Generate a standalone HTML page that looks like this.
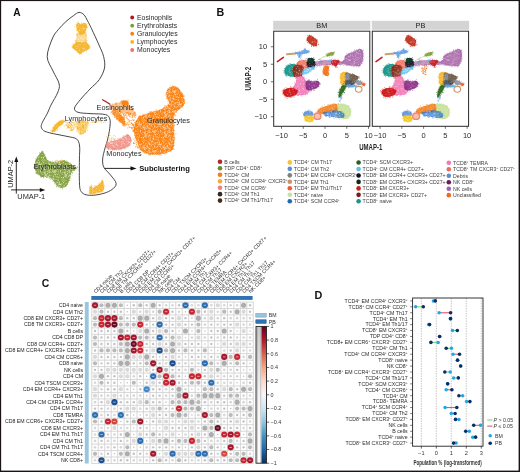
<!DOCTYPE html>
<html><head><meta charset="utf-8"><style>
html,body{margin:0;padding:0;background:#fff;}
#wrap{position:relative;width:520px;height:472px;overflow:hidden;background:#fff;}
svg{position:absolute;left:0;top:0;will-change:transform;}
svg text{font-family:"Liberation Sans", sans-serif;}
</style></head><body><div id="wrap">
<svg width="520" height="472" viewBox="0 0 520 472">
<rect x="0" y="0" width="520" height="472" fill="#fff"/>
<defs><pattern id="sp0" width="20" height="20" patternUnits="userSpaceOnUse"><g fill="#fff"><circle cx="9.05" cy="11.20" r="0.40"/><circle cx="9.31" cy="10.16" r="0.34"/><circle cx="3.69" cy="10.24" r="0.34"/><circle cx="15.86" cy="1.88" r="0.28"/><circle cx="1.81" cy="16.19" r="0.36"/><circle cx="0.84" cy="19.64" r="0.41"/><circle cx="13.08" cy="12.31" r="0.25"/><circle cx="0.30" cy="10.57" r="0.24"/><circle cx="3.80" cy="4.84" r="0.23"/><circle cx="9.28" cy="8.81" r="0.39"/><circle cx="10.38" cy="12.81" r="0.32"/><circle cx="13.25" cy="9.15" r="0.28"/><circle cx="19.95" cy="19.91" r="0.39"/><circle cx="14.16" cy="6.31" r="0.27"/><circle cx="5.78" cy="1.40" r="0.37"/><circle cx="8.01" cy="16.93" r="0.30"/><circle cx="19.16" cy="16.95" r="0.22"/><circle cx="4.19" cy="18.21" r="0.31"/><circle cx="19.61" cy="7.95" r="0.24"/><circle cx="12.59" cy="15.57" r="0.28"/><circle cx="1.74" cy="6.65" r="0.41"/><circle cx="15.16" cy="2.36" r="0.27"/><circle cx="2.02" cy="1.20" r="0.38"/><circle cx="3.55" cy="11.19" r="0.31"/><circle cx="3.81" cy="14.64" r="0.25"/><circle cx="12.87" cy="2.33" r="0.30"/><circle cx="4.26" cy="5.40" r="0.41"/><circle cx="16.07" cy="6.08" r="0.39"/><circle cx="4.21" cy="7.89" r="0.39"/><circle cx="12.84" cy="2.01" r="0.41"/><circle cx="4.26" cy="5.17" r="0.37"/><circle cx="6.58" cy="5.93" r="0.24"/><circle cx="1.80" cy="11.65" r="0.27"/><circle cx="12.03" cy="7.43" r="0.31"/><circle cx="19.18" cy="9.67" r="0.33"/><circle cx="17.33" cy="3.66" r="0.25"/><circle cx="18.17" cy="16.36" r="0.27"/><circle cx="3.80" cy="14.79" r="0.40"/><circle cx="3.93" cy="19.00" r="0.39"/><circle cx="12.07" cy="8.43" r="0.24"/><circle cx="0.77" cy="19.25" r="0.27"/><circle cx="14.09" cy="5.14" r="0.38"/><circle cx="11.93" cy="5.87" r="0.26"/><circle cx="14.41" cy="1.38" r="0.27"/><circle cx="11.19" cy="17.05" r="0.34"/><circle cx="5.60" cy="18.35" r="0.26"/><circle cx="0.33" cy="5.38" r="0.31"/><circle cx="1.21" cy="3.53" r="0.29"/><circle cx="11.44" cy="2.63" r="0.29"/><circle cx="17.82" cy="19.61" r="0.35"/><circle cx="13.82" cy="11.69" r="0.25"/><circle cx="0.70" cy="0.36" r="0.40"/><circle cx="14.02" cy="19.26" r="0.23"/><circle cx="12.72" cy="9.64" r="0.36"/><circle cx="6.38" cy="19.99" r="0.24"/><circle cx="10.92" cy="14.74" r="0.40"/><circle cx="14.74" cy="14.07" r="0.38"/><circle cx="18.30" cy="7.04" r="0.36"/><circle cx="18.02" cy="17.42" r="0.30"/><circle cx="15.81" cy="17.27" r="0.33"/><circle cx="12.50" cy="7.65" r="0.34"/><circle cx="12.18" cy="1.60" r="0.35"/><circle cx="19.87" cy="17.60" r="0.36"/><circle cx="7.77" cy="14.70" r="0.34"/><circle cx="8.81" cy="16.77" r="0.24"/><circle cx="15.00" cy="0.60" r="0.34"/><circle cx="9.62" cy="4.60" r="0.36"/><circle cx="9.95" cy="12.29" r="0.40"/><circle cx="5.12" cy="0.23" r="0.28"/><circle cx="13.56" cy="4.05" r="0.26"/></g></pattern><pattern id="sp1" width="20" height="20" patternUnits="userSpaceOnUse"><g fill="#fff"><circle cx="18.11" cy="13.20" r="0.35"/><circle cx="17.83" cy="6.54" r="0.40"/><circle cx="3.97" cy="8.62" r="0.43"/><circle cx="18.28" cy="17.61" r="0.34"/><circle cx="11.66" cy="6.33" r="0.28"/><circle cx="9.93" cy="16.74" r="0.44"/><circle cx="14.22" cy="19.00" r="0.31"/><circle cx="3.38" cy="9.01" r="0.31"/><circle cx="4.28" cy="8.28" r="0.39"/><circle cx="9.88" cy="6.31" r="0.43"/><circle cx="19.64" cy="9.05" r="0.27"/><circle cx="0.63" cy="17.46" r="0.26"/><circle cx="14.17" cy="11.41" r="0.32"/><circle cx="15.83" cy="0.38" r="0.28"/><circle cx="9.10" cy="0.49" r="0.43"/><circle cx="4.75" cy="2.82" r="0.26"/><circle cx="12.58" cy="8.93" r="0.39"/><circle cx="13.10" cy="16.15" r="0.46"/><circle cx="13.69" cy="3.99" r="0.35"/><circle cx="3.57" cy="0.22" r="0.35"/><circle cx="14.28" cy="3.58" r="0.31"/><circle cx="6.91" cy="13.95" r="0.36"/><circle cx="12.29" cy="15.12" r="0.34"/><circle cx="15.84" cy="18.12" r="0.27"/><circle cx="18.65" cy="14.45" r="0.28"/><circle cx="9.07" cy="12.51" r="0.45"/><circle cx="7.54" cy="11.38" r="0.44"/><circle cx="15.94" cy="18.89" r="0.35"/><circle cx="13.03" cy="4.10" r="0.41"/><circle cx="16.37" cy="12.83" r="0.41"/><circle cx="4.27" cy="18.00" r="0.46"/><circle cx="19.55" cy="10.74" r="0.42"/><circle cx="6.41" cy="18.20" r="0.44"/><circle cx="6.97" cy="1.66" r="0.35"/><circle cx="11.01" cy="15.36" r="0.36"/><circle cx="0.57" cy="16.18" r="0.27"/><circle cx="16.00" cy="3.46" r="0.32"/><circle cx="15.76" cy="2.81" r="0.28"/><circle cx="10.33" cy="14.47" r="0.43"/><circle cx="13.79" cy="18.91" r="0.36"/><circle cx="18.98" cy="1.72" r="0.30"/><circle cx="10.53" cy="5.80" r="0.41"/><circle cx="12.78" cy="10.46" r="0.43"/><circle cx="11.20" cy="6.23" r="0.33"/><circle cx="16.91" cy="18.01" r="0.30"/><circle cx="17.02" cy="19.37" r="0.37"/><circle cx="11.46" cy="4.02" r="0.37"/><circle cx="10.06" cy="12.10" r="0.26"/><circle cx="19.39" cy="10.32" r="0.34"/><circle cx="16.02" cy="11.26" r="0.36"/><circle cx="13.82" cy="1.32" r="0.37"/><circle cx="8.28" cy="19.14" r="0.45"/><circle cx="5.38" cy="9.46" r="0.28"/><circle cx="8.67" cy="16.31" r="0.45"/><circle cx="9.53" cy="6.34" r="0.29"/><circle cx="12.36" cy="18.51" r="0.28"/><circle cx="15.59" cy="0.46" r="0.29"/><circle cx="4.55" cy="13.74" r="0.32"/><circle cx="7.11" cy="12.40" r="0.27"/><circle cx="14.62" cy="2.46" r="0.36"/><circle cx="5.01" cy="3.95" r="0.37"/><circle cx="8.74" cy="7.51" r="0.34"/><circle cx="10.59" cy="3.19" r="0.30"/><circle cx="12.63" cy="12.77" r="0.37"/><circle cx="17.03" cy="12.23" r="0.44"/><circle cx="4.65" cy="14.82" r="0.43"/><circle cx="18.05" cy="6.32" r="0.32"/><circle cx="18.46" cy="4.36" r="0.47"/><circle cx="17.75" cy="2.68" r="0.30"/><circle cx="14.53" cy="5.19" r="0.27"/><circle cx="16.64" cy="8.43" r="0.42"/><circle cx="2.52" cy="8.06" r="0.40"/><circle cx="0.36" cy="4.02" r="0.40"/><circle cx="18.23" cy="19.37" r="0.28"/><circle cx="10.11" cy="15.16" r="0.36"/><circle cx="13.71" cy="3.78" r="0.27"/><circle cx="2.12" cy="0.75" r="0.37"/><circle cx="10.30" cy="11.37" r="0.28"/><circle cx="3.69" cy="4.08" r="0.43"/><circle cx="19.81" cy="18.54" r="0.27"/><circle cx="1.24" cy="19.03" r="0.35"/><circle cx="15.29" cy="6.54" r="0.35"/><circle cx="10.31" cy="8.60" r="0.38"/><circle cx="0.26" cy="14.02" r="0.43"/><circle cx="3.63" cy="9.08" r="0.41"/><circle cx="8.11" cy="3.90" r="0.29"/><circle cx="10.25" cy="0.31" r="0.44"/><circle cx="16.03" cy="14.09" r="0.44"/><circle cx="12.59" cy="8.09" r="0.38"/><circle cx="10.09" cy="19.65" r="0.43"/><circle cx="5.17" cy="18.23" r="0.41"/><circle cx="15.56" cy="16.29" r="0.34"/><circle cx="17.93" cy="17.60" r="0.40"/><circle cx="15.35" cy="15.30" r="0.34"/><circle cx="14.45" cy="1.41" r="0.33"/><circle cx="9.38" cy="0.21" r="0.33"/><circle cx="12.77" cy="12.48" r="0.30"/><circle cx="18.89" cy="13.32" r="0.32"/><circle cx="13.20" cy="11.39" r="0.37"/><circle cx="7.79" cy="20.00" r="0.39"/></g></pattern><pattern id="sp2" width="20" height="20" patternUnits="userSpaceOnUse"><g fill="#fff"><circle cx="14.03" cy="15.23" r="0.39"/><circle cx="0.46" cy="12.31" r="0.34"/><circle cx="5.13" cy="8.03" r="0.22"/><circle cx="3.91" cy="7.51" r="0.23"/><circle cx="5.02" cy="18.11" r="0.31"/><circle cx="10.16" cy="19.34" r="0.31"/><circle cx="19.90" cy="12.76" r="0.36"/><circle cx="1.52" cy="11.95" r="0.35"/><circle cx="0.90" cy="18.60" r="0.24"/><circle cx="9.44" cy="3.38" r="0.30"/><circle cx="12.22" cy="1.17" r="0.38"/><circle cx="8.41" cy="10.54" r="0.32"/><circle cx="7.31" cy="5.72" r="0.33"/><circle cx="11.21" cy="5.67" r="0.34"/><circle cx="5.92" cy="0.28" r="0.25"/><circle cx="0.86" cy="3.13" r="0.35"/><circle cx="7.80" cy="17.95" r="0.34"/><circle cx="1.00" cy="19.78" r="0.38"/><circle cx="1.47" cy="18.11" r="0.29"/><circle cx="9.55" cy="19.46" r="0.25"/><circle cx="10.47" cy="18.75" r="0.34"/><circle cx="9.37" cy="19.58" r="0.36"/><circle cx="12.07" cy="2.30" r="0.32"/><circle cx="9.11" cy="4.07" r="0.22"/><circle cx="10.56" cy="2.49" r="0.29"/><circle cx="13.36" cy="9.11" r="0.26"/><circle cx="11.64" cy="8.39" r="0.35"/><circle cx="10.62" cy="19.95" r="0.38"/><circle cx="14.69" cy="4.77" r="0.23"/><circle cx="17.85" cy="15.69" r="0.32"/><circle cx="7.18" cy="5.43" r="0.33"/><circle cx="11.30" cy="11.83" r="0.32"/><circle cx="15.07" cy="3.80" r="0.25"/><circle cx="19.59" cy="18.31" r="0.37"/><circle cx="0.79" cy="1.22" r="0.26"/><circle cx="8.50" cy="12.47" r="0.23"/><circle cx="10.83" cy="1.45" r="0.23"/><circle cx="13.53" cy="11.01" r="0.32"/><circle cx="7.46" cy="9.57" r="0.25"/><circle cx="6.87" cy="14.90" r="0.36"/><circle cx="1.49" cy="2.40" r="0.36"/><circle cx="12.47" cy="15.38" r="0.25"/><circle cx="8.49" cy="5.16" r="0.36"/><circle cx="7.38" cy="13.07" r="0.39"/><circle cx="6.51" cy="10.97" r="0.34"/></g></pattern><pattern id="sp3" width="20" height="20" patternUnits="userSpaceOnUse"><g fill="#fff"><circle cx="18.42" cy="8.55" r="0.37"/><circle cx="1.94" cy="17.50" r="0.30"/><circle cx="1.66" cy="11.28" r="0.40"/><circle cx="13.71" cy="5.98" r="0.47"/><circle cx="1.52" cy="4.27" r="0.44"/><circle cx="1.63" cy="6.08" r="0.45"/><circle cx="13.88" cy="5.66" r="0.31"/><circle cx="7.16" cy="14.52" r="0.37"/><circle cx="2.35" cy="14.19" r="0.42"/><circle cx="18.37" cy="18.80" r="0.50"/><circle cx="8.76" cy="16.06" r="0.35"/><circle cx="6.35" cy="7.99" r="0.50"/><circle cx="17.89" cy="4.97" r="0.37"/><circle cx="7.31" cy="7.27" r="0.37"/><circle cx="7.75" cy="3.90" r="0.42"/><circle cx="15.94" cy="10.81" r="0.48"/><circle cx="11.26" cy="3.53" r="0.46"/><circle cx="17.62" cy="5.63" r="0.29"/><circle cx="10.31" cy="10.88" r="0.42"/><circle cx="19.33" cy="13.02" r="0.47"/><circle cx="1.28" cy="10.94" r="0.47"/><circle cx="1.68" cy="1.63" r="0.46"/><circle cx="17.98" cy="1.69" r="0.43"/><circle cx="2.88" cy="14.92" r="0.44"/><circle cx="4.91" cy="4.41" r="0.46"/><circle cx="10.43" cy="15.29" r="0.37"/><circle cx="6.76" cy="19.37" r="0.44"/><circle cx="9.87" cy="10.75" r="0.45"/><circle cx="14.16" cy="18.30" r="0.38"/><circle cx="16.52" cy="13.33" r="0.48"/><circle cx="16.12" cy="16.68" r="0.49"/><circle cx="19.16" cy="12.81" r="0.41"/><circle cx="14.20" cy="16.05" r="0.38"/><circle cx="8.41" cy="2.92" r="0.46"/><circle cx="19.82" cy="7.51" r="0.32"/><circle cx="4.09" cy="8.50" r="0.35"/><circle cx="19.40" cy="1.18" r="0.35"/><circle cx="2.30" cy="12.96" r="0.47"/><circle cx="3.59" cy="1.25" r="0.39"/><circle cx="11.68" cy="18.19" r="0.29"/><circle cx="2.17" cy="3.69" r="0.33"/><circle cx="4.71" cy="14.34" r="0.42"/><circle cx="4.48" cy="3.70" r="0.35"/><circle cx="3.45" cy="15.15" r="0.35"/><circle cx="10.96" cy="16.34" r="0.40"/><circle cx="5.21" cy="17.75" r="0.50"/><circle cx="6.84" cy="10.95" r="0.51"/><circle cx="9.65" cy="4.42" r="0.29"/><circle cx="18.95" cy="16.03" r="0.37"/><circle cx="10.55" cy="10.32" r="0.35"/><circle cx="19.80" cy="13.15" r="0.34"/><circle cx="0.22" cy="9.45" r="0.37"/><circle cx="15.94" cy="14.27" r="0.43"/><circle cx="3.15" cy="3.14" r="0.36"/><circle cx="5.19" cy="17.38" r="0.40"/><circle cx="12.74" cy="19.86" r="0.34"/><circle cx="10.69" cy="3.01" r="0.46"/><circle cx="0.03" cy="16.43" r="0.48"/><circle cx="16.44" cy="1.65" r="0.34"/><circle cx="14.33" cy="1.94" r="0.40"/><circle cx="9.37" cy="19.11" r="0.42"/><circle cx="17.15" cy="6.07" r="0.47"/><circle cx="8.34" cy="18.34" r="0.30"/><circle cx="16.53" cy="4.17" r="0.41"/><circle cx="10.51" cy="3.15" r="0.48"/><circle cx="6.23" cy="6.21" r="0.30"/><circle cx="6.11" cy="9.34" r="0.45"/><circle cx="7.19" cy="13.74" r="0.31"/><circle cx="7.88" cy="9.24" r="0.51"/><circle cx="16.59" cy="13.08" r="0.28"/><circle cx="7.54" cy="14.20" r="0.34"/><circle cx="11.28" cy="9.16" r="0.28"/><circle cx="19.83" cy="15.99" r="0.33"/><circle cx="12.32" cy="5.81" r="0.37"/><circle cx="10.80" cy="5.96" r="0.36"/><circle cx="7.84" cy="13.33" r="0.34"/><circle cx="4.00" cy="14.63" r="0.36"/><circle cx="18.90" cy="11.26" r="0.45"/><circle cx="6.63" cy="16.54" r="0.30"/><circle cx="2.82" cy="1.89" r="0.44"/><circle cx="14.17" cy="3.60" r="0.38"/><circle cx="16.74" cy="11.85" r="0.30"/><circle cx="4.53" cy="3.14" r="0.31"/><circle cx="8.14" cy="1.45" r="0.50"/><circle cx="8.54" cy="10.23" r="0.44"/><circle cx="15.34" cy="16.42" r="0.37"/><circle cx="6.63" cy="8.24" r="0.28"/><circle cx="8.01" cy="14.00" r="0.52"/><circle cx="15.79" cy="13.20" r="0.43"/><circle cx="0.37" cy="6.62" r="0.36"/><circle cx="13.01" cy="2.13" r="0.37"/><circle cx="10.19" cy="15.77" r="0.48"/><circle cx="12.23" cy="3.17" r="0.46"/><circle cx="18.06" cy="10.97" r="0.36"/><circle cx="10.01" cy="2.84" r="0.45"/><circle cx="19.74" cy="10.32" r="0.45"/><circle cx="16.71" cy="3.94" r="0.51"/><circle cx="12.54" cy="3.96" r="0.30"/><circle cx="4.89" cy="11.53" r="0.45"/><circle cx="6.58" cy="18.58" r="0.37"/><circle cx="9.26" cy="2.48" r="0.51"/><circle cx="2.71" cy="18.08" r="0.41"/><circle cx="11.21" cy="11.21" r="0.34"/><circle cx="18.19" cy="19.84" r="0.48"/><circle cx="12.03" cy="2.45" r="0.48"/><circle cx="5.77" cy="17.94" r="0.34"/><circle cx="11.47" cy="16.62" r="0.32"/><circle cx="10.96" cy="1.53" r="0.29"/><circle cx="3.60" cy="19.74" r="0.51"/><circle cx="13.17" cy="6.15" r="0.44"/><circle cx="14.75" cy="7.63" r="0.42"/><circle cx="16.08" cy="0.33" r="0.33"/><circle cx="9.36" cy="2.86" r="0.37"/><circle cx="11.39" cy="3.47" r="0.40"/><circle cx="5.27" cy="11.36" r="0.36"/><circle cx="12.83" cy="0.76" r="0.44"/><circle cx="2.89" cy="19.19" r="0.42"/><circle cx="9.40" cy="8.23" r="0.43"/><circle cx="13.79" cy="15.16" r="0.46"/><circle cx="9.72" cy="19.89" r="0.48"/><circle cx="17.10" cy="8.18" r="0.38"/><circle cx="11.32" cy="18.10" r="0.41"/><circle cx="10.50" cy="8.64" r="0.50"/><circle cx="6.41" cy="1.09" r="0.45"/><circle cx="18.00" cy="14.64" r="0.42"/><circle cx="15.04" cy="6.10" r="0.42"/><circle cx="1.40" cy="2.49" r="0.39"/><circle cx="10.05" cy="7.93" r="0.29"/><circle cx="13.90" cy="10.52" r="0.34"/><circle cx="6.13" cy="7.91" r="0.34"/><circle cx="1.37" cy="18.23" r="0.51"/><circle cx="13.31" cy="17.33" r="0.38"/><circle cx="16.11" cy="4.44" r="0.46"/><circle cx="11.34" cy="18.07" r="0.30"/><circle cx="15.85" cy="2.48" r="0.41"/><circle cx="19.02" cy="0.01" r="0.34"/><circle cx="5.99" cy="6.50" r="0.30"/><circle cx="17.90" cy="16.31" r="0.38"/><circle cx="7.13" cy="11.71" r="0.29"/><circle cx="0.62" cy="17.97" r="0.35"/></g></pattern><pattern id="sp4" width="20" height="20" patternUnits="userSpaceOnUse"><g fill="#fff"><circle cx="9.97" cy="18.68" r="0.54"/><circle cx="9.45" cy="4.13" r="0.37"/><circle cx="18.45" cy="17.94" r="0.34"/><circle cx="16.76" cy="7.08" r="0.41"/><circle cx="3.44" cy="17.59" r="0.54"/><circle cx="4.04" cy="12.65" r="0.34"/><circle cx="17.60" cy="1.00" r="0.32"/><circle cx="14.52" cy="6.26" r="0.52"/><circle cx="17.39" cy="14.26" r="0.33"/><circle cx="13.92" cy="18.76" r="0.41"/><circle cx="1.58" cy="4.46" r="0.37"/><circle cx="14.21" cy="3.93" r="0.34"/><circle cx="4.71" cy="13.29" r="0.49"/><circle cx="7.45" cy="13.24" r="0.52"/><circle cx="11.80" cy="4.58" r="0.37"/><circle cx="18.53" cy="13.34" r="0.36"/><circle cx="12.80" cy="1.80" r="0.54"/><circle cx="8.81" cy="10.57" r="0.43"/><circle cx="0.91" cy="11.99" r="0.37"/><circle cx="5.02" cy="16.06" r="0.32"/><circle cx="5.70" cy="15.11" r="0.36"/><circle cx="5.58" cy="10.96" r="0.34"/><circle cx="17.94" cy="19.75" r="0.30"/><circle cx="9.23" cy="15.01" r="0.39"/><circle cx="18.59" cy="10.00" r="0.34"/><circle cx="11.12" cy="12.90" r="0.38"/><circle cx="13.17" cy="15.66" r="0.42"/><circle cx="10.11" cy="16.91" r="0.47"/><circle cx="10.41" cy="19.03" r="0.34"/><circle cx="15.59" cy="3.30" r="0.45"/><circle cx="4.71" cy="8.81" r="0.49"/><circle cx="15.73" cy="15.82" r="0.35"/><circle cx="9.78" cy="4.42" r="0.44"/><circle cx="9.98" cy="0.71" r="0.44"/><circle cx="14.29" cy="11.45" r="0.51"/><circle cx="3.60" cy="3.04" r="0.30"/><circle cx="9.92" cy="8.69" r="0.41"/><circle cx="5.26" cy="15.97" r="0.31"/><circle cx="18.15" cy="11.38" r="0.43"/><circle cx="15.83" cy="4.76" r="0.33"/><circle cx="6.22" cy="0.85" r="0.37"/><circle cx="12.42" cy="10.51" r="0.36"/><circle cx="11.77" cy="1.77" r="0.50"/><circle cx="3.43" cy="5.10" r="0.33"/><circle cx="13.81" cy="16.62" r="0.49"/><circle cx="1.22" cy="8.21" r="0.39"/><circle cx="4.33" cy="19.41" r="0.30"/><circle cx="9.79" cy="15.23" r="0.54"/><circle cx="2.89" cy="9.11" r="0.48"/><circle cx="0.78" cy="4.81" r="0.52"/><circle cx="2.83" cy="7.86" r="0.37"/><circle cx="8.49" cy="1.53" r="0.30"/><circle cx="19.92" cy="15.27" r="0.48"/><circle cx="4.60" cy="5.06" r="0.43"/><circle cx="4.83" cy="9.23" r="0.53"/><circle cx="7.28" cy="6.74" r="0.54"/><circle cx="12.22" cy="0.79" r="0.40"/><circle cx="13.00" cy="1.17" r="0.38"/><circle cx="13.89" cy="17.29" r="0.44"/><circle cx="17.73" cy="9.25" r="0.39"/><circle cx="16.86" cy="7.62" r="0.49"/><circle cx="4.31" cy="6.95" r="0.34"/><circle cx="10.99" cy="3.28" r="0.35"/><circle cx="4.29" cy="9.35" r="0.37"/><circle cx="8.94" cy="19.87" r="0.47"/><circle cx="17.25" cy="4.09" r="0.39"/><circle cx="1.46" cy="13.83" r="0.39"/><circle cx="5.49" cy="0.37" r="0.34"/><circle cx="5.25" cy="7.86" r="0.53"/><circle cx="14.30" cy="5.37" r="0.38"/><circle cx="3.07" cy="18.73" r="0.38"/><circle cx="15.31" cy="14.47" r="0.52"/><circle cx="0.41" cy="6.44" r="0.39"/><circle cx="1.66" cy="17.65" r="0.38"/><circle cx="15.41" cy="10.39" r="0.31"/><circle cx="7.88" cy="4.77" r="0.30"/><circle cx="3.02" cy="11.91" r="0.30"/><circle cx="6.25" cy="8.48" r="0.43"/><circle cx="2.72" cy="14.13" r="0.36"/><circle cx="14.51" cy="13.32" r="0.33"/><circle cx="4.10" cy="5.61" r="0.47"/><circle cx="8.11" cy="7.73" r="0.51"/><circle cx="4.52" cy="5.84" r="0.38"/><circle cx="4.32" cy="0.81" r="0.30"/><circle cx="12.61" cy="11.32" r="0.50"/><circle cx="19.51" cy="5.96" r="0.46"/><circle cx="18.38" cy="4.32" r="0.47"/><circle cx="13.33" cy="19.10" r="0.51"/><circle cx="4.69" cy="12.65" r="0.32"/><circle cx="8.55" cy="7.85" r="0.31"/><circle cx="7.67" cy="6.56" r="0.42"/><circle cx="5.60" cy="3.17" r="0.40"/><circle cx="9.50" cy="3.33" r="0.46"/><circle cx="4.80" cy="1.86" r="0.38"/><circle cx="8.45" cy="3.02" r="0.44"/><circle cx="14.03" cy="11.06" r="0.47"/><circle cx="0.46" cy="7.83" r="0.39"/><circle cx="1.26" cy="8.09" r="0.31"/><circle cx="9.91" cy="11.72" r="0.41"/><circle cx="6.51" cy="5.07" r="0.30"/><circle cx="6.94" cy="17.84" r="0.44"/><circle cx="5.24" cy="13.36" r="0.34"/><circle cx="9.38" cy="12.31" r="0.53"/><circle cx="7.25" cy="11.52" r="0.53"/><circle cx="15.43" cy="12.55" r="0.45"/><circle cx="8.22" cy="8.31" r="0.36"/><circle cx="16.59" cy="17.59" r="0.39"/><circle cx="18.19" cy="0.76" r="0.33"/><circle cx="10.14" cy="6.17" r="0.38"/><circle cx="19.54" cy="3.00" r="0.34"/><circle cx="4.57" cy="13.60" r="0.35"/><circle cx="0.02" cy="10.88" r="0.39"/><circle cx="4.79" cy="9.87" r="0.46"/><circle cx="10.96" cy="12.49" r="0.44"/><circle cx="16.62" cy="19.38" r="0.38"/><circle cx="6.93" cy="17.73" r="0.37"/><circle cx="14.32" cy="13.91" r="0.47"/><circle cx="19.28" cy="16.49" r="0.33"/><circle cx="12.43" cy="9.81" r="0.44"/><circle cx="7.39" cy="5.71" r="0.48"/><circle cx="10.68" cy="4.74" r="0.36"/><circle cx="6.50" cy="3.56" r="0.42"/><circle cx="2.52" cy="1.26" r="0.31"/><circle cx="2.04" cy="14.10" r="0.32"/><circle cx="9.03" cy="15.44" r="0.42"/><circle cx="3.25" cy="17.33" r="0.51"/><circle cx="1.07" cy="5.08" r="0.42"/><circle cx="15.93" cy="7.85" r="0.47"/><circle cx="5.04" cy="14.31" r="0.38"/><circle cx="6.68" cy="15.19" r="0.51"/><circle cx="16.57" cy="11.35" r="0.40"/><circle cx="14.14" cy="12.46" r="0.50"/><circle cx="16.02" cy="2.50" r="0.39"/><circle cx="13.39" cy="4.62" r="0.34"/><circle cx="0.27" cy="11.71" r="0.53"/><circle cx="19.41" cy="2.67" r="0.47"/><circle cx="8.39" cy="12.63" r="0.39"/><circle cx="18.67" cy="19.78" r="0.31"/><circle cx="14.27" cy="2.37" r="0.30"/><circle cx="5.72" cy="14.62" r="0.54"/><circle cx="2.40" cy="6.60" r="0.30"/><circle cx="10.85" cy="9.66" r="0.39"/><circle cx="6.18" cy="16.01" r="0.51"/><circle cx="5.67" cy="7.83" r="0.45"/><circle cx="15.31" cy="19.62" r="0.39"/><circle cx="13.88" cy="10.92" r="0.50"/><circle cx="2.94" cy="3.50" r="0.32"/><circle cx="18.67" cy="5.03" r="0.42"/><circle cx="2.41" cy="6.47" r="0.30"/><circle cx="11.32" cy="2.87" r="0.45"/><circle cx="5.48" cy="4.55" r="0.42"/><circle cx="7.32" cy="5.19" r="0.31"/><circle cx="1.29" cy="17.85" r="0.37"/><circle cx="1.57" cy="3.65" r="0.42"/><circle cx="19.94" cy="4.04" r="0.51"/><circle cx="9.69" cy="8.29" r="0.50"/><circle cx="7.92" cy="1.15" r="0.43"/><circle cx="13.14" cy="12.46" r="0.36"/><circle cx="18.78" cy="17.29" r="0.54"/><circle cx="8.86" cy="16.67" r="0.48"/><circle cx="3.52" cy="0.54" r="0.34"/><circle cx="2.38" cy="1.49" r="0.38"/><circle cx="15.07" cy="6.20" r="0.42"/><circle cx="0.21" cy="4.20" r="0.54"/><circle cx="0.22" cy="10.55" r="0.50"/><circle cx="15.85" cy="14.71" r="0.39"/><circle cx="16.06" cy="16.55" r="0.49"/><circle cx="19.72" cy="2.02" r="0.53"/><circle cx="8.05" cy="14.11" r="0.36"/><circle cx="18.19" cy="0.47" r="0.44"/><circle cx="4.54" cy="7.77" r="0.39"/><circle cx="13.14" cy="16.22" r="0.39"/><circle cx="12.76" cy="7.08" r="0.36"/><circle cx="18.10" cy="6.43" r="0.32"/><circle cx="6.70" cy="14.83" r="0.35"/><circle cx="14.86" cy="10.92" r="0.47"/><circle cx="3.55" cy="2.12" r="0.33"/><circle cx="7.01" cy="8.61" r="0.30"/><circle cx="10.05" cy="8.07" r="0.38"/><circle cx="10.74" cy="19.05" r="0.35"/><circle cx="17.61" cy="6.42" r="0.48"/><circle cx="2.17" cy="19.75" r="0.40"/><circle cx="19.25" cy="4.39" r="0.40"/><circle cx="14.12" cy="3.56" r="0.36"/><circle cx="13.54" cy="18.95" r="0.38"/><circle cx="3.67" cy="7.14" r="0.54"/><circle cx="2.96" cy="12.69" r="0.39"/><circle cx="12.88" cy="4.25" r="0.45"/><circle cx="17.75" cy="17.13" r="0.45"/><circle cx="10.10" cy="11.35" r="0.32"/><circle cx="16.75" cy="13.80" r="0.41"/><circle cx="13.31" cy="8.39" r="0.39"/><circle cx="4.60" cy="12.01" r="0.44"/><circle cx="10.30" cy="0.64" r="0.45"/><circle cx="8.94" cy="11.87" r="0.44"/><circle cx="18.63" cy="3.04" r="0.41"/><circle cx="19.86" cy="14.76" r="0.37"/><circle cx="14.74" cy="19.79" r="0.40"/><circle cx="17.35" cy="2.53" r="0.54"/><circle cx="9.82" cy="4.68" r="0.51"/><circle cx="12.98" cy="18.75" r="0.50"/><circle cx="15.95" cy="10.23" r="0.54"/><circle cx="1.30" cy="17.40" r="0.47"/><circle cx="5.01" cy="16.14" r="0.41"/><circle cx="10.73" cy="17.31" r="0.34"/><circle cx="5.59" cy="12.87" r="0.31"/><circle cx="11.10" cy="15.74" r="0.42"/><circle cx="4.84" cy="16.00" r="0.51"/><circle cx="15.42" cy="10.99" r="0.52"/><circle cx="15.94" cy="3.04" r="0.39"/><circle cx="2.01" cy="0.74" r="0.38"/><circle cx="17.30" cy="16.68" r="0.32"/><circle cx="3.63" cy="7.77" r="0.51"/><circle cx="12.34" cy="18.04" r="0.31"/><circle cx="19.76" cy="4.13" r="0.45"/><circle cx="17.53" cy="14.55" r="0.34"/><circle cx="13.37" cy="8.62" r="0.30"/><circle cx="6.79" cy="6.31" r="0.45"/><circle cx="5.57" cy="12.06" r="0.47"/><circle cx="3.61" cy="2.56" r="0.47"/><circle cx="9.33" cy="2.58" r="0.32"/><circle cx="18.82" cy="12.20" r="0.38"/><circle cx="3.92" cy="19.90" r="0.47"/><circle cx="14.73" cy="7.21" r="0.37"/><circle cx="8.17" cy="2.93" r="0.45"/><circle cx="8.49" cy="16.40" r="0.40"/><circle cx="9.14" cy="10.13" r="0.53"/><circle cx="6.93" cy="14.07" r="0.35"/><circle cx="11.59" cy="5.70" r="0.51"/><circle cx="5.73" cy="17.09" r="0.46"/></g></pattern></defs>
<text x="13.3" y="15.6" font-size="10.2" font-weight="bold" fill="#111">A</text><path d="M79.00,12.40 C80.75,12.27 82.57,13.38 84.00,14.80 C85.43,16.22 86.33,18.57 87.60,20.90 C88.87,23.23 89.70,24.78 91.60,28.80 C93.50,32.82 97.00,40.38 99.00,45.00 C101.00,49.62 102.68,52.67 103.60,56.50 C104.52,60.33 105.22,64.15 104.50,68.00 C103.78,71.85 101.72,76.10 99.30,79.60 C96.88,83.10 93.13,85.68 90.00,89.00 C86.87,92.32 83.08,96.33 80.50,99.50 C77.92,102.67 74.92,105.87 74.50,108.00 C74.08,110.13 75.42,111.37 78.00,112.30 C80.58,113.23 85.40,113.22 90.00,113.60 C94.60,113.98 102.30,113.70 105.60,114.60 C108.90,115.50 109.07,117.10 109.80,119.00 C110.53,120.90 110.30,122.83 110.00,126.00 C109.70,129.17 108.95,133.87 108.00,138.00 C107.05,142.13 105.20,147.13 104.30,150.80 C103.40,154.47 102.65,157.22 102.60,160.00 C102.55,162.78 102.68,165.00 104.00,167.50 C105.32,170.00 108.47,172.33 110.50,175.00 C112.53,177.67 115.95,181.08 116.20,183.50 C116.45,185.92 114.03,187.87 112.00,189.50 C109.97,191.13 107.00,192.35 104.00,193.30 C101.00,194.25 97.00,194.95 94.00,195.20 C91.00,195.45 88.13,195.40 86.00,194.80 C83.87,194.20 82.28,193.40 81.20,191.60 C80.12,189.80 79.80,189.27 79.50,184.00 C79.20,178.73 79.38,166.33 79.40,160.00 C79.42,153.67 80.07,149.50 79.60,146.00 C79.13,142.50 78.53,140.57 76.60,139.00 C74.67,137.43 71.10,137.33 68.00,136.60 C64.90,135.87 61.08,135.23 58.00,134.60 C54.92,133.97 51.90,133.47 49.50,132.80 C47.10,132.13 44.98,131.60 43.60,130.60 C42.22,129.60 41.42,128.15 41.20,126.80 C40.98,125.45 41.80,123.80 42.30,122.50 C42.80,121.20 43.33,120.58 44.20,119.00 C45.07,117.42 46.28,115.50 47.50,113.00 C48.72,110.50 49.83,107.33 51.50,104.00 C53.17,100.67 56.22,96.33 57.50,93.00 C58.78,89.67 59.95,87.67 59.20,84.00 C58.45,80.33 55.00,75.58 53.00,71.00 C51.00,66.42 47.27,62.00 47.20,56.50 C47.13,51.00 50.73,42.50 52.60,38.00 C54.47,33.50 56.17,32.25 58.40,29.50 C60.63,26.75 63.48,23.82 66.00,21.50 C68.52,19.18 71.33,17.12 73.50,15.60 C75.67,14.08 77.25,12.53 79.00,12.40Z" fill="none" stroke="#333" stroke-width="0.9"/><path d="M76.40,24.50 C76.73,23.67 77.73,23.00 78.50,23.00 C79.27,23.00 80.25,24.47 81.00,24.50 C81.75,24.53 82.17,23.37 83.00,23.20 C83.83,23.03 85.33,23.03 86.00,23.50 C86.67,23.97 87.00,24.92 87.00,26.00 C87.00,27.08 86.42,28.75 86.00,30.00 C85.58,31.25 85.17,32.67 84.50,33.50 C83.83,34.33 82.83,34.92 82.00,35.00 C81.17,35.08 80.25,34.67 79.50,34.00 C78.75,33.33 78.00,32.00 77.50,31.00 C77.00,30.00 76.68,29.08 76.50,28.00 C76.32,26.92 76.07,25.33 76.40,24.50Z" fill="#f6b222" fill-opacity="0.92"/><path d="M76.40,24.50 C76.73,23.67 77.73,23.00 78.50,23.00 C79.27,23.00 80.25,24.47 81.00,24.50 C81.75,24.53 82.17,23.37 83.00,23.20 C83.83,23.03 85.33,23.03 86.00,23.50 C86.67,23.97 87.00,24.92 87.00,26.00 C87.00,27.08 86.42,28.75 86.00,30.00 C85.58,31.25 85.17,32.67 84.50,33.50 C83.83,34.33 82.83,34.92 82.00,35.00 C81.17,35.08 80.25,34.67 79.50,34.00 C78.75,33.33 78.00,32.00 77.50,31.00 C77.00,30.00 76.68,29.08 76.50,28.00 C76.32,26.92 76.07,25.33 76.40,24.50Z" fill="url(#sp1)" fill-opacity="0.8"/><g fill="#f6b222" fill-opacity="0.85"><circle cx="87.0" cy="25.5" r="0.28"/><circle cx="84.9" cy="32.3" r="0.36"/><circle cx="77.3" cy="23.8" r="0.28"/><circle cx="86.6" cy="27.9" r="0.31"/><circle cx="83.7" cy="34.2" r="0.34"/><circle cx="77.8" cy="25.8" r="0.32"/><circle cx="81.4" cy="24.9" r="0.42"/><circle cx="81.2" cy="23.3" r="0.34"/><circle cx="85.1" cy="32.6" r="0.31"/><circle cx="80.5" cy="34.9" r="0.38"/><circle cx="85.8" cy="30.4" r="0.40"/><circle cx="83.5" cy="22.9" r="0.43"/><circle cx="79.0" cy="35.8" r="0.29"/><circle cx="86.5" cy="27.6" r="0.36"/><circle cx="77.0" cy="22.6" r="0.37"/><circle cx="76.4" cy="30.1" r="0.38"/><circle cx="83.1" cy="33.9" r="0.45"/><circle cx="85.9" cy="29.8" r="0.40"/><circle cx="83.5" cy="34.8" r="0.32"/><circle cx="86.7" cy="26.7" r="0.35"/><circle cx="81.8" cy="24.2" r="0.41"/><circle cx="80.4" cy="24.9" r="0.43"/><circle cx="78.0" cy="23.5" r="0.43"/><circle cx="77.9" cy="30.7" r="0.34"/><circle cx="88.3" cy="24.7" r="0.29"/><circle cx="82.0" cy="24.4" r="0.36"/><circle cx="84.1" cy="33.8" r="0.35"/><circle cx="85.4" cy="25.5" r="0.40"/><circle cx="84.6" cy="30.7" r="0.28"/><circle cx="76.8" cy="26.8" r="0.42"/><circle cx="86.5" cy="27.2" r="0.39"/><circle cx="78.7" cy="23.3" r="0.30"/><circle cx="86.7" cy="25.2" r="0.29"/><circle cx="79.4" cy="23.7" r="0.43"/><circle cx="83.6" cy="34.7" r="0.33"/><circle cx="88.0" cy="27.0" r="0.45"/><circle cx="85.8" cy="29.8" r="0.29"/><circle cx="86.6" cy="26.6" r="0.30"/><circle cx="77.9" cy="23.7" r="0.29"/><circle cx="85.8" cy="32.5" r="0.45"/><circle cx="76.8" cy="29.0" r="0.34"/><circle cx="81.7" cy="23.2" r="0.41"/><circle cx="86.7" cy="26.1" r="0.45"/><circle cx="77.6" cy="28.7" r="0.41"/><circle cx="82.9" cy="23.2" r="0.27"/><circle cx="77.2" cy="24.4" r="0.40"/><circle cx="74.9" cy="26.7" r="0.45"/><circle cx="76.1" cy="26.6" r="0.31"/><circle cx="82.8" cy="24.4" r="0.44"/><circle cx="76.3" cy="30.5" r="0.42"/><circle cx="78.2" cy="22.0" r="0.41"/><circle cx="78.6" cy="33.3" r="0.42"/><circle cx="87.2" cy="23.2" r="0.34"/><circle cx="87.7" cy="27.0" r="0.30"/><circle cx="81.2" cy="25.4" r="0.42"/><circle cx="81.9" cy="22.7" r="0.39"/><circle cx="86.5" cy="25.4" r="0.27"/><circle cx="75.9" cy="24.9" r="0.44"/><circle cx="87.3" cy="27.6" r="0.31"/><circle cx="84.4" cy="23.9" r="0.38"/><circle cx="84.5" cy="23.6" r="0.44"/><circle cx="86.0" cy="25.9" r="0.44"/><circle cx="87.2" cy="27.7" r="0.37"/><circle cx="86.0" cy="31.8" r="0.30"/><circle cx="76.7" cy="24.0" r="0.36"/><circle cx="78.9" cy="33.8" r="0.36"/><circle cx="84.9" cy="32.5" r="0.37"/><circle cx="84.2" cy="24.5" r="0.36"/><circle cx="84.8" cy="31.5" r="0.35"/><circle cx="82.5" cy="34.2" r="0.40"/><circle cx="85.4" cy="29.1" r="0.44"/><circle cx="81.6" cy="33.2" r="0.32"/><circle cx="86.0" cy="32.5" r="0.29"/><circle cx="79.9" cy="24.1" r="0.31"/><circle cx="78.0" cy="22.0" r="0.44"/><circle cx="81.0" cy="23.3" r="0.29"/><circle cx="77.3" cy="28.7" r="0.45"/><circle cx="84.6" cy="27.4" r="0.42"/><circle cx="80.7" cy="24.6" r="0.33"/></g><path d="M77.00,33.50 C78.50,32.75 83.92,32.75 85.50,33.50 C87.08,34.25 86.33,36.42 86.50,38.00 C86.67,39.58 88.25,42.17 86.50,43.00 C84.75,43.83 77.67,43.83 76.00,43.00 C74.33,42.17 76.33,39.58 76.50,38.00 C76.67,36.42 75.50,34.25 77.00,33.50Z" fill="#f6b222" fill-opacity="0.50"/><path d="M77.00,33.50 C78.50,32.75 83.92,32.75 85.50,33.50 C87.08,34.25 86.33,36.42 86.50,38.00 C86.67,39.58 88.25,42.17 86.50,43.00 C84.75,43.83 77.67,43.83 76.00,43.00 C74.33,42.17 76.33,39.58 76.50,38.00 C76.67,36.42 75.50,34.25 77.00,33.50Z" fill="url(#sp3)" fill-opacity="0.8"/><g fill="#f6b222" fill-opacity="0.85"><circle cx="84.0" cy="34.5" r="0.27"/><circle cx="83.3" cy="43.0" r="0.33"/><circle cx="80.5" cy="43.0" r="0.45"/><circle cx="76.5" cy="41.5" r="0.32"/><circle cx="78.6" cy="33.0" r="0.29"/><circle cx="87.6" cy="40.3" r="0.32"/><circle cx="83.5" cy="33.1" r="0.40"/><circle cx="81.4" cy="33.9" r="0.35"/><circle cx="80.7" cy="33.1" r="0.42"/><circle cx="80.4" cy="33.3" r="0.43"/><circle cx="86.0" cy="43.0" r="0.44"/><circle cx="86.5" cy="35.8" r="0.31"/><circle cx="81.3" cy="33.7" r="0.30"/><circle cx="85.8" cy="37.9" r="0.32"/><circle cx="85.8" cy="43.6" r="0.27"/><circle cx="86.9" cy="34.6" r="0.37"/><circle cx="82.6" cy="33.8" r="0.29"/><circle cx="75.5" cy="40.7" r="0.42"/><circle cx="85.4" cy="39.8" r="0.45"/><circle cx="87.0" cy="37.0" r="0.39"/><circle cx="86.4" cy="40.5" r="0.29"/><circle cx="79.7" cy="33.0" r="0.30"/><circle cx="81.0" cy="32.3" r="0.39"/><circle cx="86.0" cy="36.3" r="0.35"/><circle cx="82.5" cy="33.7" r="0.45"/><circle cx="76.4" cy="34.4" r="0.45"/><circle cx="86.2" cy="36.8" r="0.34"/><circle cx="86.0" cy="43.0" r="0.36"/><circle cx="77.2" cy="33.8" r="0.34"/><circle cx="79.2" cy="33.6" r="0.31"/><circle cx="81.1" cy="42.8" r="0.39"/><circle cx="77.8" cy="42.5" r="0.33"/><circle cx="77.6" cy="35.0" r="0.39"/><circle cx="79.4" cy="32.2" r="0.39"/><circle cx="76.8" cy="42.6" r="0.37"/><circle cx="86.0" cy="41.9" r="0.42"/><circle cx="83.1" cy="42.3" r="0.40"/><circle cx="85.9" cy="33.8" r="0.33"/><circle cx="81.5" cy="32.7" r="0.39"/><circle cx="80.4" cy="42.3" r="0.27"/><circle cx="76.2" cy="40.3" r="0.37"/><circle cx="80.5" cy="43.5" r="0.31"/><circle cx="79.7" cy="34.6" r="0.30"/><circle cx="77.2" cy="42.9" r="0.34"/><circle cx="85.8" cy="41.9" r="0.38"/><circle cx="80.4" cy="43.2" r="0.31"/><circle cx="75.9" cy="43.9" r="0.27"/><circle cx="79.2" cy="34.5" r="0.40"/><circle cx="78.6" cy="43.8" r="0.35"/><circle cx="87.6" cy="43.7" r="0.30"/><circle cx="77.0" cy="34.3" r="0.35"/><circle cx="77.0" cy="40.2" r="0.32"/><circle cx="85.5" cy="33.3" r="0.38"/><circle cx="80.7" cy="33.2" r="0.29"/><circle cx="74.8" cy="40.2" r="0.40"/><circle cx="86.2" cy="33.3" r="0.27"/><circle cx="76.4" cy="33.5" r="0.32"/><circle cx="82.0" cy="34.0" r="0.43"/><circle cx="77.1" cy="32.2" r="0.29"/><circle cx="76.3" cy="34.8" r="0.32"/><circle cx="84.5" cy="40.7" r="0.38"/><circle cx="86.0" cy="38.9" r="0.28"/><circle cx="81.2" cy="33.0" r="0.44"/><circle cx="85.6" cy="35.3" r="0.30"/><circle cx="87.9" cy="38.7" r="0.42"/><circle cx="82.0" cy="42.1" r="0.37"/><circle cx="78.2" cy="43.3" r="0.35"/><circle cx="75.7" cy="42.4" r="0.28"/><circle cx="77.2" cy="36.8" r="0.33"/><circle cx="86.0" cy="34.4" r="0.32"/></g><path d="M75.00,43.50 C76.07,42.75 77.33,42.08 78.50,42.00 C79.67,41.92 80.75,42.92 82.00,43.00 C83.25,43.08 84.92,42.25 86.00,42.50 C87.08,42.75 87.87,43.68 88.50,44.50 C89.13,45.32 90.05,46.48 89.80,47.40 C89.55,48.32 88.13,49.23 87.00,50.00 C85.87,50.77 84.20,51.32 83.00,52.00 C81.80,52.68 80.80,54.18 79.80,54.10 C78.80,54.02 77.97,52.35 77.00,51.50 C76.03,50.65 74.82,49.83 74.00,49.00 C73.18,48.17 71.93,47.42 72.10,46.50 C72.27,45.58 73.93,44.25 75.00,43.50Z" fill="#f6b222" fill-opacity="0.92"/><path d="M75.00,43.50 C76.07,42.75 77.33,42.08 78.50,42.00 C79.67,41.92 80.75,42.92 82.00,43.00 C83.25,43.08 84.92,42.25 86.00,42.50 C87.08,42.75 87.87,43.68 88.50,44.50 C89.13,45.32 90.05,46.48 89.80,47.40 C89.55,48.32 88.13,49.23 87.00,50.00 C85.87,50.77 84.20,51.32 83.00,52.00 C81.80,52.68 80.80,54.18 79.80,54.10 C78.80,54.02 77.97,52.35 77.00,51.50 C76.03,50.65 74.82,49.83 74.00,49.00 C73.18,48.17 71.93,47.42 72.10,46.50 C72.27,45.58 73.93,44.25 75.00,43.50Z" fill="url(#sp1)" fill-opacity="0.8"/><g fill="#f6b222" fill-opacity="0.85"><circle cx="79.9" cy="54.7" r="0.34"/><circle cx="82.3" cy="43.4" r="0.44"/><circle cx="86.7" cy="51.8" r="0.46"/><circle cx="88.3" cy="49.4" r="0.28"/><circle cx="89.2" cy="45.4" r="0.32"/><circle cx="84.3" cy="51.0" r="0.34"/><circle cx="88.6" cy="47.8" r="0.33"/><circle cx="77.3" cy="44.2" r="0.29"/><circle cx="85.2" cy="49.4" r="0.31"/><circle cx="86.6" cy="43.7" r="0.35"/><circle cx="74.4" cy="43.8" r="0.27"/><circle cx="76.0" cy="41.5" r="0.36"/><circle cx="83.5" cy="52.2" r="0.44"/><circle cx="75.6" cy="47.9" r="0.31"/><circle cx="80.0" cy="43.0" r="0.40"/><circle cx="73.0" cy="44.4" r="0.41"/><circle cx="87.6" cy="49.2" r="0.41"/><circle cx="85.9" cy="42.1" r="0.32"/><circle cx="80.4" cy="43.5" r="0.40"/><circle cx="80.5" cy="42.7" r="0.38"/><circle cx="89.8" cy="48.0" r="0.27"/><circle cx="85.9" cy="44.2" r="0.39"/><circle cx="72.2" cy="47.4" r="0.31"/><circle cx="73.6" cy="44.2" r="0.27"/><circle cx="86.0" cy="49.7" r="0.31"/><circle cx="80.2" cy="53.8" r="0.27"/><circle cx="87.8" cy="45.5" r="0.30"/><circle cx="75.3" cy="49.3" r="0.30"/><circle cx="73.6" cy="45.7" r="0.31"/><circle cx="84.5" cy="42.1" r="0.45"/><circle cx="86.6" cy="50.7" r="0.35"/><circle cx="80.2" cy="54.0" r="0.34"/><circle cx="84.5" cy="42.7" r="0.28"/><circle cx="76.3" cy="43.4" r="0.43"/><circle cx="79.2" cy="52.0" r="0.33"/><circle cx="84.0" cy="42.4" r="0.27"/><circle cx="79.4" cy="54.5" r="0.33"/><circle cx="82.7" cy="43.0" r="0.33"/><circle cx="74.9" cy="46.2" r="0.31"/><circle cx="89.6" cy="44.6" r="0.35"/><circle cx="76.4" cy="42.7" r="0.44"/><circle cx="82.3" cy="44.0" r="0.27"/><circle cx="89.8" cy="46.7" r="0.27"/><circle cx="77.9" cy="43.5" r="0.31"/><circle cx="77.6" cy="51.2" r="0.32"/><circle cx="73.3" cy="44.5" r="0.40"/><circle cx="88.2" cy="44.3" r="0.41"/><circle cx="71.3" cy="45.0" r="0.27"/><circle cx="83.3" cy="42.9" r="0.45"/><circle cx="89.6" cy="47.7" r="0.36"/><circle cx="73.3" cy="47.0" r="0.41"/><circle cx="74.6" cy="48.5" r="0.33"/><circle cx="87.5" cy="45.2" r="0.28"/><circle cx="83.4" cy="42.3" r="0.28"/><circle cx="75.8" cy="42.7" r="0.45"/><circle cx="73.3" cy="47.3" r="0.28"/><circle cx="77.9" cy="42.2" r="0.35"/><circle cx="84.2" cy="43.1" r="0.39"/><circle cx="77.7" cy="50.7" r="0.29"/><circle cx="73.7" cy="49.8" r="0.34"/><circle cx="77.6" cy="52.4" r="0.31"/><circle cx="82.2" cy="42.2" r="0.33"/><circle cx="90.6" cy="47.3" r="0.31"/><circle cx="73.8" cy="48.1" r="0.29"/><circle cx="87.8" cy="48.6" r="0.44"/><circle cx="76.6" cy="43.1" r="0.30"/><circle cx="72.8" cy="43.6" r="0.34"/><circle cx="72.7" cy="48.1" r="0.41"/><circle cx="74.0" cy="45.8" r="0.38"/><circle cx="84.1" cy="43.0" r="0.30"/><circle cx="85.2" cy="41.9" r="0.30"/><circle cx="75.0" cy="44.2" r="0.30"/><circle cx="88.4" cy="45.3" r="0.37"/><circle cx="78.2" cy="42.8" r="0.37"/><circle cx="81.2" cy="53.7" r="0.40"/><circle cx="89.2" cy="48.4" r="0.45"/><circle cx="87.4" cy="43.8" r="0.35"/><circle cx="73.9" cy="48.0" r="0.30"/><circle cx="77.8" cy="52.3" r="0.44"/><circle cx="89.2" cy="47.6" r="0.43"/><circle cx="87.7" cy="49.5" r="0.37"/><circle cx="81.0" cy="53.3" r="0.38"/><circle cx="88.9" cy="46.3" r="0.32"/><circle cx="85.7" cy="50.6" r="0.36"/><circle cx="75.6" cy="49.8" r="0.29"/><circle cx="74.0" cy="45.2" r="0.28"/><circle cx="71.5" cy="46.9" r="0.38"/><circle cx="75.1" cy="50.4" r="0.31"/><circle cx="90.3" cy="46.6" r="0.30"/><circle cx="83.7" cy="43.2" r="0.34"/><circle cx="80.2" cy="43.6" r="0.44"/><circle cx="75.6" cy="42.3" r="0.27"/><circle cx="74.7" cy="49.6" r="0.37"/><circle cx="81.0" cy="53.8" r="0.38"/><circle cx="88.4" cy="47.6" r="0.35"/><circle cx="75.4" cy="42.5" r="0.31"/><circle cx="76.7" cy="50.4" r="0.30"/><circle cx="87.6" cy="50.0" r="0.35"/><circle cx="78.0" cy="42.4" r="0.27"/><circle cx="81.9" cy="53.9" r="0.41"/><circle cx="86.6" cy="50.9" r="0.34"/><circle cx="74.4" cy="46.1" r="0.46"/><circle cx="77.8" cy="51.7" r="0.45"/><circle cx="88.1" cy="49.8" r="0.30"/></g><path d="M52.00,131.50 C51.92,130.67 52.67,128.42 53.50,127.00 C54.33,125.58 55.67,124.12 57.00,123.00 C58.33,121.88 60.25,120.67 61.50,120.30 C62.75,119.93 64.17,120.35 64.50,120.80 C64.83,121.25 64.33,122.13 63.50,123.00 C62.67,123.87 60.67,124.92 59.50,126.00 C58.33,127.08 57.42,128.50 56.50,129.50 C55.58,130.50 54.75,131.67 54.00,132.00 C53.25,132.33 52.08,132.33 52.00,131.50Z" fill="#f6b222" fill-opacity="0.92"/><path d="M52.00,131.50 C51.92,130.67 52.67,128.42 53.50,127.00 C54.33,125.58 55.67,124.12 57.00,123.00 C58.33,121.88 60.25,120.67 61.50,120.30 C62.75,119.93 64.17,120.35 64.50,120.80 C64.83,121.25 64.33,122.13 63.50,123.00 C62.67,123.87 60.67,124.92 59.50,126.00 C58.33,127.08 57.42,128.50 56.50,129.50 C55.58,130.50 54.75,131.67 54.00,132.00 C53.25,132.33 52.08,132.33 52.00,131.50Z" fill="url(#sp0)" fill-opacity="0.8"/><g fill="#f6b222" fill-opacity="0.85"><circle cx="58.0" cy="127.9" r="0.33"/><circle cx="59.4" cy="128.3" r="0.32"/><circle cx="57.7" cy="129.4" r="0.44"/><circle cx="55.2" cy="125.8" r="0.33"/><circle cx="52.6" cy="130.6" r="0.44"/><circle cx="60.9" cy="125.0" r="0.42"/><circle cx="52.3" cy="127.4" r="0.33"/><circle cx="54.9" cy="129.9" r="0.43"/><circle cx="54.2" cy="127.9" r="0.34"/><circle cx="57.4" cy="130.4" r="0.38"/><circle cx="59.6" cy="120.8" r="0.30"/><circle cx="60.1" cy="127.1" r="0.31"/><circle cx="62.6" cy="124.2" r="0.39"/><circle cx="58.2" cy="122.4" r="0.29"/><circle cx="61.6" cy="124.2" r="0.44"/><circle cx="53.6" cy="128.0" r="0.27"/><circle cx="51.8" cy="131.7" r="0.33"/><circle cx="54.9" cy="124.0" r="0.30"/><circle cx="61.8" cy="124.1" r="0.44"/><circle cx="56.3" cy="124.2" r="0.39"/><circle cx="56.0" cy="129.5" r="0.32"/><circle cx="51.6" cy="130.4" r="0.33"/><circle cx="60.0" cy="125.0" r="0.41"/><circle cx="56.4" cy="123.7" r="0.37"/><circle cx="60.9" cy="120.9" r="0.41"/><circle cx="50.6" cy="130.6" r="0.29"/><circle cx="54.5" cy="124.6" r="0.39"/><circle cx="57.5" cy="129.2" r="0.32"/><circle cx="53.5" cy="129.1" r="0.40"/><circle cx="52.7" cy="130.3" r="0.35"/><circle cx="58.4" cy="126.8" r="0.29"/><circle cx="56.5" cy="124.4" r="0.41"/><circle cx="60.7" cy="124.6" r="0.32"/><circle cx="62.7" cy="122.7" r="0.37"/><circle cx="55.5" cy="122.0" r="0.31"/><circle cx="56.1" cy="130.5" r="0.31"/><circle cx="59.9" cy="126.4" r="0.33"/><circle cx="55.3" cy="130.9" r="0.44"/><circle cx="61.6" cy="123.2" r="0.45"/><circle cx="63.6" cy="119.6" r="0.43"/><circle cx="61.8" cy="119.5" r="0.32"/><circle cx="55.2" cy="124.6" r="0.44"/><circle cx="54.1" cy="126.7" r="0.44"/><circle cx="59.1" cy="121.9" r="0.27"/><circle cx="59.5" cy="124.7" r="0.41"/><circle cx="52.2" cy="128.9" r="0.42"/><circle cx="57.3" cy="128.7" r="0.43"/><circle cx="55.0" cy="131.2" r="0.31"/><circle cx="54.6" cy="128.0" r="0.42"/><circle cx="62.3" cy="123.3" r="0.32"/><circle cx="54.1" cy="128.8" r="0.30"/><circle cx="58.1" cy="122.3" r="0.31"/><circle cx="56.9" cy="122.3" r="0.33"/><circle cx="51.9" cy="131.8" r="0.38"/><circle cx="51.7" cy="130.8" r="0.41"/><circle cx="58.8" cy="120.9" r="0.31"/><circle cx="57.1" cy="130.7" r="0.30"/><circle cx="52.4" cy="132.6" r="0.45"/><circle cx="51.2" cy="131.4" r="0.42"/><circle cx="54.1" cy="125.6" r="0.42"/><circle cx="57.1" cy="123.3" r="0.31"/><circle cx="59.6" cy="125.6" r="0.39"/><circle cx="53.2" cy="127.7" r="0.42"/><circle cx="61.6" cy="124.7" r="0.34"/><circle cx="56.6" cy="131.4" r="0.27"/><circle cx="55.1" cy="126.5" r="0.36"/><circle cx="60.5" cy="120.8" r="0.35"/><circle cx="64.2" cy="120.3" r="0.39"/><circle cx="58.9" cy="122.1" r="0.43"/><circle cx="61.0" cy="124.4" r="0.35"/><circle cx="57.8" cy="127.4" r="0.35"/><circle cx="55.5" cy="131.0" r="0.32"/><circle cx="60.1" cy="125.4" r="0.30"/><circle cx="55.8" cy="124.6" r="0.30"/><circle cx="59.2" cy="123.9" r="0.40"/><circle cx="53.5" cy="127.9" r="0.34"/><circle cx="52.9" cy="130.5" r="0.35"/><circle cx="54.8" cy="125.0" r="0.31"/><circle cx="61.0" cy="121.1" r="0.42"/><circle cx="59.2" cy="125.5" r="0.35"/><circle cx="53.2" cy="126.3" r="0.41"/><circle cx="54.1" cy="131.5" r="0.41"/><circle cx="61.5" cy="121.5" r="0.43"/><circle cx="57.7" cy="126.3" r="0.40"/></g><g fill="#f6b222" fill-opacity="0.90"><circle cx="71.6" cy="125.5" r="0.43"/><circle cx="71.4" cy="122.0" r="0.45"/><circle cx="73.7" cy="128.1" r="0.51"/><circle cx="65.8" cy="125.2" r="0.46"/><circle cx="71.3" cy="125.1" r="0.52"/><circle cx="76.0" cy="122.8" r="0.51"/><circle cx="73.7" cy="124.9" r="0.47"/><circle cx="76.6" cy="121.4" r="0.49"/><circle cx="76.1" cy="126.2" r="0.38"/><circle cx="70.6" cy="126.4" r="0.53"/><circle cx="69.7" cy="127.4" r="0.56"/><circle cx="69.8" cy="125.1" r="0.59"/><circle cx="67.9" cy="128.6" r="0.38"/><circle cx="76.8" cy="124.6" r="0.36"/><circle cx="66.1" cy="125.0" r="0.35"/><circle cx="68.3" cy="125.2" r="0.52"/><circle cx="67.3" cy="123.7" r="0.41"/><circle cx="69.9" cy="123.2" r="0.55"/><circle cx="67.9" cy="123.1" r="0.38"/><circle cx="73.6" cy="129.1" r="0.51"/><circle cx="69.0" cy="126.6" r="0.41"/><circle cx="76.5" cy="124.5" r="0.51"/><circle cx="69.0" cy="123.9" r="0.49"/><circle cx="66.0" cy="124.8" r="0.41"/><circle cx="68.4" cy="122.9" r="0.35"/><circle cx="72.8" cy="123.8" r="0.41"/><circle cx="66.5" cy="125.8" r="0.46"/><circle cx="71.6" cy="127.6" r="0.44"/><circle cx="71.5" cy="121.1" r="0.35"/><circle cx="65.8" cy="122.0" r="0.39"/><circle cx="67.2" cy="122.5" r="0.58"/><circle cx="73.9" cy="122.7" r="0.57"/><circle cx="71.1" cy="128.8" r="0.52"/><circle cx="74.6" cy="123.0" r="0.52"/><circle cx="70.0" cy="128.4" r="0.46"/><circle cx="75.2" cy="126.6" r="0.42"/><circle cx="65.5" cy="122.4" r="0.47"/><circle cx="64.2" cy="125.9" r="0.47"/><circle cx="70.1" cy="129.6" r="0.35"/><circle cx="74.6" cy="125.7" r="0.49"/><circle cx="72.0" cy="129.4" r="0.44"/><circle cx="71.5" cy="121.3" r="0.50"/><circle cx="72.2" cy="130.3" r="0.43"/><circle cx="76.7" cy="126.1" r="0.47"/><circle cx="75.5" cy="121.3" r="0.53"/><circle cx="71.4" cy="124.4" r="0.57"/><circle cx="67.5" cy="125.7" r="0.48"/><circle cx="73.6" cy="123.1" r="0.46"/><circle cx="68.3" cy="126.5" r="0.56"/><circle cx="68.1" cy="126.0" r="0.42"/><circle cx="71.8" cy="128.9" r="0.43"/><circle cx="66.8" cy="124.0" r="0.50"/><circle cx="71.5" cy="128.8" r="0.36"/><circle cx="72.8" cy="129.9" r="0.49"/><circle cx="75.8" cy="127.1" r="0.51"/><circle cx="71.2" cy="127.2" r="0.51"/><circle cx="72.4" cy="127.0" r="0.52"/><circle cx="68.9" cy="128.6" r="0.38"/><circle cx="64.7" cy="121.4" r="0.54"/><circle cx="73.8" cy="126.6" r="0.41"/><circle cx="66.5" cy="125.2" r="0.43"/><circle cx="68.5" cy="127.4" r="0.58"/><circle cx="62.6" cy="122.2" r="0.55"/><circle cx="70.6" cy="130.2" r="0.46"/><circle cx="70.9" cy="130.4" r="0.60"/><circle cx="69.1" cy="125.1" r="0.38"/><circle cx="71.7" cy="123.1" r="0.39"/><circle cx="62.2" cy="121.0" r="0.52"/><circle cx="63.9" cy="121.2" r="0.53"/><circle cx="64.8" cy="121.5" r="0.54"/><circle cx="72.7" cy="129.6" r="0.53"/><circle cx="72.6" cy="125.6" r="0.58"/><circle cx="72.8" cy="121.1" r="0.35"/><circle cx="71.8" cy="129.2" r="0.37"/><circle cx="66.7" cy="128.3" r="0.39"/><circle cx="74.9" cy="125.9" r="0.36"/><circle cx="67.5" cy="126.7" r="0.46"/><circle cx="72.2" cy="122.4" r="0.55"/><circle cx="67.4" cy="127.4" r="0.51"/><circle cx="68.3" cy="124.9" r="0.55"/><circle cx="70.5" cy="123.9" r="0.37"/><circle cx="74.4" cy="124.3" r="0.50"/><circle cx="71.0" cy="124.1" r="0.46"/><circle cx="75.3" cy="124.8" r="0.52"/><circle cx="71.0" cy="130.0" r="0.55"/><circle cx="66.2" cy="121.0" r="0.42"/><circle cx="68.3" cy="126.9" r="0.55"/><circle cx="75.3" cy="121.4" r="0.56"/><circle cx="70.6" cy="123.7" r="0.56"/><circle cx="74.1" cy="127.8" r="0.58"/></g><path d="M77.00,121.50 C77.75,120.00 80.12,121.00 82.00,121.00 C83.88,121.00 87.38,120.67 88.30,121.50 C89.22,122.33 87.88,124.58 87.50,126.00 C87.12,127.42 86.58,128.75 86.00,130.00 C85.42,131.25 85.00,132.83 84.00,133.50 C83.00,134.17 81.08,134.58 80.00,134.00 C78.92,133.42 78.00,132.08 77.50,130.00 C77.00,127.92 76.25,123.00 77.00,121.50Z" fill="#f6b222" fill-opacity="0.55"/><path d="M77.00,121.50 C77.75,120.00 80.12,121.00 82.00,121.00 C83.88,121.00 87.38,120.67 88.30,121.50 C89.22,122.33 87.88,124.58 87.50,126.00 C87.12,127.42 86.58,128.75 86.00,130.00 C85.42,131.25 85.00,132.83 84.00,133.50 C83.00,134.17 81.08,134.58 80.00,134.00 C78.92,133.42 78.00,132.08 77.50,130.00 C77.00,127.92 76.25,123.00 77.00,121.50Z" fill="url(#sp3)" fill-opacity="0.8"/><g fill="#f6b222" fill-opacity="0.85"><circle cx="88.5" cy="124.9" r="0.42"/><circle cx="85.3" cy="119.6" r="0.31"/><circle cx="82.7" cy="132.9" r="0.31"/><circle cx="87.5" cy="120.2" r="0.35"/><circle cx="81.0" cy="120.0" r="0.31"/><circle cx="85.2" cy="132.5" r="0.37"/><circle cx="85.8" cy="129.4" r="0.30"/><circle cx="84.3" cy="120.6" r="0.37"/><circle cx="86.8" cy="126.7" r="0.27"/><circle cx="76.8" cy="121.9" r="0.39"/><circle cx="78.2" cy="131.0" r="0.33"/><circle cx="85.5" cy="131.2" r="0.45"/><circle cx="76.4" cy="127.1" r="0.32"/><circle cx="76.3" cy="131.3" r="0.41"/><circle cx="78.0" cy="128.9" r="0.27"/><circle cx="85.4" cy="121.5" r="0.28"/><circle cx="85.1" cy="132.0" r="0.45"/><circle cx="78.1" cy="125.6" r="0.34"/><circle cx="82.5" cy="120.9" r="0.37"/><circle cx="82.7" cy="133.5" r="0.34"/><circle cx="87.5" cy="130.0" r="0.45"/><circle cx="86.7" cy="121.5" r="0.33"/><circle cx="78.3" cy="124.8" r="0.27"/><circle cx="77.4" cy="129.3" r="0.45"/><circle cx="80.0" cy="122.2" r="0.44"/><circle cx="79.9" cy="134.9" r="0.41"/><circle cx="81.1" cy="121.5" r="0.29"/><circle cx="86.3" cy="130.2" r="0.29"/><circle cx="81.2" cy="134.1" r="0.30"/><circle cx="78.9" cy="121.1" r="0.44"/><circle cx="77.6" cy="126.8" r="0.35"/><circle cx="82.2" cy="120.5" r="0.39"/><circle cx="85.8" cy="129.8" r="0.36"/><circle cx="82.5" cy="134.1" r="0.28"/><circle cx="78.9" cy="132.7" r="0.43"/><circle cx="87.7" cy="121.7" r="0.32"/><circle cx="77.2" cy="128.5" r="0.36"/><circle cx="88.3" cy="123.1" r="0.45"/><circle cx="80.2" cy="120.6" r="0.31"/><circle cx="86.0" cy="130.2" r="0.30"/><circle cx="90.1" cy="125.1" r="0.44"/><circle cx="80.7" cy="122.5" r="0.28"/><circle cx="78.5" cy="134.3" r="0.27"/><circle cx="77.3" cy="129.8" r="0.27"/><circle cx="77.0" cy="128.4" r="0.35"/><circle cx="77.4" cy="126.0" r="0.29"/><circle cx="84.6" cy="120.1" r="0.30"/><circle cx="81.1" cy="121.7" r="0.36"/><circle cx="88.6" cy="122.4" r="0.40"/><circle cx="77.1" cy="129.1" r="0.28"/><circle cx="77.9" cy="132.8" r="0.28"/><circle cx="76.8" cy="130.5" r="0.43"/><circle cx="87.4" cy="130.4" r="0.36"/><circle cx="77.3" cy="127.2" r="0.42"/><circle cx="88.0" cy="125.9" r="0.38"/><circle cx="76.4" cy="121.4" r="0.36"/><circle cx="81.7" cy="119.7" r="0.43"/><circle cx="87.8" cy="122.8" r="0.41"/><circle cx="80.7" cy="120.0" r="0.36"/><circle cx="84.6" cy="130.8" r="0.27"/><circle cx="77.2" cy="123.3" r="0.29"/><circle cx="87.4" cy="121.3" r="0.28"/><circle cx="79.7" cy="133.5" r="0.38"/><circle cx="83.1" cy="133.1" r="0.29"/><circle cx="77.3" cy="126.7" r="0.29"/><circle cx="85.3" cy="130.2" r="0.29"/><circle cx="87.8" cy="127.6" r="0.43"/><circle cx="82.0" cy="120.6" r="0.30"/><circle cx="78.1" cy="128.4" r="0.35"/><circle cx="76.7" cy="128.0" r="0.44"/><circle cx="77.6" cy="131.1" r="0.33"/><circle cx="88.0" cy="127.9" r="0.44"/><circle cx="77.6" cy="129.0" r="0.36"/><circle cx="77.6" cy="123.0" r="0.35"/><circle cx="81.4" cy="134.4" r="0.28"/><circle cx="86.6" cy="127.9" r="0.29"/><circle cx="77.3" cy="121.1" r="0.39"/><circle cx="78.6" cy="128.4" r="0.27"/><circle cx="81.5" cy="134.8" r="0.32"/><circle cx="85.7" cy="131.6" r="0.31"/><circle cx="83.7" cy="131.9" r="0.32"/><circle cx="87.9" cy="122.5" r="0.38"/><circle cx="76.6" cy="123.3" r="0.35"/><circle cx="85.2" cy="132.0" r="0.29"/><circle cx="87.7" cy="122.6" r="0.31"/></g><g fill="#f6b222" fill-opacity="0.90"><circle cx="78.0" cy="128.1" r="0.56"/><circle cx="83.9" cy="128.4" r="0.51"/><circle cx="79.3" cy="130.2" r="0.47"/><circle cx="83.2" cy="129.0" r="0.47"/><circle cx="80.5" cy="124.1" r="0.41"/><circle cx="82.8" cy="126.0" r="0.50"/><circle cx="86.7" cy="124.1" r="0.49"/><circle cx="82.6" cy="124.7" r="0.60"/><circle cx="80.3" cy="131.0" r="0.39"/><circle cx="82.0" cy="121.8" r="0.45"/><circle cx="82.0" cy="130.6" r="0.38"/><circle cx="85.3" cy="123.0" r="0.43"/><circle cx="81.0" cy="129.8" r="0.50"/><circle cx="82.9" cy="130.6" r="0.54"/><circle cx="85.6" cy="127.2" r="0.55"/><circle cx="83.6" cy="127.5" r="0.59"/><circle cx="83.5" cy="126.4" r="0.55"/><circle cx="81.3" cy="126.9" r="0.46"/><circle cx="85.2" cy="124.8" r="0.45"/><circle cx="83.3" cy="126.0" r="0.43"/><circle cx="82.6" cy="126.8" r="0.40"/><circle cx="80.4" cy="122.9" r="0.49"/><circle cx="83.6" cy="122.1" r="0.58"/><circle cx="80.7" cy="132.0" r="0.56"/><circle cx="87.8" cy="123.7" r="0.46"/><circle cx="77.5" cy="128.3" r="0.47"/><circle cx="82.8" cy="127.7" r="0.52"/><circle cx="81.4" cy="125.7" r="0.50"/><circle cx="81.0" cy="133.3" r="0.52"/><circle cx="82.9" cy="122.3" r="0.44"/><circle cx="81.5" cy="128.3" r="0.49"/><circle cx="82.5" cy="126.7" r="0.51"/><circle cx="83.0" cy="131.6" r="0.39"/><circle cx="80.6" cy="133.7" r="0.56"/><circle cx="82.8" cy="122.4" r="0.57"/><circle cx="84.8" cy="131.7" r="0.60"/><circle cx="87.0" cy="126.5" r="0.39"/><circle cx="80.3" cy="127.7" r="0.48"/><circle cx="79.1" cy="123.4" r="0.51"/><circle cx="83.8" cy="125.6" r="0.60"/><circle cx="84.2" cy="121.6" r="0.45"/><circle cx="85.9" cy="125.0" r="0.52"/><circle cx="86.5" cy="128.6" r="0.52"/><circle cx="79.2" cy="127.5" r="0.49"/><circle cx="80.0" cy="129.4" r="0.48"/><circle cx="81.6" cy="122.6" r="0.39"/><circle cx="85.6" cy="122.4" r="0.38"/><circle cx="78.9" cy="127.8" r="0.56"/><circle cx="83.9" cy="131.5" r="0.37"/><circle cx="80.6" cy="130.3" r="0.44"/><circle cx="78.9" cy="124.5" r="0.37"/><circle cx="80.9" cy="126.8" r="0.45"/><circle cx="83.6" cy="133.5" r="0.46"/><circle cx="84.0" cy="124.2" r="0.36"/><circle cx="80.6" cy="132.7" r="0.55"/><circle cx="80.4" cy="128.8" r="0.59"/><circle cx="82.6" cy="133.3" r="0.41"/><circle cx="81.4" cy="130.3" r="0.41"/><circle cx="80.5" cy="132.4" r="0.47"/><circle cx="86.0" cy="124.2" r="0.39"/></g><g fill="#f6b222" fill-opacity="0.90"><circle cx="96.3" cy="122.0" r="0.45"/><circle cx="104.3" cy="121.4" r="0.45"/><circle cx="95.9" cy="121.3" r="0.45"/><circle cx="92.9" cy="121.3" r="0.45"/><circle cx="96.9" cy="121.7" r="0.45"/><circle cx="105.5" cy="122.5" r="0.45"/><circle cx="96.1" cy="122.1" r="0.45"/><circle cx="100.9" cy="122.2" r="0.45"/><circle cx="99.2" cy="121.8" r="0.45"/><circle cx="96.0" cy="120.7" r="0.45"/><circle cx="103.7" cy="122.5" r="0.45"/><circle cx="103.3" cy="121.9" r="0.45"/><circle cx="100.8" cy="121.0" r="0.45"/><circle cx="90.4" cy="122.0" r="0.45"/><circle cx="100.4" cy="120.9" r="0.45"/><circle cx="93.9" cy="122.5" r="0.45"/><circle cx="92.0" cy="122.5" r="0.45"/><circle cx="101.5" cy="122.9" r="0.45"/><circle cx="94.2" cy="121.5" r="0.45"/><circle cx="95.5" cy="121.7" r="0.45"/><circle cx="97.6" cy="120.8" r="0.45"/><circle cx="105.2" cy="120.8" r="0.45"/><circle cx="95.6" cy="122.0" r="0.45"/><circle cx="95.4" cy="121.1" r="0.45"/><circle cx="101.4" cy="121.1" r="0.45"/><circle cx="91.7" cy="121.4" r="0.45"/><circle cx="97.9" cy="122.8" r="0.45"/><circle cx="92.9" cy="122.3" r="0.45"/><circle cx="93.9" cy="121.2" r="0.45"/><circle cx="96.7" cy="121.8" r="0.45"/></g><path d="M89.50,193.50 C89.13,192.50 89.55,189.25 89.80,188.00 C90.05,186.75 90.47,186.00 91.00,186.00 C91.53,186.00 92.33,187.92 93.00,188.00 C93.67,188.08 94.25,186.92 95.00,186.50 C95.75,186.08 96.75,186.00 97.50,185.50 C98.25,185.00 98.83,184.17 99.50,183.50 C100.17,182.83 100.93,182.08 101.50,181.50 C102.07,180.92 102.55,179.58 102.90,180.00 C103.25,180.42 103.42,182.58 103.60,184.00 C103.78,185.42 104.27,187.25 104.00,188.50 C103.73,189.75 103.17,190.75 102.00,191.50 C100.83,192.25 98.67,192.58 97.00,193.00 C95.33,193.42 93.25,193.92 92.00,194.00 C90.75,194.08 89.87,194.50 89.50,193.50Z" fill="#f6b222" fill-opacity="0.92"/><path d="M89.50,193.50 C89.13,192.50 89.55,189.25 89.80,188.00 C90.05,186.75 90.47,186.00 91.00,186.00 C91.53,186.00 92.33,187.92 93.00,188.00 C93.67,188.08 94.25,186.92 95.00,186.50 C95.75,186.08 96.75,186.00 97.50,185.50 C98.25,185.00 98.83,184.17 99.50,183.50 C100.17,182.83 100.93,182.08 101.50,181.50 C102.07,180.92 102.55,179.58 102.90,180.00 C103.25,180.42 103.42,182.58 103.60,184.00 C103.78,185.42 104.27,187.25 104.00,188.50 C103.73,189.75 103.17,190.75 102.00,191.50 C100.83,192.25 98.67,192.58 97.00,193.00 C95.33,193.42 93.25,193.92 92.00,194.00 C90.75,194.08 89.87,194.50 89.50,193.50Z" fill="url(#sp1)" fill-opacity="0.8"/><g fill="#f6b222" fill-opacity="0.85"><circle cx="91.9" cy="186.0" r="0.39"/><circle cx="89.2" cy="188.0" r="0.36"/><circle cx="96.7" cy="186.3" r="0.31"/><circle cx="90.0" cy="186.9" r="0.34"/><circle cx="94.1" cy="192.2" r="0.43"/><circle cx="90.2" cy="187.4" r="0.40"/><circle cx="103.5" cy="189.2" r="0.39"/><circle cx="103.0" cy="191.4" r="0.33"/><circle cx="104.0" cy="187.2" r="0.44"/><circle cx="102.0" cy="191.3" r="0.27"/><circle cx="91.2" cy="186.6" r="0.34"/><circle cx="89.2" cy="192.5" r="0.30"/><circle cx="96.1" cy="192.5" r="0.31"/><circle cx="101.0" cy="181.2" r="0.27"/><circle cx="97.5" cy="192.3" r="0.27"/><circle cx="96.3" cy="193.0" r="0.31"/><circle cx="89.9" cy="187.6" r="0.44"/><circle cx="102.3" cy="192.3" r="0.34"/><circle cx="101.7" cy="191.2" r="0.28"/><circle cx="90.6" cy="194.7" r="0.40"/><circle cx="102.3" cy="190.7" r="0.35"/><circle cx="89.4" cy="190.2" r="0.36"/><circle cx="93.8" cy="194.7" r="0.27"/><circle cx="103.1" cy="189.7" r="0.37"/><circle cx="90.4" cy="193.1" r="0.31"/><circle cx="89.2" cy="191.2" r="0.30"/><circle cx="97.5" cy="186.6" r="0.39"/><circle cx="93.8" cy="188.3" r="0.35"/><circle cx="92.2" cy="194.4" r="0.43"/><circle cx="89.9" cy="186.6" r="0.42"/><circle cx="103.5" cy="182.6" r="0.39"/><circle cx="102.6" cy="185.8" r="0.42"/><circle cx="89.7" cy="188.6" r="0.31"/><circle cx="89.6" cy="191.0" r="0.40"/><circle cx="102.2" cy="181.7" r="0.36"/><circle cx="98.9" cy="184.5" r="0.27"/><circle cx="89.9" cy="193.3" r="0.40"/><circle cx="90.1" cy="193.6" r="0.36"/><circle cx="101.5" cy="182.6" r="0.27"/><circle cx="92.7" cy="193.0" r="0.44"/><circle cx="104.0" cy="188.6" r="0.29"/><circle cx="89.8" cy="190.8" r="0.32"/><circle cx="91.0" cy="185.8" r="0.44"/><circle cx="91.5" cy="185.0" r="0.41"/><circle cx="98.0" cy="186.7" r="0.33"/><circle cx="98.3" cy="183.8" r="0.42"/><circle cx="94.7" cy="187.6" r="0.39"/><circle cx="97.7" cy="191.2" r="0.45"/><circle cx="102.6" cy="180.5" r="0.32"/><circle cx="104.6" cy="185.1" r="0.30"/><circle cx="101.8" cy="181.4" r="0.27"/><circle cx="101.8" cy="182.6" r="0.27"/><circle cx="97.8" cy="192.0" r="0.35"/><circle cx="95.1" cy="185.6" r="0.35"/><circle cx="97.0" cy="185.5" r="0.42"/><circle cx="94.4" cy="194.1" r="0.35"/><circle cx="103.3" cy="184.1" r="0.28"/><circle cx="95.6" cy="186.0" r="0.44"/><circle cx="97.7" cy="192.9" r="0.38"/><circle cx="99.4" cy="192.9" r="0.38"/><circle cx="94.6" cy="185.3" r="0.36"/><circle cx="103.7" cy="188.4" r="0.43"/><circle cx="90.0" cy="193.1" r="0.35"/><circle cx="89.4" cy="188.8" r="0.38"/><circle cx="99.7" cy="182.2" r="0.34"/><circle cx="90.4" cy="189.3" r="0.37"/><circle cx="90.1" cy="187.6" r="0.28"/><circle cx="103.3" cy="183.0" r="0.37"/><circle cx="93.0" cy="187.6" r="0.36"/><circle cx="104.3" cy="185.3" r="0.28"/><circle cx="102.0" cy="180.9" r="0.40"/><circle cx="102.6" cy="193.2" r="0.40"/><circle cx="90.1" cy="187.9" r="0.30"/><circle cx="90.3" cy="193.4" r="0.29"/><circle cx="100.6" cy="192.3" r="0.34"/><circle cx="89.1" cy="192.5" r="0.32"/><circle cx="101.4" cy="191.0" r="0.38"/><circle cx="94.2" cy="192.7" r="0.43"/><circle cx="91.2" cy="185.6" r="0.41"/><circle cx="103.6" cy="189.0" r="0.34"/><circle cx="103.0" cy="191.2" r="0.27"/><circle cx="104.5" cy="186.2" r="0.42"/><circle cx="90.7" cy="187.5" r="0.31"/><circle cx="90.8" cy="187.5" r="0.38"/><circle cx="90.1" cy="188.0" r="0.42"/><circle cx="91.3" cy="186.6" r="0.40"/><circle cx="100.3" cy="184.7" r="0.37"/><circle cx="103.8" cy="188.1" r="0.27"/><circle cx="98.5" cy="185.6" r="0.43"/><circle cx="99.4" cy="192.5" r="0.42"/><circle cx="102.9" cy="189.7" r="0.30"/><circle cx="95.8" cy="193.9" r="0.38"/><circle cx="89.5" cy="190.2" r="0.44"/><circle cx="104.1" cy="185.1" r="0.33"/><circle cx="101.7" cy="180.3" r="0.33"/><circle cx="89.0" cy="192.9" r="0.27"/><circle cx="102.3" cy="180.9" r="0.29"/><circle cx="103.7" cy="189.4" r="0.36"/><circle cx="93.9" cy="186.4" r="0.45"/></g><path d="M41.80,151.40 C43.05,150.52 43.13,152.10 44.00,153.50 C44.87,154.90 45.78,158.38 47.00,159.80 C48.22,161.22 49.52,161.63 51.30,162.00 C53.08,162.37 55.75,162.18 57.70,162.00 C59.65,161.82 61.23,160.90 63.00,160.90 C64.77,160.90 66.72,161.12 68.30,162.00 C69.88,162.88 71.10,165.23 72.50,166.20 C73.90,167.17 76.35,167.27 76.70,167.80 C77.05,168.33 75.48,168.62 74.60,169.40 C73.72,170.18 72.28,170.73 71.40,172.50 C70.52,174.27 70.18,177.70 69.30,180.00 C68.42,182.30 67.33,184.98 66.10,186.30 C64.87,187.62 63.30,187.90 61.90,187.90 C60.50,187.90 59.12,187.45 57.70,186.30 C56.28,185.15 54.82,182.58 53.40,181.00 C51.98,179.42 51.13,177.50 49.20,176.80 C47.27,176.10 43.92,177.52 41.80,176.80 C39.68,176.08 37.73,174.27 36.50,172.50 C35.27,170.73 34.40,168.48 34.40,166.20 C34.40,163.92 35.27,161.27 36.50,158.80 C37.73,156.33 40.55,152.28 41.80,151.40Z" fill="#76962a" fill-opacity="0.88"/><path d="M41.80,151.40 C43.05,150.52 43.13,152.10 44.00,153.50 C44.87,154.90 45.78,158.38 47.00,159.80 C48.22,161.22 49.52,161.63 51.30,162.00 C53.08,162.37 55.75,162.18 57.70,162.00 C59.65,161.82 61.23,160.90 63.00,160.90 C64.77,160.90 66.72,161.12 68.30,162.00 C69.88,162.88 71.10,165.23 72.50,166.20 C73.90,167.17 76.35,167.27 76.70,167.80 C77.05,168.33 75.48,168.62 74.60,169.40 C73.72,170.18 72.28,170.73 71.40,172.50 C70.52,174.27 70.18,177.70 69.30,180.00 C68.42,182.30 67.33,184.98 66.10,186.30 C64.87,187.62 63.30,187.90 61.90,187.90 C60.50,187.90 59.12,187.45 57.70,186.30 C56.28,185.15 54.82,182.58 53.40,181.00 C51.98,179.42 51.13,177.50 49.20,176.80 C47.27,176.10 43.92,177.52 41.80,176.80 C39.68,176.08 37.73,174.27 36.50,172.50 C35.27,170.73 34.40,168.48 34.40,166.20 C34.40,163.92 35.27,161.27 36.50,158.80 C37.73,156.33 40.55,152.28 41.80,151.40Z" fill="url(#sp4)" fill-opacity="0.8"/><g fill="#76962a" fill-opacity="0.85"><circle cx="42.1" cy="152.4" r="0.41"/><circle cx="34.8" cy="164.3" r="0.39"/><circle cx="74.5" cy="170.5" r="0.43"/><circle cx="37.1" cy="157.0" r="0.41"/><circle cx="42.8" cy="176.7" r="0.33"/><circle cx="62.4" cy="187.8" r="0.33"/><circle cx="75.2" cy="166.9" r="0.34"/><circle cx="66.5" cy="162.3" r="0.29"/><circle cx="43.0" cy="151.5" r="0.35"/><circle cx="60.4" cy="187.8" r="0.28"/><circle cx="71.6" cy="166.8" r="0.37"/><circle cx="36.4" cy="159.0" r="0.38"/><circle cx="47.4" cy="160.5" r="0.45"/><circle cx="75.5" cy="168.1" r="0.43"/><circle cx="44.8" cy="158.5" r="0.32"/><circle cx="68.5" cy="162.0" r="0.32"/><circle cx="48.3" cy="177.5" r="0.30"/><circle cx="57.6" cy="184.6" r="0.30"/><circle cx="45.4" cy="176.6" r="0.28"/><circle cx="37.1" cy="172.2" r="0.29"/><circle cx="58.3" cy="161.3" r="0.39"/><circle cx="36.5" cy="159.8" r="0.41"/><circle cx="52.4" cy="181.5" r="0.33"/><circle cx="45.6" cy="157.3" r="0.38"/><circle cx="74.8" cy="167.5" r="0.31"/><circle cx="70.9" cy="180.1" r="0.37"/><circle cx="41.8" cy="153.0" r="0.40"/><circle cx="75.4" cy="167.4" r="0.29"/><circle cx="41.8" cy="176.6" r="0.35"/><circle cx="63.2" cy="186.6" r="0.39"/><circle cx="56.5" cy="186.5" r="0.31"/><circle cx="47.4" cy="175.6" r="0.32"/><circle cx="40.9" cy="175.4" r="0.32"/><circle cx="66.1" cy="186.3" r="0.27"/><circle cx="67.9" cy="180.4" r="0.33"/><circle cx="41.2" cy="153.6" r="0.28"/><circle cx="44.3" cy="154.1" r="0.36"/><circle cx="62.8" cy="189.3" r="0.34"/><circle cx="55.5" cy="163.0" r="0.44"/><circle cx="57.7" cy="162.2" r="0.31"/><circle cx="39.5" cy="153.2" r="0.33"/><circle cx="36.9" cy="173.5" r="0.44"/><circle cx="49.9" cy="161.1" r="0.39"/><circle cx="71.5" cy="172.5" r="0.37"/><circle cx="72.6" cy="172.8" r="0.39"/><circle cx="64.1" cy="161.7" r="0.35"/><circle cx="65.3" cy="162.4" r="0.39"/><circle cx="72.3" cy="165.4" r="0.37"/><circle cx="56.8" cy="160.9" r="0.32"/><circle cx="42.6" cy="176.3" r="0.33"/><circle cx="68.4" cy="182.2" r="0.40"/><circle cx="56.5" cy="186.1" r="0.43"/><circle cx="62.8" cy="160.6" r="0.41"/><circle cx="35.0" cy="167.6" r="0.46"/><circle cx="72.0" cy="165.4" r="0.45"/><circle cx="43.0" cy="152.0" r="0.41"/><circle cx="49.4" cy="161.7" r="0.28"/><circle cx="77.2" cy="167.1" r="0.43"/><circle cx="40.8" cy="153.6" r="0.42"/><circle cx="50.6" cy="177.6" r="0.31"/><circle cx="70.5" cy="176.2" r="0.45"/><circle cx="73.9" cy="166.4" r="0.36"/><circle cx="52.9" cy="162.2" r="0.40"/><circle cx="54.7" cy="161.2" r="0.29"/><circle cx="74.1" cy="168.6" r="0.33"/><circle cx="64.4" cy="160.6" r="0.40"/><circle cx="69.8" cy="163.7" r="0.28"/><circle cx="44.3" cy="155.5" r="0.37"/><circle cx="75.9" cy="169.3" r="0.39"/><circle cx="62.3" cy="187.0" r="0.45"/><circle cx="34.6" cy="164.4" r="0.33"/><circle cx="71.5" cy="174.6" r="0.34"/><circle cx="72.6" cy="175.6" r="0.27"/><circle cx="57.0" cy="184.6" r="0.38"/><circle cx="73.5" cy="170.9" r="0.29"/><circle cx="35.6" cy="167.2" r="0.28"/><circle cx="48.9" cy="177.9" r="0.37"/><circle cx="73.5" cy="166.6" r="0.41"/><circle cx="33.9" cy="167.4" r="0.46"/><circle cx="64.5" cy="160.5" r="0.34"/><circle cx="46.5" cy="177.3" r="0.38"/><circle cx="50.4" cy="179.3" r="0.37"/><circle cx="63.6" cy="160.7" r="0.44"/><circle cx="68.6" cy="180.3" r="0.36"/><circle cx="64.7" cy="162.3" r="0.37"/><circle cx="64.4" cy="186.2" r="0.31"/><circle cx="58.1" cy="161.3" r="0.39"/><circle cx="37.0" cy="169.7" r="0.27"/><circle cx="73.7" cy="169.7" r="0.29"/><circle cx="55.5" cy="162.3" r="0.33"/><circle cx="36.5" cy="173.0" r="0.28"/><circle cx="72.9" cy="172.1" r="0.35"/><circle cx="68.8" cy="180.5" r="0.29"/><circle cx="50.0" cy="178.8" r="0.31"/><circle cx="73.7" cy="170.5" r="0.27"/><circle cx="61.0" cy="161.2" r="0.30"/><circle cx="46.4" cy="177.4" r="0.31"/><circle cx="36.4" cy="170.3" r="0.43"/><circle cx="60.3" cy="161.8" r="0.38"/><circle cx="74.7" cy="170.2" r="0.34"/><circle cx="46.9" cy="177.5" r="0.39"/><circle cx="36.1" cy="173.1" r="0.38"/><circle cx="37.1" cy="160.7" r="0.40"/><circle cx="73.6" cy="169.5" r="0.28"/><circle cx="41.1" cy="177.4" r="0.36"/><circle cx="35.7" cy="161.6" r="0.38"/><circle cx="68.0" cy="180.2" r="0.34"/><circle cx="69.3" cy="180.7" r="0.36"/><circle cx="67.1" cy="184.4" r="0.41"/><circle cx="72.4" cy="172.9" r="0.37"/><circle cx="40.5" cy="175.4" r="0.31"/><circle cx="46.9" cy="159.1" r="0.28"/><circle cx="41.9" cy="176.7" r="0.40"/><circle cx="47.1" cy="176.8" r="0.40"/><circle cx="68.7" cy="173.3" r="0.42"/><circle cx="35.0" cy="165.8" r="0.36"/><circle cx="42.9" cy="151.9" r="0.32"/><circle cx="73.2" cy="167.9" r="0.37"/><circle cx="66.4" cy="185.4" r="0.32"/><circle cx="34.9" cy="164.6" r="0.31"/><circle cx="62.2" cy="161.5" r="0.34"/><circle cx="68.3" cy="180.2" r="0.34"/><circle cx="37.9" cy="174.7" r="0.37"/><circle cx="45.1" cy="157.3" r="0.34"/><circle cx="60.7" cy="188.0" r="0.42"/><circle cx="70.8" cy="163.6" r="0.38"/><circle cx="70.3" cy="178.7" r="0.43"/><circle cx="44.9" cy="157.6" r="0.28"/><circle cx="35.3" cy="166.8" r="0.30"/><circle cx="35.2" cy="158.8" r="0.36"/><circle cx="50.9" cy="178.2" r="0.31"/><circle cx="36.4" cy="170.5" r="0.31"/><circle cx="50.2" cy="161.6" r="0.45"/><circle cx="70.6" cy="173.7" r="0.44"/><circle cx="50.2" cy="177.9" r="0.40"/><circle cx="45.2" cy="154.9" r="0.31"/><circle cx="58.6" cy="187.6" r="0.30"/><circle cx="35.4" cy="161.7" r="0.29"/><circle cx="38.3" cy="173.3" r="0.27"/><circle cx="72.9" cy="170.4" r="0.37"/><circle cx="47.3" cy="160.8" r="0.35"/><circle cx="51.7" cy="179.2" r="0.29"/><circle cx="38.0" cy="159.1" r="0.37"/><circle cx="70.4" cy="165.7" r="0.36"/><circle cx="37.4" cy="158.9" r="0.43"/><circle cx="57.0" cy="185.8" r="0.29"/><circle cx="70.4" cy="162.2" r="0.31"/><circle cx="37.4" cy="159.2" r="0.45"/><circle cx="77.6" cy="167.5" r="0.28"/><circle cx="75.0" cy="167.5" r="0.41"/><circle cx="58.7" cy="161.2" r="0.28"/><circle cx="62.3" cy="188.3" r="0.42"/><circle cx="57.3" cy="186.1" r="0.36"/><circle cx="48.6" cy="160.4" r="0.38"/><circle cx="75.0" cy="169.3" r="0.30"/><circle cx="58.1" cy="161.8" r="0.43"/><circle cx="34.3" cy="165.2" r="0.28"/><circle cx="35.5" cy="165.0" r="0.37"/><circle cx="50.6" cy="162.0" r="0.37"/><circle cx="66.6" cy="185.1" r="0.34"/><circle cx="61.9" cy="161.6" r="0.43"/><circle cx="67.2" cy="184.2" r="0.45"/><circle cx="68.1" cy="181.9" r="0.40"/><circle cx="64.7" cy="160.8" r="0.32"/><circle cx="43.7" cy="154.7" r="0.32"/><circle cx="36.1" cy="163.6" r="0.31"/><circle cx="57.7" cy="185.0" r="0.28"/><circle cx="65.1" cy="160.5" r="0.27"/><circle cx="55.3" cy="182.7" r="0.33"/><circle cx="35.0" cy="172.9" r="0.27"/><circle cx="36.9" cy="157.8" r="0.28"/><circle cx="66.5" cy="160.6" r="0.29"/><circle cx="76.9" cy="168.2" r="0.31"/><circle cx="77.7" cy="166.9" r="0.42"/><circle cx="67.2" cy="181.8" r="0.44"/><circle cx="42.0" cy="176.4" r="0.38"/><circle cx="35.2" cy="168.1" r="0.40"/><circle cx="77.1" cy="169.8" r="0.39"/><circle cx="43.9" cy="177.8" r="0.44"/><circle cx="35.7" cy="160.1" r="0.42"/><circle cx="56.8" cy="186.9" r="0.42"/><circle cx="34.1" cy="167.1" r="0.37"/><circle cx="39.3" cy="158.1" r="0.42"/><circle cx="67.7" cy="161.4" r="0.30"/><circle cx="69.5" cy="180.2" r="0.44"/><circle cx="50.0" cy="177.1" r="0.41"/><circle cx="37.5" cy="172.3" r="0.42"/><circle cx="72.1" cy="173.7" r="0.42"/><circle cx="75.2" cy="166.9" r="0.42"/><circle cx="42.1" cy="151.8" r="0.29"/><circle cx="35.6" cy="172.8" r="0.35"/><circle cx="76.0" cy="168.1" r="0.43"/><circle cx="55.6" cy="184.1" r="0.32"/><circle cx="47.6" cy="177.2" r="0.42"/><circle cx="51.3" cy="161.8" r="0.42"/><circle cx="59.0" cy="163.4" r="0.33"/><circle cx="64.8" cy="160.5" r="0.44"/><circle cx="70.2" cy="172.0" r="0.36"/><circle cx="41.5" cy="153.8" r="0.30"/><circle cx="65.7" cy="186.6" r="0.45"/><circle cx="69.8" cy="178.5" r="0.33"/><circle cx="47.9" cy="160.5" r="0.36"/><circle cx="74.8" cy="169.8" r="0.39"/><circle cx="46.2" cy="158.7" r="0.45"/><circle cx="74.3" cy="168.4" r="0.34"/><circle cx="65.2" cy="185.0" r="0.36"/><circle cx="74.9" cy="169.3" r="0.42"/><circle cx="49.6" cy="177.6" r="0.41"/><circle cx="35.1" cy="161.9" r="0.27"/><circle cx="75.7" cy="168.3" r="0.44"/><circle cx="53.6" cy="161.5" r="0.27"/><circle cx="72.1" cy="170.8" r="0.32"/><circle cx="40.9" cy="177.1" r="0.35"/><circle cx="39.5" cy="152.6" r="0.39"/><circle cx="74.2" cy="170.5" r="0.40"/><circle cx="70.4" cy="164.4" r="0.42"/><circle cx="37.9" cy="174.2" r="0.36"/><circle cx="35.4" cy="165.6" r="0.30"/><circle cx="73.6" cy="166.6" r="0.34"/><circle cx="39.9" cy="154.6" r="0.32"/><circle cx="37.9" cy="157.7" r="0.35"/><circle cx="50.0" cy="162.1" r="0.34"/><circle cx="39.1" cy="155.5" r="0.44"/><circle cx="70.3" cy="177.6" r="0.41"/><circle cx="74.1" cy="167.5" r="0.36"/><circle cx="61.1" cy="186.8" r="0.32"/><circle cx="75.5" cy="168.8" r="0.32"/><circle cx="54.7" cy="183.9" r="0.27"/><circle cx="35.3" cy="170.4" r="0.44"/><circle cx="68.9" cy="162.8" r="0.37"/><circle cx="41.7" cy="176.2" r="0.42"/><circle cx="50.0" cy="162.5" r="0.45"/><circle cx="54.1" cy="181.2" r="0.34"/><circle cx="37.5" cy="156.8" r="0.34"/><circle cx="36.7" cy="173.3" r="0.43"/><circle cx="63.7" cy="186.7" r="0.44"/><circle cx="52.9" cy="162.2" r="0.34"/><circle cx="67.7" cy="183.5" r="0.38"/><circle cx="70.8" cy="172.6" r="0.43"/><circle cx="38.9" cy="173.9" r="0.39"/><circle cx="40.5" cy="176.8" r="0.44"/><circle cx="43.8" cy="175.9" r="0.43"/><circle cx="52.4" cy="161.0" r="0.38"/><circle cx="70.6" cy="163.8" r="0.42"/><circle cx="69.6" cy="163.7" r="0.28"/><circle cx="52.2" cy="178.4" r="0.33"/><circle cx="50.0" cy="177.4" r="0.33"/><circle cx="41.8" cy="151.4" r="0.32"/><circle cx="45.0" cy="157.7" r="0.42"/><circle cx="45.0" cy="154.9" r="0.31"/><circle cx="54.5" cy="183.3" r="0.37"/><circle cx="63.4" cy="160.5" r="0.43"/><circle cx="36.5" cy="172.6" r="0.41"/><circle cx="43.5" cy="153.9" r="0.28"/><circle cx="54.7" cy="181.8" r="0.34"/><circle cx="66.1" cy="185.1" r="0.43"/><circle cx="42.1" cy="150.2" r="0.33"/><circle cx="41.5" cy="153.1" r="0.29"/><circle cx="69.2" cy="177.9" r="0.35"/><circle cx="76.8" cy="168.4" r="0.32"/><circle cx="60.4" cy="160.6" r="0.35"/><circle cx="60.7" cy="160.9" r="0.32"/><circle cx="60.9" cy="185.9" r="0.41"/><circle cx="39.1" cy="156.1" r="0.40"/><circle cx="46.1" cy="157.9" r="0.43"/><circle cx="45.6" cy="176.4" r="0.33"/><circle cx="55.3" cy="160.4" r="0.32"/><circle cx="45.3" cy="156.3" r="0.44"/><circle cx="36.8" cy="173.1" r="0.29"/><circle cx="55.6" cy="161.2" r="0.45"/><circle cx="36.2" cy="159.8" r="0.42"/><circle cx="53.0" cy="162.6" r="0.36"/><circle cx="62.3" cy="161.2" r="0.44"/><circle cx="49.3" cy="176.1" r="0.35"/><circle cx="43.7" cy="177.7" r="0.43"/></g><g fill="#f0a030" fill-opacity="0.90"><circle cx="60.3" cy="161.1" r="0.50"/><circle cx="60.7" cy="161.9" r="0.50"/><circle cx="59.7" cy="161.1" r="0.50"/><circle cx="61.7" cy="160.1" r="0.50"/><circle cx="59.2" cy="161.1" r="0.50"/><circle cx="62.2" cy="160.4" r="0.50"/><circle cx="62.1" cy="161.3" r="0.50"/><circle cx="57.3" cy="160.2" r="0.50"/><circle cx="56.8" cy="161.1" r="0.50"/><circle cx="60.5" cy="161.6" r="0.50"/></g><path d="M174.80,86.30 C176.13,86.63 177.53,87.40 179.00,89.00 C180.47,90.60 182.70,93.43 183.60,95.90 C184.50,98.37 184.83,101.78 184.40,103.80 C183.97,105.82 182.40,106.63 181.00,108.00 C179.60,109.37 177.17,110.55 176.00,112.00 C174.83,113.45 174.42,114.70 174.00,116.70 C173.58,118.70 173.50,121.62 173.50,124.00 C173.50,126.38 173.83,128.33 174.00,131.00 C174.17,133.67 174.75,136.95 174.50,140.00 C174.25,143.05 173.92,147.13 172.50,149.30 C171.08,151.47 168.08,152.18 166.00,153.00 C163.92,153.82 162.95,154.00 160.00,154.20 C157.05,154.40 151.60,155.02 148.30,154.20 C145.00,153.38 142.13,151.67 140.20,149.30 C138.27,146.93 137.77,142.88 136.70,140.00 C135.63,137.12 134.00,134.92 133.80,132.00 C133.60,129.08 134.63,125.05 135.50,122.50 C136.37,119.95 137.83,117.87 139.00,116.70 C140.17,115.53 140.67,116.20 142.50,115.50 C144.33,114.80 147.08,113.47 150.00,112.50 C152.92,111.53 157.33,110.70 160.00,109.70 C162.67,108.70 164.45,107.75 166.00,106.50 C167.55,105.25 169.28,103.97 169.30,102.20 C169.32,100.43 166.37,98.02 166.10,95.90 C165.83,93.78 166.88,90.98 167.70,89.50 C168.52,88.02 169.82,87.53 171.00,87.00 C172.18,86.47 173.47,85.97 174.80,86.30Z" fill="#fb7f0b" fill-opacity="0.96"/><path d="M174.80,86.30 C176.13,86.63 177.53,87.40 179.00,89.00 C180.47,90.60 182.70,93.43 183.60,95.90 C184.50,98.37 184.83,101.78 184.40,103.80 C183.97,105.82 182.40,106.63 181.00,108.00 C179.60,109.37 177.17,110.55 176.00,112.00 C174.83,113.45 174.42,114.70 174.00,116.70 C173.58,118.70 173.50,121.62 173.50,124.00 C173.50,126.38 173.83,128.33 174.00,131.00 C174.17,133.67 174.75,136.95 174.50,140.00 C174.25,143.05 173.92,147.13 172.50,149.30 C171.08,151.47 168.08,152.18 166.00,153.00 C163.92,153.82 162.95,154.00 160.00,154.20 C157.05,154.40 151.60,155.02 148.30,154.20 C145.00,153.38 142.13,151.67 140.20,149.30 C138.27,146.93 137.77,142.88 136.70,140.00 C135.63,137.12 134.00,134.92 133.80,132.00 C133.60,129.08 134.63,125.05 135.50,122.50 C136.37,119.95 137.83,117.87 139.00,116.70 C140.17,115.53 140.67,116.20 142.50,115.50 C144.33,114.80 147.08,113.47 150.00,112.50 C152.92,111.53 157.33,110.70 160.00,109.70 C162.67,108.70 164.45,107.75 166.00,106.50 C167.55,105.25 169.28,103.97 169.30,102.20 C169.32,100.43 166.37,98.02 166.10,95.90 C165.83,93.78 166.88,90.98 167.70,89.50 C168.52,88.02 169.82,87.53 171.00,87.00 C172.18,86.47 173.47,85.97 174.80,86.30Z" fill="url(#sp4)" fill-opacity="0.8"/><g fill="#fb7f0b" fill-opacity="0.85"><circle cx="167.6" cy="99.6" r="0.38"/><circle cx="182.4" cy="107.3" r="0.38"/><circle cx="133.8" cy="130.3" r="0.28"/><circle cx="141.5" cy="116.4" r="0.34"/><circle cx="135.1" cy="123.5" r="0.39"/><circle cx="136.3" cy="120.6" r="0.44"/><circle cx="136.5" cy="138.2" r="0.45"/><circle cx="172.6" cy="124.3" r="0.42"/><circle cx="133.9" cy="131.3" r="0.28"/><circle cx="170.4" cy="87.3" r="0.28"/><circle cx="174.1" cy="125.6" r="0.39"/><circle cx="165.3" cy="93.8" r="0.32"/><circle cx="179.4" cy="110.3" r="0.29"/><circle cx="169.8" cy="87.4" r="0.42"/><circle cx="176.5" cy="111.3" r="0.42"/><circle cx="169.3" cy="102.2" r="0.43"/><circle cx="139.3" cy="145.2" r="0.38"/><circle cx="136.4" cy="138.6" r="0.28"/><circle cx="139.5" cy="148.6" r="0.27"/><circle cx="145.8" cy="114.9" r="0.42"/><circle cx="155.2" cy="154.9" r="0.31"/><circle cx="161.7" cy="155.4" r="0.37"/><circle cx="173.8" cy="148.3" r="0.43"/><circle cx="164.1" cy="108.2" r="0.32"/><circle cx="148.3" cy="114.2" r="0.45"/><circle cx="149.2" cy="113.0" r="0.29"/><circle cx="136.0" cy="120.0" r="0.35"/><circle cx="163.6" cy="152.7" r="0.44"/><circle cx="142.7" cy="114.1" r="0.43"/><circle cx="140.3" cy="116.8" r="0.43"/><circle cx="160.2" cy="153.9" r="0.45"/><circle cx="157.6" cy="153.7" r="0.32"/><circle cx="172.9" cy="147.2" r="0.35"/><circle cx="170.2" cy="85.6" r="0.41"/><circle cx="162.8" cy="108.8" r="0.32"/><circle cx="173.6" cy="127.7" r="0.31"/><circle cx="169.4" cy="102.5" r="0.41"/><circle cx="151.0" cy="111.7" r="0.37"/><circle cx="184.6" cy="102.7" r="0.39"/><circle cx="169.7" cy="149.5" r="0.30"/><circle cx="140.8" cy="149.3" r="0.44"/><circle cx="165.3" cy="152.8" r="0.45"/><circle cx="184.2" cy="100.8" r="0.44"/><circle cx="177.0" cy="88.9" r="0.45"/><circle cx="174.4" cy="113.9" r="0.40"/><circle cx="144.7" cy="114.1" r="0.31"/><circle cx="179.1" cy="88.9" r="0.32"/><circle cx="167.9" cy="88.2" r="0.39"/><circle cx="135.9" cy="137.7" r="0.28"/><circle cx="184.2" cy="95.9" r="0.29"/><circle cx="181.9" cy="104.6" r="0.40"/><circle cx="174.1" cy="131.9" r="0.29"/><circle cx="173.5" cy="138.7" r="0.35"/><circle cx="142.8" cy="116.8" r="0.33"/><circle cx="162.1" cy="109.5" r="0.31"/><circle cx="165.1" cy="106.2" r="0.32"/><circle cx="177.0" cy="88.8" r="0.30"/><circle cx="133.9" cy="126.1" r="0.30"/><circle cx="181.4" cy="110.2" r="0.34"/><circle cx="134.1" cy="127.8" r="0.28"/><circle cx="177.5" cy="87.6" r="0.45"/><circle cx="172.0" cy="149.2" r="0.42"/><circle cx="173.2" cy="128.7" r="0.29"/><circle cx="173.9" cy="126.8" r="0.34"/><circle cx="148.2" cy="113.7" r="0.31"/><circle cx="167.9" cy="152.3" r="0.36"/><circle cx="167.9" cy="105.7" r="0.42"/><circle cx="174.3" cy="124.9" r="0.29"/><circle cx="154.1" cy="153.9" r="0.29"/><circle cx="150.5" cy="154.7" r="0.35"/><circle cx="183.7" cy="105.7" r="0.36"/><circle cx="166.4" cy="93.7" r="0.31"/><circle cx="143.1" cy="114.2" r="0.45"/><circle cx="166.5" cy="108.0" r="0.37"/><circle cx="174.3" cy="126.9" r="0.31"/><circle cx="183.8" cy="100.5" r="0.35"/><circle cx="142.7" cy="116.0" r="0.33"/><circle cx="173.5" cy="118.4" r="0.29"/><circle cx="171.3" cy="86.9" r="0.27"/><circle cx="134.4" cy="127.8" r="0.36"/><circle cx="143.2" cy="114.9" r="0.36"/><circle cx="135.4" cy="136.6" r="0.42"/><circle cx="167.0" cy="90.7" r="0.34"/><circle cx="168.4" cy="100.4" r="0.38"/><circle cx="168.7" cy="100.4" r="0.27"/><circle cx="158.5" cy="154.6" r="0.41"/><circle cx="137.7" cy="140.6" r="0.40"/><circle cx="177.4" cy="87.5" r="0.36"/><circle cx="145.4" cy="151.7" r="0.45"/><circle cx="134.8" cy="135.2" r="0.30"/><circle cx="174.2" cy="86.5" r="0.45"/><circle cx="173.6" cy="142.1" r="0.39"/><circle cx="178.3" cy="89.0" r="0.42"/><circle cx="174.4" cy="86.0" r="0.35"/><circle cx="138.4" cy="144.5" r="0.31"/><circle cx="183.2" cy="105.6" r="0.29"/><circle cx="141.5" cy="150.2" r="0.28"/><circle cx="174.0" cy="125.4" r="0.35"/><circle cx="164.9" cy="152.7" r="0.43"/><circle cx="167.4" cy="91.6" r="0.34"/><circle cx="182.1" cy="93.1" r="0.27"/><circle cx="173.8" cy="137.3" r="0.43"/><circle cx="160.6" cy="153.6" r="0.42"/><circle cx="134.2" cy="127.7" r="0.31"/><circle cx="133.6" cy="126.2" r="0.44"/><circle cx="168.3" cy="89.4" r="0.44"/><circle cx="138.4" cy="144.3" r="0.31"/><circle cx="173.0" cy="125.7" r="0.39"/><circle cx="183.7" cy="96.1" r="0.36"/><circle cx="135.2" cy="124.0" r="0.36"/><circle cx="135.2" cy="122.0" r="0.30"/><circle cx="167.8" cy="89.2" r="0.35"/><circle cx="167.8" cy="90.5" r="0.45"/><circle cx="168.5" cy="101.5" r="0.33"/><circle cx="134.9" cy="125.5" r="0.31"/><circle cx="173.7" cy="121.0" r="0.29"/><circle cx="164.4" cy="153.4" r="0.38"/><circle cx="166.3" cy="92.4" r="0.40"/><circle cx="159.0" cy="154.9" r="0.27"/><circle cx="135.7" cy="124.0" r="0.45"/><circle cx="149.0" cy="112.2" r="0.39"/><circle cx="138.4" cy="118.3" r="0.41"/><circle cx="174.3" cy="139.0" r="0.38"/><circle cx="164.5" cy="107.0" r="0.30"/><circle cx="176.2" cy="87.7" r="0.32"/><circle cx="184.1" cy="96.4" r="0.40"/><circle cx="175.5" cy="87.3" r="0.40"/><circle cx="172.7" cy="86.8" r="0.44"/><circle cx="169.7" cy="88.7" r="0.37"/><circle cx="173.5" cy="141.8" r="0.32"/><circle cx="182.6" cy="94.1" r="0.28"/><circle cx="134.1" cy="132.9" r="0.42"/><circle cx="141.1" cy="116.5" r="0.30"/><circle cx="166.0" cy="95.2" r="0.30"/><circle cx="135.9" cy="121.2" r="0.31"/><circle cx="154.3" cy="111.0" r="0.38"/><circle cx="173.9" cy="115.0" r="0.42"/><circle cx="174.4" cy="124.6" r="0.37"/><circle cx="180.9" cy="109.2" r="0.29"/><circle cx="133.9" cy="132.1" r="0.35"/><circle cx="140.9" cy="149.6" r="0.40"/><circle cx="173.4" cy="123.0" r="0.40"/><circle cx="135.3" cy="134.8" r="0.33"/><circle cx="134.8" cy="126.4" r="0.31"/><circle cx="149.9" cy="111.8" r="0.45"/><circle cx="153.5" cy="112.0" r="0.40"/><circle cx="182.1" cy="93.8" r="0.28"/><circle cx="145.2" cy="153.1" r="0.43"/><circle cx="153.9" cy="154.5" r="0.36"/><circle cx="142.2" cy="151.8" r="0.37"/><circle cx="150.3" cy="112.6" r="0.34"/><circle cx="149.5" cy="155.2" r="0.31"/><circle cx="173.2" cy="141.2" r="0.41"/><circle cx="169.2" cy="150.9" r="0.44"/><circle cx="135.3" cy="134.8" r="0.39"/><circle cx="176.0" cy="133.8" r="0.44"/><circle cx="180.8" cy="107.2" r="0.32"/><circle cx="183.6" cy="94.9" r="0.35"/><circle cx="183.7" cy="99.6" r="0.45"/><circle cx="181.5" cy="94.4" r="0.29"/><circle cx="184.8" cy="103.7" r="0.37"/><circle cx="161.1" cy="109.6" r="0.41"/><circle cx="160.6" cy="154.3" r="0.31"/><circle cx="170.1" cy="88.4" r="0.41"/><circle cx="169.8" cy="101.4" r="0.45"/><circle cx="135.5" cy="137.8" r="0.40"/><circle cx="142.8" cy="115.8" r="0.45"/><circle cx="184.6" cy="103.0" r="0.31"/><circle cx="171.7" cy="129.1" r="0.29"/><circle cx="164.5" cy="107.6" r="0.41"/><circle cx="173.6" cy="146.2" r="0.42"/><circle cx="166.0" cy="106.3" r="0.41"/><circle cx="136.9" cy="135.6" r="0.33"/><circle cx="163.8" cy="107.3" r="0.34"/><circle cx="169.8" cy="151.2" r="0.29"/><circle cx="174.2" cy="122.8" r="0.39"/><circle cx="169.0" cy="102.1" r="0.44"/><circle cx="156.7" cy="110.9" r="0.41"/><circle cx="157.2" cy="111.5" r="0.34"/><circle cx="162.7" cy="109.2" r="0.33"/><circle cx="157.9" cy="111.2" r="0.43"/><circle cx="169.0" cy="105.2" r="0.41"/><circle cx="135.2" cy="123.0" r="0.43"/><circle cx="138.9" cy="147.6" r="0.41"/><circle cx="151.7" cy="111.8" r="0.33"/><circle cx="174.3" cy="127.9" r="0.27"/><circle cx="154.1" cy="111.6" r="0.28"/><circle cx="144.1" cy="115.7" r="0.34"/><circle cx="155.8" cy="110.9" r="0.39"/><circle cx="167.4" cy="101.6" r="0.41"/><circle cx="175.1" cy="139.1" r="0.29"/><circle cx="137.2" cy="139.4" r="0.36"/><circle cx="163.4" cy="153.0" r="0.31"/><circle cx="171.1" cy="150.8" r="0.40"/><circle cx="182.5" cy="106.3" r="0.38"/><circle cx="159.4" cy="153.5" r="0.28"/><circle cx="143.1" cy="149.6" r="0.33"/><circle cx="173.6" cy="121.0" r="0.31"/><circle cx="169.2" cy="103.2" r="0.34"/><circle cx="138.9" cy="117.4" r="0.32"/><circle cx="173.8" cy="142.7" r="0.37"/><circle cx="146.3" cy="152.8" r="0.45"/><circle cx="173.6" cy="85.8" r="0.30"/><circle cx="166.4" cy="98.3" r="0.43"/><circle cx="172.8" cy="149.2" r="0.27"/><circle cx="147.4" cy="152.0" r="0.45"/><circle cx="145.6" cy="151.7" r="0.29"/><circle cx="134.1" cy="131.4" r="0.38"/><circle cx="173.8" cy="130.2" r="0.36"/><circle cx="152.6" cy="154.2" r="0.33"/><circle cx="139.3" cy="116.1" r="0.31"/><circle cx="144.2" cy="152.3" r="0.44"/><circle cx="172.9" cy="117.7" r="0.41"/><circle cx="138.6" cy="116.7" r="0.43"/><circle cx="167.8" cy="96.6" r="0.35"/><circle cx="185.1" cy="100.1" r="0.39"/><circle cx="179.0" cy="109.1" r="0.46"/><circle cx="173.6" cy="144.0" r="0.30"/><circle cx="176.2" cy="111.7" r="0.32"/><circle cx="177.0" cy="111.5" r="0.30"/><circle cx="173.9" cy="140.6" r="0.36"/><circle cx="158.9" cy="154.1" r="0.45"/><circle cx="152.2" cy="155.1" r="0.29"/><circle cx="176.9" cy="112.7" r="0.45"/><circle cx="164.7" cy="153.8" r="0.33"/><circle cx="136.2" cy="121.1" r="0.43"/><circle cx="139.1" cy="142.9" r="0.40"/><circle cx="171.7" cy="146.9" r="0.34"/><circle cx="159.3" cy="155.0" r="0.39"/><circle cx="143.1" cy="115.3" r="0.34"/><circle cx="164.4" cy="106.6" r="0.39"/><circle cx="174.2" cy="145.0" r="0.34"/><circle cx="176.0" cy="115.6" r="0.42"/><circle cx="178.8" cy="89.9" r="0.36"/><circle cx="172.6" cy="149.1" r="0.37"/><circle cx="165.8" cy="94.6" r="0.33"/><circle cx="167.1" cy="151.1" r="0.32"/><circle cx="170.4" cy="150.7" r="0.44"/><circle cx="140.0" cy="149.7" r="0.42"/><circle cx="177.1" cy="110.9" r="0.30"/><circle cx="182.9" cy="94.2" r="0.31"/><circle cx="182.4" cy="95.4" r="0.40"/><circle cx="168.3" cy="98.3" r="0.44"/><circle cx="184.7" cy="99.9" r="0.30"/><circle cx="145.5" cy="113.9" r="0.28"/><circle cx="167.3" cy="103.9" r="0.45"/><circle cx="180.7" cy="91.2" r="0.27"/><circle cx="138.1" cy="117.6" r="0.30"/><circle cx="174.2" cy="113.7" r="0.45"/><circle cx="173.3" cy="149.1" r="0.34"/><circle cx="174.0" cy="130.2" r="0.46"/><circle cx="138.3" cy="118.6" r="0.29"/><circle cx="172.9" cy="147.1" r="0.37"/><circle cx="136.2" cy="122.6" r="0.42"/><circle cx="136.2" cy="142.7" r="0.38"/><circle cx="172.2" cy="145.7" r="0.43"/><circle cx="166.7" cy="97.7" r="0.30"/><circle cx="168.7" cy="151.4" r="0.42"/><circle cx="152.0" cy="111.9" r="0.42"/><circle cx="162.6" cy="152.8" r="0.40"/><circle cx="165.8" cy="152.9" r="0.44"/><circle cx="134.6" cy="135.6" r="0.32"/><circle cx="168.4" cy="98.6" r="0.42"/><circle cx="172.8" cy="86.1" r="0.41"/><circle cx="173.6" cy="129.9" r="0.43"/><circle cx="148.2" cy="155.8" r="0.28"/><circle cx="166.3" cy="94.7" r="0.41"/><circle cx="138.5" cy="142.2" r="0.35"/><circle cx="167.5" cy="95.1" r="0.29"/><circle cx="175.2" cy="133.9" r="0.35"/><circle cx="141.1" cy="117.1" r="0.39"/><circle cx="183.1" cy="101.8" r="0.31"/><circle cx="134.5" cy="128.3" r="0.44"/><circle cx="167.7" cy="92.6" r="0.37"/><circle cx="156.4" cy="109.9" r="0.43"/><circle cx="166.3" cy="152.8" r="0.29"/><circle cx="145.9" cy="115.2" r="0.28"/><circle cx="171.4" cy="86.4" r="0.29"/><circle cx="133.6" cy="131.3" r="0.42"/><circle cx="179.6" cy="90.3" r="0.43"/><circle cx="169.8" cy="101.8" r="0.36"/><circle cx="139.6" cy="115.8" r="0.44"/><circle cx="175.5" cy="116.1" r="0.29"/><circle cx="174.0" cy="115.3" r="0.30"/><circle cx="165.1" cy="95.3" r="0.31"/><circle cx="167.5" cy="99.7" r="0.38"/><circle cx="169.7" cy="87.1" r="0.37"/><circle cx="164.4" cy="107.3" r="0.44"/><circle cx="155.3" cy="109.8" r="0.31"/><circle cx="154.3" cy="152.6" r="0.44"/><circle cx="176.8" cy="110.3" r="0.34"/><circle cx="176.5" cy="112.6" r="0.36"/><circle cx="173.4" cy="131.9" r="0.41"/><circle cx="137.4" cy="141.0" r="0.34"/><circle cx="168.2" cy="89.4" r="0.38"/><circle cx="168.2" cy="89.2" r="0.33"/><circle cx="179.5" cy="89.9" r="0.32"/><circle cx="132.4" cy="131.7" r="0.40"/><circle cx="173.2" cy="149.1" r="0.37"/><circle cx="165.7" cy="105.9" r="0.38"/><circle cx="174.9" cy="137.5" r="0.45"/><circle cx="184.1" cy="95.4" r="0.31"/><circle cx="146.3" cy="153.3" r="0.39"/><circle cx="137.8" cy="120.9" r="0.39"/><circle cx="139.0" cy="117.0" r="0.35"/><circle cx="168.9" cy="89.2" r="0.27"/><circle cx="163.5" cy="153.1" r="0.42"/><circle cx="177.1" cy="88.1" r="0.42"/><circle cx="184.8" cy="102.3" r="0.43"/><circle cx="143.1" cy="153.2" r="0.34"/><circle cx="138.4" cy="120.2" r="0.45"/><circle cx="184.1" cy="103.6" r="0.29"/><circle cx="171.0" cy="148.1" r="0.45"/><circle cx="172.8" cy="85.8" r="0.30"/><circle cx="140.4" cy="115.8" r="0.44"/><circle cx="174.1" cy="129.0" r="0.29"/><circle cx="136.8" cy="139.6" r="0.36"/><circle cx="137.0" cy="142.3" r="0.37"/><circle cx="178.0" cy="88.2" r="0.31"/><circle cx="146.8" cy="115.1" r="0.31"/><circle cx="183.4" cy="100.9" r="0.33"/><circle cx="148.4" cy="114.2" r="0.42"/><circle cx="154.0" cy="154.2" r="0.38"/><circle cx="175.3" cy="114.5" r="0.33"/><circle cx="183.6" cy="99.5" r="0.32"/><circle cx="145.0" cy="151.7" r="0.30"/><circle cx="173.7" cy="139.9" r="0.40"/><circle cx="160.4" cy="154.3" r="0.29"/><circle cx="163.2" cy="107.5" r="0.38"/><circle cx="182.0" cy="94.4" r="0.29"/><circle cx="143.9" cy="114.0" r="0.30"/><circle cx="134.2" cy="125.0" r="0.28"/><circle cx="168.7" cy="100.0" r="0.34"/><circle cx="174.8" cy="118.1" r="0.45"/><circle cx="173.5" cy="145.3" r="0.31"/><circle cx="165.4" cy="152.4" r="0.30"/><circle cx="181.6" cy="95.9" r="0.44"/><circle cx="183.4" cy="102.2" r="0.30"/><circle cx="133.9" cy="124.6" r="0.32"/><circle cx="166.8" cy="93.6" r="0.29"/><circle cx="150.2" cy="155.0" r="0.40"/><circle cx="137.6" cy="141.8" r="0.40"/><circle cx="155.4" cy="111.5" r="0.28"/><circle cx="137.0" cy="140.3" r="0.40"/><circle cx="171.4" cy="149.3" r="0.45"/><circle cx="158.8" cy="154.2" r="0.40"/><circle cx="166.0" cy="105.8" r="0.43"/><circle cx="139.9" cy="117.0" r="0.39"/><circle cx="176.0" cy="86.9" r="0.43"/><circle cx="173.5" cy="87.8" r="0.42"/><circle cx="164.8" cy="105.1" r="0.39"/><circle cx="166.7" cy="91.5" r="0.36"/><circle cx="149.3" cy="154.8" r="0.36"/><circle cx="136.8" cy="140.6" r="0.36"/><circle cx="145.0" cy="153.3" r="0.30"/><circle cx="141.0" cy="151.1" r="0.40"/><circle cx="150.6" cy="112.1" r="0.44"/><circle cx="144.3" cy="152.4" r="0.34"/><circle cx="138.7" cy="117.0" r="0.40"/><circle cx="173.1" cy="120.6" r="0.32"/><circle cx="172.6" cy="147.9" r="0.31"/><circle cx="173.8" cy="123.5" r="0.39"/><circle cx="133.7" cy="130.8" r="0.28"/><circle cx="174.3" cy="149.6" r="0.37"/><circle cx="136.4" cy="124.2" r="0.31"/><circle cx="174.5" cy="145.5" r="0.41"/><circle cx="148.3" cy="154.6" r="0.36"/><circle cx="139.8" cy="116.4" r="0.43"/><circle cx="157.7" cy="154.5" r="0.45"/><circle cx="175.1" cy="115.3" r="0.44"/><circle cx="163.7" cy="108.6" r="0.44"/><circle cx="161.0" cy="155.2" r="0.34"/><circle cx="183.6" cy="105.1" r="0.34"/><circle cx="136.2" cy="138.8" r="0.34"/><circle cx="170.0" cy="151.1" r="0.41"/><circle cx="173.2" cy="143.0" r="0.30"/><circle cx="177.7" cy="87.6" r="0.32"/><circle cx="174.9" cy="116.7" r="0.31"/><circle cx="136.3" cy="140.1" r="0.27"/><circle cx="173.4" cy="141.7" r="0.36"/><circle cx="182.8" cy="106.6" r="0.35"/><circle cx="172.4" cy="149.3" r="0.45"/><circle cx="174.0" cy="125.4" r="0.38"/><circle cx="170.9" cy="151.2" r="0.42"/><circle cx="174.2" cy="130.7" r="0.45"/><circle cx="181.8" cy="94.1" r="0.38"/><circle cx="151.1" cy="111.6" r="0.34"/><circle cx="155.1" cy="111.5" r="0.41"/><circle cx="158.3" cy="154.2" r="0.35"/><circle cx="174.1" cy="120.4" r="0.28"/><circle cx="170.4" cy="150.4" r="0.32"/><circle cx="135.7" cy="118.7" r="0.30"/><circle cx="144.1" cy="152.1" r="0.43"/><circle cx="174.3" cy="119.3" r="0.33"/><circle cx="134.4" cy="134.9" r="0.28"/><circle cx="167.3" cy="90.5" r="0.39"/><circle cx="140.9" cy="150.4" r="0.43"/><circle cx="171.9" cy="145.9" r="0.33"/><circle cx="166.0" cy="154.0" r="0.39"/><circle cx="156.4" cy="154.5" r="0.42"/><circle cx="155.0" cy="153.6" r="0.41"/><circle cx="179.7" cy="91.3" r="0.40"/><circle cx="134.5" cy="123.5" r="0.30"/><circle cx="175.0" cy="112.1" r="0.32"/><circle cx="134.9" cy="130.2" r="0.30"/><circle cx="144.6" cy="153.0" r="0.29"/><circle cx="149.2" cy="153.9" r="0.32"/><circle cx="134.5" cy="122.6" r="0.41"/><circle cx="138.0" cy="143.8" r="0.42"/><circle cx="138.2" cy="143.3" r="0.35"/><circle cx="169.8" cy="87.3" r="0.29"/><circle cx="136.7" cy="136.0" r="0.45"/><circle cx="141.3" cy="117.2" r="0.30"/><circle cx="159.9" cy="109.7" r="0.44"/></g><path d="M110.50,106.00 C110.83,105.13 112.75,104.22 114.00,103.80 C115.25,103.38 116.67,103.97 118.00,103.50 C119.33,103.03 120.42,101.42 122.00,101.00 C123.58,100.58 126.33,100.17 127.50,101.00 C128.67,101.83 128.25,104.67 129.00,106.00 C129.75,107.33 131.00,108.00 132.00,109.00 C133.00,110.00 134.33,110.83 135.00,112.00 C135.67,113.17 136.33,115.50 136.00,116.00 C135.67,116.50 134.67,115.50 133.00,115.00 C131.33,114.50 128.00,113.50 126.00,113.00 C124.00,112.50 122.67,112.50 121.00,112.00 C119.33,111.50 117.50,110.50 116.00,110.00 C114.50,109.50 112.92,109.67 112.00,109.00 C111.08,108.33 110.17,106.87 110.50,106.00Z" fill="#fb7f0b" fill-opacity="0.50"/><path d="M110.50,106.00 C110.83,105.13 112.75,104.22 114.00,103.80 C115.25,103.38 116.67,103.97 118.00,103.50 C119.33,103.03 120.42,101.42 122.00,101.00 C123.58,100.58 126.33,100.17 127.50,101.00 C128.67,101.83 128.25,104.67 129.00,106.00 C129.75,107.33 131.00,108.00 132.00,109.00 C133.00,110.00 134.33,110.83 135.00,112.00 C135.67,113.17 136.33,115.50 136.00,116.00 C135.67,116.50 134.67,115.50 133.00,115.00 C131.33,114.50 128.00,113.50 126.00,113.00 C124.00,112.50 122.67,112.50 121.00,112.00 C119.33,111.50 117.50,110.50 116.00,110.00 C114.50,109.50 112.92,109.67 112.00,109.00 C111.08,108.33 110.17,106.87 110.50,106.00Z" fill="url(#sp1)" fill-opacity="0.8"/><g fill="#fb7f0b" fill-opacity="0.85"><circle cx="132.9" cy="108.5" r="0.37"/><circle cx="117.7" cy="112.0" r="0.33"/><circle cx="111.8" cy="105.3" r="0.28"/><circle cx="132.4" cy="115.0" r="0.32"/><circle cx="128.5" cy="100.3" r="0.43"/><circle cx="109.6" cy="107.0" r="0.32"/><circle cx="113.8" cy="108.3" r="0.31"/><circle cx="116.6" cy="103.3" r="0.38"/><circle cx="118.0" cy="111.4" r="0.35"/><circle cx="121.5" cy="112.3" r="0.45"/><circle cx="127.3" cy="99.7" r="0.31"/><circle cx="127.3" cy="113.8" r="0.31"/><circle cx="111.3" cy="109.3" r="0.36"/><circle cx="112.0" cy="103.9" r="0.43"/><circle cx="129.0" cy="106.1" r="0.41"/><circle cx="129.3" cy="114.6" r="0.30"/><circle cx="113.0" cy="109.6" r="0.42"/><circle cx="121.8" cy="100.4" r="0.42"/><circle cx="115.8" cy="104.6" r="0.36"/><circle cx="129.1" cy="106.3" r="0.35"/><circle cx="110.8" cy="105.4" r="0.42"/><circle cx="135.1" cy="114.9" r="0.29"/><circle cx="122.1" cy="113.6" r="0.42"/><circle cx="129.0" cy="113.1" r="0.39"/><circle cx="112.0" cy="109.0" r="0.34"/><circle cx="135.5" cy="113.2" r="0.43"/><circle cx="130.3" cy="107.4" r="0.38"/><circle cx="120.6" cy="101.4" r="0.35"/><circle cx="135.2" cy="112.3" r="0.44"/><circle cx="123.2" cy="101.3" r="0.37"/><circle cx="135.9" cy="115.8" r="0.32"/><circle cx="125.8" cy="113.8" r="0.39"/><circle cx="129.0" cy="106.3" r="0.39"/><circle cx="128.4" cy="114.3" r="0.41"/><circle cx="117.1" cy="102.4" r="0.28"/><circle cx="125.6" cy="101.3" r="0.28"/><circle cx="134.7" cy="112.3" r="0.35"/><circle cx="129.6" cy="105.2" r="0.29"/><circle cx="124.2" cy="101.0" r="0.29"/><circle cx="128.0" cy="111.2" r="0.31"/><circle cx="112.5" cy="104.0" r="0.44"/><circle cx="130.1" cy="107.5" r="0.45"/><circle cx="134.5" cy="113.3" r="0.41"/><circle cx="118.8" cy="111.3" r="0.34"/><circle cx="114.7" cy="110.5" r="0.37"/><circle cx="132.9" cy="110.2" r="0.37"/><circle cx="117.8" cy="110.8" r="0.43"/><circle cx="112.1" cy="107.3" r="0.39"/><circle cx="118.1" cy="111.1" r="0.32"/><circle cx="126.5" cy="112.7" r="0.39"/><circle cx="130.0" cy="114.0" r="0.35"/><circle cx="127.7" cy="103.2" r="0.29"/><circle cx="128.9" cy="115.1" r="0.32"/><circle cx="135.9" cy="114.8" r="0.40"/><circle cx="114.4" cy="103.7" r="0.40"/><circle cx="129.5" cy="106.8" r="0.36"/><circle cx="131.9" cy="108.9" r="0.32"/><circle cx="110.9" cy="108.4" r="0.31"/><circle cx="111.0" cy="108.7" r="0.42"/><circle cx="130.3" cy="106.7" r="0.29"/><circle cx="111.5" cy="105.0" r="0.30"/><circle cx="132.5" cy="108.9" r="0.30"/><circle cx="133.9" cy="114.2" r="0.44"/><circle cx="123.8" cy="100.7" r="0.27"/><circle cx="133.1" cy="109.3" r="0.38"/><circle cx="128.2" cy="113.8" r="0.29"/><circle cx="127.8" cy="101.9" r="0.34"/><circle cx="117.9" cy="103.5" r="0.29"/><circle cx="123.8" cy="101.1" r="0.30"/><circle cx="136.2" cy="114.3" r="0.35"/><circle cx="125.5" cy="102.3" r="0.27"/><circle cx="126.1" cy="113.7" r="0.34"/><circle cx="133.9" cy="115.0" r="0.28"/><circle cx="126.8" cy="112.9" r="0.32"/><circle cx="135.3" cy="112.7" r="0.32"/><circle cx="134.3" cy="116.0" r="0.39"/><circle cx="115.6" cy="102.9" r="0.31"/><circle cx="116.5" cy="103.5" r="0.40"/><circle cx="128.1" cy="107.2" r="0.32"/><circle cx="112.7" cy="105.8" r="0.45"/><circle cx="126.1" cy="100.1" r="0.30"/><circle cx="109.8" cy="105.1" r="0.37"/><circle cx="115.3" cy="103.4" r="0.32"/><circle cx="132.8" cy="115.6" r="0.40"/><circle cx="115.9" cy="103.4" r="0.36"/><circle cx="130.4" cy="114.1" r="0.30"/><circle cx="111.1" cy="108.8" r="0.34"/><circle cx="127.5" cy="112.4" r="0.34"/><circle cx="135.0" cy="115.8" r="0.45"/><circle cx="111.9" cy="105.9" r="0.35"/><circle cx="118.8" cy="112.2" r="0.40"/><circle cx="113.3" cy="107.9" r="0.32"/><circle cx="121.3" cy="112.3" r="0.34"/><circle cx="121.9" cy="110.9" r="0.39"/><circle cx="120.9" cy="102.7" r="0.31"/><circle cx="128.8" cy="104.5" r="0.40"/><circle cx="123.9" cy="100.5" r="0.43"/><circle cx="127.8" cy="102.8" r="0.27"/><circle cx="132.1" cy="109.3" r="0.43"/><circle cx="131.2" cy="106.5" r="0.31"/><circle cx="125.8" cy="101.0" r="0.40"/><circle cx="134.1" cy="115.5" r="0.32"/><circle cx="109.9" cy="109.2" r="0.43"/><circle cx="118.0" cy="103.4" r="0.40"/><circle cx="120.2" cy="111.0" r="0.42"/><circle cx="119.0" cy="102.4" r="0.34"/><circle cx="121.3" cy="100.4" r="0.41"/><circle cx="130.5" cy="113.7" r="0.42"/><circle cx="134.9" cy="117.3" r="0.34"/><circle cx="115.9" cy="104.6" r="0.44"/><circle cx="129.9" cy="112.9" r="0.41"/><circle cx="131.5" cy="110.0" r="0.33"/><circle cx="116.0" cy="102.7" r="0.31"/><circle cx="128.7" cy="113.5" r="0.29"/><circle cx="134.0" cy="113.3" r="0.46"/><circle cx="132.9" cy="108.7" r="0.30"/><circle cx="111.4" cy="107.9" r="0.35"/><circle cx="110.8" cy="105.5" r="0.45"/><circle cx="131.9" cy="107.2" r="0.38"/><circle cx="124.2" cy="101.8" r="0.34"/><circle cx="130.1" cy="114.3" r="0.38"/><circle cx="110.8" cy="106.8" r="0.27"/><circle cx="116.6" cy="103.9" r="0.42"/><circle cx="128.8" cy="113.1" r="0.38"/><circle cx="135.5" cy="115.6" r="0.32"/><circle cx="133.1" cy="115.1" r="0.34"/><circle cx="134.5" cy="112.0" r="0.40"/><circle cx="120.7" cy="111.8" r="0.38"/><circle cx="118.0" cy="110.2" r="0.27"/><circle cx="116.1" cy="109.7" r="0.44"/><circle cx="119.9" cy="111.1" r="0.38"/><circle cx="129.3" cy="107.8" r="0.38"/><circle cx="126.8" cy="103.5" r="0.37"/><circle cx="112.2" cy="108.7" r="0.27"/><circle cx="132.3" cy="110.0" r="0.45"/><circle cx="131.1" cy="114.9" r="0.37"/><circle cx="127.2" cy="113.3" r="0.33"/><circle cx="117.6" cy="110.6" r="0.27"/><circle cx="130.7" cy="113.8" r="0.34"/><circle cx="123.5" cy="100.2" r="0.38"/><circle cx="126.8" cy="102.6" r="0.41"/></g><path d="M112.00,110.50 C112.58,109.92 114.67,109.42 116.00,110.00 C117.33,110.58 118.67,112.50 120.00,114.00 C121.33,115.50 123.17,117.23 124.00,119.00 C124.83,120.77 125.50,123.93 125.00,124.60 C124.50,125.27 122.50,124.10 121.00,123.00 C119.50,121.90 117.42,119.58 116.00,118.00 C114.58,116.42 113.17,114.75 112.50,113.50 C111.83,112.25 111.42,111.08 112.00,110.50Z" fill="#fb7f0b" fill-opacity="0.85"/><path d="M112.00,110.50 C112.58,109.92 114.67,109.42 116.00,110.00 C117.33,110.58 118.67,112.50 120.00,114.00 C121.33,115.50 123.17,117.23 124.00,119.00 C124.83,120.77 125.50,123.93 125.00,124.60 C124.50,125.27 122.50,124.10 121.00,123.00 C119.50,121.90 117.42,119.58 116.00,118.00 C114.58,116.42 113.17,114.75 112.50,113.50 C111.83,112.25 111.42,111.08 112.00,110.50Z" fill="url(#sp1)" fill-opacity="0.8"/><g fill="#fb7f0b" fill-opacity="0.85"><circle cx="112.3" cy="113.3" r="0.34"/><circle cx="123.1" cy="117.3" r="0.37"/><circle cx="116.6" cy="118.5" r="0.32"/><circle cx="125.2" cy="123.3" r="0.43"/><circle cx="122.6" cy="119.1" r="0.28"/><circle cx="122.8" cy="117.5" r="0.32"/><circle cx="118.4" cy="120.5" r="0.42"/><circle cx="125.7" cy="125.1" r="0.42"/><circle cx="120.8" cy="113.1" r="0.31"/><circle cx="112.9" cy="109.5" r="0.28"/><circle cx="116.9" cy="117.8" r="0.42"/><circle cx="111.5" cy="112.3" r="0.44"/><circle cx="121.7" cy="115.7" r="0.43"/><circle cx="123.1" cy="124.4" r="0.37"/><circle cx="118.1" cy="110.0" r="0.31"/><circle cx="118.6" cy="120.5" r="0.41"/><circle cx="116.6" cy="119.0" r="0.32"/><circle cx="115.3" cy="118.9" r="0.30"/><circle cx="115.5" cy="111.5" r="0.30"/><circle cx="115.1" cy="109.8" r="0.39"/><circle cx="115.5" cy="111.1" r="0.43"/><circle cx="124.0" cy="120.1" r="0.33"/><circle cx="120.6" cy="113.3" r="0.42"/><circle cx="124.4" cy="124.1" r="0.34"/><circle cx="121.4" cy="117.1" r="0.31"/><circle cx="122.2" cy="118.4" r="0.39"/><circle cx="123.6" cy="124.1" r="0.44"/><circle cx="123.2" cy="121.1" r="0.31"/><circle cx="121.4" cy="115.4" r="0.41"/><circle cx="115.8" cy="112.7" r="0.36"/><circle cx="124.7" cy="117.7" r="0.34"/><circle cx="116.1" cy="109.9" r="0.44"/><circle cx="119.6" cy="122.7" r="0.32"/><circle cx="122.9" cy="121.9" r="0.44"/><circle cx="110.7" cy="113.8" r="0.29"/><circle cx="111.8" cy="112.6" r="0.34"/><circle cx="113.4" cy="111.1" r="0.42"/><circle cx="124.0" cy="118.3" r="0.41"/><circle cx="124.2" cy="122.7" r="0.42"/><circle cx="119.4" cy="120.8" r="0.31"/><circle cx="123.0" cy="119.2" r="0.44"/><circle cx="111.9" cy="112.3" r="0.29"/><circle cx="113.9" cy="110.0" r="0.35"/><circle cx="111.6" cy="111.6" r="0.35"/><circle cx="119.1" cy="111.9" r="0.37"/><circle cx="124.3" cy="121.3" r="0.36"/><circle cx="125.4" cy="121.5" r="0.31"/><circle cx="114.6" cy="110.8" r="0.41"/><circle cx="113.6" cy="116.0" r="0.35"/><circle cx="124.1" cy="124.3" r="0.28"/><circle cx="119.4" cy="121.0" r="0.44"/><circle cx="115.2" cy="117.3" r="0.37"/><circle cx="120.1" cy="122.3" r="0.36"/><circle cx="113.3" cy="109.3" r="0.32"/><circle cx="124.5" cy="122.0" r="0.30"/><circle cx="114.3" cy="117.5" r="0.33"/><circle cx="114.8" cy="116.9" r="0.34"/><circle cx="124.1" cy="125.7" r="0.39"/><circle cx="124.3" cy="124.2" r="0.33"/><circle cx="120.0" cy="113.9" r="0.35"/><circle cx="114.2" cy="114.4" r="0.32"/><circle cx="119.9" cy="113.5" r="0.40"/><circle cx="123.2" cy="117.0" r="0.42"/><circle cx="110.6" cy="112.5" r="0.27"/><circle cx="114.7" cy="115.3" r="0.34"/><circle cx="116.4" cy="119.1" r="0.41"/><circle cx="123.8" cy="123.3" r="0.27"/><circle cx="116.8" cy="119.4" r="0.27"/><circle cx="120.1" cy="113.9" r="0.39"/><circle cx="124.3" cy="120.4" r="0.31"/><circle cx="123.5" cy="123.7" r="0.30"/><circle cx="121.9" cy="116.9" r="0.33"/><circle cx="117.5" cy="119.6" r="0.41"/><circle cx="116.6" cy="110.2" r="0.28"/><circle cx="120.0" cy="114.6" r="0.43"/><circle cx="112.2" cy="114.2" r="0.40"/><circle cx="123.3" cy="125.7" r="0.45"/><circle cx="112.2" cy="111.0" r="0.30"/><circle cx="124.5" cy="120.8" r="0.42"/><circle cx="123.5" cy="116.7" r="0.32"/><circle cx="119.9" cy="113.9" r="0.29"/><circle cx="118.5" cy="113.4" r="0.35"/><circle cx="120.7" cy="116.2" r="0.40"/><circle cx="124.0" cy="117.1" r="0.37"/><circle cx="124.5" cy="123.1" r="0.43"/><circle cx="122.9" cy="124.1" r="0.43"/><circle cx="113.2" cy="109.8" r="0.37"/><circle cx="114.4" cy="117.2" r="0.39"/><circle cx="118.3" cy="112.3" r="0.45"/><circle cx="118.7" cy="112.5" r="0.32"/><circle cx="117.1" cy="111.3" r="0.30"/><circle cx="116.7" cy="118.4" r="0.43"/><circle cx="117.1" cy="112.1" r="0.36"/><circle cx="112.1" cy="113.9" r="0.45"/><circle cx="124.4" cy="117.4" r="0.30"/><circle cx="124.3" cy="124.1" r="0.43"/></g><path d="M122.00,101.50 C122.75,100.80 125.92,100.38 127.00,100.80 C128.08,101.22 128.67,103.22 128.50,104.00 C128.33,104.78 127.00,105.33 126.00,105.50 C125.00,105.67 123.17,105.67 122.50,105.00 C121.83,104.33 121.25,102.20 122.00,101.50Z" fill="#fb7f0b" fill-opacity="0.90"/><g fill="#fb7f0b" fill-opacity="0.85"><circle cx="123.1" cy="104.1" r="0.28"/><circle cx="123.1" cy="103.0" r="0.40"/><circle cx="127.1" cy="100.9" r="0.41"/><circle cx="123.4" cy="101.1" r="0.42"/><circle cx="128.6" cy="103.5" r="0.37"/><circle cx="122.2" cy="101.5" r="0.43"/><circle cx="123.2" cy="106.2" r="0.45"/><circle cx="123.1" cy="102.8" r="0.40"/><circle cx="127.8" cy="105.5" r="0.35"/><circle cx="126.6" cy="104.8" r="0.27"/><circle cx="122.2" cy="103.1" r="0.29"/><circle cx="122.0" cy="101.1" r="0.29"/><circle cx="121.8" cy="102.6" r="0.29"/><circle cx="128.2" cy="103.2" r="0.35"/><circle cx="123.4" cy="101.3" r="0.45"/><circle cx="122.4" cy="104.2" r="0.40"/><circle cx="127.6" cy="104.3" r="0.36"/><circle cx="123.6" cy="106.1" r="0.35"/><circle cx="126.9" cy="101.6" r="0.39"/><circle cx="127.4" cy="104.5" r="0.36"/><circle cx="122.1" cy="101.8" r="0.33"/><circle cx="127.8" cy="102.0" r="0.27"/><circle cx="120.8" cy="103.1" r="0.40"/><circle cx="124.0" cy="104.6" r="0.40"/><circle cx="124.9" cy="100.7" r="0.41"/><circle cx="124.4" cy="102.2" r="0.42"/><circle cx="122.4" cy="102.2" r="0.29"/><circle cx="124.0" cy="104.2" r="0.41"/><circle cx="126.2" cy="103.9" r="0.39"/><circle cx="124.6" cy="105.0" r="0.41"/><circle cx="127.3" cy="105.6" r="0.35"/><circle cx="127.6" cy="103.2" r="0.34"/><circle cx="126.9" cy="104.8" r="0.28"/><circle cx="122.2" cy="100.8" r="0.35"/><circle cx="126.1" cy="105.6" r="0.27"/><circle cx="122.9" cy="103.6" r="0.35"/><circle cx="128.8" cy="102.2" r="0.42"/><circle cx="126.4" cy="102.0" r="0.42"/><circle cx="128.0" cy="104.4" r="0.42"/></g><g fill="#fb7f0b" fill-opacity="0.90"><circle cx="141.0" cy="134.4" r="0.50"/><circle cx="140.9" cy="144.1" r="0.50"/><circle cx="142.2" cy="139.4" r="0.50"/><circle cx="136.2" cy="140.8" r="0.50"/><circle cx="142.0" cy="142.5" r="0.50"/><circle cx="142.1" cy="143.0" r="0.50"/><circle cx="136.3" cy="135.3" r="0.50"/><circle cx="141.8" cy="135.1" r="0.50"/><circle cx="136.8" cy="138.3" r="0.50"/><circle cx="135.2" cy="137.3" r="0.50"/><circle cx="138.0" cy="147.7" r="0.50"/><circle cx="137.8" cy="137.2" r="0.50"/><circle cx="138.4" cy="144.6" r="0.50"/><circle cx="135.4" cy="138.0" r="0.50"/><circle cx="133.8" cy="142.7" r="0.50"/><circle cx="139.8" cy="146.2" r="0.50"/><circle cx="135.6" cy="146.8" r="0.50"/><circle cx="140.7" cy="138.6" r="0.50"/><circle cx="136.7" cy="138.4" r="0.50"/><circle cx="134.7" cy="143.4" r="0.50"/><circle cx="136.1" cy="136.4" r="0.50"/><circle cx="139.7" cy="140.6" r="0.50"/><circle cx="136.1" cy="138.8" r="0.50"/><circle cx="136.6" cy="145.9" r="0.50"/><circle cx="140.9" cy="136.6" r="0.50"/><circle cx="137.9" cy="146.1" r="0.50"/><circle cx="137.3" cy="147.0" r="0.50"/><circle cx="139.4" cy="143.4" r="0.50"/><circle cx="133.6" cy="142.9" r="0.50"/><circle cx="139.1" cy="143.0" r="0.50"/><circle cx="139.6" cy="142.7" r="0.50"/><circle cx="136.4" cy="144.4" r="0.50"/><circle cx="138.2" cy="134.9" r="0.50"/><circle cx="134.9" cy="140.8" r="0.50"/><circle cx="138.7" cy="132.5" r="0.50"/><circle cx="133.7" cy="143.5" r="0.50"/><circle cx="138.0" cy="147.9" r="0.50"/><circle cx="133.9" cy="139.0" r="0.50"/><circle cx="136.1" cy="142.8" r="0.50"/><circle cx="141.1" cy="145.7" r="0.50"/></g><g fill="#fb7f0b" fill-opacity="0.85"><circle cx="126.8" cy="124.1" r="0.40"/><circle cx="121.4" cy="119.7" r="0.52"/><circle cx="131.5" cy="122.0" r="0.37"/><circle cx="122.9" cy="116.9" r="0.56"/><circle cx="128.5" cy="119.5" r="0.41"/><circle cx="123.5" cy="118.4" r="0.44"/><circle cx="133.0" cy="130.1" r="0.52"/><circle cx="134.8" cy="127.0" r="0.38"/><circle cx="118.8" cy="115.8" r="0.41"/><circle cx="129.1" cy="121.9" r="0.41"/><circle cx="136.7" cy="129.3" r="0.44"/><circle cx="123.6" cy="114.3" r="0.40"/><circle cx="130.2" cy="127.7" r="0.42"/><circle cx="123.2" cy="114.0" r="0.60"/><circle cx="124.6" cy="116.3" r="0.46"/><circle cx="135.7" cy="117.7" r="0.39"/><circle cx="130.0" cy="127.1" r="0.48"/><circle cx="120.1" cy="116.0" r="0.41"/><circle cx="127.8" cy="123.0" r="0.49"/><circle cx="126.9" cy="113.0" r="0.56"/><circle cx="132.9" cy="115.0" r="0.42"/><circle cx="134.2" cy="127.8" r="0.38"/><circle cx="125.8" cy="115.6" r="0.51"/><circle cx="124.1" cy="115.1" r="0.39"/><circle cx="125.6" cy="114.9" r="0.45"/><circle cx="128.5" cy="124.7" r="0.45"/><circle cx="133.2" cy="114.0" r="0.43"/><circle cx="135.7" cy="131.9" r="0.58"/><circle cx="132.5" cy="124.3" r="0.55"/><circle cx="128.9" cy="114.7" r="0.41"/><circle cx="124.1" cy="121.4" r="0.48"/><circle cx="133.1" cy="130.3" r="0.57"/><circle cx="124.0" cy="115.3" r="0.54"/><circle cx="131.2" cy="120.5" r="0.44"/><circle cx="124.5" cy="119.4" r="0.48"/><circle cx="132.4" cy="124.8" r="0.44"/><circle cx="133.2" cy="119.0" r="0.37"/><circle cx="128.0" cy="124.7" r="0.48"/><circle cx="125.8" cy="124.8" r="0.37"/><circle cx="132.6" cy="115.6" r="0.48"/><circle cx="135.1" cy="129.2" r="0.45"/><circle cx="127.1" cy="118.4" r="0.59"/><circle cx="132.9" cy="127.6" r="0.43"/><circle cx="131.9" cy="123.2" r="0.55"/><circle cx="131.0" cy="122.4" r="0.49"/><circle cx="133.3" cy="124.2" r="0.59"/><circle cx="131.6" cy="123.3" r="0.56"/><circle cx="120.8" cy="119.8" r="0.53"/><circle cx="133.6" cy="120.6" r="0.60"/><circle cx="130.3" cy="113.0" r="0.38"/><circle cx="124.1" cy="118.0" r="0.46"/><circle cx="133.9" cy="124.8" r="0.46"/><circle cx="123.9" cy="125.9" r="0.44"/><circle cx="136.5" cy="134.0" r="0.53"/><circle cx="120.3" cy="119.9" r="0.38"/><circle cx="122.2" cy="117.1" r="0.36"/><circle cx="123.2" cy="113.3" r="0.48"/><circle cx="128.7" cy="125.7" r="0.42"/><circle cx="132.0" cy="127.9" r="0.53"/><circle cx="127.0" cy="122.7" r="0.42"/><circle cx="129.7" cy="116.3" r="0.57"/><circle cx="134.7" cy="131.6" r="0.55"/><circle cx="127.3" cy="116.0" r="0.42"/><circle cx="120.1" cy="112.1" r="0.44"/><circle cx="124.6" cy="125.7" r="0.38"/><circle cx="134.0" cy="119.8" r="0.58"/><circle cx="124.3" cy="119.0" r="0.39"/><circle cx="136.3" cy="125.6" r="0.56"/><circle cx="122.8" cy="112.6" r="0.59"/><circle cx="123.0" cy="124.9" r="0.44"/><circle cx="136.0" cy="132.2" r="0.41"/><circle cx="122.8" cy="120.4" r="0.50"/><circle cx="130.4" cy="114.2" r="0.58"/><circle cx="124.6" cy="115.3" r="0.37"/><circle cx="137.0" cy="130.4" r="0.46"/><circle cx="135.6" cy="124.2" r="0.42"/><circle cx="131.9" cy="127.4" r="0.56"/><circle cx="125.8" cy="124.9" r="0.56"/><circle cx="128.9" cy="115.4" r="0.58"/><circle cx="126.3" cy="116.3" r="0.45"/><circle cx="129.2" cy="121.9" r="0.35"/><circle cx="120.5" cy="117.9" r="0.55"/><circle cx="134.4" cy="132.3" r="0.39"/><circle cx="129.4" cy="120.4" r="0.35"/><circle cx="126.2" cy="117.5" r="0.50"/><circle cx="120.0" cy="117.1" r="0.46"/><circle cx="124.0" cy="122.9" r="0.39"/><circle cx="121.5" cy="114.3" r="0.51"/><circle cx="130.7" cy="120.5" r="0.38"/><circle cx="127.0" cy="122.9" r="0.52"/><circle cx="129.6" cy="121.7" r="0.40"/><circle cx="126.8" cy="124.6" r="0.57"/><circle cx="136.9" cy="124.8" r="0.43"/><circle cx="132.0" cy="117.7" r="0.52"/><circle cx="135.8" cy="122.0" r="0.51"/><circle cx="134.5" cy="116.7" r="0.44"/><circle cx="123.8" cy="123.0" r="0.54"/><circle cx="126.2" cy="112.6" r="0.48"/><circle cx="130.0" cy="116.7" r="0.56"/><circle cx="124.8" cy="126.3" r="0.49"/><circle cx="127.5" cy="112.8" r="0.42"/><circle cx="125.4" cy="124.1" r="0.46"/><circle cx="135.5" cy="133.1" r="0.53"/><circle cx="131.3" cy="115.3" r="0.36"/><circle cx="133.8" cy="127.5" r="0.51"/><circle cx="123.9" cy="118.1" r="0.58"/><circle cx="128.1" cy="112.5" r="0.44"/><circle cx="124.6" cy="113.6" r="0.59"/><circle cx="135.2" cy="130.7" r="0.35"/><circle cx="125.9" cy="114.6" r="0.53"/><circle cx="133.4" cy="130.2" r="0.55"/><circle cx="120.3" cy="112.3" r="0.37"/><circle cx="134.0" cy="131.1" r="0.48"/><circle cx="120.3" cy="119.5" r="0.35"/><circle cx="136.7" cy="121.5" r="0.54"/><circle cx="133.2" cy="125.4" r="0.60"/><circle cx="132.3" cy="117.2" r="0.43"/><circle cx="127.4" cy="128.1" r="0.48"/><circle cx="132.6" cy="119.7" r="0.45"/><circle cx="132.1" cy="128.2" r="0.57"/><circle cx="132.0" cy="125.2" r="0.45"/><circle cx="128.8" cy="113.8" r="0.37"/><circle cx="123.9" cy="114.8" r="0.36"/><circle cx="131.6" cy="128.8" r="0.50"/><circle cx="133.7" cy="126.2" r="0.41"/><circle cx="128.7" cy="121.1" r="0.42"/><circle cx="121.3" cy="118.1" r="0.48"/><circle cx="119.1" cy="119.0" r="0.49"/><circle cx="129.0" cy="126.7" r="0.50"/><circle cx="132.9" cy="120.4" r="0.35"/><circle cx="136.6" cy="130.2" r="0.38"/><circle cx="120.1" cy="117.1" r="0.51"/><circle cx="120.5" cy="112.5" r="0.47"/><circle cx="118.1" cy="118.0" r="0.45"/><circle cx="121.9" cy="112.1" r="0.41"/><circle cx="122.6" cy="119.5" r="0.45"/><circle cx="124.8" cy="119.5" r="0.35"/><circle cx="133.9" cy="129.0" r="0.47"/><circle cx="135.1" cy="122.5" r="0.40"/><circle cx="128.7" cy="114.7" r="0.43"/><circle cx="129.7" cy="127.5" r="0.51"/><circle cx="129.8" cy="120.7" r="0.37"/><circle cx="121.3" cy="120.0" r="0.40"/><circle cx="134.3" cy="130.8" r="0.56"/><circle cx="122.9" cy="125.2" r="0.52"/><circle cx="122.4" cy="120.8" r="0.38"/><circle cx="133.1" cy="116.2" r="0.38"/><circle cx="130.1" cy="124.1" r="0.56"/><circle cx="132.3" cy="116.8" r="0.48"/><circle cx="121.2" cy="117.6" r="0.39"/><circle cx="119.5" cy="120.1" r="0.57"/><circle cx="130.5" cy="114.0" r="0.40"/><circle cx="129.2" cy="124.2" r="0.36"/><circle cx="129.4" cy="113.8" r="0.54"/><circle cx="128.1" cy="119.8" r="0.59"/><circle cx="125.5" cy="121.7" r="0.49"/><circle cx="132.6" cy="124.4" r="0.53"/><circle cx="136.4" cy="129.5" r="0.40"/><circle cx="128.8" cy="122.1" r="0.41"/><circle cx="132.8" cy="117.1" r="0.53"/></g><path d="M102.5,99.8 Q106,101.5 110,104.3" stroke="#b5121b" stroke-width="1.1" fill="none" stroke-linecap="round"/><path d="M106.00,143.50 C106.58,142.42 108.50,142.00 110.00,141.50 C111.50,141.00 113.33,141.00 115.00,140.50 C116.67,140.00 118.33,139.25 120.00,138.50 C121.67,137.75 123.67,136.67 125.00,136.00 C126.33,135.33 127.07,134.33 128.00,134.50 C128.93,134.67 130.10,135.92 130.60,137.00 C131.10,138.08 131.18,139.67 131.00,141.00 C130.82,142.33 130.50,143.83 129.50,145.00 C128.50,146.17 126.92,147.25 125.00,148.00 C123.08,148.75 120.33,149.25 118.00,149.50 C115.67,149.75 112.92,149.75 111.00,149.50 C109.08,149.25 107.33,149.00 106.50,148.00 C105.67,147.00 105.42,144.58 106.00,143.50Z" fill="#ef7f72" fill-opacity="0.80"/><path d="M106.00,143.50 C106.58,142.42 108.50,142.00 110.00,141.50 C111.50,141.00 113.33,141.00 115.00,140.50 C116.67,140.00 118.33,139.25 120.00,138.50 C121.67,137.75 123.67,136.67 125.00,136.00 C126.33,135.33 127.07,134.33 128.00,134.50 C128.93,134.67 130.10,135.92 130.60,137.00 C131.10,138.08 131.18,139.67 131.00,141.00 C130.82,142.33 130.50,143.83 129.50,145.00 C128.50,146.17 126.92,147.25 125.00,148.00 C123.08,148.75 120.33,149.25 118.00,149.50 C115.67,149.75 112.92,149.75 111.00,149.50 C109.08,149.25 107.33,149.00 106.50,148.00 C105.67,147.00 105.42,144.58 106.00,143.50Z" fill="url(#sp3)" fill-opacity="0.8"/><g fill="#ef7f72" fill-opacity="0.85"><circle cx="130.0" cy="141.6" r="0.40"/><circle cx="107.3" cy="144.2" r="0.32"/><circle cx="121.3" cy="148.5" r="0.35"/><circle cx="128.1" cy="135.0" r="0.37"/><circle cx="125.1" cy="136.8" r="0.28"/><circle cx="115.8" cy="140.2" r="0.36"/><circle cx="129.8" cy="143.8" r="0.27"/><circle cx="129.8" cy="145.1" r="0.33"/><circle cx="125.1" cy="135.1" r="0.42"/><circle cx="106.6" cy="143.7" r="0.34"/><circle cx="128.0" cy="137.0" r="0.35"/><circle cx="129.3" cy="145.6" r="0.38"/><circle cx="112.7" cy="149.7" r="0.45"/><circle cx="129.7" cy="143.7" r="0.41"/><circle cx="127.8" cy="134.2" r="0.44"/><circle cx="127.7" cy="136.0" r="0.31"/><circle cx="120.3" cy="137.5" r="0.29"/><circle cx="118.8" cy="138.7" r="0.34"/><circle cx="115.5" cy="148.3" r="0.29"/><circle cx="108.2" cy="149.8" r="0.36"/><circle cx="108.3" cy="148.9" r="0.29"/><circle cx="131.2" cy="141.7" r="0.43"/><circle cx="128.7" cy="145.4" r="0.36"/><circle cx="131.3" cy="140.1" r="0.44"/><circle cx="118.6" cy="149.1" r="0.43"/><circle cx="106.1" cy="146.3" r="0.43"/><circle cx="116.0" cy="140.5" r="0.36"/><circle cx="127.2" cy="146.2" r="0.29"/><circle cx="119.3" cy="149.0" r="0.42"/><circle cx="108.2" cy="146.5" r="0.28"/><circle cx="128.4" cy="135.5" r="0.41"/><circle cx="108.6" cy="149.1" r="0.45"/><circle cx="108.7" cy="148.9" r="0.35"/><circle cx="130.4" cy="142.4" r="0.32"/><circle cx="107.1" cy="144.6" r="0.28"/><circle cx="116.4" cy="150.2" r="0.31"/><circle cx="109.7" cy="149.3" r="0.28"/><circle cx="109.0" cy="142.6" r="0.33"/><circle cx="120.8" cy="149.3" r="0.37"/><circle cx="111.2" cy="140.8" r="0.33"/><circle cx="112.6" cy="149.2" r="0.29"/><circle cx="108.9" cy="143.0" r="0.45"/><circle cx="106.5" cy="145.2" r="0.42"/><circle cx="114.8" cy="149.9" r="0.38"/><circle cx="113.2" cy="141.2" r="0.38"/><circle cx="125.8" cy="147.4" r="0.27"/><circle cx="106.2" cy="145.8" r="0.43"/><circle cx="113.1" cy="139.5" r="0.37"/><circle cx="127.5" cy="147.0" r="0.38"/><circle cx="116.2" cy="149.5" r="0.31"/><circle cx="124.3" cy="148.4" r="0.31"/><circle cx="114.3" cy="149.3" r="0.45"/><circle cx="128.1" cy="146.9" r="0.43"/><circle cx="127.1" cy="134.9" r="0.45"/><circle cx="125.3" cy="148.9" r="0.33"/><circle cx="130.9" cy="139.9" r="0.36"/><circle cx="123.7" cy="135.4" r="0.35"/><circle cx="125.3" cy="148.2" r="0.36"/><circle cx="130.2" cy="144.9" r="0.36"/><circle cx="127.1" cy="136.2" r="0.44"/><circle cx="106.4" cy="147.7" r="0.39"/><circle cx="108.1" cy="142.0" r="0.33"/><circle cx="130.5" cy="137.6" r="0.34"/><circle cx="115.1" cy="148.7" r="0.29"/><circle cx="119.1" cy="139.0" r="0.39"/><circle cx="129.3" cy="145.3" r="0.44"/><circle cx="130.3" cy="139.7" r="0.35"/><circle cx="106.4" cy="147.6" r="0.33"/><circle cx="117.4" cy="138.7" r="0.36"/><circle cx="106.7" cy="147.8" r="0.27"/><circle cx="120.2" cy="148.3" r="0.36"/><circle cx="106.8" cy="142.9" r="0.38"/><circle cx="109.6" cy="143.3" r="0.37"/><circle cx="115.6" cy="138.6" r="0.43"/><circle cx="124.6" cy="147.8" r="0.35"/><circle cx="113.8" cy="149.8" r="0.43"/><circle cx="121.0" cy="148.9" r="0.37"/><circle cx="105.3" cy="145.5" r="0.29"/><circle cx="128.6" cy="146.4" r="0.29"/><circle cx="131.8" cy="139.8" r="0.39"/><circle cx="108.1" cy="148.2" r="0.43"/><circle cx="130.5" cy="144.0" r="0.28"/><circle cx="121.7" cy="150.7" r="0.37"/><circle cx="107.6" cy="148.6" r="0.39"/><circle cx="119.9" cy="149.1" r="0.35"/><circle cx="120.2" cy="149.5" r="0.36"/><circle cx="124.2" cy="148.5" r="0.45"/><circle cx="122.1" cy="136.9" r="0.28"/><circle cx="131.8" cy="140.0" r="0.28"/><circle cx="120.3" cy="148.3" r="0.39"/><circle cx="130.7" cy="144.0" r="0.29"/><circle cx="125.1" cy="135.5" r="0.36"/><circle cx="119.7" cy="149.0" r="0.37"/><circle cx="107.2" cy="143.0" r="0.46"/><circle cx="107.6" cy="148.1" r="0.43"/><circle cx="123.3" cy="136.1" r="0.38"/><circle cx="118.3" cy="150.7" r="0.37"/><circle cx="117.7" cy="149.0" r="0.34"/><circle cx="128.8" cy="135.4" r="0.40"/><circle cx="129.6" cy="140.7" r="0.28"/><circle cx="127.0" cy="134.0" r="0.36"/><circle cx="121.8" cy="138.7" r="0.33"/><circle cx="108.0" cy="146.4" r="0.32"/><circle cx="130.9" cy="143.0" r="0.28"/><circle cx="131.8" cy="141.5" r="0.34"/><circle cx="122.8" cy="137.1" r="0.43"/><circle cx="112.6" cy="150.2" r="0.39"/><circle cx="128.0" cy="135.8" r="0.37"/><circle cx="110.8" cy="148.9" r="0.27"/><circle cx="115.4" cy="148.7" r="0.28"/><circle cx="111.0" cy="141.0" r="0.36"/><circle cx="106.5" cy="146.1" r="0.28"/><circle cx="129.1" cy="144.9" r="0.41"/><circle cx="106.8" cy="144.4" r="0.45"/><circle cx="118.7" cy="148.7" r="0.42"/><circle cx="125.2" cy="147.3" r="0.33"/><circle cx="126.2" cy="134.8" r="0.32"/><circle cx="106.3" cy="144.0" r="0.33"/><circle cx="111.1" cy="141.2" r="0.34"/><circle cx="110.1" cy="149.3" r="0.35"/><circle cx="131.4" cy="139.1" r="0.37"/><circle cx="131.2" cy="140.7" r="0.36"/><circle cx="114.5" cy="149.6" r="0.44"/><circle cx="114.5" cy="140.5" r="0.39"/><circle cx="114.8" cy="141.3" r="0.41"/><circle cx="130.0" cy="138.0" r="0.36"/><circle cx="123.3" cy="136.9" r="0.29"/><circle cx="129.0" cy="145.6" r="0.27"/><circle cx="121.5" cy="149.7" r="0.32"/><circle cx="130.3" cy="138.3" r="0.32"/><circle cx="122.0" cy="149.0" r="0.32"/><circle cx="129.8" cy="138.6" r="0.39"/><circle cx="130.9" cy="137.4" r="0.29"/><circle cx="117.6" cy="140.6" r="0.33"/><circle cx="107.9" cy="149.0" r="0.30"/><circle cx="114.4" cy="139.7" r="0.31"/><circle cx="113.7" cy="148.8" r="0.38"/><circle cx="123.5" cy="148.4" r="0.34"/><circle cx="105.7" cy="147.7" r="0.28"/><circle cx="116.8" cy="149.0" r="0.34"/></g><g fill="#f6b222" fill-opacity="0.90"><circle cx="108.5" cy="137.4" r="0.45"/><circle cx="111.4" cy="138.5" r="0.45"/><circle cx="109.6" cy="135.5" r="0.45"/><circle cx="115.7" cy="136.7" r="0.45"/><circle cx="114.4" cy="135.4" r="0.45"/><circle cx="111.4" cy="137.1" r="0.45"/><circle cx="114.4" cy="139.7" r="0.45"/><circle cx="113.8" cy="135.8" r="0.45"/><circle cx="108.6" cy="136.1" r="0.45"/><circle cx="109.3" cy="138.0" r="0.45"/><circle cx="108.5" cy="137.0" r="0.45"/><circle cx="114.4" cy="139.4" r="0.45"/><circle cx="106.8" cy="136.2" r="0.45"/><circle cx="110.0" cy="139.7" r="0.45"/><circle cx="110.2" cy="140.2" r="0.45"/><circle cx="112.0" cy="139.8" r="0.45"/><circle cx="108.3" cy="136.9" r="0.45"/><circle cx="114.1" cy="138.5" r="0.45"/><circle cx="106.5" cy="137.1" r="0.45"/><circle cx="111.6" cy="138.7" r="0.45"/><circle cx="109.5" cy="140.0" r="0.45"/><circle cx="111.4" cy="139.9" r="0.45"/><circle cx="112.4" cy="137.7" r="0.45"/><circle cx="110.1" cy="135.5" r="0.45"/><circle cx="113.6" cy="138.8" r="0.45"/></g><text x="96.6" y="110.2" font-size="7.3" fill="#2a2a2a">Eosinophils</text><text x="64.8" y="121.2" font-size="7.3" fill="#2a2a2a">Lymphocytes</text><text x="147" y="123" font-size="7.3" fill="#2a2a2a">Granulocytes</text><text x="106.3" y="155.5" font-size="7.3" fill="#2a2a2a">Monocytes</text><text x="33.4" y="169.4" font-size="7.3" fill="#2a2a2a">Erythroblasts</text><path d="M104.5,168.4 H132" stroke="#111" stroke-width="0.9"/><path d="M136.5,168.4 L130.5,166.2 L130.5,170.6 Z" fill="#111"/><text x="139.2" y="171.1" font-size="7.6" font-weight="bold" fill="#111">Subclustering</text><path d="M16.3,193.6 V160" stroke="#111" stroke-width="0.9"/><path d="M16.3,156.5 L14.3,162 L18.3,162 Z" fill="#111"/><path d="M11.1,189.9 H42" stroke="#111" stroke-width="0.9"/><path d="M45.3,189.9 L39.8,187.9 L39.8,191.9 Z" fill="#111"/><text x="17.3" y="198.8" font-size="7.4" fill="#2a2a2a">UMAP-1</text><text transform="translate(13.3,173.8) rotate(-90)" font-size="7.4" fill="#2a2a2a" text-anchor="middle">UMAP-2</text><circle cx="132.2" cy="17.50" r="1.9" fill="#b5121b"/><text x="137" y="19.90" font-size="6.9" fill="#2a2a2a">Eosinophils</text><circle cx="132.2" cy="25.63" r="1.9" fill="#7f9a33"/><text x="137" y="28.03" font-size="6.9" fill="#2a2a2a">Erythroblasts</text><circle cx="132.2" cy="33.76" r="1.9" fill="#f7820f"/><text x="137" y="36.16" font-size="6.9" fill="#2a2a2a">Granulocytes</text><circle cx="132.2" cy="41.89" r="1.9" fill="#f6b222"/><text x="137" y="44.29" font-size="6.9" fill="#2a2a2a">Lymphocytes</text><circle cx="132.2" cy="50.02" r="1.9" fill="#ef7064"/><text x="137" y="52.42" font-size="6.9" fill="#2a2a2a">Monocytes</text><text x="216.6" y="16.0" font-size="10.7" font-weight="bold" fill="#111">B</text><rect x="273.20" y="20.8" width="97.10" height="9" fill="#d4d4d4"/><text x="321.75" y="28.1" font-size="7.3" text-anchor="middle" fill="#222">BM</text><rect x="273.70" y="31.20" width="96.10" height="95.10" fill="none" stroke="#2a2a2a" stroke-width="1"/><path d="M281.50,126.30 V128.80" stroke="#333" stroke-width="0.7"/><text x="281.50" y="137.80" font-size="7.5" text-anchor="middle" fill="#2a2a2a">−10</text><path d="M303.25,126.30 V128.80" stroke="#333" stroke-width="0.7"/><text x="303.25" y="137.80" font-size="7.5" text-anchor="middle" fill="#2a2a2a">−5</text><path d="M325.00,126.30 V128.80" stroke="#333" stroke-width="0.7"/><text x="325.00" y="137.80" font-size="7.5" text-anchor="middle" fill="#2a2a2a">0</text><path d="M346.75,126.30 V128.80" stroke="#333" stroke-width="0.7"/><text x="346.75" y="137.80" font-size="7.5" text-anchor="middle" fill="#2a2a2a">5</text><path d="M368.50,126.30 V128.80" stroke="#333" stroke-width="0.7"/><text x="368.50" y="137.80" font-size="7.5" text-anchor="middle" fill="#2a2a2a">10</text><rect x="371.80" y="20.8" width="97.30" height="9" fill="#d4d4d4"/><text x="420.45" y="28.1" font-size="7.3" text-anchor="middle" fill="#222">PB</text><rect x="372.30" y="31.20" width="96.30" height="95.10" fill="none" stroke="#2a2a2a" stroke-width="1"/><path d="M380.10,126.30 V128.80" stroke="#333" stroke-width="0.7"/><text x="380.10" y="137.80" font-size="7.5" text-anchor="middle" fill="#2a2a2a">−10</text><path d="M401.85,126.30 V128.80" stroke="#333" stroke-width="0.7"/><text x="401.85" y="137.80" font-size="7.5" text-anchor="middle" fill="#2a2a2a">−5</text><path d="M423.60,126.30 V128.80" stroke="#333" stroke-width="0.7"/><text x="423.60" y="137.80" font-size="7.5" text-anchor="middle" fill="#2a2a2a">0</text><path d="M445.35,126.30 V128.80" stroke="#333" stroke-width="0.7"/><text x="445.35" y="137.80" font-size="7.5" text-anchor="middle" fill="#2a2a2a">5</text><path d="M467.10,126.30 V128.80" stroke="#333" stroke-width="0.7"/><text x="467.10" y="137.80" font-size="7.5" text-anchor="middle" fill="#2a2a2a">10</text><path d="M270.8,46.75 H273.7" stroke="#333" stroke-width="0.7"/><text x="267.2" y="49.40" font-size="7.5" text-anchor="end" fill="#2a2a2a">10</text><path d="M270.8,64.25 H273.7" stroke="#333" stroke-width="0.7"/><text x="267.2" y="66.90" font-size="7.5" text-anchor="end" fill="#2a2a2a">5</text><path d="M270.8,81.75 H273.7" stroke="#333" stroke-width="0.7"/><text x="267.2" y="84.40" font-size="7.5" text-anchor="end" fill="#2a2a2a">0</text><path d="M270.8,99.25 H273.7" stroke="#333" stroke-width="0.7"/><text x="267.2" y="101.90" font-size="7.5" text-anchor="end" fill="#2a2a2a">−5</text><path d="M270.8,116.75 H273.7" stroke="#333" stroke-width="0.7"/><text x="267.2" y="119.40" font-size="7.5" text-anchor="end" fill="#2a2a2a">−10</text><text transform="translate(251,78.7) rotate(-90) scale(0.655,1)" font-size="9.4" font-weight="bold" text-anchor="middle" fill="#262626">UMAP-2</text><text transform="translate(370.7,150.4) scale(0.65,1)" font-size="9.3" font-weight="bold" text-anchor="middle" fill="#262626">UMAP-1</text><g id="umapc"><path d="M306.90,37.90 C307.33,37.12 308.43,35.42 309.50,35.30 C310.57,35.18 311.97,36.32 313.30,37.20 C314.63,38.08 316.88,39.50 317.50,40.60 C318.12,41.70 317.18,42.92 317.00,43.80 C316.82,44.68 317.02,45.55 316.40,45.90 C315.78,46.25 314.53,46.43 313.30,45.90 C312.07,45.37 310.07,43.68 309.00,42.70 C307.93,41.72 307.25,40.80 306.90,40.00 C306.55,39.20 306.47,38.68 306.90,37.90Z" fill="#c0301f" fill-opacity="0.95"/><path d="M306.90,37.90 C307.33,37.12 308.43,35.42 309.50,35.30 C310.57,35.18 311.97,36.32 313.30,37.20 C314.63,38.08 316.88,39.50 317.50,40.60 C318.12,41.70 317.18,42.92 317.00,43.80 C316.82,44.68 317.02,45.55 316.40,45.90 C315.78,46.25 314.53,46.43 313.30,45.90 C312.07,45.37 310.07,43.68 309.00,42.70 C307.93,41.72 307.25,40.80 306.90,40.00 C306.55,39.20 306.47,38.68 306.90,37.90Z" fill="url(#sp0)" fill-opacity="0.8"/><g fill="#c0301f" fill-opacity="0.85"><circle cx="306.2" cy="40.4" r="0.35"/><circle cx="318.4" cy="44.2" r="0.38"/><circle cx="315.9" cy="39.8" r="0.44"/><circle cx="308.1" cy="43.1" r="0.37"/><circle cx="313.2" cy="36.8" r="0.30"/><circle cx="316.6" cy="45.7" r="0.30"/><circle cx="312.1" cy="44.5" r="0.39"/><circle cx="318.6" cy="44.4" r="0.36"/><circle cx="309.7" cy="42.4" r="0.36"/><circle cx="312.3" cy="37.0" r="0.38"/><circle cx="312.5" cy="36.4" r="0.40"/><circle cx="314.5" cy="44.2" r="0.32"/><circle cx="311.7" cy="46.5" r="0.42"/><circle cx="310.3" cy="43.7" r="0.44"/><circle cx="307.5" cy="38.7" r="0.42"/><circle cx="313.7" cy="44.6" r="0.35"/><circle cx="317.5" cy="39.4" r="0.37"/><circle cx="308.3" cy="41.6" r="0.35"/><circle cx="309.3" cy="35.4" r="0.43"/><circle cx="313.6" cy="37.8" r="0.39"/><circle cx="316.8" cy="40.2" r="0.45"/><circle cx="316.2" cy="43.7" r="0.34"/><circle cx="313.5" cy="46.2" r="0.44"/><circle cx="310.2" cy="43.9" r="0.28"/><circle cx="307.6" cy="35.4" r="0.43"/><circle cx="311.6" cy="35.1" r="0.36"/><circle cx="308.7" cy="42.6" r="0.36"/><circle cx="311.2" cy="44.9" r="0.43"/><circle cx="316.7" cy="40.5" r="0.36"/><circle cx="311.6" cy="45.9" r="0.36"/><circle cx="307.7" cy="37.5" r="0.37"/><circle cx="307.0" cy="39.5" r="0.31"/><circle cx="311.2" cy="35.2" r="0.27"/><circle cx="313.6" cy="37.8" r="0.32"/><circle cx="307.0" cy="41.0" r="0.38"/><circle cx="308.5" cy="35.2" r="0.28"/><circle cx="316.2" cy="46.2" r="0.38"/><circle cx="307.1" cy="40.4" r="0.30"/><circle cx="312.4" cy="45.0" r="0.35"/><circle cx="312.9" cy="38.3" r="0.37"/><circle cx="311.3" cy="43.8" r="0.38"/><circle cx="315.8" cy="40.1" r="0.39"/><circle cx="311.4" cy="35.8" r="0.33"/><circle cx="309.3" cy="42.2" r="0.45"/><circle cx="308.2" cy="36.9" r="0.27"/><circle cx="311.4" cy="45.0" r="0.27"/><circle cx="309.7" cy="35.7" r="0.36"/><circle cx="315.9" cy="38.5" r="0.45"/><circle cx="309.5" cy="43.8" r="0.44"/><circle cx="316.0" cy="45.6" r="0.33"/><circle cx="313.0" cy="37.8" r="0.33"/><circle cx="309.5" cy="43.4" r="0.28"/><circle cx="307.7" cy="42.2" r="0.31"/><circle cx="311.6" cy="46.0" r="0.38"/><circle cx="309.9" cy="36.8" r="0.27"/><circle cx="313.4" cy="45.6" r="0.33"/><circle cx="316.0" cy="43.0" r="0.28"/><circle cx="316.9" cy="44.9" r="0.32"/><circle cx="312.4" cy="38.1" r="0.34"/><circle cx="308.0" cy="40.9" r="0.37"/><circle cx="308.0" cy="37.3" r="0.29"/><circle cx="315.8" cy="44.2" r="0.32"/><circle cx="307.2" cy="40.5" r="0.42"/><circle cx="307.6" cy="42.4" r="0.43"/><circle cx="309.2" cy="42.0" r="0.31"/><circle cx="309.5" cy="42.6" r="0.44"/><circle cx="311.5" cy="43.2" r="0.37"/><circle cx="311.2" cy="44.0" r="0.36"/><circle cx="317.1" cy="44.4" r="0.43"/><circle cx="308.4" cy="41.3" r="0.36"/><circle cx="316.3" cy="45.8" r="0.35"/><circle cx="307.1" cy="39.6" r="0.28"/><circle cx="313.7" cy="37.3" r="0.42"/><circle cx="310.2" cy="43.0" r="0.44"/><circle cx="315.0" cy="40.4" r="0.37"/><circle cx="313.0" cy="45.7" r="0.32"/><circle cx="309.6" cy="35.0" r="0.45"/><circle cx="313.4" cy="46.7" r="0.33"/><circle cx="318.0" cy="45.1" r="0.42"/><circle cx="315.9" cy="45.3" r="0.29"/><circle cx="315.4" cy="38.0" r="0.29"/><circle cx="313.1" cy="37.2" r="0.27"/><circle cx="318.3" cy="43.1" r="0.29"/><circle cx="311.3" cy="43.7" r="0.37"/></g><path d="M277.4,61.6 L283.4,57.4" stroke="#c81e1e" stroke-width="1.6" stroke-linecap="round"/><path d="M287,54.3 L295.5,53.4" stroke="#c9a06a" stroke-width="2.0" stroke-linecap="round"/><path d="M295.80,52.50 C296.50,52.17 298.72,52.42 300.00,52.00 C301.28,51.58 302.67,50.53 303.50,50.00 C304.33,49.47 304.50,48.80 305.00,48.80 C305.50,48.80 305.75,49.58 306.50,50.00 C307.25,50.42 309.25,50.80 309.50,51.30 C309.75,51.80 309.08,52.55 308.00,53.00 C306.92,53.45 304.25,53.67 303.00,54.00 C301.75,54.33 301.00,54.33 300.50,55.00 C300.00,55.67 300.33,57.67 300.00,58.00 C299.67,58.33 298.75,57.58 298.50,57.00 C298.25,56.42 298.95,55.00 298.50,54.50 C298.05,54.00 296.25,54.33 295.80,54.00 C295.35,53.67 295.10,52.83 295.80,52.50Z" fill="#5e9de0" fill-opacity="0.90"/><path d="M295.80,52.50 C296.50,52.17 298.72,52.42 300.00,52.00 C301.28,51.58 302.67,50.53 303.50,50.00 C304.33,49.47 304.50,48.80 305.00,48.80 C305.50,48.80 305.75,49.58 306.50,50.00 C307.25,50.42 309.25,50.80 309.50,51.30 C309.75,51.80 309.08,52.55 308.00,53.00 C306.92,53.45 304.25,53.67 303.00,54.00 C301.75,54.33 301.00,54.33 300.50,55.00 C300.00,55.67 300.33,57.67 300.00,58.00 C299.67,58.33 298.75,57.58 298.50,57.00 C298.25,56.42 298.95,55.00 298.50,54.50 C298.05,54.00 296.25,54.33 295.80,54.00 C295.35,53.67 295.10,52.83 295.80,52.50Z" fill="url(#sp0)" fill-opacity="0.8"/><g fill="#5e9de0" fill-opacity="0.85"><circle cx="295.3" cy="52.3" r="0.45"/><circle cx="305.1" cy="49.0" r="0.35"/><circle cx="305.3" cy="48.6" r="0.40"/><circle cx="303.3" cy="50.7" r="0.36"/><circle cx="299.2" cy="56.4" r="0.42"/><circle cx="299.7" cy="57.6" r="0.36"/><circle cx="304.3" cy="48.5" r="0.35"/><circle cx="304.5" cy="52.7" r="0.32"/><circle cx="305.1" cy="49.1" r="0.43"/><circle cx="297.7" cy="54.7" r="0.44"/><circle cx="300.7" cy="55.0" r="0.32"/><circle cx="298.2" cy="53.0" r="0.27"/><circle cx="303.3" cy="49.5" r="0.30"/><circle cx="300.1" cy="52.1" r="0.29"/><circle cx="300.0" cy="50.7" r="0.27"/><circle cx="299.5" cy="56.4" r="0.32"/><circle cx="298.7" cy="57.0" r="0.45"/><circle cx="304.5" cy="49.4" r="0.27"/><circle cx="299.0" cy="51.8" r="0.39"/><circle cx="301.1" cy="55.6" r="0.31"/><circle cx="297.8" cy="54.2" r="0.38"/><circle cx="299.0" cy="51.4" r="0.36"/><circle cx="302.7" cy="53.9" r="0.37"/><circle cx="304.6" cy="48.8" r="0.27"/><circle cx="307.2" cy="52.5" r="0.31"/><circle cx="306.0" cy="52.8" r="0.35"/><circle cx="306.3" cy="51.9" r="0.36"/><circle cx="299.4" cy="57.4" r="0.32"/><circle cx="305.6" cy="50.3" r="0.32"/><circle cx="295.7" cy="51.9" r="0.40"/><circle cx="297.6" cy="55.1" r="0.45"/><circle cx="309.1" cy="49.8" r="0.33"/><circle cx="301.2" cy="50.8" r="0.33"/><circle cx="308.1" cy="51.2" r="0.44"/><circle cx="300.3" cy="58.5" r="0.27"/><circle cx="302.5" cy="50.8" r="0.36"/><circle cx="300.2" cy="51.1" r="0.31"/><circle cx="300.5" cy="55.1" r="0.43"/><circle cx="300.5" cy="57.0" r="0.32"/><circle cx="301.5" cy="56.8" r="0.39"/><circle cx="305.9" cy="53.7" r="0.35"/><circle cx="296.4" cy="54.0" r="0.28"/><circle cx="295.8" cy="52.3" r="0.41"/><circle cx="302.1" cy="51.0" r="0.37"/><circle cx="298.9" cy="52.5" r="0.44"/><circle cx="299.0" cy="59.4" r="0.30"/><circle cx="299.9" cy="52.4" r="0.28"/><circle cx="298.2" cy="57.3" r="0.33"/><circle cx="298.3" cy="53.0" r="0.36"/><circle cx="300.2" cy="58.3" r="0.31"/><circle cx="298.4" cy="55.4" r="0.40"/><circle cx="296.7" cy="52.4" r="0.41"/><circle cx="300.1" cy="55.7" r="0.27"/><circle cx="302.1" cy="54.3" r="0.43"/><circle cx="297.5" cy="55.1" r="0.39"/><circle cx="296.5" cy="53.5" r="0.41"/><circle cx="308.4" cy="53.3" r="0.34"/><circle cx="306.4" cy="50.4" r="0.33"/><circle cx="300.7" cy="56.7" r="0.43"/><circle cx="299.2" cy="51.7" r="0.41"/><circle cx="309.4" cy="52.4" r="0.38"/><circle cx="301.5" cy="54.8" r="0.37"/><circle cx="309.9" cy="50.5" r="0.41"/><circle cx="304.6" cy="53.3" r="0.46"/><circle cx="303.8" cy="53.5" r="0.28"/><circle cx="300.2" cy="54.6" r="0.31"/><circle cx="307.7" cy="52.1" r="0.44"/><circle cx="299.1" cy="52.0" r="0.38"/><circle cx="306.6" cy="53.7" r="0.39"/><circle cx="299.2" cy="55.6" r="0.42"/><circle cx="301.4" cy="50.9" r="0.33"/><circle cx="303.3" cy="50.7" r="0.35"/><circle cx="301.2" cy="55.4" r="0.45"/><circle cx="309.2" cy="51.6" r="0.35"/><circle cx="297.5" cy="53.3" r="0.29"/><circle cx="304.9" cy="49.2" r="0.27"/><circle cx="299.5" cy="51.4" r="0.28"/><circle cx="306.0" cy="55.0" r="0.28"/><circle cx="302.9" cy="51.2" r="0.45"/><circle cx="300.4" cy="58.4" r="0.33"/><circle cx="295.5" cy="52.4" r="0.31"/><circle cx="308.3" cy="51.8" r="0.37"/><circle cx="297.3" cy="53.1" r="0.34"/><circle cx="307.0" cy="51.9" r="0.41"/><circle cx="308.2" cy="50.3" r="0.38"/><circle cx="296.5" cy="52.8" r="0.33"/><circle cx="301.6" cy="57.1" r="0.28"/><circle cx="297.0" cy="53.8" r="0.43"/><circle cx="295.2" cy="54.6" r="0.27"/><circle cx="298.9" cy="56.8" r="0.29"/><circle cx="297.9" cy="52.0" r="0.40"/></g><path d="M314.50,62.50 C315.42,61.72 317.42,61.17 320.00,60.80 C322.58,60.43 326.67,60.27 330.00,60.30 C333.33,60.33 338.17,60.30 340.00,61.00 C341.83,61.70 342.67,63.87 341.00,64.50 C339.33,65.13 333.50,64.63 330.00,64.80 C326.50,64.97 322.58,65.38 320.00,65.50 C317.42,65.62 315.42,66.00 314.50,65.50 C313.58,65.00 313.58,63.28 314.50,62.50Z" fill="#a866a8" fill-opacity="0.70"/><path d="M314.50,62.50 C315.42,61.72 317.42,61.17 320.00,60.80 C322.58,60.43 326.67,60.27 330.00,60.30 C333.33,60.33 338.17,60.30 340.00,61.00 C341.83,61.70 342.67,63.87 341.00,64.50 C339.33,65.13 333.50,64.63 330.00,64.80 C326.50,64.97 322.58,65.38 320.00,65.50 C317.42,65.62 315.42,66.00 314.50,65.50 C313.58,65.00 313.58,63.28 314.50,62.50Z" fill="url(#sp1)" fill-opacity="0.8"/><g fill="#a866a8" fill-opacity="0.85"><circle cx="323.1" cy="59.8" r="0.31"/><circle cx="323.1" cy="65.1" r="0.35"/><circle cx="338.5" cy="61.0" r="0.28"/><circle cx="331.4" cy="61.7" r="0.33"/><circle cx="317.5" cy="64.9" r="0.44"/><circle cx="328.0" cy="65.1" r="0.37"/><circle cx="332.7" cy="60.3" r="0.39"/><circle cx="333.4" cy="61.0" r="0.45"/><circle cx="313.4" cy="64.3" r="0.45"/><circle cx="339.0" cy="64.4" r="0.42"/><circle cx="340.9" cy="62.1" r="0.38"/><circle cx="329.1" cy="64.7" r="0.35"/><circle cx="318.8" cy="63.2" r="0.34"/><circle cx="322.0" cy="60.8" r="0.38"/><circle cx="327.9" cy="61.4" r="0.44"/><circle cx="315.1" cy="61.4" r="0.36"/><circle cx="339.7" cy="61.0" r="0.37"/><circle cx="334.6" cy="60.6" r="0.43"/><circle cx="322.9" cy="64.5" r="0.36"/><circle cx="321.1" cy="65.8" r="0.27"/><circle cx="339.2" cy="64.6" r="0.44"/><circle cx="337.8" cy="60.9" r="0.41"/><circle cx="340.5" cy="65.8" r="0.27"/><circle cx="323.2" cy="60.9" r="0.29"/><circle cx="330.1" cy="59.7" r="0.44"/><circle cx="315.6" cy="62.8" r="0.43"/><circle cx="319.6" cy="59.5" r="0.45"/><circle cx="323.7" cy="65.5" r="0.31"/><circle cx="321.5" cy="61.9" r="0.38"/><circle cx="321.9" cy="61.0" r="0.44"/><circle cx="324.2" cy="65.4" r="0.45"/><circle cx="326.4" cy="60.9" r="0.39"/><circle cx="334.2" cy="64.5" r="0.37"/><circle cx="331.9" cy="59.0" r="0.28"/><circle cx="341.5" cy="64.7" r="0.35"/><circle cx="320.1" cy="63.9" r="0.38"/><circle cx="336.6" cy="64.5" r="0.33"/><circle cx="320.6" cy="60.7" r="0.44"/><circle cx="314.5" cy="64.0" r="0.38"/><circle cx="326.1" cy="64.8" r="0.28"/><circle cx="326.3" cy="65.1" r="0.37"/><circle cx="329.7" cy="61.7" r="0.38"/><circle cx="326.6" cy="64.4" r="0.35"/><circle cx="338.9" cy="61.9" r="0.43"/><circle cx="331.7" cy="60.0" r="0.27"/><circle cx="330.1" cy="64.2" r="0.46"/><circle cx="327.5" cy="66.0" r="0.43"/><circle cx="323.1" cy="60.3" r="0.32"/><circle cx="335.6" cy="60.6" r="0.32"/><circle cx="317.1" cy="60.6" r="0.40"/><circle cx="337.7" cy="60.7" r="0.29"/><circle cx="314.7" cy="61.9" r="0.31"/><circle cx="339.6" cy="64.5" r="0.45"/><circle cx="319.2" cy="65.9" r="0.36"/><circle cx="339.2" cy="63.7" r="0.44"/><circle cx="330.5" cy="64.6" r="0.42"/><circle cx="334.2" cy="59.9" r="0.45"/><circle cx="325.3" cy="65.6" r="0.41"/><circle cx="316.9" cy="61.3" r="0.40"/><circle cx="333.5" cy="59.9" r="0.34"/><circle cx="330.8" cy="64.4" r="0.37"/><circle cx="341.0" cy="63.2" r="0.32"/><circle cx="337.1" cy="60.5" r="0.45"/><circle cx="340.7" cy="63.8" r="0.27"/><circle cx="336.7" cy="60.7" r="0.45"/><circle cx="335.7" cy="64.7" r="0.31"/><circle cx="333.9" cy="60.2" r="0.36"/><circle cx="329.2" cy="59.9" r="0.36"/><circle cx="326.0" cy="64.9" r="0.39"/><circle cx="340.8" cy="62.0" r="0.33"/><circle cx="320.5" cy="66.5" r="0.27"/><circle cx="321.1" cy="65.6" r="0.36"/><circle cx="336.3" cy="61.8" r="0.39"/><circle cx="317.4" cy="63.2" r="0.32"/><circle cx="330.9" cy="60.1" r="0.45"/><circle cx="314.8" cy="63.9" r="0.30"/><circle cx="339.9" cy="62.4" r="0.43"/><circle cx="318.9" cy="61.3" r="0.32"/><circle cx="321.5" cy="61.0" r="0.40"/><circle cx="315.2" cy="64.3" r="0.39"/><circle cx="320.9" cy="59.8" r="0.43"/><circle cx="323.3" cy="62.0" r="0.40"/><circle cx="326.4" cy="65.5" r="0.27"/><circle cx="327.2" cy="64.4" r="0.27"/><circle cx="328.2" cy="65.0" r="0.34"/><circle cx="334.3" cy="58.8" r="0.34"/><circle cx="328.0" cy="60.4" r="0.35"/><circle cx="332.2" cy="58.5" r="0.36"/><circle cx="319.5" cy="65.9" r="0.42"/><circle cx="314.5" cy="63.1" r="0.42"/><circle cx="317.1" cy="65.3" r="0.34"/><circle cx="314.2" cy="62.3" r="0.27"/><circle cx="313.9" cy="64.4" r="0.27"/><circle cx="335.7" cy="59.7" r="0.39"/><circle cx="341.9" cy="64.6" r="0.41"/><circle cx="339.5" cy="62.8" r="0.36"/><circle cx="339.5" cy="63.3" r="0.41"/><circle cx="334.1" cy="59.9" r="0.39"/><circle cx="337.8" cy="59.8" r="0.41"/><circle cx="336.2" cy="61.4" r="0.38"/><circle cx="314.9" cy="61.5" r="0.28"/><circle cx="315.7" cy="64.4" r="0.40"/><circle cx="328.1" cy="64.2" r="0.29"/><circle cx="320.9" cy="64.7" r="0.31"/><circle cx="340.3" cy="64.4" r="0.36"/><circle cx="341.3" cy="62.0" r="0.45"/><circle cx="317.4" cy="66.6" r="0.34"/><circle cx="334.2" cy="64.2" r="0.32"/><circle cx="329.6" cy="65.7" r="0.36"/><circle cx="333.1" cy="64.7" r="0.27"/><circle cx="316.7" cy="65.3" r="0.42"/><circle cx="316.4" cy="66.9" r="0.34"/><circle cx="327.9" cy="64.4" r="0.35"/><circle cx="335.4" cy="61.3" r="0.43"/><circle cx="319.2" cy="61.4" r="0.37"/><circle cx="332.2" cy="65.9" r="0.43"/><circle cx="336.2" cy="60.8" r="0.31"/><circle cx="319.7" cy="64.9" r="0.39"/><circle cx="325.8" cy="60.6" r="0.38"/><circle cx="324.5" cy="60.4" r="0.32"/><circle cx="326.1" cy="65.9" r="0.41"/><circle cx="337.7" cy="61.0" r="0.37"/><circle cx="335.9" cy="63.8" r="0.44"/><circle cx="315.9" cy="62.2" r="0.34"/><circle cx="317.7" cy="64.9" r="0.27"/><circle cx="332.9" cy="65.2" r="0.42"/></g><path d="M345.50,55.40 C347.25,53.98 352.70,52.25 355.00,51.20 C357.30,50.15 358.05,49.22 359.30,49.10 C360.55,48.98 361.83,49.27 362.50,50.50 C363.17,51.73 363.48,54.27 363.30,56.50 C363.12,58.73 362.15,62.27 361.40,63.90 C360.65,65.53 360.38,66.03 358.80,66.30 C357.22,66.57 354.47,65.83 351.90,65.50 C349.33,65.17 345.25,64.83 343.40,64.30 C341.55,63.77 340.62,63.07 340.80,62.30 C340.98,61.53 343.72,60.85 344.50,59.70 C345.28,58.55 343.75,56.82 345.50,55.40Z" fill="#a866a8" fill-opacity="0.90"/><path d="M345.50,55.40 C347.25,53.98 352.70,52.25 355.00,51.20 C357.30,50.15 358.05,49.22 359.30,49.10 C360.55,48.98 361.83,49.27 362.50,50.50 C363.17,51.73 363.48,54.27 363.30,56.50 C363.12,58.73 362.15,62.27 361.40,63.90 C360.65,65.53 360.38,66.03 358.80,66.30 C357.22,66.57 354.47,65.83 351.90,65.50 C349.33,65.17 345.25,64.83 343.40,64.30 C341.55,63.77 340.62,63.07 340.80,62.30 C340.98,61.53 343.72,60.85 344.50,59.70 C345.28,58.55 343.75,56.82 345.50,55.40Z" fill="url(#sp1)" fill-opacity="0.8"/><g fill="#a866a8" fill-opacity="0.85"><circle cx="353.5" cy="51.5" r="0.31"/><circle cx="348.1" cy="54.8" r="0.37"/><circle cx="344.9" cy="59.6" r="0.34"/><circle cx="353.4" cy="66.6" r="0.29"/><circle cx="347.1" cy="53.7" r="0.29"/><circle cx="348.2" cy="53.9" r="0.44"/><circle cx="351.2" cy="66.0" r="0.28"/><circle cx="349.7" cy="54.3" r="0.44"/><circle cx="346.3" cy="64.1" r="0.36"/><circle cx="352.3" cy="65.6" r="0.42"/><circle cx="361.7" cy="51.6" r="0.45"/><circle cx="362.3" cy="54.0" r="0.31"/><circle cx="363.1" cy="53.9" r="0.36"/><circle cx="360.9" cy="49.7" r="0.29"/><circle cx="362.1" cy="63.5" r="0.39"/><circle cx="358.4" cy="50.2" r="0.33"/><circle cx="343.4" cy="60.2" r="0.34"/><circle cx="362.4" cy="61.5" r="0.45"/><circle cx="350.5" cy="53.3" r="0.43"/><circle cx="362.3" cy="51.0" r="0.40"/><circle cx="361.5" cy="63.1" r="0.41"/><circle cx="360.7" cy="50.7" r="0.28"/><circle cx="344.4" cy="58.5" r="0.33"/><circle cx="348.9" cy="53.0" r="0.29"/><circle cx="351.0" cy="52.1" r="0.42"/><circle cx="364.3" cy="57.8" r="0.33"/><circle cx="359.4" cy="64.7" r="0.42"/><circle cx="350.1" cy="64.7" r="0.36"/><circle cx="359.7" cy="65.4" r="0.42"/><circle cx="363.1" cy="61.3" r="0.37"/><circle cx="347.6" cy="63.9" r="0.44"/><circle cx="348.5" cy="54.3" r="0.39"/><circle cx="358.6" cy="49.7" r="0.30"/><circle cx="359.2" cy="65.5" r="0.27"/><circle cx="360.5" cy="65.1" r="0.28"/><circle cx="353.9" cy="51.8" r="0.35"/><circle cx="354.9" cy="49.8" r="0.33"/><circle cx="350.0" cy="53.5" r="0.39"/><circle cx="345.2" cy="64.9" r="0.29"/><circle cx="350.2" cy="64.3" r="0.43"/><circle cx="361.2" cy="59.4" r="0.34"/><circle cx="360.7" cy="49.6" r="0.29"/><circle cx="344.2" cy="60.4" r="0.45"/><circle cx="350.5" cy="65.5" r="0.34"/><circle cx="363.1" cy="50.2" r="0.45"/><circle cx="362.6" cy="50.3" r="0.28"/><circle cx="344.2" cy="64.2" r="0.42"/><circle cx="363.5" cy="58.9" r="0.45"/><circle cx="343.7" cy="60.5" r="0.40"/><circle cx="354.1" cy="65.8" r="0.41"/><circle cx="357.0" cy="50.5" r="0.37"/><circle cx="352.1" cy="52.1" r="0.46"/><circle cx="347.7" cy="65.2" r="0.35"/><circle cx="357.0" cy="64.9" r="0.33"/><circle cx="346.3" cy="53.9" r="0.39"/><circle cx="344.1" cy="63.4" r="0.42"/><circle cx="353.8" cy="51.8" r="0.28"/><circle cx="354.9" cy="50.6" r="0.44"/><circle cx="360.8" cy="50.2" r="0.44"/><circle cx="363.5" cy="50.5" r="0.37"/><circle cx="345.6" cy="58.0" r="0.37"/><circle cx="348.2" cy="55.3" r="0.29"/><circle cx="353.4" cy="66.3" r="0.42"/><circle cx="341.7" cy="62.3" r="0.37"/><circle cx="346.1" cy="55.9" r="0.28"/><circle cx="343.3" cy="60.9" r="0.39"/><circle cx="356.9" cy="49.2" r="0.30"/><circle cx="344.4" cy="60.5" r="0.45"/><circle cx="342.5" cy="64.6" r="0.44"/><circle cx="351.0" cy="65.6" r="0.40"/><circle cx="363.5" cy="55.8" r="0.29"/><circle cx="362.9" cy="62.5" r="0.31"/><circle cx="345.3" cy="60.0" r="0.39"/><circle cx="356.4" cy="49.6" r="0.38"/><circle cx="354.9" cy="50.8" r="0.38"/><circle cx="358.9" cy="50.5" r="0.28"/><circle cx="361.1" cy="62.0" r="0.27"/><circle cx="352.1" cy="52.0" r="0.32"/><circle cx="362.6" cy="60.5" r="0.42"/><circle cx="346.6" cy="65.3" r="0.28"/><circle cx="361.5" cy="51.9" r="0.36"/><circle cx="342.3" cy="62.7" r="0.27"/><circle cx="353.2" cy="51.6" r="0.44"/><circle cx="350.8" cy="54.8" r="0.34"/><circle cx="358.9" cy="65.7" r="0.33"/><circle cx="363.0" cy="54.0" r="0.40"/><circle cx="354.5" cy="51.1" r="0.30"/><circle cx="361.3" cy="52.5" r="0.27"/><circle cx="349.9" cy="65.5" r="0.43"/><circle cx="350.6" cy="52.6" r="0.41"/><circle cx="348.9" cy="65.3" r="0.41"/><circle cx="349.1" cy="64.8" r="0.45"/><circle cx="359.2" cy="48.1" r="0.32"/><circle cx="342.4" cy="62.3" r="0.38"/><circle cx="346.0" cy="56.3" r="0.34"/><circle cx="361.1" cy="60.1" r="0.35"/><circle cx="343.0" cy="61.7" r="0.29"/><circle cx="355.4" cy="51.2" r="0.37"/><circle cx="354.3" cy="66.7" r="0.37"/><circle cx="351.8" cy="65.7" r="0.27"/><circle cx="355.0" cy="51.0" r="0.38"/><circle cx="362.5" cy="54.6" r="0.42"/><circle cx="345.7" cy="57.4" r="0.45"/><circle cx="346.2" cy="65.3" r="0.37"/><circle cx="342.7" cy="63.7" r="0.39"/><circle cx="356.4" cy="66.5" r="0.34"/><circle cx="348.2" cy="65.5" r="0.43"/><circle cx="352.2" cy="53.4" r="0.30"/><circle cx="342.7" cy="64.3" r="0.27"/><circle cx="362.5" cy="58.8" r="0.27"/><circle cx="363.0" cy="49.6" r="0.31"/><circle cx="362.1" cy="58.0" r="0.32"/><circle cx="362.5" cy="54.4" r="0.35"/><circle cx="347.0" cy="64.8" r="0.33"/><circle cx="358.5" cy="66.9" r="0.37"/><circle cx="363.7" cy="56.3" r="0.28"/><circle cx="344.0" cy="61.1" r="0.37"/><circle cx="361.9" cy="56.8" r="0.33"/><circle cx="349.4" cy="55.2" r="0.38"/><circle cx="346.3" cy="65.2" r="0.40"/><circle cx="358.9" cy="66.1" r="0.33"/><circle cx="351.4" cy="64.9" r="0.42"/><circle cx="351.5" cy="52.1" r="0.40"/><circle cx="362.7" cy="51.3" r="0.40"/><circle cx="350.1" cy="64.8" r="0.28"/><circle cx="343.3" cy="65.4" r="0.36"/><circle cx="362.9" cy="60.0" r="0.41"/><circle cx="363.1" cy="60.0" r="0.37"/><circle cx="346.0" cy="56.5" r="0.37"/><circle cx="348.9" cy="53.7" r="0.38"/><circle cx="360.6" cy="50.5" r="0.32"/><circle cx="355.0" cy="50.1" r="0.28"/><circle cx="345.5" cy="57.4" r="0.32"/><circle cx="361.6" cy="55.1" r="0.29"/><circle cx="357.8" cy="65.8" r="0.33"/><circle cx="363.3" cy="59.2" r="0.36"/><circle cx="348.7" cy="54.6" r="0.35"/><circle cx="363.1" cy="56.5" r="0.39"/><circle cx="351.7" cy="65.9" r="0.43"/><circle cx="360.1" cy="49.6" r="0.37"/><circle cx="362.4" cy="58.0" r="0.40"/><circle cx="345.1" cy="56.2" r="0.34"/><circle cx="340.5" cy="62.8" r="0.30"/><circle cx="359.6" cy="66.9" r="0.34"/><circle cx="344.2" cy="58.1" r="0.37"/><circle cx="344.1" cy="58.5" r="0.37"/><circle cx="356.2" cy="66.9" r="0.39"/><circle cx="353.1" cy="66.8" r="0.37"/><circle cx="363.9" cy="52.2" r="0.39"/><circle cx="341.6" cy="62.4" r="0.45"/><circle cx="342.9" cy="60.0" r="0.36"/><circle cx="349.2" cy="53.4" r="0.38"/><circle cx="362.1" cy="61.1" r="0.34"/><circle cx="359.5" cy="49.0" r="0.38"/><circle cx="342.5" cy="61.1" r="0.27"/><circle cx="341.3" cy="63.4" r="0.27"/><circle cx="353.0" cy="52.8" r="0.28"/><circle cx="361.8" cy="52.5" r="0.31"/></g><path d="M326.50,54.50 C327.08,53.92 328.77,52.88 330.00,52.50 C331.23,52.12 333.40,51.78 333.90,52.20 C334.40,52.62 333.82,54.37 333.00,55.00 C332.18,55.63 330.08,55.83 329.00,56.00 C327.92,56.17 326.92,56.25 326.50,56.00 C326.08,55.75 325.92,55.08 326.50,54.50Z" fill="#7c9a30" fill-opacity="0.90"/><path d="M326.50,54.50 C327.08,53.92 328.77,52.88 330.00,52.50 C331.23,52.12 333.40,51.78 333.90,52.20 C334.40,52.62 333.82,54.37 333.00,55.00 C332.18,55.63 330.08,55.83 329.00,56.00 C327.92,56.17 326.92,56.25 326.50,56.00 C326.08,55.75 325.92,55.08 326.50,54.50Z" fill="url(#sp0)" fill-opacity="0.8"/><g fill="#7c9a30" fill-opacity="0.85"><circle cx="330.4" cy="53.8" r="0.28"/><circle cx="332.1" cy="52.7" r="0.31"/><circle cx="327.2" cy="53.7" r="0.41"/><circle cx="328.6" cy="55.8" r="0.38"/><circle cx="327.2" cy="55.3" r="0.35"/><circle cx="327.7" cy="55.9" r="0.36"/><circle cx="334.0" cy="54.1" r="0.42"/><circle cx="332.2" cy="55.4" r="0.41"/><circle cx="327.6" cy="53.2" r="0.37"/><circle cx="333.3" cy="52.4" r="0.30"/><circle cx="331.4" cy="55.0" r="0.29"/><circle cx="326.5" cy="53.6" r="0.30"/><circle cx="329.5" cy="56.4" r="0.40"/><circle cx="334.4" cy="52.0" r="0.35"/><circle cx="331.2" cy="56.9" r="0.33"/><circle cx="327.4" cy="56.3" r="0.38"/><circle cx="330.1" cy="52.6" r="0.40"/><circle cx="329.8" cy="55.4" r="0.27"/><circle cx="333.8" cy="55.6" r="0.37"/><circle cx="326.9" cy="54.9" r="0.42"/><circle cx="333.3" cy="54.1" r="0.40"/><circle cx="330.7" cy="54.8" r="0.35"/><circle cx="326.3" cy="56.3" r="0.45"/><circle cx="331.1" cy="54.6" r="0.35"/><circle cx="328.3" cy="53.1" r="0.34"/><circle cx="329.1" cy="57.8" r="0.31"/><circle cx="331.6" cy="51.9" r="0.40"/><circle cx="330.5" cy="52.8" r="0.31"/><circle cx="329.8" cy="55.4" r="0.30"/><circle cx="325.9" cy="54.7" r="0.37"/><circle cx="327.6" cy="55.2" r="0.32"/><circle cx="334.2" cy="52.5" r="0.41"/><circle cx="332.3" cy="53.1" r="0.44"/><circle cx="332.2" cy="55.8" r="0.31"/><circle cx="327.9" cy="56.4" r="0.43"/><circle cx="329.7" cy="53.0" r="0.32"/><circle cx="332.8" cy="53.9" r="0.39"/><circle cx="334.3" cy="51.5" r="0.40"/><circle cx="332.8" cy="54.3" r="0.29"/><circle cx="332.8" cy="52.4" r="0.41"/><circle cx="332.2" cy="54.3" r="0.28"/><circle cx="328.5" cy="53.1" r="0.43"/><circle cx="334.7" cy="53.5" r="0.34"/><circle cx="331.4" cy="52.8" r="0.35"/></g><path d="M318,59.7 L326.5,55.6" stroke="#9ab04a" stroke-width="0.8" stroke-dasharray="0.8 0.6"/><path d="M284.70,70.00 C284.95,68.92 285.12,67.42 286.00,66.50 C286.88,65.58 288.50,64.87 290.00,64.50 C291.50,64.13 293.67,63.88 295.00,64.30 C296.33,64.72 297.60,65.72 298.00,67.00 C298.40,68.28 297.73,70.50 297.40,72.00 C297.07,73.50 297.07,75.23 296.00,76.00 C294.93,76.77 292.58,76.77 291.00,76.60 C289.42,76.43 287.58,75.60 286.50,75.00 C285.42,74.40 284.80,73.83 284.50,73.00 C284.20,72.17 284.45,71.08 284.70,70.00Z" fill="#17968a" fill-opacity="0.95"/><path d="M284.70,70.00 C284.95,68.92 285.12,67.42 286.00,66.50 C286.88,65.58 288.50,64.87 290.00,64.50 C291.50,64.13 293.67,63.88 295.00,64.30 C296.33,64.72 297.60,65.72 298.00,67.00 C298.40,68.28 297.73,70.50 297.40,72.00 C297.07,73.50 297.07,75.23 296.00,76.00 C294.93,76.77 292.58,76.77 291.00,76.60 C289.42,76.43 287.58,75.60 286.50,75.00 C285.42,74.40 284.80,73.83 284.50,73.00 C284.20,72.17 284.45,71.08 284.70,70.00Z" fill="url(#sp0)" fill-opacity="0.8"/><g fill="#17968a" fill-opacity="0.85"><circle cx="293.3" cy="76.4" r="0.36"/><circle cx="290.3" cy="76.6" r="0.35"/><circle cx="285.4" cy="72.6" r="0.37"/><circle cx="285.1" cy="65.6" r="0.31"/><circle cx="289.9" cy="77.3" r="0.32"/><circle cx="296.5" cy="74.5" r="0.43"/><circle cx="297.4" cy="72.4" r="0.37"/><circle cx="291.4" cy="76.8" r="0.31"/><circle cx="294.8" cy="76.7" r="0.40"/><circle cx="296.4" cy="65.6" r="0.38"/><circle cx="295.3" cy="77.1" r="0.29"/><circle cx="283.1" cy="70.7" r="0.39"/><circle cx="290.7" cy="63.5" r="0.34"/><circle cx="293.4" cy="75.3" r="0.31"/><circle cx="285.2" cy="71.1" r="0.44"/><circle cx="284.4" cy="70.7" r="0.31"/><circle cx="297.9" cy="70.8" r="0.41"/><circle cx="284.4" cy="68.8" r="0.40"/><circle cx="292.2" cy="64.5" r="0.27"/><circle cx="286.0" cy="75.4" r="0.44"/><circle cx="296.4" cy="65.8" r="0.34"/><circle cx="286.7" cy="73.4" r="0.44"/><circle cx="291.9" cy="64.6" r="0.39"/><circle cx="296.4" cy="73.5" r="0.31"/><circle cx="296.0" cy="75.4" r="0.41"/><circle cx="290.0" cy="63.6" r="0.35"/><circle cx="297.9" cy="69.2" r="0.40"/><circle cx="296.2" cy="65.7" r="0.32"/><circle cx="288.9" cy="64.4" r="0.29"/><circle cx="286.4" cy="75.1" r="0.30"/><circle cx="297.0" cy="73.1" r="0.44"/><circle cx="293.3" cy="75.7" r="0.35"/><circle cx="286.1" cy="67.8" r="0.32"/><circle cx="286.1" cy="72.5" r="0.29"/><circle cx="298.2" cy="67.1" r="0.31"/><circle cx="284.1" cy="69.0" r="0.31"/><circle cx="292.4" cy="64.1" r="0.42"/><circle cx="285.9" cy="74.9" r="0.37"/><circle cx="295.1" cy="65.0" r="0.37"/><circle cx="293.3" cy="65.5" r="0.44"/><circle cx="295.8" cy="65.1" r="0.35"/><circle cx="296.4" cy="75.0" r="0.37"/><circle cx="285.9" cy="68.8" r="0.29"/><circle cx="296.3" cy="72.2" r="0.43"/><circle cx="296.3" cy="74.8" r="0.43"/><circle cx="283.4" cy="72.2" r="0.37"/><circle cx="298.3" cy="68.7" r="0.40"/><circle cx="289.8" cy="75.4" r="0.45"/><circle cx="297.6" cy="66.0" r="0.37"/><circle cx="290.0" cy="76.4" r="0.40"/><circle cx="290.4" cy="63.8" r="0.29"/><circle cx="297.5" cy="71.2" r="0.45"/><circle cx="286.1" cy="68.5" r="0.39"/><circle cx="296.8" cy="74.7" r="0.27"/><circle cx="296.9" cy="72.9" r="0.34"/><circle cx="285.6" cy="75.4" r="0.37"/><circle cx="294.2" cy="64.1" r="0.32"/><circle cx="289.6" cy="63.5" r="0.34"/><circle cx="286.6" cy="65.6" r="0.37"/><circle cx="295.1" cy="76.1" r="0.42"/><circle cx="286.7" cy="75.1" r="0.35"/><circle cx="287.0" cy="77.0" r="0.28"/><circle cx="286.1" cy="74.0" r="0.45"/><circle cx="292.7" cy="76.1" r="0.45"/><circle cx="285.1" cy="74.9" r="0.44"/><circle cx="289.9" cy="65.2" r="0.37"/><circle cx="284.1" cy="73.6" r="0.30"/><circle cx="293.7" cy="64.0" r="0.44"/><circle cx="288.3" cy="75.6" r="0.27"/><circle cx="287.9" cy="64.4" r="0.45"/><circle cx="294.3" cy="64.1" r="0.34"/><circle cx="285.5" cy="72.6" r="0.32"/><circle cx="286.9" cy="66.6" r="0.30"/><circle cx="296.6" cy="74.1" r="0.43"/><circle cx="296.8" cy="65.9" r="0.37"/><circle cx="285.0" cy="68.8" r="0.36"/><circle cx="295.7" cy="75.5" r="0.43"/><circle cx="285.3" cy="69.7" r="0.45"/><circle cx="296.0" cy="65.6" r="0.42"/><circle cx="289.1" cy="65.8" r="0.37"/><circle cx="284.6" cy="70.4" r="0.34"/><circle cx="286.7" cy="75.0" r="0.38"/><circle cx="286.9" cy="76.2" r="0.45"/><circle cx="284.0" cy="70.9" r="0.39"/><circle cx="291.3" cy="75.6" r="0.34"/><circle cx="292.0" cy="76.8" r="0.28"/><circle cx="297.3" cy="73.5" r="0.32"/><circle cx="295.2" cy="66.9" r="0.37"/><circle cx="296.4" cy="73.3" r="0.42"/><circle cx="296.8" cy="71.7" r="0.30"/><circle cx="291.3" cy="64.8" r="0.27"/><circle cx="297.7" cy="67.1" r="0.41"/><circle cx="297.3" cy="68.3" r="0.42"/><circle cx="294.5" cy="76.9" r="0.32"/><circle cx="290.7" cy="77.0" r="0.27"/><circle cx="285.1" cy="71.0" r="0.44"/><circle cx="284.8" cy="68.4" r="0.40"/><circle cx="290.3" cy="76.0" r="0.28"/><circle cx="291.4" cy="64.5" r="0.38"/><circle cx="286.0" cy="74.4" r="0.43"/><circle cx="296.4" cy="74.5" r="0.28"/><circle cx="290.8" cy="64.3" r="0.36"/><circle cx="288.8" cy="75.6" r="0.34"/></g><path d="M297.00,63.00 C297.42,62.08 298.33,61.00 299.50,60.50 C300.67,60.00 302.58,59.83 304.00,60.00 C305.42,60.17 306.92,60.83 308.00,61.50 C309.08,62.17 310.17,63.00 310.50,64.00 C310.83,65.00 310.92,66.80 310.00,67.50 C309.08,68.20 306.67,68.15 305.00,68.20 C303.33,68.25 301.33,68.17 300.00,67.80 C298.67,67.43 297.50,66.80 297.00,66.00 C296.50,65.20 296.58,63.92 297.00,63.00Z" fill="#f27a6a" fill-opacity="0.95"/><path d="M297.00,63.00 C297.42,62.08 298.33,61.00 299.50,60.50 C300.67,60.00 302.58,59.83 304.00,60.00 C305.42,60.17 306.92,60.83 308.00,61.50 C309.08,62.17 310.17,63.00 310.50,64.00 C310.83,65.00 310.92,66.80 310.00,67.50 C309.08,68.20 306.67,68.15 305.00,68.20 C303.33,68.25 301.33,68.17 300.00,67.80 C298.67,67.43 297.50,66.80 297.00,66.00 C296.50,65.20 296.58,63.92 297.00,63.00Z" fill="url(#sp0)" fill-opacity="0.8"/><g fill="#f27a6a" fill-opacity="0.85"><circle cx="307.4" cy="66.8" r="0.35"/><circle cx="307.3" cy="60.9" r="0.44"/><circle cx="309.2" cy="66.6" r="0.36"/><circle cx="309.8" cy="65.0" r="0.46"/><circle cx="304.8" cy="61.1" r="0.42"/><circle cx="309.3" cy="68.0" r="0.35"/><circle cx="309.6" cy="63.8" r="0.36"/><circle cx="309.6" cy="68.3" r="0.40"/><circle cx="303.0" cy="60.3" r="0.36"/><circle cx="304.4" cy="68.7" r="0.38"/><circle cx="298.9" cy="62.1" r="0.44"/><circle cx="303.5" cy="68.3" r="0.29"/><circle cx="306.3" cy="67.3" r="0.28"/><circle cx="305.5" cy="59.5" r="0.34"/><circle cx="297.8" cy="66.6" r="0.30"/><circle cx="297.7" cy="66.2" r="0.32"/><circle cx="309.2" cy="62.8" r="0.44"/><circle cx="310.0" cy="67.4" r="0.37"/><circle cx="296.7" cy="64.1" r="0.43"/><circle cx="306.1" cy="68.3" r="0.38"/><circle cx="309.9" cy="63.6" r="0.43"/><circle cx="305.2" cy="68.9" r="0.43"/><circle cx="300.8" cy="59.9" r="0.44"/><circle cx="301.3" cy="67.6" r="0.36"/><circle cx="306.2" cy="62.6" r="0.45"/><circle cx="297.7" cy="62.8" r="0.39"/><circle cx="295.8" cy="66.8" r="0.42"/><circle cx="305.3" cy="61.6" r="0.30"/><circle cx="305.2" cy="60.7" r="0.44"/><circle cx="297.4" cy="62.3" r="0.41"/><circle cx="304.0" cy="68.5" r="0.29"/><circle cx="304.2" cy="60.8" r="0.39"/><circle cx="304.7" cy="61.6" r="0.41"/><circle cx="297.1" cy="65.0" r="0.36"/><circle cx="299.7" cy="67.1" r="0.36"/><circle cx="308.8" cy="67.8" r="0.41"/><circle cx="304.6" cy="68.4" r="0.37"/><circle cx="309.1" cy="62.2" r="0.41"/><circle cx="310.5" cy="62.5" r="0.40"/><circle cx="300.6" cy="67.8" r="0.44"/><circle cx="310.6" cy="63.3" r="0.28"/><circle cx="309.3" cy="68.3" r="0.33"/><circle cx="308.7" cy="63.6" r="0.39"/><circle cx="306.5" cy="60.5" r="0.42"/><circle cx="307.8" cy="66.9" r="0.45"/><circle cx="303.5" cy="68.4" r="0.37"/><circle cx="305.6" cy="61.9" r="0.42"/><circle cx="296.7" cy="63.5" r="0.34"/><circle cx="303.1" cy="66.8" r="0.41"/><circle cx="309.0" cy="62.7" r="0.41"/><circle cx="310.0" cy="63.8" r="0.36"/><circle cx="297.4" cy="67.5" r="0.41"/><circle cx="305.3" cy="67.8" r="0.39"/><circle cx="309.2" cy="67.6" r="0.33"/><circle cx="296.9" cy="65.7" r="0.39"/><circle cx="302.0" cy="61.6" r="0.35"/><circle cx="300.8" cy="68.6" r="0.31"/><circle cx="300.0" cy="67.4" r="0.34"/><circle cx="303.8" cy="61.1" r="0.33"/><circle cx="299.1" cy="61.0" r="0.45"/><circle cx="307.5" cy="63.6" r="0.40"/><circle cx="310.0" cy="64.9" r="0.29"/><circle cx="310.1" cy="64.9" r="0.36"/><circle cx="301.7" cy="59.8" r="0.39"/><circle cx="300.7" cy="68.3" r="0.28"/><circle cx="302.6" cy="59.2" r="0.29"/><circle cx="297.6" cy="63.5" r="0.37"/><circle cx="304.9" cy="68.8" r="0.40"/><circle cx="309.4" cy="65.9" r="0.29"/><circle cx="310.2" cy="65.5" r="0.37"/><circle cx="303.4" cy="68.0" r="0.39"/><circle cx="310.5" cy="63.4" r="0.27"/><circle cx="308.7" cy="67.0" r="0.34"/><circle cx="308.1" cy="62.7" r="0.43"/><circle cx="305.1" cy="60.4" r="0.29"/><circle cx="301.0" cy="67.6" r="0.44"/><circle cx="297.4" cy="66.6" r="0.42"/><circle cx="299.7" cy="60.1" r="0.40"/><circle cx="299.6" cy="62.4" r="0.36"/><circle cx="311.7" cy="64.1" r="0.31"/><circle cx="303.5" cy="68.6" r="0.33"/><circle cx="303.9" cy="60.6" r="0.30"/><circle cx="297.7" cy="67.4" r="0.42"/><circle cx="306.0" cy="69.6" r="0.44"/><circle cx="298.8" cy="68.6" r="0.39"/><circle cx="297.0" cy="63.0" r="0.37"/></g><path d="M293.00,68.00 C293.53,67.00 294.67,65.42 296.00,65.00 C297.33,64.58 299.75,65.00 301.00,65.50 C302.25,66.00 303.17,66.75 303.50,68.00 C303.83,69.25 303.42,71.50 303.00,73.00 C302.58,74.50 302.17,76.28 301.00,77.00 C299.83,77.72 297.28,77.63 296.00,77.30 C294.72,76.97 293.83,76.05 293.30,75.00 C292.77,73.95 292.85,72.17 292.80,71.00 C292.75,69.83 292.47,69.00 293.00,68.00Z" fill="#8e2a18" fill-opacity="0.90"/><path d="M293.00,68.00 C293.53,67.00 294.67,65.42 296.00,65.00 C297.33,64.58 299.75,65.00 301.00,65.50 C302.25,66.00 303.17,66.75 303.50,68.00 C303.83,69.25 303.42,71.50 303.00,73.00 C302.58,74.50 302.17,76.28 301.00,77.00 C299.83,77.72 297.28,77.63 296.00,77.30 C294.72,76.97 293.83,76.05 293.30,75.00 C292.77,73.95 292.85,72.17 292.80,71.00 C292.75,69.83 292.47,69.00 293.00,68.00Z" fill="url(#sp1)" fill-opacity="0.8"/><g fill="#8e2a18" fill-opacity="0.85"><circle cx="293.2" cy="68.7" r="0.45"/><circle cx="303.5" cy="68.2" r="0.42"/><circle cx="294.6" cy="65.6" r="0.28"/><circle cx="299.3" cy="76.6" r="0.31"/><circle cx="294.4" cy="76.0" r="0.32"/><circle cx="292.8" cy="70.7" r="0.35"/><circle cx="293.2" cy="71.6" r="0.39"/><circle cx="294.4" cy="67.5" r="0.39"/><circle cx="298.4" cy="65.5" r="0.30"/><circle cx="294.7" cy="66.7" r="0.32"/><circle cx="300.8" cy="76.2" r="0.36"/><circle cx="303.1" cy="67.7" r="0.38"/><circle cx="293.4" cy="67.8" r="0.37"/><circle cx="298.4" cy="65.5" r="0.39"/><circle cx="295.4" cy="74.3" r="0.35"/><circle cx="301.3" cy="76.1" r="0.36"/><circle cx="294.0" cy="69.4" r="0.33"/><circle cx="300.5" cy="78.1" r="0.36"/><circle cx="302.7" cy="67.3" r="0.28"/><circle cx="293.5" cy="71.8" r="0.39"/><circle cx="294.4" cy="66.8" r="0.45"/><circle cx="302.3" cy="71.1" r="0.28"/><circle cx="302.4" cy="73.0" r="0.41"/><circle cx="298.0" cy="77.7" r="0.36"/><circle cx="294.1" cy="66.6" r="0.37"/><circle cx="302.5" cy="67.6" r="0.38"/><circle cx="294.9" cy="76.4" r="0.43"/><circle cx="294.3" cy="66.6" r="0.38"/><circle cx="303.7" cy="69.9" r="0.32"/><circle cx="292.7" cy="70.4" r="0.34"/><circle cx="296.3" cy="77.9" r="0.31"/><circle cx="294.9" cy="75.9" r="0.43"/><circle cx="294.5" cy="68.7" r="0.42"/><circle cx="302.6" cy="65.9" r="0.31"/><circle cx="296.9" cy="77.4" r="0.43"/><circle cx="296.1" cy="78.0" r="0.40"/><circle cx="303.3" cy="70.1" r="0.45"/><circle cx="295.5" cy="66.3" r="0.45"/><circle cx="294.0" cy="68.3" r="0.29"/><circle cx="300.1" cy="66.0" r="0.45"/><circle cx="291.9" cy="70.4" r="0.40"/><circle cx="295.4" cy="65.7" r="0.45"/><circle cx="297.4" cy="64.6" r="0.36"/><circle cx="297.5" cy="65.4" r="0.37"/><circle cx="291.5" cy="68.4" r="0.29"/><circle cx="294.4" cy="76.1" r="0.33"/><circle cx="303.2" cy="72.2" r="0.34"/><circle cx="292.7" cy="73.1" r="0.27"/><circle cx="294.3" cy="76.5" r="0.34"/><circle cx="297.6" cy="64.0" r="0.45"/><circle cx="298.1" cy="77.8" r="0.46"/><circle cx="292.8" cy="68.3" r="0.30"/><circle cx="301.6" cy="66.1" r="0.43"/><circle cx="303.3" cy="71.8" r="0.37"/><circle cx="303.1" cy="68.4" r="0.33"/><circle cx="303.1" cy="74.6" r="0.43"/><circle cx="301.6" cy="77.7" r="0.28"/><circle cx="298.0" cy="65.2" r="0.30"/><circle cx="303.0" cy="67.4" r="0.29"/><circle cx="298.0" cy="76.5" r="0.38"/><circle cx="303.8" cy="66.9" r="0.28"/><circle cx="297.1" cy="77.9" r="0.30"/><circle cx="302.1" cy="72.5" r="0.33"/><circle cx="293.0" cy="67.0" r="0.37"/><circle cx="299.9" cy="76.1" r="0.45"/><circle cx="292.8" cy="68.4" r="0.29"/><circle cx="301.3" cy="65.1" r="0.43"/><circle cx="294.3" cy="76.4" r="0.39"/><circle cx="295.4" cy="65.0" r="0.34"/><circle cx="297.9" cy="76.4" r="0.28"/><circle cx="292.5" cy="70.5" r="0.38"/><circle cx="299.7" cy="76.4" r="0.39"/><circle cx="295.2" cy="67.1" r="0.43"/><circle cx="303.5" cy="70.6" r="0.43"/><circle cx="295.3" cy="76.8" r="0.31"/><circle cx="295.3" cy="78.2" r="0.34"/><circle cx="298.7" cy="65.5" r="0.43"/><circle cx="293.0" cy="67.7" r="0.27"/><circle cx="301.5" cy="65.3" r="0.35"/><circle cx="294.2" cy="72.0" r="0.40"/><circle cx="300.3" cy="76.2" r="0.38"/><circle cx="293.6" cy="70.4" r="0.41"/><circle cx="303.4" cy="71.5" r="0.34"/><circle cx="301.7" cy="76.5" r="0.43"/><circle cx="298.9" cy="76.9" r="0.39"/><circle cx="293.8" cy="71.5" r="0.43"/><circle cx="298.8" cy="77.0" r="0.36"/><circle cx="293.1" cy="68.8" r="0.32"/><circle cx="301.1" cy="65.1" r="0.41"/><circle cx="298.2" cy="66.9" r="0.29"/><circle cx="300.9" cy="77.9" r="0.28"/></g><path d="M306.90,62.00 C307.32,61.12 308.82,60.87 310.00,60.70 C311.18,60.53 313.10,60.45 314.00,61.00 C314.90,61.55 315.40,63.00 315.40,64.00 C315.40,65.00 314.90,66.42 314.00,67.00 C313.10,67.58 311.08,67.67 310.00,67.50 C308.92,67.33 308.02,66.92 307.50,66.00 C306.98,65.08 306.48,62.88 306.90,62.00Z" fill="#1e1426" fill-opacity="0.95"/><path d="M306.90,62.00 C307.32,61.12 308.82,60.87 310.00,60.70 C311.18,60.53 313.10,60.45 314.00,61.00 C314.90,61.55 315.40,63.00 315.40,64.00 C315.40,65.00 314.90,66.42 314.00,67.00 C313.10,67.58 311.08,67.67 310.00,67.50 C308.92,67.33 308.02,66.92 307.50,66.00 C306.98,65.08 306.48,62.88 306.90,62.00Z" fill="url(#sp2)" fill-opacity="0.8"/><g fill="#1e1426" fill-opacity="0.85"><circle cx="311.0" cy="69.1" r="0.33"/><circle cx="312.9" cy="67.6" r="0.39"/><circle cx="307.2" cy="63.9" r="0.41"/><circle cx="315.4" cy="64.3" r="0.39"/><circle cx="315.5" cy="62.7" r="0.28"/><circle cx="313.0" cy="61.0" r="0.41"/><circle cx="313.9" cy="60.9" r="0.42"/><circle cx="309.1" cy="66.6" r="0.29"/><circle cx="308.5" cy="65.7" r="0.30"/><circle cx="308.8" cy="63.0" r="0.33"/><circle cx="313.5" cy="60.9" r="0.42"/><circle cx="308.7" cy="66.9" r="0.44"/><circle cx="308.2" cy="65.9" r="0.45"/><circle cx="313.9" cy="67.6" r="0.40"/><circle cx="312.0" cy="60.2" r="0.39"/><circle cx="307.8" cy="62.9" r="0.27"/><circle cx="312.3" cy="61.2" r="0.29"/><circle cx="307.5" cy="67.1" r="0.44"/><circle cx="307.2" cy="63.3" r="0.42"/><circle cx="315.0" cy="61.6" r="0.39"/><circle cx="312.9" cy="60.4" r="0.35"/><circle cx="310.1" cy="67.1" r="0.30"/><circle cx="312.0" cy="59.8" r="0.40"/><circle cx="308.2" cy="67.2" r="0.27"/><circle cx="314.2" cy="62.0" r="0.42"/><circle cx="310.9" cy="61.2" r="0.31"/><circle cx="311.3" cy="67.5" r="0.29"/><circle cx="312.2" cy="66.3" r="0.43"/><circle cx="311.6" cy="66.0" r="0.38"/><circle cx="314.6" cy="66.8" r="0.28"/><circle cx="309.0" cy="61.3" r="0.37"/><circle cx="307.5" cy="67.6" r="0.42"/><circle cx="311.0" cy="60.6" r="0.28"/><circle cx="312.2" cy="60.9" r="0.27"/><circle cx="309.1" cy="65.3" r="0.28"/><circle cx="307.9" cy="61.2" r="0.33"/><circle cx="309.9" cy="67.3" r="0.29"/><circle cx="309.2" cy="59.4" r="0.27"/><circle cx="311.7" cy="60.8" r="0.36"/><circle cx="314.6" cy="66.0" r="0.35"/><circle cx="308.6" cy="67.0" r="0.42"/><circle cx="312.8" cy="68.4" r="0.41"/><circle cx="306.7" cy="62.8" r="0.35"/><circle cx="306.8" cy="65.3" r="0.36"/><circle cx="307.1" cy="65.0" r="0.30"/><circle cx="314.3" cy="62.0" r="0.37"/><circle cx="307.5" cy="66.8" r="0.31"/><circle cx="306.7" cy="65.0" r="0.41"/><circle cx="308.2" cy="65.2" r="0.35"/><circle cx="307.3" cy="66.4" r="0.36"/><circle cx="314.1" cy="62.4" r="0.33"/><circle cx="312.3" cy="67.5" r="0.41"/><circle cx="308.6" cy="65.9" r="0.30"/><circle cx="315.2" cy="64.6" r="0.38"/><circle cx="312.4" cy="67.4" r="0.43"/><circle cx="307.3" cy="62.5" r="0.40"/><circle cx="311.7" cy="66.2" r="0.32"/><circle cx="313.3" cy="61.3" r="0.29"/><circle cx="306.3" cy="62.6" r="0.28"/><circle cx="307.3" cy="65.4" r="0.30"/><circle cx="314.0" cy="61.6" r="0.32"/></g><path d="M307.50,59.00 C307.83,58.25 309.00,58.08 310.00,58.00 C311.00,57.92 312.83,58.00 313.50,58.50 C314.17,59.00 314.25,60.33 314.00,61.00 C313.75,61.67 313.00,62.25 312.00,62.50 C311.00,62.75 308.75,63.08 308.00,62.50 C307.25,61.92 307.17,59.75 307.50,59.00Z" fill="#0f3b2c" fill-opacity="0.95"/><g fill="#0f3b2c" fill-opacity="0.85"><circle cx="312.3" cy="61.7" r="0.29"/><circle cx="312.7" cy="62.0" r="0.34"/><circle cx="311.2" cy="58.8" r="0.39"/><circle cx="309.8" cy="61.9" r="0.30"/><circle cx="307.0" cy="60.4" r="0.32"/><circle cx="314.4" cy="59.3" r="0.42"/><circle cx="309.2" cy="57.8" r="0.31"/><circle cx="312.2" cy="59.0" r="0.34"/><circle cx="308.6" cy="62.7" r="0.35"/><circle cx="307.9" cy="62.8" r="0.44"/><circle cx="311.2" cy="61.7" r="0.40"/><circle cx="307.5" cy="58.0" r="0.33"/><circle cx="313.9" cy="57.5" r="0.43"/><circle cx="312.4" cy="61.3" r="0.30"/><circle cx="310.7" cy="58.6" r="0.35"/><circle cx="313.5" cy="59.5" r="0.33"/><circle cx="314.1" cy="61.7" r="0.44"/><circle cx="312.3" cy="62.0" r="0.36"/><circle cx="308.7" cy="59.2" r="0.43"/><circle cx="314.3" cy="59.4" r="0.37"/><circle cx="314.6" cy="61.7" r="0.38"/><circle cx="310.1" cy="62.3" r="0.42"/><circle cx="312.8" cy="58.8" r="0.42"/><circle cx="314.6" cy="60.9" r="0.29"/><circle cx="308.4" cy="59.1" r="0.35"/><circle cx="308.5" cy="60.1" r="0.37"/><circle cx="305.9" cy="58.9" r="0.40"/><circle cx="314.1" cy="59.7" r="0.42"/><circle cx="310.7" cy="62.9" r="0.39"/><circle cx="307.7" cy="62.7" r="0.37"/><circle cx="311.7" cy="59.2" r="0.44"/><circle cx="311.1" cy="58.5" r="0.31"/><circle cx="311.1" cy="58.5" r="0.39"/><circle cx="311.7" cy="59.0" r="0.30"/><circle cx="308.5" cy="58.7" r="0.39"/><circle cx="306.9" cy="58.8" r="0.38"/><circle cx="312.4" cy="58.9" r="0.33"/><circle cx="308.7" cy="58.9" r="0.31"/><circle cx="314.3" cy="59.1" r="0.30"/><circle cx="313.1" cy="60.7" r="0.41"/><circle cx="308.1" cy="62.7" r="0.27"/><circle cx="309.9" cy="62.9" r="0.28"/><circle cx="311.3" cy="57.6" r="0.43"/><circle cx="307.9" cy="62.4" r="0.43"/></g><path d="M302.50,71.00 C303.12,70.17 304.75,69.13 306.00,68.50 C307.25,67.87 308.67,67.53 310.00,67.20 C311.33,66.87 313.25,66.28 314.00,66.50 C314.75,66.72 315.00,67.83 314.50,68.50 C314.00,69.17 312.08,69.75 311.00,70.50 C309.92,71.25 309.17,72.33 308.00,73.00 C306.83,73.67 304.95,74.42 304.00,74.50 C303.05,74.58 302.55,74.08 302.30,73.50 C302.05,72.92 301.88,71.83 302.50,71.00Z" fill="#5cc0ee" fill-opacity="0.80"/><path d="M302.50,71.00 C303.12,70.17 304.75,69.13 306.00,68.50 C307.25,67.87 308.67,67.53 310.00,67.20 C311.33,66.87 313.25,66.28 314.00,66.50 C314.75,66.72 315.00,67.83 314.50,68.50 C314.00,69.17 312.08,69.75 311.00,70.50 C309.92,71.25 309.17,72.33 308.00,73.00 C306.83,73.67 304.95,74.42 304.00,74.50 C303.05,74.58 302.55,74.08 302.30,73.50 C302.05,72.92 301.88,71.83 302.50,71.00Z" fill="url(#sp3)" fill-opacity="0.8"/><g fill="#5cc0ee" fill-opacity="0.85"><circle cx="307.6" cy="66.6" r="0.35"/><circle cx="315.5" cy="66.8" r="0.44"/><circle cx="308.4" cy="72.9" r="0.27"/><circle cx="300.9" cy="73.0" r="0.45"/><circle cx="309.5" cy="67.4" r="0.30"/><circle cx="311.7" cy="67.2" r="0.33"/><circle cx="314.7" cy="67.6" r="0.44"/><circle cx="312.9" cy="67.5" r="0.44"/><circle cx="310.9" cy="70.5" r="0.36"/><circle cx="301.3" cy="73.0" r="0.42"/><circle cx="313.9" cy="66.8" r="0.35"/><circle cx="313.6" cy="68.0" r="0.45"/><circle cx="312.6" cy="65.9" r="0.43"/><circle cx="308.5" cy="67.6" r="0.42"/><circle cx="308.6" cy="72.8" r="0.29"/><circle cx="311.2" cy="69.8" r="0.28"/><circle cx="310.7" cy="69.8" r="0.32"/><circle cx="312.5" cy="68.1" r="0.34"/><circle cx="307.7" cy="72.7" r="0.32"/><circle cx="310.2" cy="70.8" r="0.30"/><circle cx="310.0" cy="67.6" r="0.34"/><circle cx="308.9" cy="72.5" r="0.29"/><circle cx="313.6" cy="67.1" r="0.38"/><circle cx="313.8" cy="69.5" r="0.44"/><circle cx="309.7" cy="70.8" r="0.32"/><circle cx="307.8" cy="73.5" r="0.45"/><circle cx="310.2" cy="71.3" r="0.42"/><circle cx="306.5" cy="68.5" r="0.39"/><circle cx="309.9" cy="65.7" r="0.35"/><circle cx="313.3" cy="65.2" r="0.40"/><circle cx="302.7" cy="71.5" r="0.31"/><circle cx="309.2" cy="72.4" r="0.33"/><circle cx="302.2" cy="73.3" r="0.44"/><circle cx="302.5" cy="70.9" r="0.42"/><circle cx="304.4" cy="69.8" r="0.33"/><circle cx="309.6" cy="66.9" r="0.43"/><circle cx="313.5" cy="69.3" r="0.28"/><circle cx="316.2" cy="67.6" r="0.44"/><circle cx="303.8" cy="69.7" r="0.30"/><circle cx="304.2" cy="70.1" r="0.41"/><circle cx="308.4" cy="72.8" r="0.40"/><circle cx="306.0" cy="74.1" r="0.45"/><circle cx="306.4" cy="74.0" r="0.39"/><circle cx="306.6" cy="68.3" r="0.28"/><circle cx="312.7" cy="68.4" r="0.27"/><circle cx="313.4" cy="67.1" r="0.30"/><circle cx="312.8" cy="66.7" r="0.39"/><circle cx="311.1" cy="71.7" r="0.45"/><circle cx="305.1" cy="68.8" r="0.30"/><circle cx="309.8" cy="71.3" r="0.30"/><circle cx="313.8" cy="69.8" r="0.45"/><circle cx="302.7" cy="70.7" r="0.30"/><circle cx="311.9" cy="70.1" r="0.37"/><circle cx="309.7" cy="71.2" r="0.33"/><circle cx="308.0" cy="67.6" r="0.43"/><circle cx="306.4" cy="68.1" r="0.29"/><circle cx="305.1" cy="69.3" r="0.39"/><circle cx="301.5" cy="73.3" r="0.34"/><circle cx="313.4" cy="66.7" r="0.31"/><circle cx="308.3" cy="72.0" r="0.35"/><circle cx="314.3" cy="67.3" r="0.46"/><circle cx="310.5" cy="70.9" r="0.36"/><circle cx="310.0" cy="67.4" r="0.44"/><circle cx="302.9" cy="74.7" r="0.31"/><circle cx="302.9" cy="73.1" r="0.27"/><circle cx="314.3" cy="68.3" r="0.29"/><circle cx="313.0" cy="69.1" r="0.28"/><circle cx="311.4" cy="67.2" r="0.38"/><circle cx="307.4" cy="67.5" r="0.27"/><circle cx="312.7" cy="67.9" r="0.40"/><circle cx="304.3" cy="73.9" r="0.42"/><circle cx="305.4" cy="73.5" r="0.28"/><circle cx="302.1" cy="74.4" r="0.42"/><circle cx="306.8" cy="68.2" r="0.27"/><circle cx="302.5" cy="73.1" r="0.29"/><circle cx="301.0" cy="73.1" r="0.32"/><circle cx="314.5" cy="69.3" r="0.40"/><circle cx="311.1" cy="69.8" r="0.45"/><circle cx="303.5" cy="71.5" r="0.45"/><circle cx="304.3" cy="76.1" r="0.35"/></g><path d="M331.20,61.00 C331.83,60.53 333.67,60.20 335.00,60.20 C336.33,60.20 338.70,60.37 339.20,61.00 C339.70,61.63 338.53,63.08 338.00,64.00 C337.47,64.92 336.83,66.33 336.00,66.50 C335.17,66.67 333.80,65.58 333.00,65.00 C332.20,64.42 331.50,63.67 331.20,63.00 C330.90,62.33 330.57,61.47 331.20,61.00Z" fill="#c81e1e" fill-opacity="0.95"/><path d="M331.20,61.00 C331.83,60.53 333.67,60.20 335.00,60.20 C336.33,60.20 338.70,60.37 339.20,61.00 C339.70,61.63 338.53,63.08 338.00,64.00 C337.47,64.92 336.83,66.33 336.00,66.50 C335.17,66.67 333.80,65.58 333.00,65.00 C332.20,64.42 331.50,63.67 331.20,63.00 C330.90,62.33 330.57,61.47 331.20,61.00Z" fill="url(#sp0)" fill-opacity="0.8"/><g fill="#c81e1e" fill-opacity="0.85"><circle cx="336.5" cy="64.4" r="0.43"/><circle cx="330.8" cy="64.6" r="0.33"/><circle cx="335.8" cy="66.9" r="0.32"/><circle cx="330.8" cy="60.5" r="0.45"/><circle cx="333.7" cy="59.4" r="0.27"/><circle cx="340.5" cy="65.0" r="0.28"/><circle cx="335.8" cy="66.2" r="0.44"/><circle cx="336.6" cy="64.9" r="0.30"/><circle cx="338.9" cy="61.0" r="0.36"/><circle cx="339.0" cy="61.2" r="0.31"/><circle cx="337.5" cy="63.8" r="0.31"/><circle cx="333.5" cy="60.9" r="0.42"/><circle cx="335.9" cy="61.5" r="0.31"/><circle cx="333.6" cy="60.6" r="0.33"/><circle cx="337.0" cy="60.8" r="0.42"/><circle cx="331.4" cy="62.8" r="0.43"/><circle cx="331.6" cy="63.4" r="0.30"/><circle cx="331.4" cy="60.6" r="0.41"/><circle cx="338.5" cy="61.0" r="0.28"/><circle cx="338.9" cy="62.3" r="0.32"/><circle cx="335.1" cy="60.1" r="0.44"/><circle cx="334.3" cy="60.4" r="0.34"/><circle cx="334.7" cy="60.8" r="0.30"/><circle cx="336.7" cy="60.6" r="0.36"/><circle cx="339.7" cy="61.1" r="0.33"/><circle cx="332.8" cy="60.6" r="0.33"/><circle cx="334.0" cy="65.4" r="0.28"/><circle cx="337.0" cy="63.8" r="0.31"/><circle cx="338.7" cy="60.2" r="0.37"/><circle cx="335.7" cy="59.9" r="0.27"/><circle cx="334.5" cy="63.4" r="0.45"/><circle cx="334.3" cy="66.0" r="0.40"/><circle cx="338.6" cy="62.5" r="0.38"/><circle cx="334.7" cy="65.4" r="0.30"/><circle cx="337.1" cy="67.4" r="0.44"/><circle cx="336.1" cy="67.2" r="0.41"/><circle cx="338.3" cy="60.2" r="0.44"/><circle cx="332.9" cy="64.4" r="0.44"/><circle cx="336.4" cy="65.2" r="0.29"/><circle cx="337.5" cy="66.8" r="0.31"/><circle cx="331.2" cy="63.7" r="0.38"/><circle cx="339.3" cy="60.8" r="0.29"/><circle cx="338.7" cy="61.3" r="0.37"/><circle cx="337.9" cy="60.1" r="0.42"/><circle cx="335.2" cy="67.5" r="0.27"/><circle cx="338.1" cy="60.8" r="0.37"/><circle cx="332.6" cy="64.2" r="0.44"/><circle cx="331.3" cy="59.7" r="0.34"/><circle cx="331.6" cy="62.5" r="0.32"/><circle cx="335.5" cy="60.7" r="0.37"/><circle cx="335.1" cy="60.2" r="0.32"/><circle cx="336.0" cy="66.9" r="0.29"/><circle cx="332.0" cy="65.1" r="0.44"/><circle cx="331.0" cy="62.8" r="0.28"/><circle cx="331.1" cy="61.5" r="0.29"/><circle cx="332.6" cy="61.9" r="0.42"/><circle cx="338.5" cy="60.8" r="0.37"/></g><path d="M297.00,77.00 C298.17,76.08 301.67,76.17 303.00,76.50 C304.33,76.83 304.50,77.92 305.00,79.00 C305.50,80.08 305.42,81.67 306.00,83.00 C306.58,84.33 307.95,85.67 308.50,87.00 C309.05,88.33 309.72,89.75 309.30,91.00 C308.88,92.25 307.88,93.83 306.00,94.50 C304.12,95.17 300.25,95.17 298.00,95.00 C295.75,94.83 293.55,94.33 292.50,93.50 C291.45,92.67 291.45,91.25 291.70,90.00 C291.95,88.75 293.28,87.33 294.00,86.00 C294.72,84.67 295.50,83.50 296.00,82.00 C296.50,80.50 295.83,77.92 297.00,77.00Z" fill="#f27ab6" fill-opacity="0.90"/><path d="M297.00,77.00 C298.17,76.08 301.67,76.17 303.00,76.50 C304.33,76.83 304.50,77.92 305.00,79.00 C305.50,80.08 305.42,81.67 306.00,83.00 C306.58,84.33 307.95,85.67 308.50,87.00 C309.05,88.33 309.72,89.75 309.30,91.00 C308.88,92.25 307.88,93.83 306.00,94.50 C304.12,95.17 300.25,95.17 298.00,95.00 C295.75,94.83 293.55,94.33 292.50,93.50 C291.45,92.67 291.45,91.25 291.70,90.00 C291.95,88.75 293.28,87.33 294.00,86.00 C294.72,84.67 295.50,83.50 296.00,82.00 C296.50,80.50 295.83,77.92 297.00,77.00Z" fill="url(#sp1)" fill-opacity="0.8"/><g fill="#f27ab6" fill-opacity="0.85"><circle cx="310.3" cy="92.2" r="0.39"/><circle cx="296.3" cy="76.5" r="0.29"/><circle cx="305.8" cy="94.0" r="0.39"/><circle cx="306.0" cy="94.5" r="0.31"/><circle cx="305.6" cy="80.7" r="0.41"/><circle cx="296.5" cy="76.0" r="0.31"/><circle cx="293.3" cy="86.2" r="0.31"/><circle cx="307.7" cy="86.4" r="0.32"/><circle cx="292.6" cy="89.8" r="0.39"/><circle cx="308.1" cy="89.6" r="0.38"/><circle cx="294.4" cy="81.0" r="0.36"/><circle cx="307.2" cy="94.0" r="0.36"/><circle cx="297.4" cy="77.1" r="0.32"/><circle cx="295.5" cy="83.3" r="0.38"/><circle cx="305.1" cy="94.8" r="0.37"/><circle cx="307.2" cy="92.9" r="0.38"/><circle cx="297.6" cy="95.6" r="0.44"/><circle cx="294.8" cy="82.6" r="0.41"/><circle cx="306.1" cy="93.5" r="0.37"/><circle cx="291.2" cy="90.9" r="0.34"/><circle cx="308.5" cy="88.7" r="0.35"/><circle cx="309.1" cy="91.9" r="0.43"/><circle cx="305.0" cy="80.4" r="0.39"/><circle cx="294.3" cy="94.1" r="0.34"/><circle cx="301.4" cy="93.6" r="0.39"/><circle cx="294.2" cy="95.2" r="0.29"/><circle cx="294.5" cy="83.5" r="0.40"/><circle cx="301.6" cy="94.8" r="0.28"/><circle cx="298.3" cy="95.5" r="0.46"/><circle cx="301.9" cy="95.4" r="0.31"/><circle cx="308.0" cy="85.6" r="0.41"/><circle cx="310.6" cy="91.1" r="0.44"/><circle cx="303.1" cy="75.9" r="0.45"/><circle cx="306.7" cy="93.7" r="0.38"/><circle cx="306.7" cy="83.2" r="0.43"/><circle cx="309.2" cy="87.4" r="0.44"/><circle cx="299.0" cy="95.3" r="0.31"/><circle cx="302.8" cy="77.1" r="0.42"/><circle cx="296.6" cy="77.0" r="0.30"/><circle cx="292.9" cy="94.7" r="0.30"/><circle cx="295.0" cy="84.1" r="0.29"/><circle cx="306.1" cy="82.1" r="0.45"/><circle cx="308.3" cy="91.5" r="0.28"/><circle cx="302.5" cy="76.1" r="0.30"/><circle cx="305.3" cy="78.5" r="0.34"/><circle cx="291.8" cy="92.7" r="0.33"/><circle cx="308.8" cy="90.0" r="0.28"/><circle cx="309.0" cy="91.1" r="0.45"/><circle cx="296.8" cy="94.4" r="0.30"/><circle cx="294.3" cy="85.6" r="0.42"/><circle cx="306.4" cy="81.8" r="0.28"/><circle cx="294.4" cy="85.3" r="0.29"/><circle cx="303.0" cy="94.5" r="0.40"/><circle cx="303.4" cy="77.7" r="0.28"/><circle cx="301.2" cy="96.2" r="0.44"/><circle cx="291.1" cy="91.7" r="0.33"/><circle cx="304.8" cy="94.3" r="0.35"/><circle cx="295.6" cy="85.1" r="0.43"/><circle cx="308.8" cy="87.0" r="0.36"/><circle cx="291.8" cy="88.1" r="0.41"/><circle cx="308.9" cy="86.8" r="0.33"/><circle cx="295.6" cy="83.8" r="0.41"/><circle cx="291.3" cy="91.6" r="0.45"/><circle cx="291.0" cy="87.1" r="0.29"/><circle cx="291.5" cy="89.2" r="0.29"/><circle cx="299.3" cy="94.6" r="0.44"/><circle cx="297.2" cy="78.6" r="0.36"/><circle cx="309.2" cy="88.9" r="0.44"/><circle cx="294.9" cy="85.6" r="0.36"/><circle cx="299.8" cy="77.1" r="0.45"/><circle cx="300.6" cy="76.5" r="0.45"/><circle cx="305.3" cy="80.6" r="0.31"/><circle cx="305.6" cy="94.7" r="0.34"/><circle cx="300.2" cy="74.9" r="0.37"/><circle cx="308.1" cy="91.8" r="0.41"/><circle cx="293.3" cy="94.0" r="0.29"/><circle cx="293.8" cy="93.3" r="0.28"/><circle cx="294.3" cy="86.8" r="0.40"/><circle cx="296.6" cy="80.2" r="0.40"/><circle cx="307.6" cy="93.9" r="0.44"/><circle cx="297.9" cy="76.1" r="0.43"/><circle cx="305.2" cy="95.9" r="0.29"/><circle cx="292.8" cy="93.8" r="0.30"/><circle cx="295.2" cy="86.6" r="0.29"/><circle cx="297.1" cy="81.4" r="0.37"/><circle cx="298.5" cy="94.8" r="0.45"/><circle cx="299.9" cy="94.4" r="0.46"/><circle cx="291.7" cy="92.2" r="0.43"/><circle cx="301.7" cy="94.8" r="0.41"/><circle cx="292.8" cy="93.2" r="0.40"/><circle cx="303.0" cy="76.7" r="0.31"/><circle cx="292.0" cy="88.6" r="0.34"/><circle cx="296.6" cy="81.0" r="0.35"/><circle cx="306.9" cy="83.3" r="0.41"/><circle cx="308.1" cy="87.5" r="0.37"/><circle cx="302.7" cy="95.9" r="0.42"/><circle cx="292.7" cy="89.2" r="0.41"/><circle cx="292.0" cy="86.4" r="0.35"/><circle cx="305.4" cy="83.0" r="0.34"/><circle cx="291.9" cy="89.7" r="0.38"/><circle cx="296.9" cy="76.8" r="0.39"/><circle cx="292.9" cy="83.5" r="0.27"/><circle cx="307.8" cy="94.1" r="0.32"/><circle cx="294.2" cy="93.9" r="0.38"/><circle cx="308.7" cy="89.2" r="0.39"/><circle cx="305.7" cy="81.9" r="0.28"/><circle cx="296.9" cy="82.6" r="0.46"/><circle cx="291.1" cy="90.6" r="0.37"/><circle cx="297.1" cy="80.1" r="0.30"/><circle cx="300.4" cy="95.4" r="0.44"/><circle cx="297.5" cy="95.1" r="0.29"/><circle cx="302.0" cy="93.8" r="0.35"/><circle cx="306.3" cy="78.4" r="0.36"/><circle cx="299.7" cy="76.1" r="0.34"/><circle cx="309.2" cy="91.4" r="0.39"/><circle cx="301.6" cy="95.2" r="0.36"/><circle cx="305.0" cy="80.1" r="0.39"/><circle cx="296.0" cy="93.8" r="0.41"/><circle cx="298.9" cy="95.3" r="0.38"/><circle cx="295.5" cy="85.0" r="0.42"/><circle cx="298.5" cy="95.6" r="0.43"/><circle cx="306.5" cy="85.3" r="0.27"/><circle cx="303.7" cy="78.1" r="0.42"/><circle cx="303.2" cy="78.3" r="0.30"/><circle cx="291.7" cy="87.1" r="0.41"/><circle cx="302.8" cy="75.4" r="0.27"/><circle cx="296.1" cy="81.1" r="0.37"/><circle cx="300.3" cy="94.7" r="0.43"/><circle cx="303.0" cy="95.2" r="0.30"/><circle cx="307.0" cy="92.1" r="0.30"/><circle cx="308.8" cy="85.7" r="0.30"/><circle cx="297.4" cy="95.1" r="0.39"/><circle cx="304.0" cy="77.7" r="0.45"/><circle cx="301.0" cy="76.3" r="0.28"/><circle cx="299.1" cy="77.1" r="0.44"/><circle cx="297.9" cy="77.1" r="0.34"/><circle cx="309.1" cy="89.0" r="0.29"/><circle cx="296.7" cy="95.3" r="0.29"/><circle cx="306.1" cy="81.2" r="0.35"/><circle cx="295.4" cy="94.0" r="0.29"/><circle cx="293.7" cy="93.1" r="0.34"/><circle cx="294.3" cy="87.2" r="0.37"/><circle cx="296.2" cy="81.2" r="0.34"/><circle cx="297.9" cy="95.2" r="0.45"/></g><path d="M305.80,82.00 C306.30,80.68 307.80,80.68 309.00,80.60 C310.20,80.52 311.67,81.47 313.00,81.50 C314.33,81.53 315.90,80.55 317.00,80.80 C318.10,81.05 319.43,81.97 319.60,83.00 C319.77,84.03 318.93,86.00 318.00,87.00 C317.07,88.00 315.50,88.48 314.00,89.00 C312.50,89.52 310.33,90.18 309.00,90.10 C307.67,90.02 306.53,89.85 306.00,88.50 C305.47,87.15 305.30,83.32 305.80,82.00Z" fill="#8a2d86" fill-opacity="0.92"/><path d="M305.80,82.00 C306.30,80.68 307.80,80.68 309.00,80.60 C310.20,80.52 311.67,81.47 313.00,81.50 C314.33,81.53 315.90,80.55 317.00,80.80 C318.10,81.05 319.43,81.97 319.60,83.00 C319.77,84.03 318.93,86.00 318.00,87.00 C317.07,88.00 315.50,88.48 314.00,89.00 C312.50,89.52 310.33,90.18 309.00,90.10 C307.67,90.02 306.53,89.85 306.00,88.50 C305.47,87.15 305.30,83.32 305.80,82.00Z" fill="url(#sp0)" fill-opacity="0.8"/><g fill="#8a2d86" fill-opacity="0.85"><circle cx="318.9" cy="85.7" r="0.27"/><circle cx="306.5" cy="86.2" r="0.45"/><circle cx="307.7" cy="89.4" r="0.39"/><circle cx="307.0" cy="89.5" r="0.34"/><circle cx="315.2" cy="88.1" r="0.32"/><circle cx="309.9" cy="90.2" r="0.27"/><circle cx="314.6" cy="88.0" r="0.37"/><circle cx="312.9" cy="82.3" r="0.34"/><circle cx="318.6" cy="86.6" r="0.41"/><circle cx="307.7" cy="81.1" r="0.30"/><circle cx="312.4" cy="81.7" r="0.44"/><circle cx="316.9" cy="81.1" r="0.34"/><circle cx="306.2" cy="89.0" r="0.38"/><circle cx="311.6" cy="89.8" r="0.35"/><circle cx="311.1" cy="82.3" r="0.28"/><circle cx="311.7" cy="80.6" r="0.35"/><circle cx="311.7" cy="89.8" r="0.27"/><circle cx="320.1" cy="83.7" r="0.33"/><circle cx="314.4" cy="89.0" r="0.35"/><circle cx="306.7" cy="88.3" r="0.39"/><circle cx="316.2" cy="81.8" r="0.33"/><circle cx="304.5" cy="85.4" r="0.29"/><circle cx="320.7" cy="83.9" r="0.44"/><circle cx="316.4" cy="87.0" r="0.34"/><circle cx="318.2" cy="82.1" r="0.42"/><circle cx="316.8" cy="86.2" r="0.39"/><circle cx="308.9" cy="79.6" r="0.36"/><circle cx="318.7" cy="84.1" r="0.31"/><circle cx="311.8" cy="89.5" r="0.39"/><circle cx="318.2" cy="87.2" r="0.32"/><circle cx="311.5" cy="90.2" r="0.38"/><circle cx="310.0" cy="89.9" r="0.30"/><circle cx="315.2" cy="87.5" r="0.38"/><circle cx="319.5" cy="83.9" r="0.43"/><circle cx="310.4" cy="88.1" r="0.31"/><circle cx="315.8" cy="87.4" r="0.27"/><circle cx="317.8" cy="86.8" r="0.34"/><circle cx="305.0" cy="82.9" r="0.38"/><circle cx="304.5" cy="88.2" r="0.40"/><circle cx="319.0" cy="83.1" r="0.28"/><circle cx="318.8" cy="86.7" r="0.43"/><circle cx="306.0" cy="83.5" r="0.33"/><circle cx="319.5" cy="86.3" r="0.30"/><circle cx="316.4" cy="88.7" r="0.29"/><circle cx="318.1" cy="86.7" r="0.30"/><circle cx="308.9" cy="80.0" r="0.31"/><circle cx="306.3" cy="86.6" r="0.40"/><circle cx="314.6" cy="88.9" r="0.30"/><circle cx="306.3" cy="83.8" r="0.28"/><circle cx="313.7" cy="90.6" r="0.44"/><circle cx="307.9" cy="88.2" r="0.42"/><circle cx="319.3" cy="82.7" r="0.40"/><circle cx="320.0" cy="84.9" r="0.35"/><circle cx="309.6" cy="89.3" r="0.27"/><circle cx="314.1" cy="82.4" r="0.44"/><circle cx="313.5" cy="88.1" r="0.29"/><circle cx="314.3" cy="80.5" r="0.35"/><circle cx="310.6" cy="90.2" r="0.30"/><circle cx="318.9" cy="83.8" r="0.44"/><circle cx="306.0" cy="81.2" r="0.44"/><circle cx="317.5" cy="81.1" r="0.34"/><circle cx="306.1" cy="88.1" r="0.39"/><circle cx="311.2" cy="90.0" r="0.39"/><circle cx="315.9" cy="88.4" r="0.35"/><circle cx="308.3" cy="80.5" r="0.32"/><circle cx="308.8" cy="89.7" r="0.38"/><circle cx="304.2" cy="81.0" r="0.31"/><circle cx="313.7" cy="81.8" r="0.30"/><circle cx="314.0" cy="81.1" r="0.41"/><circle cx="307.3" cy="80.4" r="0.32"/><circle cx="306.3" cy="81.6" r="0.31"/><circle cx="317.6" cy="79.3" r="0.44"/><circle cx="306.4" cy="87.2" r="0.28"/><circle cx="314.7" cy="81.5" r="0.29"/><circle cx="318.1" cy="81.5" r="0.43"/><circle cx="313.4" cy="81.1" r="0.27"/><circle cx="309.5" cy="89.9" r="0.44"/><circle cx="308.7" cy="90.2" r="0.38"/><circle cx="313.2" cy="89.4" r="0.40"/><circle cx="310.3" cy="90.0" r="0.38"/><circle cx="316.4" cy="82.2" r="0.37"/><circle cx="309.7" cy="79.8" r="0.37"/><circle cx="304.9" cy="84.0" r="0.28"/><circle cx="316.8" cy="81.5" r="0.36"/><circle cx="309.9" cy="80.6" r="0.31"/><circle cx="315.6" cy="88.6" r="0.42"/><circle cx="309.2" cy="90.3" r="0.41"/><circle cx="306.6" cy="87.4" r="0.37"/><circle cx="311.4" cy="90.9" r="0.38"/><circle cx="308.2" cy="88.8" r="0.39"/><circle cx="316.8" cy="81.5" r="0.42"/><circle cx="314.3" cy="90.2" r="0.36"/><circle cx="305.2" cy="81.9" r="0.33"/></g><path d="M283.00,91.00 C283.50,89.92 285.67,89.00 287.00,88.50 C288.33,88.00 289.83,88.00 291.00,88.00 C292.17,88.00 292.93,88.00 294.00,88.50 C295.07,89.00 297.07,90.00 297.40,91.00 C297.73,92.00 297.07,93.58 296.00,94.50 C294.93,95.42 292.50,96.08 291.00,96.50 C289.50,96.92 288.17,97.25 287.00,97.00 C285.83,96.75 284.67,96.00 284.00,95.00 C283.33,94.00 282.50,92.08 283.00,91.00Z" fill="#cf1515" fill-opacity="0.95"/><path d="M283.00,91.00 C283.50,89.92 285.67,89.00 287.00,88.50 C288.33,88.00 289.83,88.00 291.00,88.00 C292.17,88.00 292.93,88.00 294.00,88.50 C295.07,89.00 297.07,90.00 297.40,91.00 C297.73,92.00 297.07,93.58 296.00,94.50 C294.93,95.42 292.50,96.08 291.00,96.50 C289.50,96.92 288.17,97.25 287.00,97.00 C285.83,96.75 284.67,96.00 284.00,95.00 C283.33,94.00 282.50,92.08 283.00,91.00Z" fill="url(#sp0)" fill-opacity="0.8"/><g fill="#cf1515" fill-opacity="0.85"><circle cx="282.0" cy="91.4" r="0.34"/><circle cx="296.5" cy="94.7" r="0.34"/><circle cx="289.0" cy="97.2" r="0.39"/><circle cx="297.0" cy="92.3" r="0.35"/><circle cx="285.8" cy="95.5" r="0.36"/><circle cx="296.6" cy="90.2" r="0.31"/><circle cx="284.7" cy="95.9" r="0.37"/><circle cx="290.1" cy="96.1" r="0.33"/><circle cx="283.6" cy="90.1" r="0.32"/><circle cx="289.5" cy="88.2" r="0.33"/><circle cx="286.6" cy="89.7" r="0.33"/><circle cx="286.5" cy="88.7" r="0.34"/><circle cx="293.6" cy="88.5" r="0.35"/><circle cx="290.7" cy="97.2" r="0.44"/><circle cx="292.1" cy="96.0" r="0.42"/><circle cx="283.7" cy="94.9" r="0.34"/><circle cx="297.3" cy="92.6" r="0.31"/><circle cx="290.5" cy="86.6" r="0.33"/><circle cx="286.4" cy="97.6" r="0.30"/><circle cx="282.9" cy="94.2" r="0.42"/><circle cx="295.1" cy="94.2" r="0.36"/><circle cx="294.5" cy="95.4" r="0.31"/><circle cx="283.1" cy="92.0" r="0.30"/><circle cx="292.3" cy="95.0" r="0.44"/><circle cx="285.9" cy="87.7" r="0.41"/><circle cx="282.7" cy="93.3" r="0.40"/><circle cx="286.5" cy="95.6" r="0.33"/><circle cx="285.4" cy="95.9" r="0.33"/><circle cx="293.9" cy="94.7" r="0.40"/><circle cx="288.0" cy="88.9" r="0.39"/><circle cx="283.8" cy="90.1" r="0.30"/><circle cx="291.4" cy="87.9" r="0.45"/><circle cx="291.9" cy="88.7" r="0.38"/><circle cx="283.6" cy="93.5" r="0.33"/><circle cx="289.8" cy="88.3" r="0.43"/><circle cx="285.0" cy="97.4" r="0.45"/><circle cx="297.2" cy="88.7" r="0.41"/><circle cx="294.5" cy="88.6" r="0.33"/><circle cx="297.2" cy="92.6" r="0.42"/><circle cx="293.4" cy="87.7" r="0.40"/><circle cx="293.7" cy="88.8" r="0.31"/><circle cx="289.0" cy="88.3" r="0.44"/><circle cx="289.7" cy="96.9" r="0.38"/><circle cx="286.8" cy="89.4" r="0.44"/><circle cx="294.2" cy="97.2" r="0.42"/><circle cx="290.4" cy="88.2" r="0.41"/><circle cx="290.8" cy="87.1" r="0.41"/><circle cx="295.0" cy="95.1" r="0.38"/><circle cx="282.2" cy="90.6" r="0.29"/><circle cx="297.0" cy="91.0" r="0.30"/><circle cx="293.6" cy="95.9" r="0.31"/><circle cx="283.8" cy="93.1" r="0.37"/><circle cx="297.3" cy="90.6" r="0.39"/><circle cx="284.2" cy="90.5" r="0.33"/><circle cx="283.7" cy="93.1" r="0.36"/><circle cx="293.4" cy="89.3" r="0.45"/><circle cx="297.5" cy="90.8" r="0.43"/><circle cx="297.9" cy="91.2" r="0.31"/><circle cx="294.5" cy="90.1" r="0.40"/><circle cx="285.2" cy="91.2" r="0.43"/><circle cx="287.6" cy="98.0" r="0.28"/><circle cx="291.5" cy="97.7" r="0.43"/><circle cx="296.7" cy="90.5" r="0.44"/><circle cx="291.7" cy="95.6" r="0.40"/><circle cx="287.2" cy="88.5" r="0.28"/><circle cx="291.0" cy="96.5" r="0.45"/><circle cx="292.2" cy="88.1" r="0.30"/><circle cx="283.1" cy="89.8" r="0.32"/><circle cx="285.2" cy="93.3" r="0.30"/><circle cx="288.3" cy="88.5" r="0.40"/><circle cx="283.9" cy="90.2" r="0.40"/><circle cx="284.1" cy="88.4" r="0.32"/><circle cx="296.5" cy="89.7" r="0.43"/><circle cx="283.2" cy="91.9" r="0.29"/><circle cx="293.8" cy="96.0" r="0.40"/><circle cx="283.6" cy="90.1" r="0.34"/><circle cx="292.1" cy="96.7" r="0.44"/><circle cx="283.6" cy="92.4" r="0.34"/><circle cx="292.7" cy="95.4" r="0.43"/><circle cx="297.4" cy="90.5" r="0.45"/><circle cx="295.3" cy="93.2" r="0.31"/><circle cx="284.8" cy="89.1" r="0.41"/><circle cx="287.1" cy="98.2" r="0.39"/><circle cx="282.2" cy="92.5" r="0.28"/><circle cx="287.4" cy="88.0" r="0.34"/><circle cx="285.5" cy="89.4" r="0.43"/><circle cx="290.6" cy="87.1" r="0.31"/><circle cx="294.3" cy="89.6" r="0.32"/><circle cx="295.7" cy="95.0" r="0.40"/><circle cx="292.6" cy="87.9" r="0.32"/><circle cx="290.2" cy="96.3" r="0.41"/><circle cx="295.0" cy="88.7" r="0.27"/><circle cx="282.2" cy="90.7" r="0.32"/></g><path d="M343.40,72.10 C344.50,71.90 346.48,71.68 347.10,73.00 C347.72,74.32 347.28,78.17 347.10,80.00 C346.92,81.83 346.78,83.02 346.00,84.00 C345.22,84.98 343.32,86.07 342.40,85.90 C341.48,85.73 340.87,84.32 340.50,83.00 C340.13,81.68 340.20,79.47 340.20,78.00 C340.20,76.53 339.97,75.18 340.50,74.20 C341.03,73.22 342.30,72.30 343.40,72.10Z" fill="#f5b82e" fill-opacity="0.95"/><path d="M343.40,72.10 C344.50,71.90 346.48,71.68 347.10,73.00 C347.72,74.32 347.28,78.17 347.10,80.00 C346.92,81.83 346.78,83.02 346.00,84.00 C345.22,84.98 343.32,86.07 342.40,85.90 C341.48,85.73 340.87,84.32 340.50,83.00 C340.13,81.68 340.20,79.47 340.20,78.00 C340.20,76.53 339.97,75.18 340.50,74.20 C341.03,73.22 342.30,72.30 343.40,72.10Z" fill="url(#sp0)" fill-opacity="0.8"/><g fill="#f5b82e" fill-opacity="0.85"><circle cx="345.6" cy="83.9" r="0.30"/><circle cx="342.3" cy="85.7" r="0.43"/><circle cx="346.6" cy="78.3" r="0.39"/><circle cx="345.6" cy="82.9" r="0.36"/><circle cx="347.1" cy="72.7" r="0.33"/><circle cx="340.0" cy="77.2" r="0.35"/><circle cx="346.6" cy="73.0" r="0.30"/><circle cx="343.8" cy="72.0" r="0.42"/><circle cx="340.3" cy="82.5" r="0.38"/><circle cx="347.1" cy="74.9" r="0.31"/><circle cx="341.0" cy="78.2" r="0.45"/><circle cx="346.1" cy="84.4" r="0.33"/><circle cx="339.3" cy="73.5" r="0.30"/><circle cx="346.6" cy="82.5" r="0.40"/><circle cx="344.6" cy="73.1" r="0.44"/><circle cx="348.2" cy="77.5" r="0.40"/><circle cx="348.4" cy="73.4" r="0.44"/><circle cx="339.3" cy="76.4" r="0.29"/><circle cx="340.1" cy="83.5" r="0.33"/><circle cx="346.6" cy="71.7" r="0.27"/><circle cx="344.3" cy="85.5" r="0.30"/><circle cx="341.9" cy="73.7" r="0.32"/><circle cx="341.3" cy="74.1" r="0.31"/><circle cx="339.3" cy="80.5" r="0.33"/><circle cx="346.8" cy="73.7" r="0.29"/><circle cx="342.7" cy="85.3" r="0.30"/><circle cx="342.4" cy="85.8" r="0.39"/><circle cx="347.4" cy="74.1" r="0.42"/><circle cx="340.7" cy="81.5" r="0.32"/><circle cx="340.3" cy="74.3" r="0.28"/><circle cx="345.0" cy="73.4" r="0.35"/><circle cx="340.9" cy="74.1" r="0.46"/><circle cx="342.5" cy="72.7" r="0.34"/><circle cx="346.5" cy="73.7" r="0.28"/><circle cx="345.1" cy="73.0" r="0.34"/><circle cx="343.9" cy="83.9" r="0.40"/><circle cx="346.8" cy="84.8" r="0.27"/><circle cx="347.4" cy="77.2" r="0.38"/><circle cx="345.9" cy="72.8" r="0.40"/><circle cx="345.8" cy="72.2" r="0.34"/><circle cx="347.6" cy="72.7" r="0.42"/><circle cx="343.9" cy="85.9" r="0.28"/><circle cx="346.7" cy="72.9" r="0.34"/><circle cx="345.0" cy="70.3" r="0.27"/><circle cx="347.1" cy="81.7" r="0.32"/><circle cx="343.6" cy="72.0" r="0.39"/><circle cx="340.2" cy="77.8" r="0.34"/><circle cx="341.1" cy="81.2" r="0.34"/><circle cx="346.3" cy="82.3" r="0.44"/><circle cx="342.2" cy="73.1" r="0.33"/><circle cx="347.3" cy="72.9" r="0.37"/><circle cx="341.9" cy="73.7" r="0.34"/><circle cx="345.8" cy="85.9" r="0.41"/><circle cx="347.2" cy="79.8" r="0.34"/><circle cx="340.8" cy="81.0" r="0.28"/><circle cx="345.8" cy="77.2" r="0.35"/><circle cx="340.7" cy="79.7" r="0.34"/><circle cx="338.8" cy="76.7" r="0.32"/><circle cx="340.7" cy="73.2" r="0.39"/><circle cx="342.2" cy="85.1" r="0.32"/><circle cx="344.4" cy="84.6" r="0.41"/><circle cx="345.9" cy="73.5" r="0.40"/><circle cx="343.7" cy="84.7" r="0.34"/><circle cx="342.1" cy="86.4" r="0.32"/><circle cx="347.1" cy="76.0" r="0.42"/><circle cx="340.4" cy="82.3" r="0.44"/><circle cx="342.6" cy="74.6" r="0.28"/><circle cx="342.6" cy="73.7" r="0.27"/><circle cx="341.6" cy="80.9" r="0.37"/><circle cx="347.2" cy="76.3" r="0.43"/><circle cx="346.6" cy="77.7" r="0.32"/><circle cx="347.3" cy="76.4" r="0.39"/><circle cx="344.8" cy="83.5" r="0.41"/><circle cx="341.5" cy="78.6" r="0.42"/><circle cx="343.6" cy="73.2" r="0.43"/><circle cx="342.8" cy="85.6" r="0.32"/><circle cx="340.4" cy="76.4" r="0.37"/><circle cx="345.7" cy="83.5" r="0.33"/><circle cx="340.0" cy="78.3" r="0.40"/><circle cx="346.6" cy="78.3" r="0.33"/><circle cx="346.6" cy="84.0" r="0.33"/><circle cx="345.4" cy="80.5" r="0.43"/></g><path d="M346.00,73.20 C346.58,72.17 348.50,73.50 350.00,73.80 C351.50,74.10 353.62,74.47 355.00,75.00 C356.38,75.53 357.97,76.00 358.30,77.00 C358.63,78.00 357.88,79.70 357.00,81.00 C356.12,82.30 354.50,84.17 353.00,84.80 C351.50,85.43 349.08,85.60 348.00,84.80 C346.92,84.00 346.83,81.93 346.50,80.00 C346.17,78.07 345.42,74.23 346.00,73.20Z" fill="#6a5440" fill-opacity="0.92"/><path d="M346.00,73.20 C346.58,72.17 348.50,73.50 350.00,73.80 C351.50,74.10 353.62,74.47 355.00,75.00 C356.38,75.53 357.97,76.00 358.30,77.00 C358.63,78.00 357.88,79.70 357.00,81.00 C356.12,82.30 354.50,84.17 353.00,84.80 C351.50,85.43 349.08,85.60 348.00,84.80 C346.92,84.00 346.83,81.93 346.50,80.00 C346.17,78.07 345.42,74.23 346.00,73.20Z" fill="url(#sp0)" fill-opacity="0.8"/><g fill="#6a5440" fill-opacity="0.85"><circle cx="357.4" cy="76.5" r="0.43"/><circle cx="347.2" cy="81.0" r="0.34"/><circle cx="353.3" cy="74.8" r="0.41"/><circle cx="349.1" cy="73.8" r="0.31"/><circle cx="352.6" cy="82.9" r="0.33"/><circle cx="355.4" cy="75.2" r="0.27"/><circle cx="346.7" cy="73.8" r="0.35"/><circle cx="346.0" cy="76.9" r="0.29"/><circle cx="349.2" cy="84.7" r="0.31"/><circle cx="357.4" cy="77.9" r="0.32"/><circle cx="353.4" cy="74.5" r="0.45"/><circle cx="345.3" cy="74.8" r="0.31"/><circle cx="351.0" cy="73.9" r="0.42"/><circle cx="354.4" cy="84.3" r="0.37"/><circle cx="352.1" cy="75.2" r="0.35"/><circle cx="346.0" cy="73.2" r="0.44"/><circle cx="347.9" cy="85.0" r="0.39"/><circle cx="353.0" cy="74.7" r="0.34"/><circle cx="345.4" cy="74.0" r="0.38"/><circle cx="349.4" cy="84.5" r="0.31"/><circle cx="353.0" cy="84.2" r="0.36"/><circle cx="357.0" cy="76.2" r="0.36"/><circle cx="347.3" cy="81.6" r="0.30"/><circle cx="354.3" cy="81.1" r="0.29"/><circle cx="349.8" cy="74.2" r="0.27"/><circle cx="357.5" cy="78.2" r="0.30"/><circle cx="348.8" cy="72.8" r="0.37"/><circle cx="348.8" cy="84.1" r="0.34"/><circle cx="347.3" cy="77.0" r="0.35"/><circle cx="354.2" cy="85.3" r="0.32"/><circle cx="359.4" cy="77.4" r="0.42"/><circle cx="348.3" cy="74.0" r="0.27"/><circle cx="355.9" cy="81.8" r="0.36"/><circle cx="345.9" cy="74.6" r="0.32"/><circle cx="351.5" cy="84.9" r="0.36"/><circle cx="346.8" cy="73.8" r="0.43"/><circle cx="354.5" cy="82.4" r="0.30"/><circle cx="351.7" cy="84.8" r="0.36"/><circle cx="352.7" cy="74.2" r="0.35"/><circle cx="347.9" cy="73.4" r="0.42"/><circle cx="346.9" cy="72.8" r="0.45"/><circle cx="358.9" cy="77.8" r="0.31"/><circle cx="346.1" cy="80.6" r="0.38"/><circle cx="354.6" cy="75.2" r="0.31"/><circle cx="354.9" cy="75.5" r="0.35"/><circle cx="351.2" cy="84.5" r="0.38"/><circle cx="356.2" cy="81.7" r="0.32"/><circle cx="347.7" cy="72.5" r="0.34"/><circle cx="345.0" cy="78.8" r="0.44"/><circle cx="358.1" cy="77.8" r="0.45"/><circle cx="356.0" cy="82.0" r="0.34"/><circle cx="345.1" cy="76.8" r="0.44"/><circle cx="346.1" cy="74.9" r="0.32"/><circle cx="346.6" cy="74.5" r="0.28"/><circle cx="349.9" cy="84.4" r="0.33"/><circle cx="356.4" cy="81.9" r="0.29"/><circle cx="357.6" cy="81.7" r="0.35"/><circle cx="356.6" cy="76.6" r="0.38"/><circle cx="346.8" cy="84.7" r="0.37"/><circle cx="346.5" cy="79.4" r="0.27"/><circle cx="359.0" cy="78.7" r="0.30"/><circle cx="346.0" cy="76.5" r="0.40"/><circle cx="352.7" cy="75.1" r="0.39"/><circle cx="354.0" cy="82.2" r="0.45"/><circle cx="350.4" cy="85.2" r="0.33"/><circle cx="345.4" cy="79.5" r="0.42"/><circle cx="348.8" cy="84.3" r="0.40"/><circle cx="345.0" cy="77.8" r="0.32"/><circle cx="352.7" cy="73.6" r="0.45"/><circle cx="352.0" cy="85.2" r="0.44"/><circle cx="356.1" cy="76.2" r="0.40"/><circle cx="354.2" cy="85.1" r="0.39"/><circle cx="358.9" cy="76.5" r="0.41"/><circle cx="349.1" cy="74.8" r="0.40"/><circle cx="347.9" cy="84.6" r="0.43"/><circle cx="347.7" cy="74.0" r="0.36"/><circle cx="349.4" cy="73.9" r="0.33"/><circle cx="359.1" cy="78.4" r="0.27"/><circle cx="354.4" cy="74.3" r="0.45"/><circle cx="356.7" cy="76.5" r="0.34"/><circle cx="345.0" cy="74.3" r="0.36"/><circle cx="359.0" cy="76.4" r="0.27"/><circle cx="352.1" cy="84.0" r="0.34"/><circle cx="348.2" cy="84.8" r="0.30"/><circle cx="346.6" cy="77.9" r="0.42"/><circle cx="353.6" cy="83.5" r="0.41"/><circle cx="350.6" cy="84.8" r="0.34"/><circle cx="347.0" cy="83.0" r="0.43"/><circle cx="352.4" cy="73.8" r="0.32"/><circle cx="358.2" cy="76.9" r="0.34"/><circle cx="348.9" cy="84.4" r="0.43"/><circle cx="353.6" cy="82.3" r="0.31"/><circle cx="356.0" cy="81.8" r="0.34"/><circle cx="353.2" cy="84.2" r="0.43"/><circle cx="350.4" cy="73.4" r="0.28"/></g><path d="M356.00,80.60 C356.50,79.93 358.92,80.40 360.00,80.80 C361.08,81.20 362.33,82.33 362.50,83.00 C362.67,83.67 361.92,84.50 361.00,84.80 C360.08,85.10 357.83,85.50 357.00,84.80 C356.17,84.10 355.50,81.27 356.00,80.60Z" fill="#8b95a0" fill-opacity="0.90"/><g fill="#8b95a0" fill-opacity="0.85"><circle cx="362.4" cy="84.3" r="0.30"/><circle cx="363.6" cy="85.3" r="0.31"/><circle cx="361.3" cy="82.9" r="0.29"/><circle cx="356.4" cy="83.5" r="0.35"/><circle cx="358.8" cy="85.7" r="0.33"/><circle cx="357.9" cy="83.3" r="0.28"/><circle cx="361.7" cy="83.0" r="0.30"/><circle cx="360.4" cy="85.1" r="0.35"/><circle cx="354.7" cy="81.9" r="0.39"/><circle cx="359.8" cy="84.3" r="0.41"/><circle cx="362.2" cy="82.5" r="0.27"/><circle cx="357.3" cy="82.0" r="0.28"/><circle cx="356.7" cy="85.0" r="0.43"/><circle cx="360.9" cy="80.7" r="0.37"/><circle cx="362.1" cy="82.9" r="0.36"/><circle cx="359.9" cy="81.2" r="0.32"/><circle cx="360.6" cy="81.1" r="0.30"/><circle cx="355.9" cy="80.8" r="0.43"/><circle cx="355.6" cy="83.7" r="0.37"/><circle cx="358.8" cy="80.7" r="0.35"/><circle cx="360.9" cy="84.6" r="0.28"/><circle cx="356.6" cy="81.9" r="0.41"/><circle cx="356.4" cy="80.4" r="0.31"/><circle cx="361.3" cy="82.6" r="0.31"/><circle cx="360.9" cy="81.8" r="0.40"/><circle cx="361.7" cy="81.6" r="0.33"/><circle cx="358.4" cy="81.7" r="0.38"/><circle cx="358.6" cy="85.0" r="0.40"/><circle cx="356.6" cy="82.7" r="0.45"/><circle cx="356.4" cy="79.8" r="0.44"/><circle cx="356.2" cy="81.2" r="0.39"/><circle cx="357.8" cy="80.9" r="0.32"/><circle cx="356.6" cy="80.6" r="0.31"/><circle cx="356.7" cy="85.4" r="0.43"/><circle cx="359.9" cy="83.3" r="0.31"/><circle cx="360.9" cy="80.7" r="0.33"/><circle cx="356.7" cy="82.2" r="0.43"/><circle cx="358.2" cy="80.3" r="0.41"/><circle cx="357.4" cy="80.7" r="0.37"/><circle cx="357.6" cy="83.2" r="0.43"/><circle cx="361.3" cy="85.8" r="0.35"/><circle cx="360.7" cy="80.1" r="0.42"/></g><path d="M346.20,74.50 C346.62,72.75 348.47,73.08 349.00,74.00 C349.53,74.92 349.40,78.33 349.40,80.00 C349.40,81.67 349.48,83.25 349.00,84.00 C348.52,84.75 346.97,86.08 346.50,84.50 C346.03,82.92 345.78,76.25 346.20,74.50Z" fill="#8a96a4" fill-opacity="0.85"/><g fill="#8a96a4" fill-opacity="0.85"><circle cx="349.2" cy="83.7" r="0.37"/><circle cx="346.8" cy="74.1" r="0.41"/><circle cx="346.5" cy="73.9" r="0.46"/><circle cx="347.7" cy="83.0" r="0.32"/><circle cx="346.2" cy="75.4" r="0.32"/><circle cx="349.1" cy="80.3" r="0.44"/><circle cx="346.3" cy="78.1" r="0.28"/><circle cx="346.7" cy="82.1" r="0.34"/><circle cx="349.9" cy="75.9" r="0.42"/><circle cx="348.3" cy="76.9" r="0.33"/><circle cx="350.1" cy="78.5" r="0.34"/><circle cx="348.9" cy="76.8" r="0.29"/><circle cx="347.1" cy="84.8" r="0.33"/><circle cx="346.1" cy="74.3" r="0.43"/><circle cx="345.6" cy="77.2" r="0.39"/><circle cx="348.7" cy="83.6" r="0.39"/><circle cx="345.9" cy="76.2" r="0.27"/><circle cx="345.0" cy="81.8" r="0.45"/><circle cx="349.5" cy="78.5" r="0.27"/><circle cx="349.2" cy="74.3" r="0.35"/><circle cx="348.7" cy="75.0" r="0.42"/><circle cx="348.0" cy="83.0" r="0.40"/><circle cx="348.2" cy="78.6" r="0.31"/><circle cx="350.3" cy="80.3" r="0.29"/><circle cx="349.3" cy="82.8" r="0.43"/><circle cx="350.5" cy="79.2" r="0.38"/><circle cx="348.3" cy="82.4" r="0.30"/><circle cx="348.1" cy="84.6" r="0.31"/><circle cx="347.0" cy="79.6" r="0.30"/><circle cx="348.9" cy="76.3" r="0.43"/><circle cx="347.5" cy="84.2" r="0.30"/><circle cx="349.1" cy="80.7" r="0.32"/><circle cx="346.9" cy="84.0" r="0.28"/><circle cx="347.4" cy="84.4" r="0.45"/><circle cx="347.0" cy="81.1" r="0.41"/><circle cx="346.2" cy="78.1" r="0.32"/><circle cx="348.5" cy="81.0" r="0.30"/><circle cx="349.9" cy="76.9" r="0.29"/><circle cx="350.5" cy="77.2" r="0.31"/><circle cx="348.8" cy="83.9" r="0.37"/><circle cx="346.4" cy="80.5" r="0.40"/><circle cx="347.1" cy="84.9" r="0.39"/><circle cx="349.1" cy="81.1" r="0.41"/><circle cx="349.4" cy="82.5" r="0.32"/><circle cx="348.2" cy="84.5" r="0.29"/><circle cx="348.7" cy="85.4" r="0.28"/><circle cx="349.4" cy="78.9" r="0.34"/><circle cx="346.9" cy="75.3" r="0.33"/><circle cx="349.0" cy="75.8" r="0.39"/><circle cx="349.6" cy="77.9" r="0.34"/><circle cx="348.4" cy="75.2" r="0.34"/><circle cx="346.3" cy="80.1" r="0.33"/><circle cx="346.7" cy="84.8" r="0.46"/><circle cx="348.9" cy="78.8" r="0.45"/></g><path d="M345.00,81.00 C345.58,80.08 347.67,80.42 349.00,80.50 C350.33,80.58 352.50,80.67 353.00,81.50 C353.50,82.33 352.83,84.67 352.00,85.50 C351.17,86.33 349.08,86.42 348.00,86.50 C346.92,86.58 346.00,86.92 345.50,86.00 C345.00,85.08 344.42,81.92 345.00,81.00Z" fill="#454c55" fill-opacity="0.75"/><path d="M345.00,81.00 C345.58,80.08 347.67,80.42 349.00,80.50 C350.33,80.58 352.50,80.67 353.00,81.50 C353.50,82.33 352.83,84.67 352.00,85.50 C351.17,86.33 349.08,86.42 348.00,86.50 C346.92,86.58 346.00,86.92 345.50,86.00 C345.00,85.08 344.42,81.92 345.00,81.00Z" fill="url(#sp0)" fill-opacity="0.8"/><g fill="#454c55" fill-opacity="0.85"><circle cx="351.4" cy="81.0" r="0.40"/><circle cx="345.7" cy="85.2" r="0.36"/><circle cx="351.8" cy="81.4" r="0.27"/><circle cx="352.6" cy="83.7" r="0.28"/><circle cx="347.2" cy="85.9" r="0.42"/><circle cx="344.6" cy="81.7" r="0.28"/><circle cx="347.9" cy="80.6" r="0.28"/><circle cx="345.6" cy="83.9" r="0.35"/><circle cx="350.1" cy="85.8" r="0.33"/><circle cx="344.9" cy="85.3" r="0.38"/><circle cx="345.2" cy="86.1" r="0.37"/><circle cx="348.5" cy="87.8" r="0.34"/><circle cx="351.4" cy="83.2" r="0.30"/><circle cx="349.2" cy="80.6" r="0.35"/><circle cx="348.3" cy="81.3" r="0.44"/><circle cx="349.5" cy="87.1" r="0.36"/><circle cx="344.0" cy="81.4" r="0.42"/><circle cx="345.9" cy="81.9" r="0.34"/><circle cx="352.7" cy="83.3" r="0.37"/><circle cx="346.9" cy="85.5" r="0.37"/><circle cx="347.1" cy="81.0" r="0.41"/><circle cx="348.9" cy="87.1" r="0.43"/><circle cx="344.9" cy="85.1" r="0.37"/><circle cx="353.9" cy="83.1" r="0.44"/><circle cx="346.3" cy="82.0" r="0.33"/><circle cx="350.6" cy="80.6" r="0.31"/><circle cx="345.2" cy="81.9" r="0.34"/><circle cx="345.7" cy="84.5" r="0.34"/><circle cx="348.7" cy="79.5" r="0.31"/><circle cx="348.9" cy="86.0" r="0.31"/><circle cx="346.1" cy="85.7" r="0.27"/><circle cx="352.5" cy="81.0" r="0.36"/><circle cx="345.8" cy="86.4" r="0.39"/><circle cx="346.8" cy="85.5" r="0.34"/><circle cx="350.7" cy="85.9" r="0.33"/><circle cx="349.8" cy="81.9" r="0.41"/><circle cx="350.3" cy="78.7" r="0.33"/><circle cx="345.2" cy="85.1" r="0.31"/><circle cx="345.4" cy="80.5" r="0.42"/><circle cx="346.1" cy="83.6" r="0.40"/><circle cx="346.9" cy="84.7" r="0.43"/><circle cx="352.8" cy="81.2" r="0.30"/><circle cx="343.7" cy="83.7" r="0.33"/><circle cx="347.4" cy="82.0" r="0.42"/><circle cx="352.4" cy="83.4" r="0.44"/><circle cx="351.9" cy="81.9" r="0.36"/><circle cx="352.1" cy="84.5" r="0.42"/><circle cx="351.5" cy="82.3" r="0.41"/><circle cx="347.2" cy="85.6" r="0.33"/><circle cx="352.0" cy="85.2" r="0.40"/><circle cx="353.3" cy="84.3" r="0.44"/><circle cx="352.1" cy="83.3" r="0.31"/><circle cx="352.6" cy="82.3" r="0.37"/><circle cx="346.8" cy="84.4" r="0.37"/><circle cx="348.8" cy="86.0" r="0.33"/><circle cx="351.9" cy="82.0" r="0.35"/></g><path d="M362.50,83.20 C363.03,82.95 365.45,83.55 365.70,84.00 C365.95,84.45 364.53,85.65 364.00,85.90 C363.47,86.15 362.75,85.95 362.50,85.50 C362.25,85.05 361.97,83.45 362.50,83.20Z" fill="#f05a2a" fill-opacity="0.95"/><g fill="#f05a2a" fill-opacity="0.85"><circle cx="363.4" cy="83.7" r="0.38"/><circle cx="362.1" cy="84.2" r="0.38"/><circle cx="364.5" cy="84.9" r="0.45"/><circle cx="363.5" cy="82.6" r="0.33"/><circle cx="366.0" cy="83.7" r="0.38"/><circle cx="364.7" cy="83.8" r="0.37"/><circle cx="364.5" cy="83.6" r="0.27"/><circle cx="364.3" cy="86.4" r="0.33"/><circle cx="363.3" cy="83.8" r="0.39"/><circle cx="363.9" cy="84.1" r="0.37"/><circle cx="362.6" cy="82.7" r="0.38"/><circle cx="363.7" cy="83.9" r="0.39"/><circle cx="361.9" cy="84.3" r="0.39"/><circle cx="362.2" cy="85.9" r="0.39"/><circle cx="364.4" cy="83.9" r="0.37"/><circle cx="362.2" cy="83.9" r="0.34"/><circle cx="362.7" cy="84.0" r="0.30"/><circle cx="364.9" cy="82.7" r="0.30"/><circle cx="363.4" cy="84.3" r="0.33"/><circle cx="362.4" cy="86.6" r="0.29"/><circle cx="364.9" cy="85.6" r="0.41"/><circle cx="363.9" cy="85.2" r="0.38"/><circle cx="362.6" cy="81.6" r="0.35"/></g><ellipse cx="358.7" cy="89.3" rx="3.3" ry="2.9" fill="none" stroke="#c8956b" stroke-width="1.1"/><path d="M342.40,85.50 C343.57,85.13 347.72,84.80 350.00,84.80 C352.28,84.80 355.27,85.13 356.10,85.50 C356.93,85.87 356.35,86.78 355.00,87.00 C353.65,87.22 350.00,86.80 348.00,86.80 C346.00,86.80 343.93,87.22 343.00,87.00 C342.07,86.78 341.23,85.87 342.40,85.50Z" fill="#5aa8e8" fill-opacity="0.80"/><g fill="#5aa8e8" fill-opacity="0.85"><circle cx="355.3" cy="85.1" r="0.44"/><circle cx="347.6" cy="85.0" r="0.41"/><circle cx="352.1" cy="85.7" r="0.29"/><circle cx="348.0" cy="87.0" r="0.42"/><circle cx="356.4" cy="85.6" r="0.39"/><circle cx="350.3" cy="85.0" r="0.28"/><circle cx="350.4" cy="85.3" r="0.34"/><circle cx="353.8" cy="84.2" r="0.45"/><circle cx="343.4" cy="85.3" r="0.42"/><circle cx="347.3" cy="84.6" r="0.40"/><circle cx="351.6" cy="87.7" r="0.28"/><circle cx="345.8" cy="86.5" r="0.31"/><circle cx="347.6" cy="86.3" r="0.44"/><circle cx="354.8" cy="84.9" r="0.34"/><circle cx="349.0" cy="85.0" r="0.30"/><circle cx="355.0" cy="86.6" r="0.44"/><circle cx="351.5" cy="86.9" r="0.35"/><circle cx="343.3" cy="87.3" r="0.44"/><circle cx="354.2" cy="85.1" r="0.40"/><circle cx="345.9" cy="85.5" r="0.43"/><circle cx="344.7" cy="86.1" r="0.29"/><circle cx="356.1" cy="86.0" r="0.27"/><circle cx="343.4" cy="85.5" r="0.27"/><circle cx="349.7" cy="86.8" r="0.35"/><circle cx="343.9" cy="85.9" r="0.41"/><circle cx="352.2" cy="85.5" r="0.31"/><circle cx="354.1" cy="88.5" r="0.27"/><circle cx="348.6" cy="84.3" r="0.28"/><circle cx="353.4" cy="86.5" r="0.31"/><circle cx="351.6" cy="86.3" r="0.27"/><circle cx="355.4" cy="87.3" r="0.44"/><circle cx="347.9" cy="84.9" r="0.27"/><circle cx="344.1" cy="84.2" r="0.32"/><circle cx="351.9" cy="85.9" r="0.32"/><circle cx="355.7" cy="85.0" r="0.29"/><circle cx="351.5" cy="86.9" r="0.35"/><circle cx="345.0" cy="86.3" r="0.45"/><circle cx="348.0" cy="85.2" r="0.44"/><circle cx="354.2" cy="86.2" r="0.33"/><circle cx="349.8" cy="87.7" r="0.39"/><circle cx="348.0" cy="88.0" r="0.37"/><circle cx="353.0" cy="87.4" r="0.28"/><circle cx="352.4" cy="86.3" r="0.35"/><circle cx="350.6" cy="86.2" r="0.43"/><circle cx="350.4" cy="87.1" r="0.39"/><circle cx="348.6" cy="83.9" r="0.43"/><circle cx="343.5" cy="85.4" r="0.33"/><circle cx="350.3" cy="84.1" r="0.37"/><circle cx="344.9" cy="84.8" r="0.29"/><circle cx="352.2" cy="85.9" r="0.28"/><circle cx="341.4" cy="87.0" r="0.27"/><circle cx="349.3" cy="86.4" r="0.34"/><circle cx="352.2" cy="87.4" r="0.44"/><circle cx="351.0" cy="86.9" r="0.42"/><circle cx="348.9" cy="87.4" r="0.34"/><circle cx="343.7" cy="85.5" r="0.39"/><circle cx="351.9" cy="85.5" r="0.31"/><circle cx="349.7" cy="84.4" r="0.37"/><circle cx="352.6" cy="84.7" r="0.30"/><circle cx="353.0" cy="86.9" r="0.41"/><circle cx="347.2" cy="85.6" r="0.41"/><circle cx="347.2" cy="86.6" r="0.39"/><circle cx="353.8" cy="87.2" r="0.37"/></g><path d="M343.50,85.20 C344.17,85.20 345.75,85.37 346.00,86.00 C346.25,86.63 345.50,87.92 345.00,89.00 C344.50,90.08 343.67,91.42 343.00,92.50 C342.33,93.58 341.58,94.67 341.00,95.50 C340.42,96.33 339.92,97.33 339.50,97.50 C339.08,97.67 338.58,97.33 338.50,96.50 C338.42,95.67 338.67,93.83 339.00,92.50 C339.33,91.17 340.00,89.58 340.50,88.50 C341.00,87.42 341.50,86.55 342.00,86.00 C342.50,85.45 342.83,85.20 343.50,85.20Z" fill="#2c6a1c" fill-opacity="0.95"/><g fill="#2c6a1c" fill-opacity="0.85"><circle cx="341.1" cy="87.6" r="0.29"/><circle cx="341.4" cy="87.3" r="0.40"/><circle cx="338.0" cy="92.2" r="0.27"/><circle cx="344.5" cy="92.4" r="0.41"/><circle cx="344.0" cy="89.3" r="0.37"/><circle cx="340.6" cy="94.5" r="0.33"/><circle cx="342.8" cy="94.4" r="0.42"/><circle cx="343.9" cy="89.6" r="0.30"/><circle cx="346.4" cy="86.0" r="0.29"/><circle cx="343.2" cy="91.3" r="0.38"/><circle cx="340.6" cy="97.3" r="0.39"/><circle cx="341.6" cy="86.9" r="0.38"/><circle cx="339.1" cy="96.7" r="0.35"/><circle cx="345.9" cy="86.4" r="0.29"/><circle cx="338.8" cy="97.6" r="0.34"/><circle cx="343.3" cy="91.1" r="0.45"/><circle cx="341.5" cy="96.7" r="0.30"/><circle cx="339.7" cy="89.9" r="0.36"/><circle cx="339.8" cy="90.1" r="0.38"/><circle cx="341.2" cy="86.6" r="0.34"/><circle cx="341.0" cy="88.4" r="0.44"/><circle cx="339.7" cy="89.4" r="0.32"/><circle cx="343.2" cy="90.9" r="0.31"/><circle cx="345.6" cy="87.3" r="0.30"/><circle cx="340.1" cy="97.6" r="0.30"/><circle cx="339.9" cy="87.9" r="0.35"/><circle cx="345.0" cy="84.0" r="0.27"/><circle cx="339.0" cy="95.4" r="0.45"/><circle cx="341.7" cy="86.8" r="0.45"/><circle cx="342.2" cy="84.3" r="0.32"/><circle cx="341.8" cy="95.7" r="0.45"/><circle cx="338.4" cy="92.7" r="0.31"/><circle cx="341.0" cy="95.9" r="0.37"/><circle cx="341.0" cy="94.1" r="0.36"/><circle cx="341.1" cy="95.3" r="0.38"/><circle cx="339.4" cy="91.4" r="0.33"/><circle cx="345.7" cy="85.9" r="0.39"/><circle cx="345.4" cy="90.6" r="0.38"/><circle cx="346.6" cy="87.6" r="0.45"/><circle cx="343.4" cy="83.9" r="0.45"/><circle cx="344.8" cy="88.8" r="0.39"/><circle cx="345.2" cy="89.0" r="0.45"/><circle cx="341.7" cy="95.7" r="0.44"/><circle cx="344.2" cy="89.6" r="0.42"/><circle cx="341.1" cy="89.7" r="0.27"/><circle cx="344.0" cy="92.4" r="0.29"/><circle cx="337.8" cy="94.6" r="0.33"/><circle cx="343.5" cy="85.5" r="0.36"/><circle cx="340.0" cy="96.8" r="0.30"/><circle cx="343.0" cy="90.9" r="0.39"/><circle cx="343.4" cy="91.0" r="0.37"/><circle cx="345.7" cy="86.7" r="0.35"/><circle cx="344.2" cy="90.7" r="0.43"/><circle cx="346.2" cy="86.2" r="0.35"/><circle cx="342.2" cy="94.8" r="0.32"/><circle cx="344.3" cy="86.9" r="0.31"/><circle cx="338.5" cy="92.2" r="0.45"/><circle cx="345.5" cy="87.6" r="0.34"/><circle cx="340.3" cy="96.8" r="0.37"/><circle cx="341.2" cy="96.9" r="0.29"/><circle cx="342.2" cy="87.2" r="0.31"/><circle cx="338.1" cy="92.3" r="0.42"/><circle cx="343.6" cy="85.7" r="0.36"/><circle cx="341.4" cy="86.7" r="0.37"/><circle cx="344.3" cy="92.9" r="0.35"/><circle cx="341.0" cy="89.0" r="0.29"/><circle cx="339.6" cy="88.9" r="0.28"/><circle cx="340.2" cy="96.1" r="0.31"/><circle cx="342.7" cy="86.2" r="0.36"/><circle cx="342.9" cy="93.0" r="0.44"/><circle cx="342.7" cy="85.2" r="0.30"/><circle cx="343.7" cy="92.5" r="0.32"/><circle cx="343.4" cy="91.8" r="0.46"/><circle cx="344.3" cy="92.5" r="0.40"/><circle cx="339.3" cy="90.3" r="0.28"/><circle cx="338.8" cy="91.2" r="0.38"/><circle cx="339.9" cy="96.3" r="0.38"/><circle cx="340.0" cy="89.3" r="0.34"/><circle cx="345.2" cy="88.4" r="0.43"/></g><g fill="#5aa0e0" fill-opacity="0.90"><circle cx="341.2" cy="99.4" r="0.40"/><circle cx="340.5" cy="97.0" r="0.40"/><circle cx="340.1" cy="101.0" r="0.40"/><circle cx="341.8" cy="98.0" r="0.40"/><circle cx="339.4" cy="101.2" r="0.40"/><circle cx="340.5" cy="99.9" r="0.40"/><circle cx="340.3" cy="96.3" r="0.40"/><circle cx="340.8" cy="97.2" r="0.40"/><circle cx="340.2" cy="97.7" r="0.40"/><circle cx="340.3" cy="101.9" r="0.40"/><circle cx="341.5" cy="96.7" r="0.40"/><circle cx="339.1" cy="98.2" r="0.40"/><circle cx="339.8" cy="100.4" r="0.40"/><circle cx="341.9" cy="97.9" r="0.40"/><circle cx="341.2" cy="98.6" r="0.40"/><circle cx="339.0" cy="100.5" r="0.40"/><circle cx="342.0" cy="97.8" r="0.40"/><circle cx="341.2" cy="98.0" r="0.40"/><circle cx="340.4" cy="98.1" r="0.40"/><circle cx="340.3" cy="99.1" r="0.40"/></g><path d="M335.50,106.00 C335.83,104.83 336.75,104.35 338.00,104.00 C339.25,103.65 341.33,103.65 343.00,103.90 C344.67,104.15 346.70,104.48 348.00,105.50 C349.30,106.52 350.38,108.42 350.80,110.00 C351.22,111.58 351.13,113.55 350.50,115.00 C349.87,116.45 348.58,118.12 347.00,118.70 C345.42,119.28 342.67,118.95 341.00,118.50 C339.33,118.05 337.83,117.25 337.00,116.00 C336.17,114.75 336.25,112.67 336.00,111.00 C335.75,109.33 335.17,107.17 335.50,106.00Z" fill="#c9e29d" fill-opacity="0.95"/><path d="M335.50,106.00 C335.83,104.83 336.75,104.35 338.00,104.00 C339.25,103.65 341.33,103.65 343.00,103.90 C344.67,104.15 346.70,104.48 348.00,105.50 C349.30,106.52 350.38,108.42 350.80,110.00 C351.22,111.58 351.13,113.55 350.50,115.00 C349.87,116.45 348.58,118.12 347.00,118.70 C345.42,119.28 342.67,118.95 341.00,118.50 C339.33,118.05 337.83,117.25 337.00,116.00 C336.17,114.75 336.25,112.67 336.00,111.00 C335.75,109.33 335.17,107.17 335.50,106.00Z" fill="url(#sp2)" fill-opacity="0.8"/><g fill="#c9e29d" fill-opacity="0.85"><circle cx="350.9" cy="113.4" r="0.39"/><circle cx="343.5" cy="117.4" r="0.32"/><circle cx="349.2" cy="108.4" r="0.43"/><circle cx="336.6" cy="115.2" r="0.32"/><circle cx="348.2" cy="105.5" r="0.45"/><circle cx="342.3" cy="105.1" r="0.44"/><circle cx="343.3" cy="103.6" r="0.29"/><circle cx="348.3" cy="118.5" r="0.39"/><circle cx="337.8" cy="113.4" r="0.39"/><circle cx="340.7" cy="116.8" r="0.36"/><circle cx="336.2" cy="108.8" r="0.31"/><circle cx="344.6" cy="118.4" r="0.36"/><circle cx="344.2" cy="105.0" r="0.41"/><circle cx="341.2" cy="118.7" r="0.36"/><circle cx="337.8" cy="117.8" r="0.31"/><circle cx="349.1" cy="106.5" r="0.43"/><circle cx="348.8" cy="117.7" r="0.37"/><circle cx="340.4" cy="104.5" r="0.36"/><circle cx="334.8" cy="110.9" r="0.32"/><circle cx="339.7" cy="118.1" r="0.41"/><circle cx="337.8" cy="114.9" r="0.30"/><circle cx="335.2" cy="109.0" r="0.30"/><circle cx="335.1" cy="106.6" r="0.44"/><circle cx="337.1" cy="115.4" r="0.31"/><circle cx="344.9" cy="117.7" r="0.40"/><circle cx="337.4" cy="104.2" r="0.37"/><circle cx="342.6" cy="118.5" r="0.32"/><circle cx="347.9" cy="106.4" r="0.30"/><circle cx="344.3" cy="104.9" r="0.31"/><circle cx="334.9" cy="106.7" r="0.43"/><circle cx="339.2" cy="116.9" r="0.39"/><circle cx="350.6" cy="109.8" r="0.39"/><circle cx="342.5" cy="104.8" r="0.42"/><circle cx="336.7" cy="105.1" r="0.37"/><circle cx="336.1" cy="107.5" r="0.35"/><circle cx="338.9" cy="117.2" r="0.29"/><circle cx="335.7" cy="106.8" r="0.27"/><circle cx="337.0" cy="114.6" r="0.44"/><circle cx="344.2" cy="118.6" r="0.36"/><circle cx="350.2" cy="110.3" r="0.43"/><circle cx="351.0" cy="110.0" r="0.42"/><circle cx="348.3" cy="117.6" r="0.45"/><circle cx="351.1" cy="112.4" r="0.29"/><circle cx="336.1" cy="111.6" r="0.39"/><circle cx="336.9" cy="113.5" r="0.35"/><circle cx="342.9" cy="118.9" r="0.35"/><circle cx="350.1" cy="111.3" r="0.32"/><circle cx="350.8" cy="111.5" r="0.36"/><circle cx="346.3" cy="104.9" r="0.33"/><circle cx="335.6" cy="107.3" r="0.41"/><circle cx="350.0" cy="116.0" r="0.27"/><circle cx="346.8" cy="107.1" r="0.43"/><circle cx="347.5" cy="116.8" r="0.42"/><circle cx="350.3" cy="109.3" r="0.31"/><circle cx="347.3" cy="105.8" r="0.38"/><circle cx="336.7" cy="105.6" r="0.42"/><circle cx="336.5" cy="116.6" r="0.27"/><circle cx="335.2" cy="108.7" r="0.29"/><circle cx="350.3" cy="113.1" r="0.41"/><circle cx="343.1" cy="103.8" r="0.29"/><circle cx="346.1" cy="118.6" r="0.27"/><circle cx="335.8" cy="110.0" r="0.29"/><circle cx="341.4" cy="118.5" r="0.28"/><circle cx="351.4" cy="108.7" r="0.37"/><circle cx="343.0" cy="117.7" r="0.42"/><circle cx="336.3" cy="107.6" r="0.45"/><circle cx="347.8" cy="105.9" r="0.27"/><circle cx="337.5" cy="111.9" r="0.31"/><circle cx="349.5" cy="117.1" r="0.42"/><circle cx="344.8" cy="104.9" r="0.33"/><circle cx="349.5" cy="108.4" r="0.39"/><circle cx="349.6" cy="115.1" r="0.44"/><circle cx="337.3" cy="116.3" r="0.43"/><circle cx="349.8" cy="113.4" r="0.28"/><circle cx="351.2" cy="116.4" r="0.42"/><circle cx="341.1" cy="104.9" r="0.37"/><circle cx="350.3" cy="111.7" r="0.34"/><circle cx="338.0" cy="104.6" r="0.27"/><circle cx="346.7" cy="105.6" r="0.38"/><circle cx="335.2" cy="105.2" r="0.37"/><circle cx="338.4" cy="116.8" r="0.34"/><circle cx="341.0" cy="103.3" r="0.35"/><circle cx="343.1" cy="103.8" r="0.29"/><circle cx="350.5" cy="110.2" r="0.40"/><circle cx="352.3" cy="112.8" r="0.29"/><circle cx="337.2" cy="112.5" r="0.41"/><circle cx="336.1" cy="107.0" r="0.40"/><circle cx="340.7" cy="104.2" r="0.42"/><circle cx="343.4" cy="119.3" r="0.36"/><circle cx="347.5" cy="105.3" r="0.40"/><circle cx="336.1" cy="108.7" r="0.38"/><circle cx="341.9" cy="117.9" r="0.41"/><circle cx="350.5" cy="108.4" r="0.37"/><circle cx="336.4" cy="112.0" r="0.33"/><circle cx="338.0" cy="103.6" r="0.30"/><circle cx="341.7" cy="102.9" r="0.33"/><circle cx="349.6" cy="116.0" r="0.27"/><circle cx="349.0" cy="106.0" r="0.40"/><circle cx="344.1" cy="118.8" r="0.40"/><circle cx="347.3" cy="117.9" r="0.31"/><circle cx="350.7" cy="113.3" r="0.27"/><circle cx="350.9" cy="114.0" r="0.37"/><circle cx="347.2" cy="105.8" r="0.33"/><circle cx="341.5" cy="104.7" r="0.27"/><circle cx="349.0" cy="107.7" r="0.42"/><circle cx="347.2" cy="117.8" r="0.37"/><circle cx="338.9" cy="117.4" r="0.45"/><circle cx="350.5" cy="115.8" r="0.33"/><circle cx="344.7" cy="103.6" r="0.38"/><circle cx="336.0" cy="106.1" r="0.28"/><circle cx="350.1" cy="114.8" r="0.37"/><circle cx="336.6" cy="107.5" r="0.32"/><circle cx="344.6" cy="105.1" r="0.31"/><circle cx="338.6" cy="103.9" r="0.36"/><circle cx="335.5" cy="106.8" r="0.32"/><circle cx="338.8" cy="116.9" r="0.35"/><circle cx="350.6" cy="115.4" r="0.33"/><circle cx="351.3" cy="110.9" r="0.44"/><circle cx="335.9" cy="105.4" r="0.28"/><circle cx="348.2" cy="105.4" r="0.32"/></g><path d="M318.00,110.00 C318.83,108.93 321.00,107.83 323.00,107.00 C325.00,106.17 327.75,105.52 330.00,105.00 C332.25,104.48 335.33,103.40 336.50,103.90 C337.67,104.40 337.08,106.82 337.00,108.00 C336.92,109.18 337.17,110.50 336.00,111.00 C334.83,111.50 332.17,110.60 330.00,111.00 C327.83,111.40 325.00,113.00 323.00,113.40 C321.00,113.80 318.83,113.97 318.00,113.40 C317.17,112.83 317.17,111.07 318.00,110.00Z" fill="#f5821f" fill-opacity="0.92"/><path d="M318.00,110.00 C318.83,108.93 321.00,107.83 323.00,107.00 C325.00,106.17 327.75,105.52 330.00,105.00 C332.25,104.48 335.33,103.40 336.50,103.90 C337.67,104.40 337.08,106.82 337.00,108.00 C336.92,109.18 337.17,110.50 336.00,111.00 C334.83,111.50 332.17,110.60 330.00,111.00 C327.83,111.40 325.00,113.00 323.00,113.40 C321.00,113.80 318.83,113.97 318.00,113.40 C317.17,112.83 317.17,111.07 318.00,110.00Z" fill="url(#sp0)" fill-opacity="0.8"/><g fill="#f5821f" fill-opacity="0.85"><circle cx="327.2" cy="110.5" r="0.40"/><circle cx="322.1" cy="106.0" r="0.43"/><circle cx="331.9" cy="112.0" r="0.36"/><circle cx="328.0" cy="111.6" r="0.27"/><circle cx="318.2" cy="112.9" r="0.35"/><circle cx="320.9" cy="112.8" r="0.46"/><circle cx="318.9" cy="109.6" r="0.45"/><circle cx="334.4" cy="112.4" r="0.44"/><circle cx="337.4" cy="107.5" r="0.40"/><circle cx="318.1" cy="111.4" r="0.42"/><circle cx="321.1" cy="114.1" r="0.29"/><circle cx="337.1" cy="108.4" r="0.43"/><circle cx="328.8" cy="105.2" r="0.42"/><circle cx="317.6" cy="113.4" r="0.41"/><circle cx="324.6" cy="112.4" r="0.43"/><circle cx="325.4" cy="112.0" r="0.40"/><circle cx="320.8" cy="107.5" r="0.41"/><circle cx="333.9" cy="111.5" r="0.36"/><circle cx="323.7" cy="107.8" r="0.30"/><circle cx="318.0" cy="113.3" r="0.30"/><circle cx="330.1" cy="105.2" r="0.32"/><circle cx="319.4" cy="111.2" r="0.45"/><circle cx="329.8" cy="111.2" r="0.34"/><circle cx="324.3" cy="104.9" r="0.44"/><circle cx="317.0" cy="111.7" r="0.46"/><circle cx="328.7" cy="110.6" r="0.37"/><circle cx="320.0" cy="114.4" r="0.35"/><circle cx="328.1" cy="104.6" r="0.39"/><circle cx="336.8" cy="108.5" r="0.39"/><circle cx="330.4" cy="110.9" r="0.42"/><circle cx="321.9" cy="113.6" r="0.43"/><circle cx="328.1" cy="104.8" r="0.30"/><circle cx="338.2" cy="108.8" r="0.43"/><circle cx="336.8" cy="105.1" r="0.42"/><circle cx="323.9" cy="112.9" r="0.32"/><circle cx="331.1" cy="110.3" r="0.40"/><circle cx="336.3" cy="106.1" r="0.30"/><circle cx="320.3" cy="113.2" r="0.32"/><circle cx="332.9" cy="104.4" r="0.35"/><circle cx="333.4" cy="104.8" r="0.27"/><circle cx="319.8" cy="114.5" r="0.45"/><circle cx="334.8" cy="104.9" r="0.45"/><circle cx="336.1" cy="109.8" r="0.33"/><circle cx="336.4" cy="105.8" r="0.41"/><circle cx="322.5" cy="114.3" r="0.29"/><circle cx="331.3" cy="104.0" r="0.30"/><circle cx="323.6" cy="111.9" r="0.28"/><circle cx="337.3" cy="110.3" r="0.39"/><circle cx="329.7" cy="105.4" r="0.34"/><circle cx="327.6" cy="105.1" r="0.43"/><circle cx="330.8" cy="104.4" r="0.38"/><circle cx="332.0" cy="104.5" r="0.33"/><circle cx="333.0" cy="103.6" r="0.36"/><circle cx="318.6" cy="113.3" r="0.34"/><circle cx="327.0" cy="106.3" r="0.36"/><circle cx="337.3" cy="106.9" r="0.34"/><circle cx="325.6" cy="112.4" r="0.42"/><circle cx="319.7" cy="112.8" r="0.44"/><circle cx="317.8" cy="110.9" r="0.36"/><circle cx="326.0" cy="106.1" r="0.31"/><circle cx="319.7" cy="108.4" r="0.37"/><circle cx="325.4" cy="113.2" r="0.33"/><circle cx="336.3" cy="105.9" r="0.44"/><circle cx="326.4" cy="112.3" r="0.36"/><circle cx="336.9" cy="109.8" r="0.39"/><circle cx="318.8" cy="113.6" r="0.36"/><circle cx="336.5" cy="104.6" r="0.33"/><circle cx="320.3" cy="108.8" r="0.43"/><circle cx="330.9" cy="111.0" r="0.39"/><circle cx="334.2" cy="103.3" r="0.31"/><circle cx="335.2" cy="110.8" r="0.31"/><circle cx="319.9" cy="110.7" r="0.38"/><circle cx="326.3" cy="112.0" r="0.35"/><circle cx="335.7" cy="108.7" r="0.44"/><circle cx="332.0" cy="110.6" r="0.30"/><circle cx="319.6" cy="113.7" r="0.31"/><circle cx="335.6" cy="112.1" r="0.29"/><circle cx="323.8" cy="113.2" r="0.42"/><circle cx="333.0" cy="111.8" r="0.29"/><circle cx="332.3" cy="104.9" r="0.43"/><circle cx="337.2" cy="108.4" r="0.32"/><circle cx="335.8" cy="109.5" r="0.27"/><circle cx="326.8" cy="106.8" r="0.34"/><circle cx="322.0" cy="106.1" r="0.37"/><circle cx="332.8" cy="104.4" r="0.27"/><circle cx="330.8" cy="105.5" r="0.34"/><circle cx="321.2" cy="113.8" r="0.30"/><circle cx="325.3" cy="113.5" r="0.36"/><circle cx="326.8" cy="111.8" r="0.45"/><circle cx="337.4" cy="108.5" r="0.36"/><circle cx="322.8" cy="107.8" r="0.40"/><circle cx="334.1" cy="103.8" r="0.40"/><circle cx="323.0" cy="112.5" r="0.34"/><circle cx="335.9" cy="104.2" r="0.41"/><circle cx="324.9" cy="112.8" r="0.38"/><circle cx="318.9" cy="108.4" r="0.29"/><circle cx="320.3" cy="108.1" r="0.34"/><circle cx="338.6" cy="103.6" r="0.45"/><circle cx="325.2" cy="106.8" r="0.44"/><circle cx="332.6" cy="110.9" r="0.42"/><circle cx="318.1" cy="111.7" r="0.27"/><circle cx="322.3" cy="113.8" r="0.43"/><circle cx="329.6" cy="111.2" r="0.45"/><circle cx="333.5" cy="103.4" r="0.34"/><circle cx="317.5" cy="111.6" r="0.31"/><circle cx="317.9" cy="109.6" r="0.40"/><circle cx="333.4" cy="105.6" r="0.42"/><circle cx="332.1" cy="105.2" r="0.42"/><circle cx="336.5" cy="106.5" r="0.42"/><circle cx="337.2" cy="110.6" r="0.31"/><circle cx="320.8" cy="112.9" r="0.40"/><circle cx="322.5" cy="112.0" r="0.42"/><circle cx="329.3" cy="104.5" r="0.41"/><circle cx="335.5" cy="110.9" r="0.30"/></g><path d="M323.00,112.50 C323.83,111.78 327.67,111.48 330.00,111.20 C332.33,110.92 335.00,110.58 337.00,110.80 C339.00,111.02 340.75,111.63 342.00,112.50 C343.25,113.37 344.67,115.08 344.50,116.00 C344.33,116.92 342.92,117.87 341.00,118.00 C339.08,118.13 335.67,117.22 333.00,116.80 C330.33,116.38 326.67,116.22 325.00,115.50 C323.33,114.78 322.17,113.22 323.00,112.50Z" fill="#2a70c8" fill-opacity="0.70"/><path d="M323.00,112.50 C323.83,111.78 327.67,111.48 330.00,111.20 C332.33,110.92 335.00,110.58 337.00,110.80 C339.00,111.02 340.75,111.63 342.00,112.50 C343.25,113.37 344.67,115.08 344.50,116.00 C344.33,116.92 342.92,117.87 341.00,118.00 C339.08,118.13 335.67,117.22 333.00,116.80 C330.33,116.38 326.67,116.22 325.00,115.50 C323.33,114.78 322.17,113.22 323.00,112.50Z" fill="url(#sp3)" fill-opacity="0.8"/><g fill="#2a70c8" fill-opacity="0.85"><circle cx="330.1" cy="112.2" r="0.44"/><circle cx="338.5" cy="111.9" r="0.40"/><circle cx="327.2" cy="111.7" r="0.29"/><circle cx="334.0" cy="117.9" r="0.37"/><circle cx="342.7" cy="115.2" r="0.34"/><circle cx="331.2" cy="115.9" r="0.29"/><circle cx="337.1" cy="110.8" r="0.37"/><circle cx="343.5" cy="114.7" r="0.30"/><circle cx="325.9" cy="115.5" r="0.37"/><circle cx="342.4" cy="113.5" r="0.45"/><circle cx="340.7" cy="116.5" r="0.29"/><circle cx="325.9" cy="112.4" r="0.30"/><circle cx="341.8" cy="111.4" r="0.40"/><circle cx="345.8" cy="115.3" r="0.29"/><circle cx="338.0" cy="117.0" r="0.37"/><circle cx="341.9" cy="112.6" r="0.28"/><circle cx="326.4" cy="111.1" r="0.34"/><circle cx="334.4" cy="118.5" r="0.31"/><circle cx="332.6" cy="112.8" r="0.43"/><circle cx="332.6" cy="111.0" r="0.40"/><circle cx="343.5" cy="115.4" r="0.31"/><circle cx="343.3" cy="115.9" r="0.44"/><circle cx="326.6" cy="116.2" r="0.27"/><circle cx="340.0" cy="111.9" r="0.29"/><circle cx="343.9" cy="116.9" r="0.42"/><circle cx="339.3" cy="111.6" r="0.28"/><circle cx="330.5" cy="116.7" r="0.31"/><circle cx="333.0" cy="111.5" r="0.44"/><circle cx="334.0" cy="110.5" r="0.44"/><circle cx="324.7" cy="115.6" r="0.40"/><circle cx="326.0" cy="115.7" r="0.28"/><circle cx="329.6" cy="116.0" r="0.43"/><circle cx="325.4" cy="116.7" r="0.41"/><circle cx="337.0" cy="117.6" r="0.33"/><circle cx="335.0" cy="110.8" r="0.34"/><circle cx="338.1" cy="111.5" r="0.39"/><circle cx="337.3" cy="110.0" r="0.35"/><circle cx="336.1" cy="109.6" r="0.42"/><circle cx="333.0" cy="111.2" r="0.45"/><circle cx="335.2" cy="111.6" r="0.32"/><circle cx="335.2" cy="117.1" r="0.27"/><circle cx="329.6" cy="117.5" r="0.41"/><circle cx="327.8" cy="112.7" r="0.40"/><circle cx="342.6" cy="113.3" r="0.33"/><circle cx="343.5" cy="114.6" r="0.40"/><circle cx="341.2" cy="117.2" r="0.28"/><circle cx="324.3" cy="111.9" r="0.43"/><circle cx="333.6" cy="111.4" r="0.39"/><circle cx="331.3" cy="116.8" r="0.40"/><circle cx="333.8" cy="116.5" r="0.40"/><circle cx="343.5" cy="113.8" r="0.43"/><circle cx="325.1" cy="115.3" r="0.33"/><circle cx="340.5" cy="111.6" r="0.34"/><circle cx="339.1" cy="111.7" r="0.27"/><circle cx="334.7" cy="111.4" r="0.39"/><circle cx="331.4" cy="116.1" r="0.45"/><circle cx="324.1" cy="113.3" r="0.39"/><circle cx="340.9" cy="111.5" r="0.33"/><circle cx="337.4" cy="111.2" r="0.40"/><circle cx="329.5" cy="110.4" r="0.42"/><circle cx="330.5" cy="117.5" r="0.27"/><circle cx="333.5" cy="112.0" r="0.45"/><circle cx="332.4" cy="111.0" r="0.40"/><circle cx="324.0" cy="112.1" r="0.30"/><circle cx="329.4" cy="115.0" r="0.43"/><circle cx="342.1" cy="114.8" r="0.36"/><circle cx="333.9" cy="110.5" r="0.41"/><circle cx="327.5" cy="115.6" r="0.37"/><circle cx="343.6" cy="114.2" r="0.27"/><circle cx="335.3" cy="117.6" r="0.43"/><circle cx="335.2" cy="109.9" r="0.39"/><circle cx="326.9" cy="113.1" r="0.34"/><circle cx="337.0" cy="110.9" r="0.40"/><circle cx="332.7" cy="116.5" r="0.40"/><circle cx="325.1" cy="114.4" r="0.45"/><circle cx="341.8" cy="116.7" r="0.30"/><circle cx="340.0" cy="112.2" r="0.37"/><circle cx="339.5" cy="111.5" r="0.30"/><circle cx="340.1" cy="111.5" r="0.34"/><circle cx="329.9" cy="117.5" r="0.28"/><circle cx="341.4" cy="117.6" r="0.31"/><circle cx="333.2" cy="110.5" r="0.44"/><circle cx="343.5" cy="114.0" r="0.41"/><circle cx="337.6" cy="117.4" r="0.36"/><circle cx="326.1" cy="116.0" r="0.33"/><circle cx="338.4" cy="117.9" r="0.36"/><circle cx="343.2" cy="117.2" r="0.31"/><circle cx="335.7" cy="111.3" r="0.34"/><circle cx="336.4" cy="119.0" r="0.28"/><circle cx="336.7" cy="109.8" r="0.32"/><circle cx="336.2" cy="110.2" r="0.42"/><circle cx="326.4" cy="116.5" r="0.31"/><circle cx="342.5" cy="117.0" r="0.43"/><circle cx="338.7" cy="112.3" r="0.33"/><circle cx="343.5" cy="117.1" r="0.38"/><circle cx="328.3" cy="111.8" r="0.40"/><circle cx="330.2" cy="112.5" r="0.37"/><circle cx="343.2" cy="115.5" r="0.41"/><circle cx="340.1" cy="112.1" r="0.40"/><circle cx="344.4" cy="115.0" r="0.40"/><circle cx="340.9" cy="113.3" r="0.33"/><circle cx="332.7" cy="111.2" r="0.28"/><circle cx="322.9" cy="113.5" r="0.29"/><circle cx="330.0" cy="111.5" r="0.37"/><circle cx="338.4" cy="117.1" r="0.42"/><circle cx="333.7" cy="117.0" r="0.30"/><circle cx="327.5" cy="115.7" r="0.31"/><circle cx="330.1" cy="110.6" r="0.45"/><circle cx="328.9" cy="116.7" r="0.36"/><circle cx="342.0" cy="112.0" r="0.43"/><circle cx="339.3" cy="119.1" r="0.33"/><circle cx="333.6" cy="116.3" r="0.45"/><circle cx="343.2" cy="112.5" r="0.32"/><circle cx="344.3" cy="113.6" r="0.32"/></g><path d="M303.70,113.00 C304.03,112.22 304.95,111.60 306.00,111.30 C307.05,111.00 308.88,111.00 310.00,111.20 C311.12,111.40 312.28,111.78 312.70,112.50 C313.12,113.22 313.28,114.87 312.50,115.50 C311.72,116.13 309.42,116.22 308.00,116.30 C306.58,116.38 304.72,116.55 304.00,116.00 C303.28,115.45 303.37,113.78 303.70,113.00Z" fill="#5a8fd8" fill-opacity="0.90"/><path d="M303.70,113.00 C304.03,112.22 304.95,111.60 306.00,111.30 C307.05,111.00 308.88,111.00 310.00,111.20 C311.12,111.40 312.28,111.78 312.70,112.50 C313.12,113.22 313.28,114.87 312.50,115.50 C311.72,116.13 309.42,116.22 308.00,116.30 C306.58,116.38 304.72,116.55 304.00,116.00 C303.28,115.45 303.37,113.78 303.70,113.00Z" fill="url(#sp0)" fill-opacity="0.8"/><g fill="#5a8fd8" fill-opacity="0.85"><circle cx="307.0" cy="116.7" r="0.37"/><circle cx="311.5" cy="111.5" r="0.38"/><circle cx="309.4" cy="116.3" r="0.27"/><circle cx="312.5" cy="115.7" r="0.36"/><circle cx="312.0" cy="111.9" r="0.36"/><circle cx="313.2" cy="114.4" r="0.44"/><circle cx="303.8" cy="114.0" r="0.40"/><circle cx="303.6" cy="115.9" r="0.42"/><circle cx="310.9" cy="115.0" r="0.37"/><circle cx="304.3" cy="115.7" r="0.27"/><circle cx="313.2" cy="114.0" r="0.40"/><circle cx="312.6" cy="115.4" r="0.32"/><circle cx="308.5" cy="109.9" r="0.30"/><circle cx="310.1" cy="112.2" r="0.40"/><circle cx="309.7" cy="110.5" r="0.36"/><circle cx="311.7" cy="112.1" r="0.27"/><circle cx="303.6" cy="114.4" r="0.45"/><circle cx="311.8" cy="112.3" r="0.34"/><circle cx="309.4" cy="116.4" r="0.31"/><circle cx="305.7" cy="115.9" r="0.40"/><circle cx="311.2" cy="115.3" r="0.30"/><circle cx="312.9" cy="112.9" r="0.41"/><circle cx="305.2" cy="115.8" r="0.29"/><circle cx="305.7" cy="116.3" r="0.38"/><circle cx="308.9" cy="115.2" r="0.38"/><circle cx="312.3" cy="111.8" r="0.35"/><circle cx="304.9" cy="110.9" r="0.36"/><circle cx="313.0" cy="112.5" r="0.27"/><circle cx="305.8" cy="115.3" r="0.39"/><circle cx="306.5" cy="117.8" r="0.38"/><circle cx="311.0" cy="116.5" r="0.39"/><circle cx="310.9" cy="114.8" r="0.45"/><circle cx="308.5" cy="111.1" r="0.35"/><circle cx="307.7" cy="115.7" r="0.32"/><circle cx="311.7" cy="115.6" r="0.32"/><circle cx="304.5" cy="112.6" r="0.44"/><circle cx="310.4" cy="116.2" r="0.34"/><circle cx="308.9" cy="112.0" r="0.36"/><circle cx="305.8" cy="111.2" r="0.42"/><circle cx="312.7" cy="113.5" r="0.38"/><circle cx="313.0" cy="115.5" r="0.28"/><circle cx="312.2" cy="115.0" r="0.32"/><circle cx="308.3" cy="110.5" r="0.32"/><circle cx="311.7" cy="112.2" r="0.42"/><circle cx="306.4" cy="116.8" r="0.44"/><circle cx="309.1" cy="109.7" r="0.32"/><circle cx="305.5" cy="117.9" r="0.29"/><circle cx="307.2" cy="110.7" r="0.35"/><circle cx="304.8" cy="116.5" r="0.38"/><circle cx="308.4" cy="111.4" r="0.39"/><circle cx="310.6" cy="116.4" r="0.44"/><circle cx="310.6" cy="110.8" r="0.44"/><circle cx="303.6" cy="113.4" r="0.33"/><circle cx="308.9" cy="110.2" r="0.40"/><circle cx="303.8" cy="115.2" r="0.36"/><circle cx="302.6" cy="112.3" r="0.39"/></g><path d="M304.80,116.20 C305.27,115.38 306.80,115.63 308.00,115.60 C309.20,115.57 311.03,115.52 312.00,116.00 C312.97,116.48 313.72,117.62 313.80,118.50 C313.88,119.38 313.47,120.75 312.50,121.30 C311.53,121.85 309.22,121.93 308.00,121.80 C306.78,121.67 305.73,121.43 305.20,120.50 C304.67,119.57 304.33,117.02 304.80,116.20Z" fill="#f5c518" fill-opacity="0.95"/><path d="M304.80,116.20 C305.27,115.38 306.80,115.63 308.00,115.60 C309.20,115.57 311.03,115.52 312.00,116.00 C312.97,116.48 313.72,117.62 313.80,118.50 C313.88,119.38 313.47,120.75 312.50,121.30 C311.53,121.85 309.22,121.93 308.00,121.80 C306.78,121.67 305.73,121.43 305.20,120.50 C304.67,119.57 304.33,117.02 304.80,116.20Z" fill="url(#sp1)" fill-opacity="0.8"/><g fill="#f5c518" fill-opacity="0.85"><circle cx="313.2" cy="118.6" r="0.34"/><circle cx="305.7" cy="116.8" r="0.40"/><circle cx="311.6" cy="115.6" r="0.28"/><circle cx="305.0" cy="117.0" r="0.27"/><circle cx="313.7" cy="117.9" r="0.45"/><circle cx="307.4" cy="122.1" r="0.31"/><circle cx="309.1" cy="122.1" r="0.33"/><circle cx="309.2" cy="122.1" r="0.34"/><circle cx="306.8" cy="116.5" r="0.27"/><circle cx="304.2" cy="118.2" r="0.42"/><circle cx="309.8" cy="120.2" r="0.35"/><circle cx="305.1" cy="120.8" r="0.46"/><circle cx="309.4" cy="115.3" r="0.30"/><circle cx="306.1" cy="119.3" r="0.45"/><circle cx="307.7" cy="120.7" r="0.40"/><circle cx="305.6" cy="118.3" r="0.30"/><circle cx="314.6" cy="118.8" r="0.35"/><circle cx="305.5" cy="117.3" r="0.38"/><circle cx="313.1" cy="117.2" r="0.27"/><circle cx="304.5" cy="118.9" r="0.42"/><circle cx="307.1" cy="116.5" r="0.43"/><circle cx="310.1" cy="121.7" r="0.44"/><circle cx="313.6" cy="118.6" r="0.29"/><circle cx="310.5" cy="115.2" r="0.30"/><circle cx="306.2" cy="116.0" r="0.39"/><circle cx="309.9" cy="121.6" r="0.45"/><circle cx="304.3" cy="116.7" r="0.44"/><circle cx="309.7" cy="115.9" r="0.33"/><circle cx="309.6" cy="120.7" r="0.35"/><circle cx="313.7" cy="118.5" r="0.27"/><circle cx="306.5" cy="115.1" r="0.41"/><circle cx="311.0" cy="115.7" r="0.37"/><circle cx="312.4" cy="120.9" r="0.44"/><circle cx="311.3" cy="121.5" r="0.40"/><circle cx="306.0" cy="120.6" r="0.33"/><circle cx="304.9" cy="118.6" r="0.38"/><circle cx="312.3" cy="115.9" r="0.40"/><circle cx="314.0" cy="118.8" r="0.42"/><circle cx="305.1" cy="117.5" r="0.43"/><circle cx="309.9" cy="121.7" r="0.40"/><circle cx="312.5" cy="122.2" r="0.28"/><circle cx="305.6" cy="116.7" r="0.45"/><circle cx="307.5" cy="115.9" r="0.44"/><circle cx="310.3" cy="122.1" r="0.37"/><circle cx="312.2" cy="121.8" r="0.32"/><circle cx="311.4" cy="115.8" r="0.31"/><circle cx="305.0" cy="116.8" r="0.34"/><circle cx="311.1" cy="120.2" r="0.44"/><circle cx="305.3" cy="115.7" r="0.38"/><circle cx="306.0" cy="121.2" r="0.44"/><circle cx="313.0" cy="117.6" r="0.34"/><circle cx="307.4" cy="115.6" r="0.44"/><circle cx="312.6" cy="120.1" r="0.37"/><circle cx="313.3" cy="119.0" r="0.32"/><circle cx="312.4" cy="120.3" r="0.27"/><circle cx="304.2" cy="118.3" r="0.45"/><circle cx="304.8" cy="120.7" r="0.36"/><circle cx="313.5" cy="121.3" r="0.43"/><circle cx="308.6" cy="115.1" r="0.31"/><circle cx="305.9" cy="120.7" r="0.28"/></g><ellipse cx="317.5" cy="116.2" rx="3.4" ry="3.2" fill="#f8c0b0" stroke="#f08a70" stroke-width="1.4"/><rect x="328.6" y="60" width="3" height="1.2" fill="#5cc0ee"/><rect x="319" y="61.5" width="3" height="2" fill="#8b95a0" opacity="0.8"/></g><use href="#umapc" transform="translate(98.6,0)"/><path d="M324.50,66.00 C325.20,65.25 326.23,65.33 327.00,65.50 C327.77,65.67 328.85,66.08 329.10,67.00 C329.35,67.92 328.52,69.83 328.50,71.00 C328.48,72.17 329.25,73.15 329.00,74.00 C328.75,74.85 327.92,76.10 327.00,76.10 C326.08,76.10 324.20,75.02 323.50,74.00 C322.80,72.98 322.63,71.33 322.80,70.00 C322.97,68.67 323.80,66.75 324.50,66.00Z" fill="#f47216" fill-opacity="0.95"/><path d="M324.50,66.00 C325.20,65.25 326.23,65.33 327.00,65.50 C327.77,65.67 328.85,66.08 329.10,67.00 C329.35,67.92 328.52,69.83 328.50,71.00 C328.48,72.17 329.25,73.15 329.00,74.00 C328.75,74.85 327.92,76.10 327.00,76.10 C326.08,76.10 324.20,75.02 323.50,74.00 C322.80,72.98 322.63,71.33 322.80,70.00 C322.97,68.67 323.80,66.75 324.50,66.00Z" fill="url(#sp0)" fill-opacity="0.8"/><g fill="#f47216" fill-opacity="0.85"><circle cx="323.2" cy="69.9" r="0.39"/><circle cx="324.1" cy="73.8" r="0.35"/><circle cx="325.8" cy="74.8" r="0.33"/><circle cx="325.9" cy="75.5" r="0.34"/><circle cx="323.7" cy="74.4" r="0.40"/><circle cx="328.7" cy="70.8" r="0.45"/><circle cx="328.0" cy="75.4" r="0.37"/><circle cx="329.8" cy="74.0" r="0.36"/><circle cx="326.3" cy="75.7" r="0.38"/><circle cx="323.9" cy="65.9" r="0.43"/><circle cx="327.6" cy="76.0" r="0.42"/><circle cx="328.4" cy="67.8" r="0.32"/><circle cx="328.2" cy="71.5" r="0.33"/><circle cx="329.7" cy="70.2" r="0.41"/><circle cx="322.4" cy="73.0" r="0.39"/><circle cx="324.4" cy="66.4" r="0.36"/><circle cx="322.7" cy="75.4" r="0.30"/><circle cx="326.0" cy="73.1" r="0.34"/><circle cx="323.8" cy="73.7" r="0.29"/><circle cx="322.9" cy="71.7" r="0.45"/><circle cx="329.0" cy="73.8" r="0.38"/><circle cx="328.6" cy="73.2" r="0.30"/><circle cx="324.7" cy="64.4" r="0.40"/><circle cx="327.6" cy="75.3" r="0.32"/><circle cx="323.7" cy="71.0" r="0.37"/><circle cx="324.8" cy="75.6" r="0.28"/><circle cx="326.3" cy="74.9" r="0.40"/><circle cx="323.2" cy="72.6" r="0.35"/><circle cx="325.8" cy="75.2" r="0.29"/><circle cx="329.2" cy="66.8" r="0.37"/><circle cx="328.4" cy="69.5" r="0.32"/><circle cx="328.4" cy="74.9" r="0.37"/><circle cx="324.4" cy="72.9" r="0.38"/><circle cx="323.8" cy="72.6" r="0.32"/><circle cx="328.4" cy="75.4" r="0.36"/><circle cx="324.8" cy="70.5" r="0.38"/><circle cx="322.7" cy="71.1" r="0.32"/><circle cx="323.6" cy="74.1" r="0.31"/><circle cx="324.4" cy="73.9" r="0.36"/><circle cx="323.3" cy="67.6" r="0.37"/></g><g fill="#f47216" fill-opacity="0.90"><circle cx="426.7" cy="68.1" r="0.36"/><circle cx="424.2" cy="69.5" r="0.37"/><circle cx="425.9" cy="70.8" r="0.48"/><circle cx="423.5" cy="73.2" r="0.59"/><circle cx="426.5" cy="66.0" r="0.45"/><circle cx="425.0" cy="66.3" r="0.47"/><circle cx="426.4" cy="65.5" r="0.58"/><circle cx="426.2" cy="68.5" r="0.37"/><circle cx="425.8" cy="69.2" r="0.60"/><circle cx="424.3" cy="71.3" r="0.43"/><circle cx="422.0" cy="69.0" r="0.40"/><circle cx="424.5" cy="67.2" r="0.53"/><circle cx="423.0" cy="65.1" r="0.54"/><circle cx="421.8" cy="71.3" r="0.56"/><circle cx="423.2" cy="68.8" r="0.41"/><circle cx="423.8" cy="73.6" r="0.35"/><circle cx="426.8" cy="67.9" r="0.41"/><circle cx="424.2" cy="69.0" r="0.43"/><circle cx="425.7" cy="70.7" r="0.37"/><circle cx="423.5" cy="71.6" r="0.41"/><circle cx="425.5" cy="70.4" r="0.50"/><circle cx="423.0" cy="70.2" r="0.43"/><circle cx="423.6" cy="70.0" r="0.49"/><circle cx="423.5" cy="68.3" r="0.49"/><circle cx="425.4" cy="72.6" r="0.51"/><circle cx="421.8" cy="68.4" r="0.51"/><circle cx="426.0" cy="74.5" r="0.53"/><circle cx="425.2" cy="71.2" r="0.42"/><circle cx="425.0" cy="68.5" r="0.43"/><circle cx="424.6" cy="65.2" r="0.56"/><circle cx="422.6" cy="70.1" r="0.52"/><circle cx="425.2" cy="74.5" r="0.53"/><circle cx="424.4" cy="68.8" r="0.45"/><circle cx="424.2" cy="73.6" r="0.36"/><circle cx="423.1" cy="72.2" r="0.38"/><circle cx="426.6" cy="68.4" r="0.57"/><circle cx="422.7" cy="73.0" r="0.56"/><circle cx="423.3" cy="70.7" r="0.54"/><circle cx="427.8" cy="66.8" r="0.46"/><circle cx="425.3" cy="71.2" r="0.38"/><circle cx="425.0" cy="74.6" r="0.49"/><circle cx="422.3" cy="67.9" r="0.58"/><circle cx="423.9" cy="65.4" r="0.42"/><circle cx="425.0" cy="66.3" r="0.47"/><circle cx="424.4" cy="71.8" r="0.42"/></g><circle cx="220.00" cy="161.80" r="2.3" fill="#b5262b"/><text x="224.30" y="163.65" font-size="5.20" text-anchor="start" fill="#404040">B cells</text><circle cx="220.00" cy="168.27" r="2.3" fill="#6f8a2c"/><text x="224.30" y="170.12" font-size="5.20" text-anchor="start" fill="#404040">TDP CD4<tspan dy="-1.98" font-size="3.22">+</tspan><tspan dy="1.98"> CD8</tspan><tspan dy="-1.98" font-size="3.22">+</tspan><tspan dy="1.98"></tspan></text><circle cx="220.00" cy="174.74" r="2.3" fill="#f57c20"/><text x="224.30" y="176.59" font-size="5.20" text-anchor="start" fill="#404040">TCD4<tspan dy="-1.98" font-size="3.22">+</tspan><tspan dy="1.98"> CM</tspan></text><circle cx="220.00" cy="181.21" r="2.3" fill="#f9a83a"/><text x="224.30" y="183.06" font-size="5.20" text-anchor="start" fill="#404040">TCD4<tspan dy="-1.98" font-size="3.22">+</tspan><tspan dy="1.98"> CM CCR4</tspan><tspan dy="-1.98" font-size="3.22">+</tspan><tspan dy="1.98"> CXCR3</tspan><tspan dy="-1.98" font-size="3.22">+</tspan><tspan dy="1.98"></tspan></text><circle cx="220.00" cy="187.68" r="2.3" fill="#f08078"/><text x="224.30" y="189.53" font-size="5.20" text-anchor="start" fill="#404040">TCD4<tspan dy="-1.98" font-size="3.22">+</tspan><tspan dy="1.98"> CM CCR6</tspan><tspan dy="-1.98" font-size="3.22">+</tspan><tspan dy="1.98"></tspan></text><circle cx="220.00" cy="194.15" r="2.3" fill="#2b2b2b"/><text x="224.30" y="196.00" font-size="5.20" text-anchor="start" fill="#404040">TCD4<tspan dy="-1.98" font-size="3.22">+</tspan><tspan dy="1.98"> CM Th1</tspan></text><circle cx="220.00" cy="200.62" r="2.3" fill="#4a2a12"/><text x="224.30" y="202.47" font-size="5.20" text-anchor="start" fill="#404040">TCD4<tspan dy="-1.98" font-size="3.22">+</tspan><tspan dy="1.98"> CM Th1/Th17</tspan></text><circle cx="289.80" cy="162.40" r="2.3" fill="#f7c238"/><text x="293.80" y="164.25" font-size="5.20" text-anchor="start" fill="#404040">TCD4<tspan dy="-1.98" font-size="3.22">+</tspan><tspan dy="1.98"> CM Th17</tspan></text><circle cx="289.80" cy="168.87" r="2.3" fill="#5b8fd6"/><text x="293.80" y="170.72" font-size="5.20" text-anchor="start" fill="#404040">TCD4<tspan dy="-1.98" font-size="3.22">+</tspan><tspan dy="1.98"> CM Th2</tspan></text><circle cx="289.80" cy="175.34" r="2.3" fill="#7f7f7f"/><text x="293.80" y="177.19" font-size="5.20" text-anchor="start" fill="#404040">TCD4<tspan dy="-1.98" font-size="3.22">+</tspan><tspan dy="1.98"> EM CCR4</tspan><tspan dy="-1.98" font-size="3.22">+</tspan><tspan dy="1.98"> CXCR3</tspan><tspan dy="-1.98" font-size="3.22">+</tspan><tspan dy="1.98"></tspan></text><circle cx="289.80" cy="181.81" r="2.3" fill="#c8956b"/><text x="293.80" y="183.66" font-size="5.20" text-anchor="start" fill="#404040">TCD4<tspan dy="-1.98" font-size="3.22">+</tspan><tspan dy="1.98"> EM Th1</tspan></text><circle cx="289.80" cy="188.28" r="2.3" fill="#f0583a"/><text x="293.80" y="190.13" font-size="5.20" text-anchor="start" fill="#404040">TCD4<tspan dy="-1.98" font-size="3.22">+</tspan><tspan dy="1.98"> EM Th1/Th17</tspan></text><circle cx="289.80" cy="194.75" r="2.3" fill="#c5e0a0"/><text x="293.80" y="196.60" font-size="5.20" text-anchor="start" fill="#404040">TCD4<tspan dy="-1.98" font-size="3.22">+</tspan><tspan dy="1.98"> naive</tspan></text><circle cx="289.80" cy="201.22" r="2.3" fill="#1f68c0"/><text x="293.80" y="203.07" font-size="5.20" text-anchor="start" fill="#404040">TCD4<tspan dy="-1.98" font-size="3.22">+</tspan><tspan dy="1.98"> SCM CCR4</tspan><tspan dy="-1.98" font-size="3.22">+</tspan><tspan dy="1.98"></tspan></text><circle cx="358.60" cy="162.50" r="2.3" fill="#2f5e1e"/><text x="362.50" y="164.35" font-size="5.20" text-anchor="start" fill="#404040">TCD4<tspan dy="-1.98" font-size="3.22">+</tspan><tspan dy="1.98"> SCM CXCR3+</tspan></text><circle cx="358.60" cy="168.97" r="2.3" fill="#5cc0ee"/><text x="362.50" y="170.82" font-size="5.20" text-anchor="start" fill="#404040">TCD4<tspan dy="-1.98" font-size="3.22">+</tspan><tspan dy="1.98"> CM CCR4+ CD27+</tspan></text><circle cx="358.60" cy="175.44" r="2.3" fill="#160f22"/><text x="362.50" y="177.29" font-size="5.20" text-anchor="start" fill="#404040">TCD8<tspan dy="-1.98" font-size="3.22">+</tspan><tspan dy="1.98"> EM CCR4+ CXCR3+ CD27+</tspan></text><circle cx="358.60" cy="181.91" r="2.3" fill="#0e2a1f"/><text x="362.50" y="183.76" font-size="5.20" text-anchor="start" fill="#404040">TCD8<tspan dy="-1.98" font-size="3.22">+</tspan><tspan dy="1.98"> EM CCR6+ CXCR3+ CD27+</tspan></text><circle cx="358.60" cy="188.38" r="2.3" fill="#c81e1e"/><text x="362.50" y="190.23" font-size="5.20" text-anchor="start" fill="#404040">TCD8<tspan dy="-1.98" font-size="3.22">+</tspan><tspan dy="1.98"> EM CXCR3+</tspan></text><circle cx="358.60" cy="194.85" r="2.3" fill="#7a1a1a"/><text x="362.50" y="196.70" font-size="5.20" text-anchor="start" fill="#404040">TCD8<tspan dy="-1.98" font-size="3.22">+</tspan><tspan dy="1.98"> EM CXCR3+ CD27+</tspan></text><circle cx="358.60" cy="201.32" r="2.3" fill="#179585"/><text x="362.50" y="203.17" font-size="5.20" text-anchor="start" fill="#404040">TCD8<tspan dy="-1.98" font-size="3.22">+</tspan><tspan dy="1.98"> naive</tspan></text><circle cx="448.80" cy="162.80" r="2.3" fill="#f07ab0"/><text x="453.00" y="164.65" font-size="5.20" text-anchor="start" fill="#404040">TCD8<tspan dy="-1.98" font-size="3.22">+</tspan><tspan dy="1.98"> TEMRA</tspan></text><circle cx="448.80" cy="169.27" r="2.3" fill="#f06a5a"/><text x="453.00" y="171.12" font-size="5.20" text-anchor="start" fill="#404040">TCD8<tspan dy="-1.98" font-size="3.22">+</tspan><tspan dy="1.98"> TM CXCR3</tspan><tspan dy="-1.98" font-size="3.22">+</tspan><tspan dy="1.98"> CD27</tspan><tspan dy="-1.98" font-size="3.22">+</tspan><tspan dy="1.98"></tspan></text><circle cx="448.80" cy="175.74" r="2.3" fill="#5a8fd0"/><text x="453.00" y="177.59" font-size="5.20" text-anchor="start" fill="#404040">Debris</text><circle cx="448.80" cy="182.21" r="2.3" fill="#6a1a5a"/><text x="453.00" y="184.06" font-size="5.20" text-anchor="start" fill="#404040">NK CD8<tspan dy="-1.98" font-size="3.22">+</tspan><tspan dy="1.98"></tspan></text><circle cx="448.80" cy="188.68" r="2.3" fill="#a060a8"/><text x="453.00" y="190.53" font-size="5.20" text-anchor="start" fill="#404040">NK cells</text><circle cx="448.80" cy="195.15" r="2.3" fill="#f06a1a"/><text x="453.00" y="197.00" font-size="5.20" text-anchor="start" fill="#404040">Unclassified</text><text x="41.7" y="287" font-size="10.4" font-weight="bold" fill="#111">C</text><text x="83.0" y="307.08" font-size="5.2" text-anchor="end" fill="#222">CD4 naive</text><text x="83.0" y="313.54" font-size="5.2" text-anchor="end" fill="#222">CD4 CM Th2</text><text x="83.0" y="320.00" font-size="5.2" text-anchor="end" fill="#222">CD8 EM CXCR3+ CD27+</text><text x="83.0" y="326.46" font-size="5.2" text-anchor="end" fill="#222">CD8 TM CXCR3+ CD27+</text><text x="83.0" y="332.92" font-size="5.2" text-anchor="end" fill="#222">B cells</text><text x="83.0" y="339.38" font-size="5.2" text-anchor="end" fill="#222">CD4 CD8 DP</text><text x="83.0" y="345.84" font-size="5.2" text-anchor="end" fill="#222">CD8 CM CCR4+ CD27+</text><text x="83.0" y="352.30" font-size="5.2" text-anchor="end" fill="#222">CD8 EM CCR4+ CXCR3+ CD27+</text><text x="83.0" y="358.76" font-size="5.2" text-anchor="end" fill="#222">CD4 CM CCR6+</text><text x="83.0" y="365.22" font-size="5.2" text-anchor="end" fill="#222">CD8 naive</text><text x="83.0" y="371.68" font-size="5.2" text-anchor="end" fill="#222">NK cells</text><text x="83.0" y="378.14" font-size="5.2" text-anchor="end" fill="#222">CD4 CM</text><text x="83.0" y="384.60" font-size="5.2" text-anchor="end" fill="#222">CD4 TSCM CXCR3+</text><text x="83.0" y="391.06" font-size="5.2" text-anchor="end" fill="#222">CD4 EM CCR4+ CXCR3+</text><text x="83.0" y="397.52" font-size="5.2" text-anchor="end" fill="#222">CD4 EM Th1</text><text x="83.0" y="403.98" font-size="5.2" text-anchor="end" fill="#222">CD4 CM CXR3+ CCR4+</text><text x="83.0" y="410.44" font-size="5.2" text-anchor="end" fill="#222">CD4 CM Th17</text><text x="83.0" y="416.90" font-size="5.2" text-anchor="end" fill="#222">CD8 TEMRA</text><text x="83.0" y="423.36" font-size="5.2" text-anchor="end" fill="#222">CD8 EM CCR6+ CXCR3+ CD27+</text><text x="83.0" y="429.82" font-size="5.2" text-anchor="end" fill="#222">CD8 EM CXCR3+</text><text x="83.0" y="436.28" font-size="5.2" text-anchor="end" fill="#222">CD4 EM Th1 Th17</text><text x="83.0" y="442.74" font-size="5.2" text-anchor="end" fill="#222">CD4 CM Th1</text><text x="83.0" y="449.20" font-size="5.2" text-anchor="end" fill="#222">CD4 CM Th1 Th17</text><text x="83.0" y="455.66" font-size="5.2" text-anchor="end" fill="#222">CD4 TSCM CCR4+</text><text x="83.0" y="462.12" font-size="5.2" text-anchor="end" fill="#222">NK CD8+</text><text transform="translate(95.63,293.6) rotate(-45)" font-size="5.2" fill="#2b2b2b">CD4 naive</text><text transform="translate(102.09,293.6) rotate(-45)" font-size="5.2" fill="#2b2b2b">CD4 CM Th2</text><text transform="translate(108.55,293.6) rotate(-45)" font-size="5.2" fill="#2b2b2b">CD8 EM CXCR3+ CD27+</text><text transform="translate(115.01,293.6) rotate(-45)" font-size="5.2" fill="#2b2b2b">CD8 TM CXCR3+ CD27+</text><text transform="translate(121.47,293.6) rotate(-45)" font-size="5.2" fill="#2b2b2b">B cells</text><text transform="translate(127.93,293.6) rotate(-45)" font-size="5.2" fill="#2b2b2b">CD4 CD8 DP</text><text transform="translate(134.39,293.6) rotate(-45)" font-size="5.2" fill="#2b2b2b">CD8 CM CCR4+ CD27+</text><text transform="translate(140.85,293.6) rotate(-45)" font-size="5.2" fill="#2b2b2b">CD8 EM CCR4+ CXCR3+ CD27+</text><text transform="translate(147.31,293.6) rotate(-45)" font-size="5.2" fill="#2b2b2b">CD4 CM CCR6+</text><text transform="translate(153.77,293.6) rotate(-45)" font-size="5.2" fill="#2b2b2b">CD8 naive</text><text transform="translate(160.23,293.6) rotate(-45)" font-size="5.2" fill="#2b2b2b">NK cells</text><text transform="translate(166.69,293.6) rotate(-45)" font-size="5.2" fill="#2b2b2b">CD4 CM</text><text transform="translate(173.15,293.6) rotate(-45)" font-size="5.2" fill="#2b2b2b">CD4 TSCM CXCR3+</text><text transform="translate(179.61,293.6) rotate(-45)" font-size="5.2" fill="#2b2b2b">CD4 EM CCR4+ CXCR3+</text><text transform="translate(186.07,293.6) rotate(-45)" font-size="5.2" fill="#2b2b2b">CD4 EM Th1</text><text transform="translate(192.53,293.6) rotate(-45)" font-size="5.2" fill="#2b2b2b">CD4 CM CXR3+ CCR4+</text><text transform="translate(198.99,293.6) rotate(-45)" font-size="5.2" fill="#2b2b2b">CD4 CM Th17</text><text transform="translate(205.45,293.6) rotate(-45)" font-size="5.2" fill="#2b2b2b">CD8 TEMRA</text><text transform="translate(211.91,293.6) rotate(-45)" font-size="5.2" fill="#2b2b2b">CD8 EM CCR6+ CXCR3+ CD27+</text><text transform="translate(218.37,293.6) rotate(-45)" font-size="5.2" fill="#2b2b2b">CD8 EM CXCR3+</text><text transform="translate(224.83,293.6) rotate(-45)" font-size="5.2" fill="#2b2b2b">CD4 EM Th1 Th17</text><text transform="translate(231.29,293.6) rotate(-45)" font-size="5.2" fill="#2b2b2b">CD4 CM Th1</text><text transform="translate(237.75,293.6) rotate(-45)" font-size="5.2" fill="#2b2b2b">CD4 CM Th1 Th17</text><text transform="translate(244.21,293.6) rotate(-45)" font-size="5.2" fill="#2b2b2b">CD4 TSCM CCR4+</text><text transform="translate(250.67,293.6) rotate(-45)" font-size="5.2" fill="#2b2b2b">NK CD8+</text><rect x="91.3" y="296" width="161.3" height="3.9" fill="#2f73b3"/><rect x="84.8" y="302" width="3.9" height="161.5" fill="#99c5df"/><rect x="91.80" y="302.00" width="161.50" height="161.50" fill="#fff"/><path d="M91.80,302.00V463.50M91.80,302.00H253.30M98.26,302.00V463.50M91.80,308.46H253.30M104.72,302.00V463.50M91.80,314.92H253.30M111.18,302.00V463.50M91.80,321.38H253.30M117.64,302.00V463.50M91.80,327.84H253.30M124.10,302.00V463.50M91.80,334.30H253.30M130.56,302.00V463.50M91.80,340.76H253.30M137.02,302.00V463.50M91.80,347.22H253.30M143.48,302.00V463.50M91.80,353.68H253.30M149.94,302.00V463.50M91.80,360.14H253.30M156.40,302.00V463.50M91.80,366.60H253.30M162.86,302.00V463.50M91.80,373.06H253.30M169.32,302.00V463.50M91.80,379.52H253.30M175.78,302.00V463.50M91.80,385.98H253.30M182.24,302.00V463.50M91.80,392.44H253.30M188.70,302.00V463.50M91.80,398.90H253.30M195.16,302.00V463.50M91.80,405.36H253.30M201.62,302.00V463.50M91.80,411.82H253.30M208.08,302.00V463.50M91.80,418.28H253.30M214.54,302.00V463.50M91.80,424.74H253.30M221.00,302.00V463.50M91.80,431.20H253.30M227.46,302.00V463.50M91.80,437.66H253.30M233.92,302.00V463.50M91.80,444.12H253.30M240.38,302.00V463.50M91.80,450.58H253.30M246.84,302.00V463.50M91.80,457.04H253.30M253.30,302.00V463.50M91.80,463.50H253.30" stroke="#d2d2d2" stroke-width="0.9" fill="none"/><circle cx="95.03" cy="305.23" r="3.05" fill="#a5172c"/><rect x="93.78" y="304.78" width="2.5" height="0.9" fill="#fff" opacity="0.6"/><circle cx="101.49" cy="305.23" r="2.10" fill="#b9b9b9"/><circle cx="107.95" cy="305.23" r="2.55" fill="#acacac"/><circle cx="114.41" cy="305.23" r="2.55" fill="#acacac"/><circle cx="120.87" cy="305.23" r="2.10" fill="#b9b9b9"/><circle cx="127.33" cy="305.23" r="0.80" fill="#c4c4c4"/><circle cx="133.79" cy="305.23" r="1.20" fill="#c2c2c2"/><circle cx="140.25" cy="305.23" r="2.10" fill="#b9b9b9"/><circle cx="146.71" cy="305.23" r="1.20" fill="#c2c2c2"/><circle cx="153.17" cy="305.23" r="2.55" fill="#acacac"/><circle cx="159.63" cy="305.23" r="1.20" fill="#c2c2c2"/><circle cx="166.09" cy="305.23" r="1.30" fill="#d6d6d6"/><circle cx="172.55" cy="305.23" r="1.30" fill="#d6d6d6"/><circle cx="179.01" cy="305.23" r="1.20" fill="#c2c2c2"/><circle cx="185.47" cy="305.23" r="3.05" fill="#2b6db3"/><rect x="184.22" y="304.78" width="2.5" height="0.9" fill="#fff" opacity="0.6"/><circle cx="191.93" cy="305.23" r="1.30" fill="#d6d6d6"/><circle cx="198.39" cy="305.23" r="1.30" fill="#d6d6d6"/><circle cx="204.85" cy="305.23" r="3.05" fill="#2b6db3"/><rect x="203.60" y="304.78" width="2.5" height="0.9" fill="#fff" opacity="0.6"/><circle cx="211.31" cy="305.23" r="1.30" fill="#d6d6d6"/><circle cx="217.77" cy="305.23" r="2.10" fill="#d8d8d8"/><circle cx="224.23" cy="305.23" r="1.30" fill="#d6d6d6"/><circle cx="230.69" cy="305.23" r="1.30" fill="#d6d6d6"/><circle cx="237.15" cy="305.23" r="1.30" fill="#d6d6d6"/><circle cx="243.61" cy="305.23" r="2.55" fill="#acacac"/><circle cx="250.07" cy="305.23" r="1.20" fill="#c2c2c2"/><circle cx="95.03" cy="311.69" r="2.10" fill="#d8d8d8"/><circle cx="101.49" cy="311.69" r="2.10" fill="#b9b9b9"/><circle cx="107.95" cy="311.69" r="1.20" fill="#c2c2c2"/><circle cx="114.41" cy="311.69" r="1.20" fill="#c2c2c2"/><circle cx="120.87" cy="311.69" r="1.20" fill="#c2c2c2"/><circle cx="127.33" cy="311.69" r="0.80" fill="#c4c4c4"/><circle cx="133.79" cy="311.69" r="2.10" fill="#d8d8d8"/><circle cx="140.25" cy="311.69" r="1.30" fill="#d6d6d6"/><circle cx="146.71" cy="311.69" r="2.10" fill="#d8d8d8"/><circle cx="153.17" cy="311.69" r="1.30" fill="#d6d6d6"/><circle cx="159.63" cy="311.69" r="2.10" fill="#b9b9b9"/><circle cx="166.09" cy="311.69" r="3.05" fill="#c9242f"/><rect x="164.84" y="311.24" width="2.5" height="0.9" fill="#fff" opacity="0.6"/><circle cx="172.55" cy="311.69" r="1.20" fill="#c2c2c2"/><circle cx="179.01" cy="311.69" r="1.30" fill="#d6d6d6"/><circle cx="185.47" cy="311.69" r="0.80" fill="#c4c4c4"/><circle cx="191.93" cy="311.69" r="3.05" fill="#c9242f"/><rect x="190.68" y="311.24" width="2.5" height="0.9" fill="#fff" opacity="0.6"/><circle cx="198.39" cy="311.69" r="2.10" fill="#b9b9b9"/><circle cx="204.85" cy="311.69" r="1.20" fill="#c2c2c2"/><circle cx="211.31" cy="311.69" r="2.10" fill="#d8d8d8"/><circle cx="217.77" cy="311.69" r="1.30" fill="#d6d6d6"/><circle cx="224.23" cy="311.69" r="2.10" fill="#b9b9b9"/><circle cx="230.69" cy="311.69" r="1.20" fill="#c2c2c2"/><circle cx="237.15" cy="311.69" r="2.55" fill="#acacac"/><circle cx="243.61" cy="311.69" r="2.10" fill="#d8d8d8"/><circle cx="250.07" cy="311.69" r="1.20" fill="#c2c2c2"/><circle cx="95.03" cy="318.15" r="2.10" fill="#b9b9b9"/><circle cx="101.49" cy="318.15" r="3.05" fill="#c9242f"/><rect x="100.24" y="317.70" width="2.5" height="0.9" fill="#fff" opacity="0.6"/><circle cx="107.95" cy="318.15" r="3.05" fill="#a5172c"/><rect x="106.70" y="317.70" width="2.5" height="0.9" fill="#fff" opacity="0.6"/><circle cx="114.41" cy="318.15" r="3.05" fill="#a5172c"/><rect x="113.16" y="317.70" width="2.5" height="0.9" fill="#fff" opacity="0.6"/><circle cx="120.87" cy="318.15" r="2.10" fill="#b9b9b9"/><circle cx="127.33" cy="318.15" r="1.20" fill="#c2c2c2"/><circle cx="133.79" cy="318.15" r="1.20" fill="#c2c2c2"/><circle cx="140.25" cy="318.15" r="2.55" fill="#acacac"/><circle cx="146.71" cy="318.15" r="2.55" fill="#acacac"/><circle cx="153.17" cy="318.15" r="1.20" fill="#c2c2c2"/><circle cx="159.63" cy="318.15" r="2.10" fill="#d8d8d8"/><circle cx="166.09" cy="318.15" r="1.20" fill="#c2c2c2"/><circle cx="172.55" cy="318.15" r="1.20" fill="#c2c2c2"/><circle cx="179.01" cy="318.15" r="2.10" fill="#d8d8d8"/><circle cx="185.47" cy="318.15" r="1.20" fill="#c2c2c2"/><circle cx="191.93" cy="318.15" r="0.80" fill="#c4c4c4"/><circle cx="198.39" cy="318.15" r="2.55" fill="#acacac"/><circle cx="204.85" cy="318.15" r="1.30" fill="#d6d6d6"/><circle cx="211.31" cy="318.15" r="2.10" fill="#d8d8d8"/><circle cx="217.77" cy="318.15" r="1.30" fill="#d6d6d6"/><circle cx="224.23" cy="318.15" r="1.20" fill="#c2c2c2"/><circle cx="230.69" cy="318.15" r="1.30" fill="#d6d6d6"/><circle cx="237.15" cy="318.15" r="1.30" fill="#d6d6d6"/><circle cx="243.61" cy="318.15" r="1.30" fill="#d6d6d6"/><circle cx="250.07" cy="318.15" r="1.30" fill="#d6d6d6"/><circle cx="95.03" cy="324.61" r="2.10" fill="#b9b9b9"/><circle cx="101.49" cy="324.61" r="3.05" fill="#c9242f"/><rect x="100.24" y="324.16" width="2.5" height="0.9" fill="#fff" opacity="0.6"/><circle cx="107.95" cy="324.61" r="3.05" fill="#a5172c"/><rect x="106.70" y="324.16" width="2.5" height="0.9" fill="#fff" opacity="0.6"/><circle cx="114.41" cy="324.61" r="3.05" fill="#6a0a23"/><rect x="113.16" y="324.16" width="2.5" height="0.9" fill="#fff" opacity="0.6"/><circle cx="120.87" cy="324.61" r="2.10" fill="#b9b9b9"/><circle cx="127.33" cy="324.61" r="2.10" fill="#b9b9b9"/><circle cx="133.79" cy="324.61" r="2.10" fill="#b9b9b9"/><circle cx="140.25" cy="324.61" r="3.05" fill="#c9242f"/><rect x="139.00" y="324.16" width="2.5" height="0.9" fill="#fff" opacity="0.6"/><circle cx="146.71" cy="324.61" r="1.20" fill="#c2c2c2"/><circle cx="153.17" cy="324.61" r="1.20" fill="#c2c2c2"/><circle cx="159.63" cy="324.61" r="3.05" fill="#2b6db3"/><rect x="158.38" y="324.16" width="2.5" height="0.9" fill="#fff" opacity="0.6"/><circle cx="166.09" cy="324.61" r="1.20" fill="#c2c2c2"/><circle cx="172.55" cy="324.61" r="1.20" fill="#c2c2c2"/><circle cx="179.01" cy="324.61" r="2.10" fill="#d8d8d8"/><circle cx="185.47" cy="324.61" r="1.20" fill="#c2c2c2"/><circle cx="191.93" cy="324.61" r="1.20" fill="#c2c2c2"/><circle cx="198.39" cy="324.61" r="2.10" fill="#b9b9b9"/><circle cx="204.85" cy="324.61" r="1.30" fill="#d6d6d6"/><circle cx="211.31" cy="324.61" r="1.20" fill="#c2c2c2"/><circle cx="217.77" cy="324.61" r="1.30" fill="#d6d6d6"/><circle cx="224.23" cy="324.61" r="1.20" fill="#c2c2c2"/><circle cx="230.69" cy="324.61" r="1.20" fill="#c2c2c2"/><circle cx="237.15" cy="324.61" r="2.10" fill="#d8d8d8"/><circle cx="243.61" cy="324.61" r="1.30" fill="#d6d6d6"/><circle cx="250.07" cy="324.61" r="1.30" fill="#d6d6d6"/><circle cx="95.03" cy="331.07" r="1.20" fill="#c2c2c2"/><circle cx="101.49" cy="331.07" r="1.20" fill="#c2c2c2"/><circle cx="107.95" cy="331.07" r="1.20" fill="#c2c2c2"/><circle cx="114.41" cy="331.07" r="1.20" fill="#c2c2c2"/><circle cx="120.87" cy="331.07" r="2.55" fill="#acacac"/><circle cx="127.33" cy="331.07" r="1.20" fill="#c2c2c2"/><circle cx="133.79" cy="331.07" r="0.80" fill="#c4c4c4"/><circle cx="140.25" cy="331.07" r="2.10" fill="#d8d8d8"/><circle cx="146.71" cy="331.07" r="2.55" fill="#acacac"/><circle cx="153.17" cy="331.07" r="1.20" fill="#c2c2c2"/><circle cx="159.63" cy="331.07" r="2.10" fill="#d8d8d8"/><circle cx="166.09" cy="331.07" r="2.10" fill="#b9b9b9"/><circle cx="172.55" cy="331.07" r="1.20" fill="#c2c2c2"/><circle cx="179.01" cy="331.07" r="0.80" fill="#c4c4c4"/><circle cx="185.47" cy="331.07" r="2.55" fill="#acacac"/><circle cx="191.93" cy="331.07" r="0.80" fill="#c4c4c4"/><circle cx="198.39" cy="331.07" r="2.10" fill="#b9b9b9"/><circle cx="204.85" cy="331.07" r="0.80" fill="#c4c4c4"/><circle cx="211.31" cy="331.07" r="1.20" fill="#c2c2c2"/><circle cx="217.77" cy="331.07" r="1.20" fill="#c2c2c2"/><circle cx="224.23" cy="331.07" r="2.55" fill="#acacac"/><circle cx="230.69" cy="331.07" r="1.20" fill="#c2c2c2"/><circle cx="237.15" cy="331.07" r="0.80" fill="#c4c4c4"/><circle cx="243.61" cy="331.07" r="2.10" fill="#d8d8d8"/><circle cx="250.07" cy="331.07" r="0.80" fill="#c4c4c4"/><circle cx="95.03" cy="337.53" r="2.10" fill="#b9b9b9"/><circle cx="101.49" cy="337.53" r="1.20" fill="#c2c2c2"/><circle cx="107.95" cy="337.53" r="1.20" fill="#c2c2c2"/><circle cx="114.41" cy="337.53" r="1.20" fill="#c2c2c2"/><circle cx="120.87" cy="337.53" r="3.05" fill="#a5172c"/><rect x="119.62" y="337.08" width="2.5" height="0.9" fill="#fff" opacity="0.6"/><circle cx="127.33" cy="337.53" r="3.05" fill="#c9242f"/><rect x="126.08" y="337.08" width="2.5" height="0.9" fill="#fff" opacity="0.6"/><circle cx="133.79" cy="337.53" r="3.05" fill="#a5172c"/><rect x="132.54" y="337.08" width="2.5" height="0.9" fill="#fff" opacity="0.6"/><circle cx="140.25" cy="337.53" r="2.10" fill="#b9b9b9"/><circle cx="146.71" cy="337.53" r="2.10" fill="#b9b9b9"/><circle cx="153.17" cy="337.53" r="1.20" fill="#c2c2c2"/><circle cx="159.63" cy="337.53" r="3.05" fill="#2b6db3"/><rect x="158.38" y="337.08" width="2.5" height="0.9" fill="#fff" opacity="0.6"/><circle cx="166.09" cy="337.53" r="1.20" fill="#c2c2c2"/><circle cx="172.55" cy="337.53" r="2.10" fill="#b9b9b9"/><circle cx="179.01" cy="337.53" r="2.10" fill="#d8d8d8"/><circle cx="185.47" cy="337.53" r="0.80" fill="#c4c4c4"/><circle cx="191.93" cy="337.53" r="1.30" fill="#d6d6d6"/><circle cx="198.39" cy="337.53" r="2.10" fill="#d8d8d8"/><circle cx="204.85" cy="337.53" r="1.30" fill="#d6d6d6"/><circle cx="211.31" cy="337.53" r="1.20" fill="#c2c2c2"/><circle cx="217.77" cy="337.53" r="1.30" fill="#d6d6d6"/><circle cx="224.23" cy="337.53" r="1.20" fill="#c2c2c2"/><circle cx="230.69" cy="337.53" r="1.20" fill="#c2c2c2"/><circle cx="237.15" cy="337.53" r="1.30" fill="#d6d6d6"/><circle cx="243.61" cy="337.53" r="1.30" fill="#d6d6d6"/><circle cx="250.07" cy="337.53" r="1.30" fill="#d6d6d6"/><circle cx="95.03" cy="343.99" r="2.10" fill="#b9b9b9"/><circle cx="101.49" cy="343.99" r="1.20" fill="#c2c2c2"/><circle cx="107.95" cy="343.99" r="1.20" fill="#c2c2c2"/><circle cx="114.41" cy="343.99" r="1.20" fill="#c2c2c2"/><circle cx="120.87" cy="343.99" r="2.10" fill="#b9b9b9"/><circle cx="127.33" cy="343.99" r="2.55" fill="#acacac"/><circle cx="133.79" cy="343.99" r="3.05" fill="#6a0a23"/><rect x="132.54" y="343.54" width="2.5" height="0.9" fill="#fff" opacity="0.6"/><circle cx="140.25" cy="343.99" r="3.05" fill="#c9242f"/><rect x="139.00" y="343.54" width="2.5" height="0.9" fill="#fff" opacity="0.6"/><circle cx="146.71" cy="343.99" r="1.20" fill="#c2c2c2"/><circle cx="153.17" cy="343.99" r="1.20" fill="#c2c2c2"/><circle cx="159.63" cy="343.99" r="2.10" fill="#d8d8d8"/><circle cx="166.09" cy="343.99" r="1.20" fill="#c2c2c2"/><circle cx="172.55" cy="343.99" r="2.55" fill="#acacac"/><circle cx="179.01" cy="343.99" r="2.10" fill="#d8d8d8"/><circle cx="185.47" cy="343.99" r="1.20" fill="#c2c2c2"/><circle cx="191.93" cy="343.99" r="1.20" fill="#c2c2c2"/><circle cx="198.39" cy="343.99" r="1.20" fill="#c2c2c2"/><circle cx="204.85" cy="343.99" r="0.80" fill="#c4c4c4"/><circle cx="211.31" cy="343.99" r="1.20" fill="#c2c2c2"/><circle cx="217.77" cy="343.99" r="0.80" fill="#c4c4c4"/><circle cx="224.23" cy="343.99" r="2.10" fill="#d8d8d8"/><circle cx="230.69" cy="343.99" r="1.20" fill="#c2c2c2"/><circle cx="237.15" cy="343.99" r="2.10" fill="#d8d8d8"/><circle cx="243.61" cy="343.99" r="2.10" fill="#d8d8d8"/><circle cx="250.07" cy="343.99" r="1.30" fill="#d6d6d6"/><circle cx="95.03" cy="350.45" r="1.20" fill="#c2c2c2"/><circle cx="101.49" cy="350.45" r="2.10" fill="#b9b9b9"/><circle cx="107.95" cy="350.45" r="2.10" fill="#b9b9b9"/><circle cx="114.41" cy="350.45" r="2.10" fill="#b9b9b9"/><circle cx="120.87" cy="350.45" r="2.10" fill="#b9b9b9"/><circle cx="127.33" cy="350.45" r="2.55" fill="#acacac"/><circle cx="133.79" cy="350.45" r="3.05" fill="#a5172c"/><rect x="132.54" y="350.00" width="2.5" height="0.9" fill="#fff" opacity="0.6"/><circle cx="140.25" cy="350.45" r="3.05" fill="#c9242f"/><rect x="139.00" y="350.00" width="2.5" height="0.9" fill="#fff" opacity="0.6"/><circle cx="146.71" cy="350.45" r="1.20" fill="#c2c2c2"/><circle cx="153.17" cy="350.45" r="2.10" fill="#d8d8d8"/><circle cx="159.63" cy="350.45" r="3.05" fill="#1d4e8f"/><rect x="158.38" y="350.00" width="2.5" height="0.9" fill="#fff" opacity="0.6"/><circle cx="166.09" cy="350.45" r="2.10" fill="#b9b9b9"/><circle cx="172.55" cy="350.45" r="2.55" fill="#acacac"/><circle cx="179.01" cy="350.45" r="1.20" fill="#c2c2c2"/><circle cx="185.47" cy="350.45" r="2.10" fill="#b9b9b9"/><circle cx="191.93" cy="350.45" r="1.20" fill="#c2c2c2"/><circle cx="198.39" cy="350.45" r="1.20" fill="#c2c2c2"/><circle cx="204.85" cy="350.45" r="2.10" fill="#b9b9b9"/><circle cx="211.31" cy="350.45" r="0.80" fill="#c4c4c4"/><circle cx="217.77" cy="350.45" r="0.80" fill="#c4c4c4"/><circle cx="224.23" cy="350.45" r="1.30" fill="#d6d6d6"/><circle cx="230.69" cy="350.45" r="1.20" fill="#c2c2c2"/><circle cx="237.15" cy="350.45" r="2.10" fill="#d8d8d8"/><circle cx="243.61" cy="350.45" r="1.30" fill="#d6d6d6"/><circle cx="250.07" cy="350.45" r="1.30" fill="#d6d6d6"/><circle cx="95.03" cy="356.91" r="2.10" fill="#d8d8d8"/><circle cx="101.49" cy="356.91" r="1.20" fill="#c2c2c2"/><circle cx="107.95" cy="356.91" r="1.20" fill="#c2c2c2"/><circle cx="114.41" cy="356.91" r="1.20" fill="#c2c2c2"/><circle cx="120.87" cy="356.91" r="1.20" fill="#c2c2c2"/><circle cx="127.33" cy="356.91" r="2.55" fill="#acacac"/><circle cx="133.79" cy="356.91" r="2.10" fill="#d8d8d8"/><circle cx="140.25" cy="356.91" r="2.10" fill="#d8d8d8"/><circle cx="146.71" cy="356.91" r="2.55" fill="#acacac"/><circle cx="153.17" cy="356.91" r="1.20" fill="#c2c2c2"/><circle cx="159.63" cy="356.91" r="0.80" fill="#c4c4c4"/><circle cx="166.09" cy="356.91" r="1.20" fill="#c2c2c2"/><circle cx="172.55" cy="356.91" r="2.10" fill="#d8d8d8"/><circle cx="179.01" cy="356.91" r="1.30" fill="#d6d6d6"/><circle cx="185.47" cy="356.91" r="0.80" fill="#c4c4c4"/><circle cx="191.93" cy="356.91" r="1.20" fill="#c2c2c2"/><circle cx="198.39" cy="356.91" r="1.20" fill="#c2c2c2"/><circle cx="204.85" cy="356.91" r="1.30" fill="#d6d6d6"/><circle cx="211.31" cy="356.91" r="1.20" fill="#c2c2c2"/><circle cx="217.77" cy="356.91" r="1.30" fill="#d6d6d6"/><circle cx="224.23" cy="356.91" r="3.05" fill="#a5172c"/><rect x="222.98" y="356.46" width="2.5" height="0.9" fill="#fff" opacity="0.6"/><circle cx="230.69" cy="356.91" r="2.10" fill="#b9b9b9"/><circle cx="237.15" cy="356.91" r="3.05" fill="#c9242f"/><rect x="235.90" y="356.46" width="2.5" height="0.9" fill="#fff" opacity="0.6"/><circle cx="243.61" cy="356.91" r="1.30" fill="#d6d6d6"/><circle cx="250.07" cy="356.91" r="2.10" fill="#b9b9b9"/><circle cx="95.03" cy="363.37" r="2.10" fill="#b9b9b9"/><circle cx="101.49" cy="363.37" r="1.30" fill="#d6d6d6"/><circle cx="107.95" cy="363.37" r="1.20" fill="#c2c2c2"/><circle cx="114.41" cy="363.37" r="1.20" fill="#c2c2c2"/><circle cx="120.87" cy="363.37" r="2.55" fill="#acacac"/><circle cx="127.33" cy="363.37" r="2.55" fill="#acacac"/><circle cx="133.79" cy="363.37" r="1.20" fill="#c2c2c2"/><circle cx="140.25" cy="363.37" r="1.20" fill="#c2c2c2"/><circle cx="146.71" cy="363.37" r="2.10" fill="#b9b9b9"/><circle cx="153.17" cy="363.37" r="3.05" fill="#a5172c"/><rect x="151.92" y="362.92" width="2.5" height="0.9" fill="#fff" opacity="0.6"/><circle cx="159.63" cy="363.37" r="1.20" fill="#c2c2c2"/><circle cx="166.09" cy="363.37" r="1.30" fill="#d6d6d6"/><circle cx="172.55" cy="363.37" r="3.05" fill="#1d4e8f"/><rect x="171.30" y="362.92" width="2.5" height="0.9" fill="#fff" opacity="0.6"/><circle cx="179.01" cy="363.37" r="1.30" fill="#d6d6d6"/><circle cx="185.47" cy="363.37" r="1.30" fill="#d6d6d6"/><circle cx="191.93" cy="363.37" r="1.30" fill="#d6d6d6"/><circle cx="198.39" cy="363.37" r="1.30" fill="#d6d6d6"/><circle cx="204.85" cy="363.37" r="3.05" fill="#2b6db3"/><rect x="203.60" y="362.92" width="2.5" height="0.9" fill="#fff" opacity="0.6"/><circle cx="211.31" cy="363.37" r="2.10" fill="#b9b9b9"/><circle cx="217.77" cy="363.37" r="1.30" fill="#d6d6d6"/><circle cx="224.23" cy="363.37" r="2.55" fill="#acacac"/><circle cx="230.69" cy="363.37" r="1.20" fill="#c2c2c2"/><circle cx="237.15" cy="363.37" r="2.10" fill="#b9b9b9"/><circle cx="243.61" cy="363.37" r="1.20" fill="#c2c2c2"/><circle cx="250.07" cy="363.37" r="0.80" fill="#c4c4c4"/><circle cx="95.03" cy="369.83" r="1.20" fill="#c2c2c2"/><circle cx="101.49" cy="369.83" r="1.20" fill="#c2c2c2"/><circle cx="107.95" cy="369.83" r="2.10" fill="#d8d8d8"/><circle cx="114.41" cy="369.83" r="2.10" fill="#d8d8d8"/><circle cx="120.87" cy="369.83" r="2.10" fill="#d8d8d8"/><circle cx="127.33" cy="369.83" r="2.10" fill="#d8d8d8"/><circle cx="133.79" cy="369.83" r="2.10" fill="#d8d8d8"/><circle cx="140.25" cy="369.83" r="2.10" fill="#d8d8d8"/><circle cx="146.71" cy="369.83" r="2.10" fill="#d8d8d8"/><circle cx="153.17" cy="369.83" r="1.20" fill="#c2c2c2"/><circle cx="159.63" cy="369.83" r="3.05" fill="#a5172c"/><rect x="158.38" y="369.38" width="2.5" height="0.9" fill="#fff" opacity="0.6"/><circle cx="166.09" cy="369.83" r="2.10" fill="#b9b9b9"/><circle cx="172.55" cy="369.83" r="1.20" fill="#c2c2c2"/><circle cx="179.01" cy="369.83" r="1.20" fill="#c2c2c2"/><circle cx="185.47" cy="369.83" r="1.30" fill="#d6d6d6"/><circle cx="191.93" cy="369.83" r="2.10" fill="#b9b9b9"/><circle cx="198.39" cy="369.83" r="1.30" fill="#d6d6d6"/><circle cx="204.85" cy="369.83" r="1.20" fill="#c2c2c2"/><circle cx="211.31" cy="369.83" r="2.10" fill="#d8d8d8"/><circle cx="217.77" cy="369.83" r="2.10" fill="#b9b9b9"/><circle cx="224.23" cy="369.83" r="1.30" fill="#d6d6d6"/><circle cx="230.69" cy="369.83" r="1.30" fill="#d6d6d6"/><circle cx="237.15" cy="369.83" r="1.20" fill="#c2c2c2"/><circle cx="243.61" cy="369.83" r="0.80" fill="#c4c4c4"/><circle cx="250.07" cy="369.83" r="0.80" fill="#c4c4c4"/><circle cx="95.03" cy="376.29" r="2.10" fill="#d8d8d8"/><circle cx="101.49" cy="376.29" r="2.55" fill="#acacac"/><circle cx="107.95" cy="376.29" r="1.20" fill="#c2c2c2"/><circle cx="114.41" cy="376.29" r="1.20" fill="#c2c2c2"/><circle cx="120.87" cy="376.29" r="2.10" fill="#d8d8d8"/><circle cx="127.33" cy="376.29" r="2.10" fill="#d8d8d8"/><circle cx="133.79" cy="376.29" r="1.30" fill="#d6d6d6"/><circle cx="140.25" cy="376.29" r="1.20" fill="#c2c2c2"/><circle cx="146.71" cy="376.29" r="0.80" fill="#c4c4c4"/><circle cx="153.17" cy="376.29" r="3.05" fill="#2b6db3"/><rect x="151.92" y="375.84" width="2.5" height="0.9" fill="#fff" opacity="0.6"/><circle cx="159.63" cy="376.29" r="2.10" fill="#b9b9b9"/><circle cx="166.09" cy="376.29" r="3.05" fill="#c9242f"/><rect x="164.84" y="375.84" width="2.5" height="0.9" fill="#fff" opacity="0.6"/><circle cx="172.55" cy="376.29" r="2.10" fill="#b9b9b9"/><circle cx="179.01" cy="376.29" r="1.20" fill="#c2c2c2"/><circle cx="185.47" cy="376.29" r="0.80" fill="#c4c4c4"/><circle cx="191.93" cy="376.29" r="3.05" fill="#c9242f"/><rect x="190.68" y="375.84" width="2.5" height="0.9" fill="#fff" opacity="0.6"/><circle cx="198.39" cy="376.29" r="3.05" fill="#c9242f"/><rect x="197.14" y="375.84" width="2.5" height="0.9" fill="#fff" opacity="0.6"/><circle cx="204.85" cy="376.29" r="1.20" fill="#c2c2c2"/><circle cx="211.31" cy="376.29" r="2.10" fill="#d8d8d8"/><circle cx="217.77" cy="376.29" r="1.30" fill="#d6d6d6"/><circle cx="224.23" cy="376.29" r="1.30" fill="#d6d6d6"/><circle cx="230.69" cy="376.29" r="1.30" fill="#d6d6d6"/><circle cx="237.15" cy="376.29" r="1.30" fill="#d6d6d6"/><circle cx="243.61" cy="376.29" r="0.80" fill="#c4c4c4"/><circle cx="250.07" cy="376.29" r="2.10" fill="#b9b9b9"/><circle cx="95.03" cy="382.75" r="1.30" fill="#d6d6d6"/><circle cx="101.49" cy="382.75" r="2.10" fill="#b9b9b9"/><circle cx="107.95" cy="382.75" r="1.20" fill="#c2c2c2"/><circle cx="114.41" cy="382.75" r="1.20" fill="#c2c2c2"/><circle cx="120.87" cy="382.75" r="0.80" fill="#c4c4c4"/><circle cx="127.33" cy="382.75" r="0.80" fill="#c4c4c4"/><circle cx="133.79" cy="382.75" r="2.10" fill="#b9b9b9"/><circle cx="140.25" cy="382.75" r="0.80" fill="#c4c4c4"/><circle cx="146.71" cy="382.75" r="1.20" fill="#c2c2c2"/><circle cx="153.17" cy="382.75" r="2.10" fill="#d8d8d8"/><circle cx="159.63" cy="382.75" r="1.20" fill="#c2c2c2"/><circle cx="166.09" cy="382.75" r="3.05" fill="#c9242f"/><rect x="164.84" y="382.30" width="2.5" height="0.9" fill="#fff" opacity="0.6"/><circle cx="172.55" cy="382.75" r="3.05" fill="#a5172c"/><rect x="171.30" y="382.30" width="2.5" height="0.9" fill="#fff" opacity="0.6"/><circle cx="179.01" cy="382.75" r="1.20" fill="#c2c2c2"/><circle cx="185.47" cy="382.75" r="1.20" fill="#c2c2c2"/><circle cx="191.93" cy="382.75" r="2.10" fill="#b9b9b9"/><circle cx="198.39" cy="382.75" r="2.10" fill="#b9b9b9"/><circle cx="204.85" cy="382.75" r="1.20" fill="#c2c2c2"/><circle cx="211.31" cy="382.75" r="3.05" fill="#2b6db3"/><rect x="210.06" y="382.30" width="2.5" height="0.9" fill="#fff" opacity="0.6"/><circle cx="217.77" cy="382.75" r="1.30" fill="#d6d6d6"/><circle cx="224.23" cy="382.75" r="1.30" fill="#d6d6d6"/><circle cx="230.69" cy="382.75" r="1.30" fill="#d6d6d6"/><circle cx="237.15" cy="382.75" r="0.80" fill="#c4c4c4"/><circle cx="243.61" cy="382.75" r="1.30" fill="#d6d6d6"/><circle cx="250.07" cy="382.75" r="1.20" fill="#c2c2c2"/><circle cx="95.03" cy="389.21" r="2.10" fill="#d8d8d8"/><circle cx="101.49" cy="389.21" r="1.30" fill="#d6d6d6"/><circle cx="107.95" cy="389.21" r="1.20" fill="#c2c2c2"/><circle cx="114.41" cy="389.21" r="1.20" fill="#c2c2c2"/><circle cx="120.87" cy="389.21" r="2.10" fill="#d8d8d8"/><circle cx="127.33" cy="389.21" r="1.30" fill="#d6d6d6"/><circle cx="133.79" cy="389.21" r="0.80" fill="#c4c4c4"/><circle cx="140.25" cy="389.21" r="1.20" fill="#c2c2c2"/><circle cx="146.71" cy="389.21" r="3.05" fill="#3c88cb"/><rect x="145.46" y="388.76" width="2.5" height="0.9" fill="#fff" opacity="0.6"/><circle cx="153.17" cy="389.21" r="1.20" fill="#c2c2c2"/><circle cx="159.63" cy="389.21" r="1.20" fill="#c2c2c2"/><circle cx="166.09" cy="389.21" r="1.30" fill="#d6d6d6"/><circle cx="172.55" cy="389.21" r="1.20" fill="#c2c2c2"/><circle cx="179.01" cy="389.21" r="2.55" fill="#acacac"/><circle cx="185.47" cy="389.21" r="1.30" fill="#d6d6d6"/><circle cx="191.93" cy="389.21" r="0.80" fill="#c4c4c4"/><circle cx="198.39" cy="389.21" r="0.80" fill="#c4c4c4"/><circle cx="204.85" cy="389.21" r="2.10" fill="#b9b9b9"/><circle cx="211.31" cy="389.21" r="2.10" fill="#b9b9b9"/><circle cx="217.77" cy="389.21" r="1.20" fill="#c2c2c2"/><circle cx="224.23" cy="389.21" r="2.10" fill="#d8d8d8"/><circle cx="230.69" cy="389.21" r="2.10" fill="#b9b9b9"/><circle cx="237.15" cy="389.21" r="1.20" fill="#c2c2c2"/><circle cx="243.61" cy="389.21" r="2.55" fill="#acacac"/><circle cx="250.07" cy="389.21" r="2.10" fill="#b9b9b9"/><circle cx="95.03" cy="395.67" r="2.10" fill="#d8d8d8"/><circle cx="101.49" cy="395.67" r="1.30" fill="#d6d6d6"/><circle cx="107.95" cy="395.67" r="1.30" fill="#d6d6d6"/><circle cx="114.41" cy="395.67" r="2.10" fill="#d8d8d8"/><circle cx="120.87" cy="395.67" r="1.30" fill="#d6d6d6"/><circle cx="127.33" cy="395.67" r="1.30" fill="#d6d6d6"/><circle cx="133.79" cy="395.67" r="1.30" fill="#d6d6d6"/><circle cx="140.25" cy="395.67" r="1.30" fill="#d6d6d6"/><circle cx="146.71" cy="395.67" r="0.80" fill="#c4c4c4"/><circle cx="153.17" cy="395.67" r="1.20" fill="#c2c2c2"/><circle cx="159.63" cy="395.67" r="1.20" fill="#c2c2c2"/><circle cx="166.09" cy="395.67" r="1.30" fill="#d6d6d6"/><circle cx="172.55" cy="395.67" r="1.20" fill="#c2c2c2"/><circle cx="179.01" cy="395.67" r="2.55" fill="#acacac"/><circle cx="185.47" cy="395.67" r="3.05" fill="#a5172c"/><rect x="184.22" y="395.22" width="2.5" height="0.9" fill="#fff" opacity="0.6"/><circle cx="191.93" cy="395.67" r="1.30" fill="#d6d6d6"/><circle cx="198.39" cy="395.67" r="2.10" fill="#b9b9b9"/><circle cx="204.85" cy="395.67" r="2.55" fill="#acacac"/><circle cx="211.31" cy="395.67" r="2.55" fill="#acacac"/><circle cx="217.77" cy="395.67" r="2.55" fill="#acacac"/><circle cx="224.23" cy="395.67" r="1.20" fill="#c2c2c2"/><circle cx="230.69" cy="395.67" r="2.10" fill="#b9b9b9"/><circle cx="237.15" cy="395.67" r="2.10" fill="#b9b9b9"/><circle cx="243.61" cy="395.67" r="1.30" fill="#d6d6d6"/><circle cx="250.07" cy="395.67" r="1.30" fill="#d6d6d6"/><circle cx="95.03" cy="402.13" r="1.30" fill="#d6d6d6"/><circle cx="101.49" cy="402.13" r="1.20" fill="#c2c2c2"/><circle cx="107.95" cy="402.13" r="2.10" fill="#d8d8d8"/><circle cx="114.41" cy="402.13" r="3.05" fill="#1d4e8f"/><rect x="113.16" y="401.68" width="2.5" height="0.9" fill="#fff" opacity="0.6"/><circle cx="120.87" cy="402.13" r="1.20" fill="#c2c2c2"/><circle cx="127.33" cy="402.13" r="1.20" fill="#c2c2c2"/><circle cx="133.79" cy="402.13" r="1.20" fill="#c2c2c2"/><circle cx="140.25" cy="402.13" r="2.10" fill="#d8d8d8"/><circle cx="146.71" cy="402.13" r="2.10" fill="#b9b9b9"/><circle cx="153.17" cy="402.13" r="1.20" fill="#c2c2c2"/><circle cx="159.63" cy="402.13" r="1.20" fill="#c2c2c2"/><circle cx="166.09" cy="402.13" r="0.80" fill="#c4c4c4"/><circle cx="172.55" cy="402.13" r="2.10" fill="#b9b9b9"/><circle cx="179.01" cy="402.13" r="2.10" fill="#b9b9b9"/><circle cx="185.47" cy="402.13" r="2.10" fill="#b9b9b9"/><circle cx="191.93" cy="402.13" r="2.55" fill="#acacac"/><circle cx="198.39" cy="402.13" r="2.10" fill="#b9b9b9"/><circle cx="204.85" cy="402.13" r="1.20" fill="#c2c2c2"/><circle cx="211.31" cy="402.13" r="1.30" fill="#d6d6d6"/><circle cx="217.77" cy="402.13" r="1.20" fill="#c2c2c2"/><circle cx="224.23" cy="402.13" r="1.20" fill="#c2c2c2"/><circle cx="230.69" cy="402.13" r="1.30" fill="#d6d6d6"/><circle cx="237.15" cy="402.13" r="2.55" fill="#acacac"/><circle cx="243.61" cy="402.13" r="1.30" fill="#d6d6d6"/><circle cx="250.07" cy="402.13" r="1.20" fill="#c2c2c2"/><circle cx="95.03" cy="408.59" r="1.20" fill="#c2c2c2"/><circle cx="101.49" cy="408.59" r="1.20" fill="#c2c2c2"/><circle cx="107.95" cy="408.59" r="1.30" fill="#d6d6d6"/><circle cx="114.41" cy="408.59" r="1.30" fill="#d6d6d6"/><circle cx="120.87" cy="408.59" r="1.20" fill="#c2c2c2"/><circle cx="127.33" cy="408.59" r="2.10" fill="#d8d8d8"/><circle cx="133.79" cy="408.59" r="2.10" fill="#d8d8d8"/><circle cx="140.25" cy="408.59" r="1.30" fill="#d6d6d6"/><circle cx="146.71" cy="408.59" r="1.20" fill="#c2c2c2"/><circle cx="153.17" cy="408.59" r="2.10" fill="#d8d8d8"/><circle cx="159.63" cy="408.59" r="2.10" fill="#b9b9b9"/><circle cx="166.09" cy="408.59" r="1.20" fill="#c2c2c2"/><circle cx="172.55" cy="408.59" r="1.20" fill="#c2c2c2"/><circle cx="179.01" cy="408.59" r="3.05" fill="#c9242f"/><rect x="177.76" y="408.14" width="2.5" height="0.9" fill="#fff" opacity="0.6"/><circle cx="185.47" cy="408.59" r="2.10" fill="#b9b9b9"/><circle cx="191.93" cy="408.59" r="2.10" fill="#b9b9b9"/><circle cx="198.39" cy="408.59" r="2.55" fill="#acacac"/><circle cx="204.85" cy="408.59" r="0.80" fill="#c4c4c4"/><circle cx="211.31" cy="408.59" r="1.30" fill="#d6d6d6"/><circle cx="217.77" cy="408.59" r="1.30" fill="#d6d6d6"/><circle cx="224.23" cy="408.59" r="1.20" fill="#c2c2c2"/><circle cx="230.69" cy="408.59" r="0.80" fill="#c4c4c4"/><circle cx="237.15" cy="408.59" r="2.10" fill="#b9b9b9"/><circle cx="243.61" cy="408.59" r="2.10" fill="#b9b9b9"/><circle cx="250.07" cy="408.59" r="2.55" fill="#acacac"/><circle cx="95.03" cy="415.05" r="3.05" fill="#2b6db3"/><rect x="93.78" y="414.60" width="2.5" height="0.9" fill="#fff" opacity="0.6"/><circle cx="101.49" cy="415.05" r="1.30" fill="#d6d6d6"/><circle cx="107.95" cy="415.05" r="1.20" fill="#c2c2c2"/><circle cx="114.41" cy="415.05" r="1.30" fill="#d6d6d6"/><circle cx="120.87" cy="415.05" r="3.05" fill="#2b6db3"/><rect x="119.62" y="414.60" width="2.5" height="0.9" fill="#fff" opacity="0.6"/><circle cx="127.33" cy="415.05" r="1.20" fill="#c2c2c2"/><circle cx="133.79" cy="415.05" r="0.80" fill="#c4c4c4"/><circle cx="140.25" cy="415.05" r="0.80" fill="#c4c4c4"/><circle cx="146.71" cy="415.05" r="1.30" fill="#d6d6d6"/><circle cx="153.17" cy="415.05" r="2.10" fill="#d8d8d8"/><circle cx="159.63" cy="415.05" r="1.20" fill="#c2c2c2"/><circle cx="166.09" cy="415.05" r="1.20" fill="#c2c2c2"/><circle cx="172.55" cy="415.05" r="2.10" fill="#b9b9b9"/><circle cx="179.01" cy="415.05" r="2.55" fill="#acacac"/><circle cx="185.47" cy="415.05" r="2.10" fill="#b9b9b9"/><circle cx="191.93" cy="415.05" r="0.80" fill="#c4c4c4"/><circle cx="198.39" cy="415.05" r="1.30" fill="#d6d6d6"/><circle cx="204.85" cy="415.05" r="3.05" fill="#a5172c"/><rect x="203.60" y="414.60" width="2.5" height="0.9" fill="#fff" opacity="0.6"/><circle cx="211.31" cy="415.05" r="2.10" fill="#b9b9b9"/><circle cx="217.77" cy="415.05" r="2.55" fill="#acacac"/><circle cx="224.23" cy="415.05" r="1.30" fill="#d6d6d6"/><circle cx="230.69" cy="415.05" r="2.10" fill="#b9b9b9"/><circle cx="237.15" cy="415.05" r="1.20" fill="#c2c2c2"/><circle cx="243.61" cy="415.05" r="1.20" fill="#c2c2c2"/><circle cx="250.07" cy="415.05" r="2.10" fill="#b9b9b9"/><circle cx="95.03" cy="421.51" r="2.10" fill="#b9b9b9"/><circle cx="101.49" cy="421.51" r="1.20" fill="#c2c2c2"/><circle cx="107.95" cy="421.51" r="3.05" fill="#c9242f"/><rect x="106.70" y="421.06" width="2.5" height="0.9" fill="#fff" opacity="0.6"/><circle cx="114.41" cy="421.51" r="3.05" fill="#d4473a"/><rect x="113.16" y="421.06" width="2.5" height="0.9" fill="#fff" opacity="0.6"/><circle cx="120.87" cy="421.51" r="0.80" fill="#c4c4c4"/><circle cx="127.33" cy="421.51" r="1.20" fill="#c2c2c2"/><circle cx="133.79" cy="421.51" r="2.10" fill="#b9b9b9"/><circle cx="140.25" cy="421.51" r="3.05" fill="#a5172c"/><rect x="139.00" y="421.06" width="2.5" height="0.9" fill="#fff" opacity="0.6"/><circle cx="146.71" cy="421.51" r="0.80" fill="#c4c4c4"/><circle cx="153.17" cy="421.51" r="1.20" fill="#c2c2c2"/><circle cx="159.63" cy="421.51" r="2.10" fill="#d8d8d8"/><circle cx="166.09" cy="421.51" r="2.10" fill="#d8d8d8"/><circle cx="172.55" cy="421.51" r="1.30" fill="#d6d6d6"/><circle cx="179.01" cy="421.51" r="1.30" fill="#d6d6d6"/><circle cx="185.47" cy="421.51" r="2.10" fill="#d8d8d8"/><circle cx="191.93" cy="421.51" r="2.10" fill="#d8d8d8"/><circle cx="198.39" cy="421.51" r="1.30" fill="#d6d6d6"/><circle cx="204.85" cy="421.51" r="1.20" fill="#c2c2c2"/><circle cx="211.31" cy="421.51" r="2.10" fill="#b9b9b9"/><circle cx="217.77" cy="421.51" r="1.20" fill="#c2c2c2"/><circle cx="224.23" cy="421.51" r="1.30" fill="#d6d6d6"/><circle cx="230.69" cy="421.51" r="1.20" fill="#c2c2c2"/><circle cx="237.15" cy="421.51" r="2.10" fill="#d8d8d8"/><circle cx="243.61" cy="421.51" r="1.20" fill="#c2c2c2"/><circle cx="250.07" cy="421.51" r="1.30" fill="#d6d6d6"/><circle cx="95.03" cy="427.97" r="1.30" fill="#d6d6d6"/><circle cx="101.49" cy="427.97" r="1.30" fill="#d6d6d6"/><circle cx="107.95" cy="427.97" r="1.30" fill="#d6d6d6"/><circle cx="114.41" cy="427.97" r="2.10" fill="#d8d8d8"/><circle cx="120.87" cy="427.97" r="1.30" fill="#d6d6d6"/><circle cx="127.33" cy="427.97" r="1.30" fill="#d6d6d6"/><circle cx="133.79" cy="427.97" r="0.80" fill="#c4c4c4"/><circle cx="140.25" cy="427.97" r="1.20" fill="#c2c2c2"/><circle cx="146.71" cy="427.97" r="1.30" fill="#d6d6d6"/><circle cx="153.17" cy="427.97" r="0.80" fill="#c4c4c4"/><circle cx="159.63" cy="427.97" r="0.80" fill="#c4c4c4"/><circle cx="166.09" cy="427.97" r="2.10" fill="#d8d8d8"/><circle cx="172.55" cy="427.97" r="1.20" fill="#c2c2c2"/><circle cx="179.01" cy="427.97" r="1.20" fill="#c2c2c2"/><circle cx="185.47" cy="427.97" r="1.20" fill="#c2c2c2"/><circle cx="191.93" cy="427.97" r="2.10" fill="#d8d8d8"/><circle cx="198.39" cy="427.97" r="1.30" fill="#d6d6d6"/><circle cx="204.85" cy="427.97" r="2.55" fill="#acacac"/><circle cx="211.31" cy="427.97" r="2.10" fill="#b9b9b9"/><circle cx="217.77" cy="427.97" r="3.05" fill="#6a0a23"/><rect x="216.52" y="427.52" width="2.5" height="0.9" fill="#fff" opacity="0.6"/><circle cx="224.23" cy="427.97" r="1.20" fill="#c2c2c2"/><circle cx="230.69" cy="427.97" r="1.20" fill="#c2c2c2"/><circle cx="237.15" cy="427.97" r="1.20" fill="#c2c2c2"/><circle cx="243.61" cy="427.97" r="1.30" fill="#d6d6d6"/><circle cx="250.07" cy="427.97" r="1.20" fill="#c2c2c2"/><circle cx="95.03" cy="434.43" r="1.30" fill="#d6d6d6"/><circle cx="101.49" cy="434.43" r="3.05" fill="#2b6db3"/><rect x="100.24" y="433.98" width="2.5" height="0.9" fill="#fff" opacity="0.6"/><circle cx="107.95" cy="434.43" r="1.30" fill="#d6d6d6"/><circle cx="114.41" cy="434.43" r="1.30" fill="#d6d6d6"/><circle cx="120.87" cy="434.43" r="1.20" fill="#c2c2c2"/><circle cx="127.33" cy="434.43" r="2.55" fill="#acacac"/><circle cx="133.79" cy="434.43" r="0.80" fill="#c4c4c4"/><circle cx="140.25" cy="434.43" r="2.10" fill="#d8d8d8"/><circle cx="146.71" cy="434.43" r="1.20" fill="#c2c2c2"/><circle cx="153.17" cy="434.43" r="2.10" fill="#b9b9b9"/><circle cx="159.63" cy="434.43" r="1.20" fill="#c2c2c2"/><circle cx="166.09" cy="434.43" r="1.30" fill="#d6d6d6"/><circle cx="172.55" cy="434.43" r="2.10" fill="#d8d8d8"/><circle cx="179.01" cy="434.43" r="0.80" fill="#c4c4c4"/><circle cx="185.47" cy="434.43" r="1.30" fill="#d6d6d6"/><circle cx="191.93" cy="434.43" r="1.20" fill="#c2c2c2"/><circle cx="198.39" cy="434.43" r="2.10" fill="#d8d8d8"/><circle cx="204.85" cy="434.43" r="1.20" fill="#c2c2c2"/><circle cx="211.31" cy="434.43" r="2.55" fill="#acacac"/><circle cx="217.77" cy="434.43" r="0.80" fill="#c4c4c4"/><circle cx="224.23" cy="434.43" r="3.05" fill="#c9242f"/><rect x="222.98" y="433.98" width="2.5" height="0.9" fill="#fff" opacity="0.6"/><circle cx="230.69" cy="434.43" r="3.05" fill="#a5172c"/><rect x="229.44" y="433.98" width="2.5" height="0.9" fill="#fff" opacity="0.6"/><circle cx="237.15" cy="434.43" r="3.05" fill="#c9242f"/><rect x="235.90" y="433.98" width="2.5" height="0.9" fill="#fff" opacity="0.6"/><circle cx="243.61" cy="434.43" r="0.80" fill="#c4c4c4"/><circle cx="250.07" cy="434.43" r="2.10" fill="#b9b9b9"/><circle cx="95.03" cy="440.89" r="1.30" fill="#d6d6d6"/><circle cx="101.49" cy="440.89" r="1.20" fill="#c2c2c2"/><circle cx="107.95" cy="440.89" r="1.30" fill="#d6d6d6"/><circle cx="114.41" cy="440.89" r="1.30" fill="#d6d6d6"/><circle cx="120.87" cy="440.89" r="1.20" fill="#c2c2c2"/><circle cx="127.33" cy="440.89" r="1.30" fill="#d6d6d6"/><circle cx="133.79" cy="440.89" r="2.10" fill="#d8d8d8"/><circle cx="140.25" cy="440.89" r="3.05" fill="#2b6db3"/><rect x="139.00" y="440.44" width="2.5" height="0.9" fill="#fff" opacity="0.6"/><circle cx="146.71" cy="440.89" r="0.80" fill="#c4c4c4"/><circle cx="153.17" cy="440.89" r="2.10" fill="#d8d8d8"/><circle cx="159.63" cy="440.89" r="2.10" fill="#b9b9b9"/><circle cx="166.09" cy="440.89" r="2.55" fill="#acacac"/><circle cx="172.55" cy="440.89" r="1.20" fill="#c2c2c2"/><circle cx="179.01" cy="440.89" r="2.10" fill="#b9b9b9"/><circle cx="185.47" cy="440.89" r="2.10" fill="#b9b9b9"/><circle cx="191.93" cy="440.89" r="3.05" fill="#c9242f"/><rect x="190.68" y="440.44" width="2.5" height="0.9" fill="#fff" opacity="0.6"/><circle cx="198.39" cy="440.89" r="2.10" fill="#b9b9b9"/><circle cx="204.85" cy="440.89" r="1.20" fill="#c2c2c2"/><circle cx="211.31" cy="440.89" r="1.30" fill="#d6d6d6"/><circle cx="217.77" cy="440.89" r="1.30" fill="#d6d6d6"/><circle cx="224.23" cy="440.89" r="1.20" fill="#c2c2c2"/><circle cx="230.69" cy="440.89" r="2.10" fill="#b9b9b9"/><circle cx="237.15" cy="440.89" r="1.30" fill="#d6d6d6"/><circle cx="243.61" cy="440.89" r="1.20" fill="#c2c2c2"/><circle cx="250.07" cy="440.89" r="2.55" fill="#acacac"/><circle cx="95.03" cy="447.35" r="1.30" fill="#d6d6d6"/><circle cx="101.49" cy="447.35" r="1.30" fill="#d6d6d6"/><circle cx="107.95" cy="447.35" r="1.30" fill="#d6d6d6"/><circle cx="114.41" cy="447.35" r="1.20" fill="#c2c2c2"/><circle cx="120.87" cy="447.35" r="1.30" fill="#d6d6d6"/><circle cx="127.33" cy="447.35" r="2.10" fill="#b9b9b9"/><circle cx="133.79" cy="447.35" r="0.80" fill="#c4c4c4"/><circle cx="140.25" cy="447.35" r="0.80" fill="#c4c4c4"/><circle cx="146.71" cy="447.35" r="1.30" fill="#d6d6d6"/><circle cx="153.17" cy="447.35" r="1.20" fill="#c2c2c2"/><circle cx="159.63" cy="447.35" r="1.20" fill="#c2c2c2"/><circle cx="166.09" cy="447.35" r="1.20" fill="#c2c2c2"/><circle cx="172.55" cy="447.35" r="1.30" fill="#d6d6d6"/><circle cx="179.01" cy="447.35" r="1.20" fill="#c2c2c2"/><circle cx="185.47" cy="447.35" r="0.80" fill="#c4c4c4"/><circle cx="191.93" cy="447.35" r="1.20" fill="#c2c2c2"/><circle cx="198.39" cy="447.35" r="2.10" fill="#d8d8d8"/><circle cx="204.85" cy="447.35" r="1.20" fill="#c2c2c2"/><circle cx="211.31" cy="447.35" r="2.10" fill="#b9b9b9"/><circle cx="217.77" cy="447.35" r="1.20" fill="#c2c2c2"/><circle cx="224.23" cy="447.35" r="0.80" fill="#c4c4c4"/><circle cx="230.69" cy="447.35" r="3.05" fill="#a5172c"/><rect x="229.44" y="446.90" width="2.5" height="0.9" fill="#fff" opacity="0.6"/><circle cx="237.15" cy="447.35" r="1.20" fill="#c2c2c2"/><circle cx="243.61" cy="447.35" r="1.20" fill="#c2c2c2"/><circle cx="250.07" cy="447.35" r="2.10" fill="#b9b9b9"/><circle cx="95.03" cy="453.81" r="2.10" fill="#b9b9b9"/><circle cx="101.49" cy="453.81" r="1.30" fill="#d6d6d6"/><circle cx="107.95" cy="453.81" r="1.20" fill="#c2c2c2"/><circle cx="114.41" cy="453.81" r="0.80" fill="#c4c4c4"/><circle cx="120.87" cy="453.81" r="2.10" fill="#b9b9b9"/><circle cx="127.33" cy="453.81" r="2.55" fill="#acacac"/><circle cx="133.79" cy="453.81" r="1.20" fill="#c2c2c2"/><circle cx="140.25" cy="453.81" r="1.20" fill="#c2c2c2"/><circle cx="146.71" cy="453.81" r="1.30" fill="#d6d6d6"/><circle cx="153.17" cy="453.81" r="3.05" fill="#a5172c"/><rect x="151.92" y="453.36" width="2.5" height="0.9" fill="#fff" opacity="0.6"/><circle cx="159.63" cy="453.81" r="0.80" fill="#c4c4c4"/><circle cx="166.09" cy="453.81" r="2.10" fill="#d8d8d8"/><circle cx="172.55" cy="453.81" r="3.05" fill="#2b6db3"/><rect x="171.30" y="453.36" width="2.5" height="0.9" fill="#fff" opacity="0.6"/><circle cx="179.01" cy="453.81" r="2.10" fill="#d8d8d8"/><circle cx="185.47" cy="453.81" r="2.10" fill="#d8d8d8"/><circle cx="191.93" cy="453.81" r="2.10" fill="#d8d8d8"/><circle cx="198.39" cy="453.81" r="3.05" fill="#2b6db3"/><rect x="197.14" y="453.36" width="2.5" height="0.9" fill="#fff" opacity="0.6"/><circle cx="204.85" cy="453.81" r="3.05" fill="#2b6db3"/><rect x="203.60" y="453.36" width="2.5" height="0.9" fill="#fff" opacity="0.6"/><circle cx="211.31" cy="453.81" r="1.20" fill="#c2c2c2"/><circle cx="217.77" cy="453.81" r="1.30" fill="#d6d6d6"/><circle cx="224.23" cy="453.81" r="3.05" fill="#d4473a"/><rect x="222.98" y="453.36" width="2.5" height="0.9" fill="#fff" opacity="0.6"/><circle cx="230.69" cy="453.81" r="1.20" fill="#c2c2c2"/><circle cx="237.15" cy="453.81" r="2.10" fill="#b9b9b9"/><circle cx="243.61" cy="453.81" r="2.10" fill="#b9b9b9"/><circle cx="250.07" cy="453.81" r="1.30" fill="#d6d6d6"/><circle cx="95.03" cy="460.27" r="1.30" fill="#d6d6d6"/><circle cx="101.49" cy="460.27" r="3.05" fill="#1d4e8f"/><rect x="100.24" y="459.82" width="2.5" height="0.9" fill="#fff" opacity="0.6"/><circle cx="107.95" cy="460.27" r="1.30" fill="#d6d6d6"/><circle cx="114.41" cy="460.27" r="1.30" fill="#d6d6d6"/><circle cx="120.87" cy="460.27" r="1.20" fill="#c2c2c2"/><circle cx="127.33" cy="460.27" r="1.20" fill="#c2c2c2"/><circle cx="133.79" cy="460.27" r="1.30" fill="#d6d6d6"/><circle cx="140.25" cy="460.27" r="1.30" fill="#d6d6d6"/><circle cx="146.71" cy="460.27" r="1.30" fill="#d6d6d6"/><circle cx="153.17" cy="460.27" r="1.20" fill="#c2c2c2"/><circle cx="159.63" cy="460.27" r="2.10" fill="#b9b9b9"/><circle cx="166.09" cy="460.27" r="1.20" fill="#c2c2c2"/><circle cx="172.55" cy="460.27" r="1.30" fill="#d6d6d6"/><circle cx="179.01" cy="460.27" r="2.10" fill="#b9b9b9"/><circle cx="185.47" cy="460.27" r="1.20" fill="#c2c2c2"/><circle cx="191.93" cy="460.27" r="1.30" fill="#d6d6d6"/><circle cx="198.39" cy="460.27" r="1.30" fill="#d6d6d6"/><circle cx="204.85" cy="460.27" r="1.20" fill="#c2c2c2"/><circle cx="211.31" cy="460.27" r="2.10" fill="#b9b9b9"/><circle cx="217.77" cy="460.27" r="1.20" fill="#c2c2c2"/><circle cx="224.23" cy="460.27" r="1.20" fill="#c2c2c2"/><circle cx="230.69" cy="460.27" r="2.10" fill="#b9b9b9"/><circle cx="237.15" cy="460.27" r="2.10" fill="#b9b9b9"/><circle cx="243.61" cy="460.27" r="3.05" fill="#c9242f"/><rect x="242.36" y="459.82" width="2.5" height="0.9" fill="#fff" opacity="0.6"/><circle cx="250.07" cy="460.27" r="3.05" fill="#a5172c"/><rect x="248.82" y="459.82" width="2.5" height="0.9" fill="#fff" opacity="0.6"/><rect x="255.8" y="313.5" width="10.4" height="3.6" fill="#99c5df" stroke="#6a8fa8" stroke-width="0.5"/><rect x="255.8" y="319.8" width="10.4" height="3.6" fill="#2f73b3" stroke="#1f4f80" stroke-width="0.5"/><text x="268.8" y="317.2" font-size="5.2" fill="#333">BM</text><text x="268.8" y="323.5" font-size="5.2" fill="#333">PB</text><defs><linearGradient id="cg" x1="0" y1="0" x2="0" y2="1"><stop offset="0" stop-color="#67001f"/><stop offset="0.1" stop-color="#b2182b"/><stop offset="0.2" stop-color="#d6604d"/><stop offset="0.3" stop-color="#f4a582"/><stop offset="0.4" stop-color="#fddbc7"/><stop offset="0.5" stop-color="#f7f7f7"/><stop offset="0.6" stop-color="#d1e5f0"/><stop offset="0.7" stop-color="#92c5de"/><stop offset="0.8" stop-color="#4393c3"/><stop offset="0.9" stop-color="#2166ac"/><stop offset="1" stop-color="#053061"/></linearGradient><linearGradient id="gg" x1="0" y1="0" x2="0" y2="1"><stop offset="0" stop-color="#c9c9c9"/><stop offset="0.5" stop-color="#f4f4f4"/><stop offset="1" stop-color="#fbfbfb"/></linearGradient></defs><rect x="256" y="326.4" width="5.4" height="136.8" fill="url(#gg)"/><rect x="261.4" y="326.4" width="4.9" height="136.8" fill="url(#cg)"/><path d="M257.2,326.4V463.2 M260.8,326.4V463.2" stroke="#9a9a9a" stroke-width="0.6"/><rect x="256" y="326.4" width="10.5" height="136.8" fill="none" stroke="#222" stroke-width="0.9"/><path d="M266.5,326.40 H269.2" stroke="#222" stroke-width="0.7"/><text x="270.6" y="328.30" font-size="5.4" fill="#333">1</text><path d="M266.5,340.08 H269.2" stroke="#222" stroke-width="0.7"/><text x="270.6" y="341.98" font-size="5.4" fill="#333">0.8</text><path d="M266.5,353.76 H269.2" stroke="#222" stroke-width="0.7"/><text x="270.6" y="355.66" font-size="5.4" fill="#333">0.6</text><path d="M266.5,367.44 H269.2" stroke="#222" stroke-width="0.7"/><text x="270.6" y="369.34" font-size="5.4" fill="#333">0.4</text><path d="M266.5,381.12 H269.2" stroke="#222" stroke-width="0.7"/><text x="270.6" y="383.02" font-size="5.4" fill="#333">0.2</text><path d="M266.5,394.80 H269.2" stroke="#222" stroke-width="0.7"/><text x="270.6" y="396.70" font-size="5.4" fill="#333">0</text><path d="M266.5,408.48 H269.2" stroke="#222" stroke-width="0.7"/><text x="270.6" y="410.38" font-size="5.4" fill="#333">−0.2</text><path d="M266.5,422.16 H269.2" stroke="#222" stroke-width="0.7"/><text x="270.6" y="424.06" font-size="5.4" fill="#333">−0.4</text><path d="M266.5,435.84 H269.2" stroke="#222" stroke-width="0.7"/><text x="270.6" y="437.74" font-size="5.4" fill="#333">−0.6</text><path d="M266.5,449.52 H269.2" stroke="#222" stroke-width="0.7"/><text x="270.6" y="451.42" font-size="5.4" fill="#333">−0.8</text><path d="M266.5,463.20 H269.2" stroke="#222" stroke-width="0.7"/><text x="270.6" y="465.10" font-size="5.4" fill="#333">−1</text><text x="314.6" y="298.9" font-size="10.8" font-weight="bold" fill="#111">D</text><path d="M421.32,298.00 V446.20" stroke="#9a9a9a" stroke-width="0.6" stroke-dasharray="1.4 1.1"/><path d="M421.32,446.20 V448.60" stroke="#222" stroke-width="0.7"/><text x="421.32" y="455.00" font-size="5.6" text-anchor="middle" fill="#333">−1</text><path d="M436.30,298.00 V446.20" stroke="#9a9a9a" stroke-width="0.6" stroke-dasharray="1.4 1.1"/><path d="M436.30,446.20 V448.60" stroke="#222" stroke-width="0.7"/><text x="436.30" y="455.00" font-size="5.6" text-anchor="middle" fill="#333">0</text><path d="M451.28,298.00 V446.20" stroke="#9a9a9a" stroke-width="0.6" stroke-dasharray="1.4 1.1"/><path d="M451.28,446.20 V448.60" stroke="#222" stroke-width="0.7"/><text x="451.28" y="455.00" font-size="5.6" text-anchor="middle" fill="#333">1</text><path d="M466.26,298.00 V446.20" stroke="#9a9a9a" stroke-width="0.6" stroke-dasharray="1.4 1.1"/><path d="M466.26,446.20 V448.60" stroke="#222" stroke-width="0.7"/><text x="466.26" y="455.00" font-size="5.6" text-anchor="middle" fill="#333">2</text><path d="M481.24,298.00 V446.20" stroke="#9a9a9a" stroke-width="0.6" stroke-dasharray="1.4 1.1"/><path d="M481.24,446.20 V448.60" stroke="#222" stroke-width="0.7"/><text x="481.24" y="455.00" font-size="5.6" text-anchor="middle" fill="#333">3</text><rect x="412.60" y="298.00" width="70.40" height="148.20" fill="none" stroke="#222" stroke-width="0.9"/><path d="M410.2,300.90 H412.60" stroke="#222" stroke-width="0.6"/><text x="407.60" y="302.75" font-size="5.20" text-anchor="end" fill="#2b2b2b">TCD4<tspan dy="-1.98" font-size="3.22">+</tspan><tspan dy="1.98"> EM CCR4</tspan><tspan dy="-1.98" font-size="3.22">+</tspan><tspan dy="1.98"> CXCR3</tspan><tspan dy="-1.98" font-size="3.22">+</tspan><tspan dy="1.98"></tspan></text><path d="M433.40,300.90 H435.30" stroke="#86d086" stroke-width="1.1"/><circle cx="433.40" cy="300.90" r="1.75" fill="#1fa8e6"/><circle cx="435.30" cy="300.90" r="1.8" fill="#0b2d66"/><path d="M410.2,306.82 H412.60" stroke="#222" stroke-width="0.6"/><text x="407.60" y="308.68" font-size="5.20" text-anchor="end" fill="#2b2b2b">TCD8<tspan dy="-1.98" font-size="3.22">+</tspan><tspan dy="1.98"> CM CCR4</tspan><tspan dy="-1.98" font-size="3.22">+</tspan><tspan dy="1.98"> CD27</tspan><tspan dy="-1.98" font-size="3.22">+</tspan><tspan dy="1.98"></tspan></text><path d="M415.60,306.82 H423.30" stroke="#86d086" stroke-width="1.1"/><circle cx="415.60" cy="306.82" r="1.75" fill="#1fa8e6"/><circle cx="423.30" cy="306.82" r="1.8" fill="#0b2d66"/><path d="M410.2,312.75 H412.60" stroke="#222" stroke-width="0.6"/><text x="407.60" y="314.60" font-size="5.20" text-anchor="end" fill="#2b2b2b">TCD4<tspan dy="-1.98" font-size="3.22">+</tspan><tspan dy="1.98"> CM Th17</tspan></text><path d="M439.10,312.75 H450.60" stroke="#dd5a72" stroke-width="1.1"/><circle cx="439.10" cy="312.75" r="1.75" fill="#1fa8e6"/><circle cx="450.60" cy="312.75" r="1.8" fill="#0b2d66"/><path d="M410.2,318.67 H412.60" stroke="#222" stroke-width="0.6"/><text x="407.60" y="320.52" font-size="5.20" text-anchor="end" fill="#2b2b2b">TCD4<tspan dy="-1.98" font-size="3.22">+</tspan><tspan dy="1.98"> EM Th1</tspan></text><circle cx="450.30" cy="318.67" r="1.75" fill="#1fa8e6"/><circle cx="450.60" cy="318.67" r="1.8" fill="#0b2d66"/><path d="M410.2,324.60 H412.60" stroke="#222" stroke-width="0.6"/><text x="407.60" y="326.45" font-size="5.20" text-anchor="end" fill="#2b2b2b">TCD4<tspan dy="-1.98" font-size="3.22">+</tspan><tspan dy="1.98"> EM Th1/17</tspan></text><circle cx="428.60" cy="324.60" r="1.75" fill="#1fa8e6"/><circle cx="429.60" cy="324.60" r="1.8" fill="#0b2d66"/><path d="M410.2,330.52 H412.60" stroke="#222" stroke-width="0.6"/><text x="407.60" y="332.38" font-size="5.20" text-anchor="end" fill="#2b2b2b">TCD8<tspan dy="-1.98" font-size="3.22">+</tspan><tspan dy="1.98"> EM CXCR3</tspan><tspan dy="-1.98" font-size="3.22">+</tspan><tspan dy="1.98"></tspan></text><path d="M452.50,330.52 H457.30" stroke="#86d086" stroke-width="1.1"/><circle cx="452.50" cy="330.52" r="1.75" fill="#1fa8e6"/><circle cx="457.30" cy="330.52" r="1.8" fill="#0b2d66"/><path d="M410.2,336.45 H412.60" stroke="#222" stroke-width="0.6"/><text x="407.60" y="338.30" font-size="5.20" text-anchor="end" fill="#2b2b2b">TDP CD4<tspan dy="-1.98" font-size="3.22">+</tspan><tspan dy="1.98"> CD8</tspan><tspan dy="-1.98" font-size="3.22">+</tspan><tspan dy="1.98"></tspan></text><circle cx="439.50" cy="336.45" r="1.75" fill="#1fa8e6"/><circle cx="439.70" cy="336.45" r="1.8" fill="#0b2d66"/><path d="M410.2,342.38 H412.60" stroke="#222" stroke-width="0.6"/><text x="407.60" y="344.23" font-size="5.20" text-anchor="end" fill="#2b2b2b">TCD8+ EM CCR6<tspan dy="-1.98" font-size="3.22">+</tspan><tspan dy="1.98"> CXCR3</tspan><tspan dy="-1.98" font-size="3.22">+</tspan><tspan dy="1.98"> CD27</tspan><tspan dy="-1.98" font-size="3.22">+</tspan><tspan dy="1.98"></tspan></text><path d="M438.20,342.38 H430.90" stroke="#86d086" stroke-width="1.1"/><circle cx="438.20" cy="342.38" r="1.75" fill="#1fa8e6"/><circle cx="430.90" cy="342.38" r="1.8" fill="#0b2d66"/><path d="M410.2,348.30 H412.60" stroke="#222" stroke-width="0.6"/><text x="407.60" y="350.15" font-size="5.20" text-anchor="end" fill="#2b2b2b">TCD4<tspan dy="-1.98" font-size="3.22">+</tspan><tspan dy="1.98"> CM Th1</tspan></text><path d="M451.50,348.30 H446.20" stroke="#86d086" stroke-width="1.1"/><circle cx="451.50" cy="348.30" r="1.75" fill="#1fa8e6"/><circle cx="446.20" cy="348.30" r="1.8" fill="#0b2d66"/><path d="M410.2,354.22 H412.60" stroke="#222" stroke-width="0.6"/><text x="407.60" y="356.07" font-size="5.20" text-anchor="end" fill="#2b2b2b">TCD4<tspan dy="-1.98" font-size="3.22">+</tspan><tspan dy="1.98"> CM CCR4</tspan><tspan dy="-1.98" font-size="3.22">+</tspan><tspan dy="1.98"> CXCR3</tspan><tspan dy="-1.98" font-size="3.22">+</tspan><tspan dy="1.98"></tspan></text><path d="M453.00,354.22 H459.50" stroke="#dd5a72" stroke-width="1.1"/><circle cx="453.00" cy="354.22" r="1.75" fill="#1fa8e6"/><circle cx="459.50" cy="354.22" r="1.8" fill="#0b2d66"/><path d="M410.2,360.15 H412.60" stroke="#222" stroke-width="0.6"/><text x="407.60" y="362.00" font-size="5.20" text-anchor="end" fill="#2b2b2b">TCD8<tspan dy="-1.98" font-size="3.22">+</tspan><tspan dy="1.98"> naive</tspan></text><circle cx="457.40" cy="360.15" r="1.75" fill="#1fa8e6"/><circle cx="457.60" cy="360.15" r="1.8" fill="#0b2d66"/><path d="M410.2,366.07 H412.60" stroke="#222" stroke-width="0.6"/><text x="407.60" y="367.93" font-size="5.20" text-anchor="end" fill="#2b2b2b">NK CD8<tspan dy="-1.98" font-size="3.22">+</tspan><tspan dy="1.98"></tspan></text><circle cx="460.50" cy="366.07" r="1.75" fill="#1fa8e6"/><circle cx="460.70" cy="366.07" r="1.8" fill="#0b2d66"/><path d="M410.2,372.00 H412.60" stroke="#222" stroke-width="0.6"/><text x="407.60" y="373.85" font-size="5.20" text-anchor="end" fill="#2b2b2b">TCD8<tspan dy="-1.98" font-size="3.22">+</tspan><tspan dy="1.98"> EM CCR4</tspan><tspan dy="-1.98" font-size="3.22">+</tspan><tspan dy="1.98"> CXCR3</tspan><tspan dy="-1.98" font-size="3.22">+</tspan><tspan dy="1.98"> CD27</tspan><tspan dy="-1.98" font-size="3.22">+</tspan><tspan dy="1.98"></tspan></text><path d="M450.20,372.00 H444.80" stroke="#86d086" stroke-width="1.1"/><circle cx="450.20" cy="372.00" r="1.75" fill="#1fa8e6"/><circle cx="444.80" cy="372.00" r="1.8" fill="#0b2d66"/><path d="M410.2,377.92 H412.60" stroke="#222" stroke-width="0.6"/><text x="407.60" y="379.77" font-size="5.20" text-anchor="end" fill="#2b2b2b">TCD4<tspan dy="-1.98" font-size="3.22">+</tspan><tspan dy="1.98"> CM Th1/17</tspan></text><path d="M453.60,377.92 H458.30" stroke="#86d086" stroke-width="1.1"/><circle cx="453.60" cy="377.92" r="1.75" fill="#1fa8e6"/><circle cx="458.30" cy="377.92" r="1.8" fill="#0b2d66"/><path d="M410.2,383.85 H412.60" stroke="#222" stroke-width="0.6"/><text x="407.60" y="385.70" font-size="5.20" text-anchor="end" fill="#2b2b2b">TCD4<tspan dy="-1.98" font-size="3.22">+</tspan><tspan dy="1.98"> SCM CXCR3</tspan><tspan dy="-1.98" font-size="3.22">+</tspan><tspan dy="1.98"></tspan></text><circle cx="447.50" cy="383.85" r="1.75" fill="#1fa8e6"/><circle cx="447.70" cy="383.85" r="1.8" fill="#0b2d66"/><path d="M410.2,389.77 H412.60" stroke="#222" stroke-width="0.6"/><text x="407.60" y="391.62" font-size="5.20" text-anchor="end" fill="#2b2b2b">TCD4<tspan dy="-1.98" font-size="3.22">+</tspan><tspan dy="1.98"> CM CCR6</tspan><tspan dy="-1.98" font-size="3.22">+</tspan><tspan dy="1.98"></tspan></text><path d="M446.20,389.77 H451.90" stroke="#dd5a72" stroke-width="1.1"/><circle cx="446.20" cy="389.77" r="1.75" fill="#1fa8e6"/><circle cx="451.90" cy="389.77" r="1.8" fill="#0b2d66"/><path d="M410.2,395.70 H412.60" stroke="#222" stroke-width="0.6"/><text x="407.60" y="397.55" font-size="5.20" text-anchor="end" fill="#2b2b2b">TCD4<tspan dy="-1.98" font-size="3.22">+</tspan><tspan dy="1.98"> CM</tspan></text><path d="M462.70,395.70 H458.90" stroke="#86d086" stroke-width="1.1"/><circle cx="462.70" cy="395.70" r="1.75" fill="#1fa8e6"/><circle cx="458.90" cy="395.70" r="1.8" fill="#0b2d66"/><path d="M410.2,401.62 H412.60" stroke="#222" stroke-width="0.6"/><text x="407.60" y="403.48" font-size="5.20" text-anchor="end" fill="#2b2b2b">TCD8<tspan dy="-1.98" font-size="3.22">+</tspan><tspan dy="1.98"> TEMRA</tspan></text><path d="M466.50,401.62 H469.90" stroke="#86d086" stroke-width="1.1"/><circle cx="466.50" cy="401.62" r="1.75" fill="#1fa8e6"/><circle cx="469.90" cy="401.62" r="1.8" fill="#0b2d66"/><path d="M410.2,407.55 H412.60" stroke="#222" stroke-width="0.6"/><text x="407.60" y="409.40" font-size="5.20" text-anchor="end" fill="#2b2b2b">TCD4<tspan dy="-1.98" font-size="3.22">+</tspan><tspan dy="1.98"> SCM CCR4</tspan><tspan dy="-1.98" font-size="3.22">+</tspan><tspan dy="1.98"></tspan></text><path d="M445.10,407.55 H456.80" stroke="#dd5a72" stroke-width="1.1"/><circle cx="445.10" cy="407.55" r="1.75" fill="#1fa8e6"/><circle cx="456.80" cy="407.55" r="1.8" fill="#0b2d66"/><path d="M410.2,413.47 H412.60" stroke="#222" stroke-width="0.6"/><text x="407.60" y="415.32" font-size="5.20" text-anchor="end" fill="#2b2b2b">TCD4<tspan dy="-1.98" font-size="3.22">+</tspan><tspan dy="1.98"> CM Th2</tspan></text><path d="M451.30,413.47 H455.10" stroke="#86d086" stroke-width="1.1"/><circle cx="451.30" cy="413.47" r="1.75" fill="#1fa8e6"/><circle cx="455.10" cy="413.47" r="1.8" fill="#0b2d66"/><path d="M410.2,419.40 H412.60" stroke="#222" stroke-width="0.6"/><text x="407.60" y="421.25" font-size="5.20" text-anchor="end" fill="#2b2b2b">TCD8<tspan dy="-1.98" font-size="3.22">+</tspan><tspan dy="1.98"> EM CXCR3</tspan><tspan dy="-1.98" font-size="3.22">+</tspan><tspan dy="1.98"> CD27</tspan><tspan dy="-1.98" font-size="3.22">+</tspan><tspan dy="1.98"></tspan></text><path d="M458.90,419.40 H455.50" stroke="#86d086" stroke-width="1.1"/><circle cx="458.90" cy="419.40" r="1.75" fill="#1fa8e6"/><circle cx="455.50" cy="419.40" r="1.8" fill="#0b2d66"/><path d="M410.2,425.32 H412.60" stroke="#222" stroke-width="0.6"/><text x="407.60" y="427.18" font-size="5.20" text-anchor="end" fill="#2b2b2b">NK cells</text><path d="M480.50,425.32 H473.70" stroke="#dd5a72" stroke-width="1.1"/><circle cx="480.50" cy="425.32" r="1.75" fill="#1fa8e6"/><circle cx="473.70" cy="425.32" r="1.8" fill="#0b2d66"/><path d="M410.2,431.25 H412.60" stroke="#222" stroke-width="0.6"/><text x="407.60" y="433.10" font-size="5.20" text-anchor="end" fill="#2b2b2b">B cells</text><path d="M469.30,431.25 H465.70" stroke="#86d086" stroke-width="1.1"/><circle cx="469.30" cy="431.25" r="1.75" fill="#1fa8e6"/><circle cx="465.70" cy="431.25" r="1.8" fill="#0b2d66"/><path d="M410.2,437.17 H412.60" stroke="#222" stroke-width="0.6"/><text x="407.60" y="439.02" font-size="5.20" text-anchor="end" fill="#2b2b2b">TCD4<tspan dy="-1.98" font-size="3.22">+</tspan><tspan dy="1.98"> naive</tspan></text><path d="M472.70,437.17 H475.60" stroke="#86d086" stroke-width="1.1"/><circle cx="472.70" cy="437.17" r="1.75" fill="#1fa8e6"/><circle cx="475.60" cy="437.17" r="1.8" fill="#0b2d66"/><path d="M410.2,443.10 H412.60" stroke="#222" stroke-width="0.6"/><text x="407.60" y="444.95" font-size="5.20" text-anchor="end" fill="#2b2b2b">TCD8<tspan dy="-1.98" font-size="3.22">+</tspan><tspan dy="1.98"> EM CXCR3</tspan><tspan dy="-1.98" font-size="3.22">+</tspan><tspan dy="1.98"> CD27</tspan><tspan dy="-1.98" font-size="3.22">+</tspan><tspan dy="1.98"></tspan></text><path d="M456.10,443.10 H453.60" stroke="#86d086" stroke-width="1.1"/><circle cx="456.10" cy="443.10" r="1.75" fill="#1fa8e6"/><circle cx="453.60" cy="443.10" r="1.8" fill="#0b2d66"/><text transform="translate(447.6,465.0) scale(0.695,1)" font-size="6.6" font-weight="bold" text-anchor="middle" fill="#333">Population % (log-transformed)</text><path d="M487.2,420 H492.5" stroke="#86d086" stroke-width="1.1"/><path d="M487.2,426.1 H492.5" stroke="#dd5a72" stroke-width="1.1"/><text x="493.6" y="421.9" font-size="5.2" fill="#333"><tspan font-style="italic">P</tspan> &gt; 0.05</text><text x="493.6" y="428" font-size="5.2" fill="#333"><tspan font-style="italic">P</tspan> ≤ 0.05</text><circle cx="490.2" cy="435.8" r="1.75" fill="#1fa8e6"/><circle cx="490.2" cy="443.2" r="1.8" fill="#0b2d66"/><text x="495" y="437.7" font-size="5.2" fill="#333">BM</text><text x="495" y="445.1" font-size="5.2" fill="#333">PB</text>
<g fill="#1a1416"><rect x="0" y="0" width="520" height="1.1"/><rect x="0" y="0" width="1.15" height="472"/><rect x="518.6" y="0" width="1.4" height="472"/><rect x="0" y="470.6" width="520" height="1.4"/></g>
</svg></div></body></html>
